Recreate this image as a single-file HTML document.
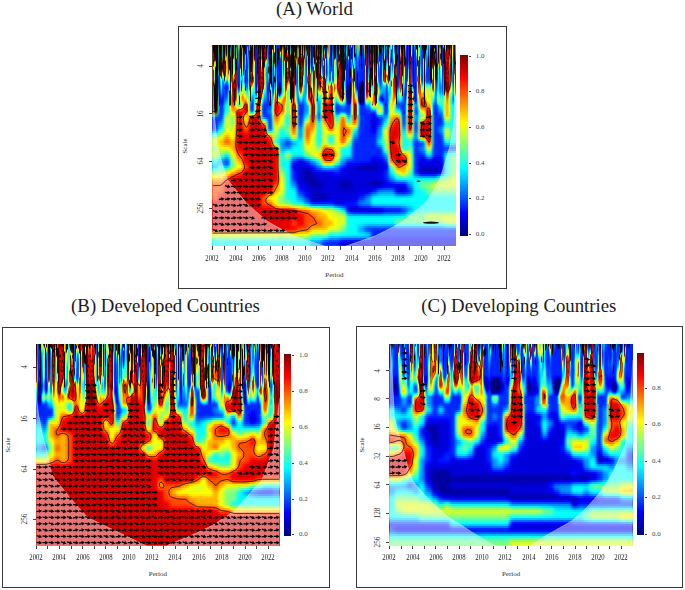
<!DOCTYPE html><html><head><meta charset="utf-8"><style>
*{margin:0;padding:0}
html,body{width:685px;height:590px;background:#fff;overflow:hidden;position:relative;font-family:"Liberation Serif",serif}
.box{position:absolute;border:1.4px solid #3a3a3a;box-sizing:border-box}
.title{position:absolute;width:300px;text-align:center;font-size:18.8px;line-height:20px;color:#1c1c1c;white-space:nowrap}
.hm{position:absolute;overflow:hidden;filter:blur(0.35px)}
.tb{position:absolute;left:0;top:0;width:100%;display:flex}
.tb b{flex:1;background:linear-gradient(var(--g));margin-right:-0.3px}
.rw{position:absolute;left:0;right:0;bottom:0;display:flex;flex-direction:column}
.rw i{flex:1;display:block;background:linear-gradient(90deg,var(--g));margin-bottom:-0.4px}
.cb{position:absolute}
.tk{position:absolute;background:#444}
.cbl{position:absolute;font-size:7px;line-height:9px;color:#444}
.yl{position:absolute;width:20px;height:10px;text-align:center;font-size:7.2px;line-height:10px;color:#333;transform:rotate(-90deg)}
.xl{position:absolute;width:30px;text-align:center;font-size:8.4px;line-height:10px;color:#222;transform:scaleX(0.8)}
.axl{position:absolute;width:40px;text-align:center;font-size:7px;line-height:9px;color:#333}
.yax{position:absolute;width:40px;height:10px;text-align:center;font-size:7px;line-height:10px;color:#333;transform:rotate(-90deg)}
svg{position:absolute;left:0;top:0}
</style></head><body>
<svg width="0" height="0" style="position:absolute"><defs><g id="ar"><path d="M-2.8,0 L0.4,0" stroke="#000" stroke-width="1.3"/><path d="M-0.2,-1.9 L3,0 L-0.2,1.9Z" fill="#000"/></g><use id="ar0" href="#ar" transform="rotate(-10)"/><use id="ar1" href="#ar" transform="rotate(0)"/><use id="ar2" href="#ar" transform="rotate(8)"/><use id="ar3" href="#ar" transform="rotate(18)"/></defs></svg>
<div class="box" style="left:177.8px;top:26.3px;width:329.4px;height:262.4px"></div>
<div class="title" style="left:164.4px;top:-1.2px">(A) World</div>
<div class="hm" style="left:212.4px;top:44.8px;width:244.0px;height:201.4px">
<div class="tb" style="height:70.1px"><b style="--g:#100,#300 16px,#800 33px,#800 36px,#900 37px,#300 40px,#100 42px,#100 64px,#200 66px,#300 67px,#530 68px,#770 69px,#594"></b><b style="--g:#001,#011 7px,#153 10px,#043 13px,#022 14px,#011 15px,#011 19px,#055 21px,#2fd 22px,#4fb 24px,#254 25px,#121 26px,#111 27px,#110 35px,#100 42px,#100 63px,#200 66px,#300 67px,#530 68px,#770 69px,#594"></b><b style="--g:#100,#300 12px,#410 14px,#420 16px,#ea0 17px,#ee0 19px,#df1 21px,#8f7 29px,#5f9 34px,#6e8 35px,#890 38px,#430 40px,#310 41px,#110 43px,#100 63px,#200 66px,#300 67px,#530 68px,#770 69px,#594"></b><b style="--g:#110,#110 9px,#110 14px,#263 16px,#4ea 17px,#3fc 21px,#175 22px,#033 23px,#011 25px,#011 36px,#110 40px,#100 64px,#200 66px,#310 67px,#530 68px,#770 69px,#495"></b><b style="--g:#011,#001 31px,#014 34px,#001 36px,#011 39px,#110 42px,#110 46px,#210 47px,#200 55px,#200 65px,#420 67px,#540 68px,#672 69px,#396"></b><b style="--g:#001,#001 35px,#011 39px,#110 53px,#320 54px,#210 55px,#530 56px,#430 57px,#540 58px,#550 65px,#650 66px,#661 67px,#583 68px,#0ba"></b><b style="--g:#451,#682 3px,#099 10px,#165 22px,#176 23px,#099 25px,#0bc 27px,#0be 28px,#08f 30px,#04f 33px,#03e 37px,#05b 42px,#0bb 53px,#3b8 61px,#2b9 65px,#0bc 68px,#08d"></b><b style="--g:#001,#001 29px,#015 30px,#04f 31px,#03f 32px,#01e 40px,#00e 47px,#005 48px,#001 49px,#001 59px,#012 60px,#07e 61px,#07e 66px,#04f"></b><b style="--g:#100,#400 16px,#200 22px,#500 25px,#700 28px,#710 30px,#730 31px,#fc0 32px,#cf3 33px,#6f9 34px,#2fd 35px,#0ef 36px,#0cf 38px,#02f 52px,#00f 55px,#01f 58px,#03f 61px,#03f"></b><b style="--g:#100,#320 10px,#400 16px,#200 22px,#500 25px,#700 30px,#710 31px,#840 33px,#fb0 34px,#ff0 35px,#4fb 41px,#0ef 44px,#05f 51px,#01f 56px,#01f 58px,#03f 61px,#03f"></b><b style="--g:#594,#495 4px,#0aa 8px,#0aa 10px,#0aa 11px,#374 14px,#451 16px,#440 18px,#320 22px,#430 23px,#970 26px,#db0 28px,#ee0 29px,#df2 30px,#0ff 33px,#0af 35px,#09f 36px,#06f 46px,#01f 55px,#01f 58px,#04f 61px,#05f"></b><b style="--g:#100,#100 11px,#100 12px,#410 13px,#500 22px,#610 27px,#740 30px,#fd0 31px,#cf3 32px,#2fd 34px,#0ef 35px,#09f 37px,#05f 41px,#02f 53px,#03f 57px,#07f 61px,#07f 66px,#09f"></b><b style="--g:#100,#300 15px,#900 16px,#900 17px,#400 18px,#900 19px,#900 23px,#c00 27px,#400 28px,#200 29px,#110 34px,#231 35px,#263 36px,#1fe 37px,#09f 39px,#07f 40px,#04f 42px,#04f 44px,#05f 54px,#0bf 61px,#0bf 66px,#0ef 69px,#1fe"></b><b style="--g:#04a,#06a 5px,#08b 7px,#0bb 9px,#4c8 11px,#ad2 13px,#dc0 14px,#da0 15px,#420 16px,#510 21px,#610 26px,#720 29px,#740 31px,#fb0 32px,#fe0 33px,#df2 34px,#2fd 36px,#0cf 37px,#08f 38px,#04f 40px,#02f 42px,#01f 44px,#05f 53px,#0df 61px,#0ff 66px,#0ff 67px,#5fa"></b><b style="--g:#110,#110 9px,#550 11px,#cc1 12px,#dd0 15px,#fb0 22px,#fd0 26px,#ff0 29px,#8f7 33px,#2fd 35px,#0cf 36px,#09f 37px,#04f 39px,#02f 41px,#01f 43px,#01f 45px,#07f 53px,#0ef 60px,#0ff 65px,#2fd 67px,#7f8"></b><b style="--g:#385,#2a8 3px,#0cb 9px,#0ce 16px,#0ef 20px,#4fb 29px,#3fc 32px,#1fd 34px,#0ef 35px,#09f 37px,#05f 39px,#03f 41px,#02f 43px,#0af 54px,#0ff 59px,#2fd 66px,#8f7"></b><b style="--g:#100,#400 15px,#750 29px,#fb0 30px,#fe0 34px,#df2 35px,#1fe 38px,#0cf 39px,#0af 40px,#07f 42px,#08f 44px,#0df 49px,#0ff 54px,#3fc 59px,#3fc 66px,#8f7"></b><b style="--g:#100,#410 13px,#100 14px,#110 24px,#540 25px,#fc0 26px,#ff0 33px,#df2 35px,#3fc 39px,#1fe 40px,#0ff 41px,#0ef 42px,#0ff 44px,#1fe 45px,#022 46px,#011 47px,#111 60px,#8f7 61px,#8f7 66px,#9f5"></b><b style="--g:#011,#035 2px,#06a 3px,#099 7px,#396 9px,#396 10px,#011 13px,#011 23px,#011 36px,#011 41px,#132 45px,#111 46px,#110 59px,#220 60px,#fe0 61px,#ff0 63px,#bf4"></b><b style="--g:#06a,#038 10px,#02e 17px,#03f 28px,#04f 32px,#06f 35px,#08f 36px,#0ef 38px,#2fd 39px,#9f6 41px,#bf4 42px,#ef1 44px,#ff0 46px,#fb0 50px,#d90 51px,#f70 55px,#f60 58px,#fb0 64px,#ff0 68px,#cf3"></b><b style="--g:#100,#200 10px,#100 11px,#110 29px,#540 30px,#750 31px,#840 34px,#a00 41px,#d30 50px,#f30 51px,#f20 56px,#f40 59px,#f60 61px,#fb0 66px,#fe0 68px,#ef1 69px,#df2"></b><b style="--g:#110,#310 10px,#420 13px,#c90 14px,#dd0 15px,#ae5 17px,#6f8 19px,#4fb 21px,#3fc 22px,#5fa 24px,#ff0 29px,#f30 36px,#910 37px,#900 39px,#f00 40px,#f00 43px,#f30 48px,#f30 58px,#fa0 66px,#ff0 69px,#df2"></b><b style="--g:#0aa,#2a8 4px,#584 8px,#682 10px,#6a3 12px,#5e9 16px,#4fb 21px,#5fa 23px,#ef1 27px,#fd0 28px,#fb0 29px,#740 30px,#740 31px,#f60 32px,#f10 36px,#f00 38px,#d00 42px,#600 43px,#400 45px,#100 46px,#100 59px,#110 60px,#f80 61px,#fa0 66px,#ff0"></b><b style="--g:#100,#200 6px,#100 7px,#100 23px,#500 27px,#500 29px,#c00 30px,#c00 32px,#600 33px,#c00 34px,#c00 37px,#a00 41px,#a00 43px,#f00 50px,#f20 54px,#fb0 60px,#fc0 61px,#f80 66px,#f80 68px,#fa0"></b><b style="--g:#143,#264 2px,#4a6 4px,#8b3 9px,#bb0 11px,#d90 13px,#420 14px,#410 17px,#100 18px,#100 23px,#100 24px,#620 26px,#a30 40px,#c60 48px,#e60 53px,#f80 55px,#ff0 58px,#ef1 59px,#cf3 60px,#df2 61px,#ff0 62px,#f70 65px,#f40 67px,#f50"></b><b style="--g:#08a,#03b 6px,#02c 9px,#03f 17px,#03f 37px,#04f 39px,#06f 41px,#0df 45px,#0ff 46px,#cf3 51px,#ff0 53px,#ff0 55px,#8f7 59px,#8f7 60px,#9f6 61px,#cf3 62px,#ff0 63px,#f70 65px,#f20 67px,#f10 68px,#f00"></b><b style="--g:#8b2,#7b4 3px,#4b7 5px,#1bb 7px,#0ac 8px,#08c 10px,#08f 16px,#05f 20px,#03f 24px,#02f 36px,#00f 40px,#01f 42px,#03f 44px,#07f 46px,#0cf 48px,#0ff 49px,#8f7 52px,#bf4 54px,#af5 56px,#5fa 59px,#5f9 60px,#7f8 61px,#af5 62px,#ff0 63px,#f60 65px,#f30 66px,#f00 67px,#d00"></b><b style="--g:#2b9,#0ba 2px,#05b 6px,#03c 9px,#03f 17px,#02f 39px,#03f 41px,#05f 43px,#08f 45px,#0ff 48px,#4fb 50px,#242 51px,#121 52px,#110 53px,#011 58px,#011 59px,#5fa 60px,#7f8 61px,#af5 62px,#ff0 63px,#f60 65px,#f30 66px,#f00 67px,#d00 69px,#d00"></b><b style="--g:#100,#400 16px,#520 21px,#630 23px,#fb0 24px,#fe0 25px,#ef1 26px,#bf4 27px,#5fa 30px,#3fc 32px,#0ff 35px,#0ef 37px,#1fe 39px,#ff0 52px,#ff0 54px,#ef1 55px,#5fa 59px,#6f9 60px,#7f8 61px,#bf4 62px,#ff0 63px,#f60 65px,#f30 66px,#f00 67px,#d00 69px,#d00"></b><b style="--g:#09b,#09b 2px,#022 3px,#011 4px,#011 11px,#110 18px,#011 27px,#144 29px,#066 30px,#066 31px,#0ef 32px,#0df 35px,#056 36px,#033 37px,#011 39px,#111 43px,#121 44px,#451 45px,#561 46px,#ef1 47px,#ff0 48px,#fc0 51px,#fb0 53px,#fb0 54px,#fe0 56px,#9f6 59px,#8f7 60px,#af5 61px,#df2 62px,#fd0 63px,#f50 65px,#f00 67px,#e00"></b><b style="--g:#110,#110 2px,#b80 3px,#bb0 7px,#ac2 10px,#dd0 13px,#fd0 16px,#fe0 18px,#ff0 19px,#0ff 30px,#0ef 31px,#0bf 35px,#0bf 36px,#0ef 38px,#1fe 39px,#9f6 43px,#ff0 47px,#fb0 50px,#d90 51px,#e80 53px,#f90 55px,#fe0 58px,#ef1 60px,#ff0 61px,#fc0 62px,#f40 65px,#f20 66px,#f00 68px,#f20"></b><b style="--g:#100,#500 19px,#630 27px,#750 30px,#fd0 31px,#ff0 32px,#af5 34px,#8f7 36px,#8f7 37px,#df2 41px,#ff0 44px,#fb0 51px,#d90 52px,#f90 55px,#f90 59px,#f60 62px,#f10 65px,#f10 66px,#f20 68px,#f50"></b><b style="--g:#001,#001 3px,#013 5px,#017 6px,#02b 7px,#04f 16px,#05f 22px,#09f 29px,#07f 34px,#07f 36px,#08f 37px,#0ff 40px,#6f9 43px,#ff0 51px,#f60 58px,#f10 61px,#f00 64px,#f00 66px,#f10 67px,#f70"></b><b style="--g:#110,#210 4px,#110 8px,#330 9px,#cc0 10px,#8d5 13px,#1fe 18px,#0bf 22px,#0af 24px,#057 25px,#011 26px,#001 36px,#011 45px,#6f9 46px,#ff0 52px,#f60 57px,#f00 60px,#e00 61px,#e00 64px,#f00 66px,#f10 67px,#f80"></b><b style="--g:#01b,#02c 9px,#02f 17px,#03f 38px,#05f 41px,#0ef 46px,#1fe 47px,#fe0 54px,#f10 60px,#f00 61px,#f10 66px,#f90"></b><b style="--g:#110,#b70 2px,#bb0 4px,#0cc 10px,#07e 14px,#05f 18px,#04f 22px,#04f 27px,#03f 34px,#03f 38px,#06f 41px,#0ff 48px,#ff0 56px,#f50 60px,#f40 61px,#f40 66px,#fa0"></b><b style="--g:#04b,#04b 5px,#06b 9px,#0af 16px,#0bf 22px,#0ff 26px,#2fd 29px,#0ff 33px,#0df 36px,#0ff 38px,#4fb 42px,#8f7 54px,#bf4 57px,#ff0 60px,#fe0 61px,#fe0 66px,#fc0"></b><b style="--g:#2a9,#4a7 2px,#aa0 5px,#220 6px,#300 9px,#600 30px,#900 38px,#a20 41px,#b70 45px,#fc0 46px,#ff0 48px,#9f6 52px,#6f9 55px,#3fc 58px,#2fd 61px,#3fc 64px,#4fb 66px,#6f9 67px,#cf3 69px,#fe0"></b><b style="--g:#110,#100 7px,#200 9px,#500 27px,#c00 28px,#c00 32px,#600 33px,#c00 34px,#d00 38px,#e00 40px,#500 41px,#100 42px,#110 48px,#011 55px,#045 56px,#0cf 57px,#08f 60px,#07f 63px,#08f 65px,#0af 66px,#0df 67px,#2fd 68px,#8f7 69px,#ef1"></b><b style="--g:#0aa,#034 2px,#011 3px,#011 20px,#110 27px,#f80 28px,#f50 30px,#f30 32px,#810 33px,#f10 34px,#f10 36px,#f20 37px,#920 38px,#f50 39px,#a40 40px,#a60 41px,#fc0 42px,#ef1 44px,#1fe 51px,#0ef 52px,#05f 58px,#04f 60px,#03f 63px,#04f 65px,#06f 66px,#0af 67px,#0ff 68px,#6f9 69px,#df2"></b><b style="--g:#100,#400 15px,#630 23px,#810 34px,#f20 35px,#f30 37px,#930 38px,#950 39px,#fb0 40px,#fe0 41px,#ef1 42px,#9f6 44px,#0ff 49px,#0df 50px,#08f 54px,#05f 57px,#03f 59px,#03f 63px,#04f 65px,#06f 66px,#0af 67px,#0ff 68px,#6f8 69px,#df2"></b><b style="--g:#5b5,#5a5 3px,#692 8px,#682 10px,#6a4 12px,#2ed 16px,#1fe 17px,#1fe 19px,#2fd 21px,#4fb 23px,#ff0 28px,#fb0 31px,#850 32px,#840 34px,#850 36px,#960 37px,#fc0 38px,#ff0 39px,#8f7 42px,#0ff 48px,#08f 55px,#07f 59px,#08f 65px,#0af 66px,#0df 67px,#3fc 68px,#9f6 69px,#ff0"></b><b style="--g:#100,#100 7px,#300 8px,#300 10px,#420 15px,#eb0 16px,#ff0 18px,#bf4 21px,#af5 23px,#cf3 30px,#bf4 34px,#9f6 36px,#2fd 41px,#0ff 45px,#0ef 50px,#0ff 57px,#3fc 61px,#4fb 65px,#5fa 66px,#7f8 67px,#ff0 69px,#fa0"></b><b style="--g:#02b,#02b 10px,#03f 17px,#03f 41px,#05f 45px,#07f 47px,#0ef 52px,#1fe 53px,#fe0 60px,#fd0 61px,#fd0 64px,#fc0 66px,#f40"></b><b style="--g:#002,#015 2px,#01c 5px,#02c 6px,#02f 17px,#02f 36px,#00f 39px,#00e 42px,#00f 44px,#01f 46px,#04f 48px,#08f 50px,#0ef 52px,#2fd 53px,#ff0 57px,#fc0 58px,#f50 60px,#f30 61px,#f20 66px,#f00"></b><b style="--g:#04a,#03c 3px,#02c 7px,#02e 12px,#016 13px,#001 15px,#001 21px,#003 22px,#002 23px,#014 24px,#002 26px,#002 27px,#015 28px,#016 29px,#03f 30px,#03f 36px,#04f 38px,#0ef 45px,#1fe 46px,#4fb 48px,#ef1 53px,#fe0 54px,#fc0 55px,#f00 60px,#e00 61px,#d00"></b><b style="--g:#100,#110 9px,#320 10px,#500 18px,#700 36px,#600 45px,#e00 61px,#d00"></b><b style="--g:#200,#400 2px,#300 3px,#700 4px,#900 5px,#a00 6px,#a00 7px,#300 8px,#a00 9px,#a00 11px,#300 12px,#400 14px,#b00 15px,#b00 17px,#400 18px,#b00 19px,#b00 36px,#700 39px,#700 56px,#800 57px,#d00 59px,#f10 60px,#f30 61px,#f30"></b><b style="--g:#100,#400 21px,#c00 22px,#500 23px,#c00 24px,#c00 32px,#600 33px,#c00 34px,#b00 37px,#700 41px,#700 51px,#800 52px,#a00 54px,#e00 56px,#f10 57px,#f70 59px,#fb0 60px,#fd0 61px,#fd0"></b><b style="--g:#028,#039 2px,#06d 5px,#0ae 8px,#0de 10px,#1ed 11px,#6e9 14px,#ff0 19px,#fa0 22px,#f30 27px,#610 28px,#f10 29px,#e00 32px,#700 33px,#d00 34px,#d00 37px,#700 38px,#c00 39px,#c00 43px,#f00 46px,#f10 47px,#c20 48px,#d70 52px,#fb0 54px,#ff0 56px,#bf4 58px,#5fa 60px,#3fc 61px,#3fc"></b><b style="--g:#100,#500 24px,#c00 25px,#c00 27px,#500 28px,#c00 29px,#c00 31px,#600 32px,#600 34px,#c00 35px,#c00 37px,#700 38px,#b00 39px,#b00 41px,#a00 42px,#d00 43px,#f00 44px,#b20 45px,#c60 47px,#fb0 48px,#fd0 49px,#ef1 50px,#1fe 57px,#0ef 58px,#09f 60px,#07f 61px,#08f"></b><b style="--g:#c00,#c00 3px,#100 4px,#100 38px,#200 40px,#a30 42px,#b70 44px,#fd0 45px,#ef1 46px,#8f7 48px,#6f9 49px,#0ff 53px,#04f 60px,#03f 61px,#03f"></b><b style="--g:#100,#100 3px,#b00 4px,#b00 7px,#300 8px,#b00 9px,#b00 11px,#300 12px,#400 14px,#d00 15px,#400 16px,#540 22px,#fc0 23px,#ff0 26px,#df2 29px,#ff0 33px,#fd0 37px,#ff0 40px,#df2 42px,#3fc 46px,#0ff 48px,#03f 60px,#02f"></b><b style="--g:#ec0,#eb0 2px,#e30 9px,#e30 11px,#e70 14px,#430 15px,#fc0 16px,#fe0 17px,#4fb 23px,#1fe 27px,#1fe 30px,#6f9 36px,#7f8 40px,#6f9 42px,#0ff 46px,#03f 60px,#03f"></b><b style="--g:#100,#300 10px,#420 14px,#eb0 15px,#ee0 16px,#7f7 18px,#1fd 20px,#0ef 21px,#0bf 23px,#09f 27px,#09f 30px,#0af 35px,#0af 43px,#07f 53px,#03f 60px,#04f 66px,#03f"></b><b style="--g:#011,#08e 6px,#09f 10px,#0ee 16px,#0de 18px,#08f 26px,#07f 34px,#02f 42px,#03f 51px,#03f 60px,#05f 66px,#04f"></b><b style="--g:#06f,#03f 7px,#03f 11px,#05e 14px,#09e 18px,#0bf 21px,#056 22px,#034 23px,#034 24px,#012 25px,#011 26px,#022 27px,#056 28px,#0df 29px,#0cf 33px,#04f 39px,#02f 41px,#01f 43px,#03f 50px,#03f 60px,#07f 66px,#05f"></b><b style="--g:#110,#110 8px,#320 10px,#400 15px,#500 24px,#810 32px,#100 34px,#110 37px,#011 39px,#011 45px,#012 46px,#047 47px,#09f 48px,#09f 50px,#06f 56px,#026 57px,#015 58px,#001 59px,#001 60px,#04f 61px,#07f 66px,#05f"></b><b style="--g:#027,#001 2px,#011 11px,#110 13px,#100 16px,#500 20px,#300 22px,#100 23px,#100 36px,#100 37px,#420 38px,#660 39px,#af5 40px,#5fa 41px,#2fd 42px,#1fe 44px,#055 45px,#011 46px,#001 60px,#05f 61px,#08f 66px,#06f"></b><b style="--g:#100,#100 36px,#110 40px,#121 41px,#264 42px,#3fc 43px,#3fc 47px,#0ff 51px,#0af 56px,#08f 59px,#0cf 66px,#09f"></b><b style="--g:#100,#210 4px,#fb0 5px,#fe0 6px,#df2 7px,#7f7 9px,#6f9 10px,#5e9 11px,#6c6 15px,#5c6 16px,#4c7 17px,#0dc 19px,#0cd 20px,#0af 22px,#09f 24px,#09f 34px,#04f 40px,#03f 42px,#04f 44px,#09f 49px,#0ff 59px,#3fc 61px,#6f9 66px,#3fc"></b><b style="--g:#02f,#02e 10px,#018 16px,#019 17px,#02f 23px,#02f 36px,#01f 38px,#00d 42px,#00f 45px,#03f 47px,#0ef 52px,#1fe 53px,#af4 58px,#ff0 60px,#fd0 61px,#fc0 66px,#ff0"></b><b style="--g:#cf3,#df2 3px,#ff0 5px,#fc0 7px,#320 8px,#410 15px,#520 18px,#970 19px,#bb0 20px,#5e9 22px,#3fc 23px,#1fe 24px,#0ff 26px,#0cf 31px,#023 32px,#011 33px,#011 35px,#011 36px,#023 37px,#09f 38px,#0af 41px,#0bf 42px,#0ff 44px,#9f6 48px,#ff0 51px,#fb0 54px,#f40 61px,#f30 66px,#f60"></b><b style="--g:#100,#400 18px,#700 32px,#500 33px,#300 35px,#400 37px,#910 38px,#a40 43px,#f00 55px,#f00 66px,#f30"></b><b style="--g:#03f,#04f 6px,#06e 10px,#07a 13px,#065 16px,#066 17px,#079 19px,#07c 21px,#07f 23px,#0ff 38px,#1fe 40px,#4fb 42px,#df2 46px,#ff0 47px,#fb0 49px,#d80 50px,#e50 53px,#f30 55px,#f00 59px,#e00 61px,#f00 67px,#f20"></b><b style="--g:#02f,#02f 3px,#003 4px,#001 5px,#001 18px,#002 19px,#015 20px,#02d 21px,#02f 23px,#02f 25px,#016 26px,#014 27px,#014 28px,#001 30px,#001 43px,#011 49px,#110 53px,#100 60px,#e00 61px,#f00 67px,#f30"></b><b style="--g:#02f,#02f 2px,#015 3px,#002 4px,#001 5px,#001 13px,#014 14px,#019 15px,#019 17px,#02f 23px,#02f 36px,#01f 37px,#00e 38px,#00b 41px,#00a 43px,#00b 45px,#00e 47px,#01f 48px,#04f 49px,#0df 51px,#2fd 52px,#bf4 54px,#ef1 55px,#fd0 56px,#f20 60px,#f10 61px,#f10 66px,#f50"></b><b style="--g:#02f,#02e 9px,#02b 16px,#02f 23px,#02f 36px,#01f 37px,#00f 38px,#00c 40px,#00a 43px,#00a 45px,#00c 47px,#005 48px,#002 49px,#001 50px,#023 51px,#0ef 52px,#8f7 54px,#ef1 56px,#fa0 58px,#f40 60px,#f20 61px,#f30 66px,#f80"></b><b style="--g:#100,#210 6px,#eb0 7px,#ee0 8px,#ae4 9px,#1ed 11px,#0be 12px,#08e 13px,#05e 14px,#03d 16px,#02e 19px,#02f 27px,#02f 36px,#00e 40px,#006 41px,#003 42px,#001 44px,#002 45px,#001 46px,#003 47px,#006 48px,#03f 49px,#0bf 51px,#1fe 52px,#af5 54px,#ff0 56px,#fb0 58px,#f50 60px,#f40 61px,#f40 66px,#fa0"></b><b style="--g:#001,#001 3px,#02c 5px,#03e 6px,#03e 7px,#02e 16px,#02f 23px,#03f 43px,#05f 47px,#07f 48px,#0df 50px,#3fc 51px,#bf4 53px,#ef1 54px,#fe0 55px,#f40 61px,#f50 66px,#fb0"></b><b style="--g:#220,#550 2px,#ec0 6px,#ec0 7px,#ec0 9px,#de1 12px,#8e6 15px,#5e9 17px,#2fd 22px,#2fd 24px,#4fb 30px,#4fb 35px,#3fc 37px,#0ff 41px,#0ef 45px,#0ff 47px,#1fe 48px,#3fc 49px,#df2 52px,#fe0 53px,#fa0 55px,#f50 61px,#f60 66px,#fc0"></b><b style="--g:#012,#025 2px,#07e 6px,#07e 7px,#07e 10px,#04e 16px,#05f 22px,#07f 26px,#0ff 34px,#3fc 37px,#3fc 45px,#4fb 47px,#8f7 49px,#ef1 51px,#fd0 52px,#ea0 53px,#f70 55px,#f70 63px,#f70 66px,#fd0"></b><b style="--g:#100,#300 12px,#420 15px,#ea0 16px,#ee0 17px,#5f9 20px,#2fd 22px,#2fd 23px,#3fc 25px,#9f6 29px,#cf3 34px,#ef1 37px,#df2 46px,#df1 48px,#ff0 49px,#fb0 51px,#d80 52px,#f70 53px,#f60 55px,#fb0 61px,#fb0 65px,#fc0 67px,#ff0 69px,#df2"></b><b style="--g:#e10,#e10 2px,#300 3px,#d00 4px,#100 5px,#100 11px,#200 12px,#b00 13px,#c00 15px,#400 16px,#500 22px,#600 33px,#a00 41px,#a10 43px,#c70 48px,#e70 53px,#f90 55px,#ef1 60px,#ef1 61px,#df2 66px,#9f6"></b><b style="--g:#110,#100 7px,#500 8px,#c00 9px,#c00 12px,#300 13px,#500 23px,#d00 24px,#c00 27px,#500 28px,#c00 29px,#c00 32px,#600 33px,#c00 34px,#d00 37px,#800 38px,#d00 39px,#900 40px,#a00 41px,#a30 43px,#b60 45px,#fc0 46px,#fe0 47px,#ef1 48px,#df2 50px,#cf3 55px,#9f6 61px,#9f6 66px,#5fa"></b><b style="--g:#231,#672 3px,#bc0 5px,#dc0 6px,#d80 8px,#d60 10px,#530 11px,#430 12px,#440 13px,#230 15px,#341 16px,#9e5 17px,#cf3 20px,#ff0 22px,#fc0 23px,#f60 25px,#f10 27px,#600 28px,#f00 29px,#f00 30px,#f00 31px,#710 32px,#820 34px,#f40 35px,#f70 38px,#960 39px,#fb0 40px,#ff0 42px,#6f9 46px,#4fb 48px,#4fb 50px,#7f8 55px,#8f7 63px,#8f7 66px,#4fb"></b><b style="--g:#100,#200 7px,#300 8px,#b00 9px,#c00 12px,#300 13px,#520 20px,#620 23px,#f50 24px,#f20 26px,#600 27px,#700 29px,#f00 30px,#f80 37px,#fe0 41px,#ef1 42px,#7f8 46px,#5fa 48px,#9f6 54px,#9f6 57px,#8f7 61px,#8f7 66px,#4fb"></b><b style="--g:#100,#300 11px,#600 24px,#600 28px,#800 32px,#950 38px,#fb0 39px,#fe0 41px,#ef1 42px,#6f9 46px,#5fa 48px,#6f9 50px,#9f6 54px,#bf4 58px,#af5 66px,#7f8"></b><b style="--g:#07d,#08d 3px,#0cc 6px,#5c7 9px,#363 10px,#121 11px,#011 21px,#055 22px,#066 23px,#1fe 24px,#3fc 25px,#264 26px,#253 27px,#363 28px,#253 30px,#133 31px,#022 33px,#022 35px,#011 37px,#011 53px,#132 54px,#8f7 55px,#ff0 60px,#fe0 64px,#ff0 68px,#ef1"></b><b style="--g:#001,#011 48px,#110 57px,#650 58px,#fa0 59px,#f70 61px,#f60 66px,#f70"></b><b style="--g:#100,#100 31px,#100 32px,#400 34px,#500 35px,#400 36px,#100 39px,#110 52px,#320 53px,#f70 54px,#f60 57px,#f10 61px,#f10"></b><b style="--g:#100,#100 30px,#500 32px,#c00 33px,#c00 34px,#c00 36px,#500 37px,#100 40px,#100 60px,#e00 61px,#d00"></b><b style="--g:#011,#011 6px,#242 7px,#693 8px,#881 9px,#870 10px,#320 11px,#400 17px,#900 37px,#c40 48px,#f60 54px,#f50 57px,#f10 60px,#e00 61px,#d00"></b><b style="--g:#110,#011 11px,#033 12px,#056 13px,#09b 14px,#046 15px,#035 17px,#012 18px,#011 19px,#011 37px,#034 39px,#044 40px,#0ff 41px,#5fa 45px,#bf4 52px,#ef1 55px,#fe0 56px,#f40 61px,#f30"></b><b style="--g:#100,#420 13px,#a70 14px,#ba0 16px,#bc1 17px,#2dc 20px,#0de 21px,#08f 24px,#07f 27px,#05f 37px,#0ff 51px,#3fc 54px,#6f9 56px,#af5 58px,#ff0 60px,#fe0 61px,#fd0"></b><b style="--g:#122,#253 2px,#397 4px,#2a8 5px,#0aa 8px,#0aa 11px,#286 14px,#286 16px,#099 18px,#06d 21px,#04f 24px,#05f 37px,#08f 46px,#09f 54px,#0bf 56px,#0ff 59px,#1fe 60px,#2fd 61px,#3fc"></b><b style="--g:#221,#451 2px,#792 4px,#7b4 9px,#9b1 11px,#980 12px,#420 13px,#410 15px,#410 17px,#530 19px,#ba0 20px,#ad2 21px,#8e6 22px,#7f8 23px,#6f9 24px,#9f6 31px,#9f6 36px,#0ff 46px,#07f 53px,#06f 55px,#06f 58px,#07f 62px,#07f"></b><b style="--g:#100,#300 12px,#500 15px,#500 17px,#400 18px,#700 19px,#400 20px,#700 38px,#a00 42px,#b30 44px,#b80 46px,#fd0 47px,#df2 48px,#1fe 52px,#0df 53px,#08f 56px,#03f 60px,#03f"></b><b style="--g:#100,#300 11px,#700 12px,#500 15px,#400 19px,#800 20px,#b00 22px,#400 23px,#c00 24px,#c00 32px,#600 33px,#c00 34px,#c00 36px,#a00 39px,#900 41px,#b00 43px,#e00 45px,#f10 46px,#c30 47px,#c60 48px,#fb0 49px,#ff0 50px,#7f8 52px,#1fe 54px,#0df 55px,#03f 60px,#02f 61px,#02f"></b><b style="--g:#198,#4a6 4px,#7b4 8px,#9c3 9px,#bb0 10px,#a40 12px,#810 13px,#700 14px,#500 16px,#700 18px,#e00 22px,#600 23px,#f00 24px,#e00 27px,#600 28px,#d00 29px,#c00 32px,#600 33px,#c00 34px,#c00 37px,#700 38px,#c00 39px,#d00 42px,#a00 43px,#b20 45px,#c60 47px,#fb0 48px,#fe0 49px,#0ff 54px,#03f 60px,#02f 61px,#02f"></b><b style="--g:#100,#300 11px,#a00 12px,#400 13px,#700 14px,#500 16px,#800 18px,#b20 20px,#e60 22px,#f70 23px,#f80 24px,#f40 30px,#710 31px,#810 36px,#930 39px,#a70 42px,#fc0 43px,#fe0 44px,#ef1 45px,#1fe 51px,#0ef 52px,#09f 55px,#03f 60px,#03f"></b><b style="--g:#066,#297 3px,#8b3 7px,#bc0 9px,#b70 11px,#a30 13px,#410 14px,#510 18px,#630 23px,#750 30px,#fb0 31px,#fd0 36px,#ff0 37px,#6f9 41px,#0ff 46px,#07f 55px,#04f 60px,#04f 65px,#06f"></b><b style="--g:#100,#310 8px,#420 13px,#b80 14px,#bc1 17px,#7f8 23px,#4fb 34px,#0ff 38px,#0cf 42px,#0af 54px,#07f 60px,#06f 65px,#09f"></b><b style="--g:#058,#069 3px,#09a 6px,#2ba 9px,#1cc 11px,#0cc 12px,#08d 15px,#07e 17px,#08f 23px,#09f 34px,#08f 42px,#09f 48px,#0cf 54px,#08f 60px,#08f 65px,#0bf"></b><b style="--g:#011,#011 3px,#033 4px,#043 5px,#055 6px,#0aa 7px,#09b 9px,#04d 14px,#03e 17px,#04f 23px,#08f 42px,#0bf 47px,#0ff 51px,#2fd 54px,#0ff 56px,#0af 60px,#09f 62px,#09f 66px,#0cf"></b><b style="--g:#110,#320 10px,#c90 11px,#dc0 12px,#4ea 15px,#2ec 16px,#1ed 17px,#4eb 19px,#bf4 23px,#ff0 27px,#fb0 31px,#850 32px,#840 36px,#950 38px,#fa0 39px,#fe0 42px,#ff0 46px,#ff0 52px,#df2 54px,#9f6 56px,#0ff 59px,#0cf 60px,#0af 61px,#0af 62px,#0af 66px,#0df"></b><b style="--g:#200,#700 4px,#800 7px,#300 8px,#900 9px,#900 10px,#200 11px,#600 31px,#c00 32px,#c00 36px,#600 37px,#600 42px,#800 46px,#d00 51px,#e30 53px,#f50 54px,#fb0 56px,#ff0 57px,#1fe 60px,#0df 61px,#0df 65px,#0ff 68px,#1fd"></b><b style="--g:#110,#400 17px,#500 28px,#c00 29px,#b00 42px,#d00 50px,#f00 53px,#f30 55px,#fc0 58px,#ef1 59px,#af5 60px,#7f8 61px,#7f8 66px,#9f6"></b><b style="--g:#048,#058 4px,#089 7px,#297 10px,#1ba 12px,#09c 14px,#08e 17px,#0bf 20px,#0ef 22px,#1fe 23px,#cf3 26px,#fe0 27px,#fb0 28px,#740 29px,#840 33px,#a60 42px,#c40 48px,#f40 49px,#f20 53px,#f20 55px,#f40 57px,#fc0 61px,#fb0 66px,#fa0"></b><b style="--g:#011,#001 22px,#002 23px,#03f 24px,#06f 26px,#0cf 29px,#0ef 30px,#0ef 36px,#0ff 37px,#9f6 42px,#351 43px,#120 44px,#100 57px,#200 58px,#f20 59px,#f30 61px,#f30"></b><b style="--g:#028,#028 10px,#02e 16px,#03f 22px,#04f 24px,#06f 25px,#08f 26px,#0cf 27px,#1fe 28px,#4fb 29px,#6f9 30px,#7f8 31px,#7f7 36px,#ef1 42px,#ff0 43px,#fb0 47px,#c80 48px,#f90 49px,#f00 59px,#e00"></b><b style="--g:#860,#110 2px,#310 11px,#320 12px,#ba0 13px,#9c3 14px,#4ea 16px,#3ec 17px,#2fd 18px,#4fb 21px,#263 22px,#231 23px,#440 24px,#320 25px,#420 26px,#610 27px,#700 29px,#900 37px,#c30 47px,#f40 48px,#f50 51px,#f30 56px,#f00 60px,#f00"></b><b style="--g:#100,#300 9px,#100 11px,#110 15px,#121 18px,#254 19px,#4fb 20px,#5fa 22px,#7f8 23px,#ff0 25px,#640 26px,#710 29px,#810 33px,#920 39px,#c70 49px,#f90 54px,#f80 57px,#f30 61px,#f30"></b><b style="--g:#188,#049 9px,#03c 13px,#02f 17px,#03f 22px,#05f 26px,#0af 29px,#0cf 31px,#0ef 36px,#0ff 37px,#4fb 40px,#7f8 43px,#9f6 54px,#bf4 56px,#ff0 59px,#fc0 61px,#fc0 66px,#fd0"></b><b style="--g:#100,#300 12px,#410 14px,#430 15px,#fe0 16px,#561 17px,#231 18px,#111 19px,#011 30px,#121 31px,#154 33px,#4fb 34px,#3fc 37px,#4fb 42px,#0ff 51px,#0ef 54px,#077 55px,#1fe 56px,#7f8 61px,#7f8 66px,#4fb"></b><b style="--g:#038,#049 4px,#08c 10px,#045 11px,#012 12px,#011 13px,#110 31px,#110 42px,#220 43px,#463 45px,#353 46px,#153 48px,#011 49px,#011 53px,#023 54px,#012 55px,#046 56px,#0bf 57px,#0df 61px,#0df 64px,#0cf 67px,#0af"></b><b style="--g:#100,#300 15px,#900 38px,#a20 41px,#b60 44px,#fa0 45px,#fd0 46px,#ef1 47px,#0ff 53px,#0cf 55px,#0bf 57px,#0af 60px,#09f 66px,#06f"></b><b style="--g:#300,#400 2px,#300 3px,#700 4px,#900 7px,#300 8px,#a00 9px,#b00 11px,#400 12px,#400 14px,#e00 15px,#f00 16px,#f00 17px,#500 18px,#f10 19px,#f00 27px,#e00 36px,#f00 39px,#f10 41px,#f60 44px,#b60 45px,#fb0 46px,#fd0 47px,#ef1 48px,#4fb 52px,#0ef 54px,#0cf 56px,#0af 60px,#09f 66px,#06f"></b><b style="--g:#100,#200 9px,#100 10px,#100 26px,#200 27px,#500 28px,#600 29px,#600 33px,#d00 34px,#d00 36px,#400 37px,#200 40px,#510 42px,#a30 43px,#b70 45px,#fd0 46px,#ff0 47px,#3fc 52px,#0ff 54px,#0df 57px,#0df 66px,#0af"></b><b style="--g:#019,#019 4px,#03e 11px,#04f 17px,#07f 20px,#0ef 24px,#1fe 25px,#7f8 28px,#ff0 31px,#fc0 32px,#850 33px,#840 34px,#f70 35px,#f60 37px,#f70 39px,#f90 41px,#fd0 44px,#ff0 45px,#7f8 50px,#4fb 52px,#3fc 54px,#3fc 56px,#6f9 60px,#7f8 62px,#7f8 66px,#5fa"></b><b style="--g:#396,#397 4px,#3c9 8px,#3da 9px,#0ee 11px,#09e 13px,#06f 15px,#05f 17px,#05f 19px,#08f 27px,#0bf 29px,#0ef 30px,#3fc 31px,#df2 33px,#fd0 34px,#f90 35px,#f70 36px,#f60 37px,#f60 39px,#f70 42px,#a50 43px,#b80 46px,#fb0 47px,#ff0 51px,#ef1 54px,#ff0 57px,#fb0 61px,#fb0 66px,#fc0"></b><b style="--g:#970,#110 2px,#300 10px,#420 15px,#fb0 16px,#fc0 18px,#fa0 20px,#530 21px,#630 27px,#700 31px,#700 34px,#c00 35px,#c00 36px,#700 37px,#700 39px,#b00 40px,#c00 43px,#d00 46px,#a00 47px,#c00 49px,#f30 55px,#f20 61px,#f20"></b><b style="--g:#001,#001 2px,#06a 4px,#09a 5px,#2b9 6px,#dd0 8px,#d90 9px,#e60 10px,#e50 11px,#f50 13px,#420 14px,#420 17px,#700 29px,#600 33px,#c00 34px,#900 44px,#d00 61px,#d00"></b><b style="--g:#110,#300 10px,#420 13px,#fd0 14px,#bf3 15px,#7f7 16px,#5fa 17px,#3fc 18px,#0ff 22px,#0df 27px,#0ff 29px,#3fc 30px,#ef1 32px,#fb0 33px,#840 34px,#820 36px,#d20 50px,#d20 52px,#f10 53px,#f00 56px,#c00 61px,#c00"></b><b style="--g:#002,#015 2px,#029 4px,#03e 10px,#02f 16px,#03f 30px,#06f 33px,#0df 37px,#1fe 38px,#5fa 40px,#9f6 42px,#ef1 48px,#ff0 49px,#fc0 52px,#ea0 53px,#f90 54px,#f80 55px,#f10 59px,#d00 60px,#c00 61px,#c00"></b><b style="--g:#035,#057 2px,#09a 4px,#0ba 5px,#8e6 9px,#9e5 10px,#8e6 11px,#1fd 14px,#0ef 15px,#0df 16px,#0bf 18px,#08f 28px,#0af 30px,#0ff 33px,#bf4 39px,#ef1 41px,#ff0 49px,#fd0 52px,#f90 55px,#f10 59px,#e00 60px,#c00 61px,#d00"></b><b style="--g:#a70,#a80 4px,#da0 8px,#fe0 11px,#5f9 15px,#3fc 17px,#0fe 21px,#0ff 27px,#0ff 30px,#4fb 34px,#8f7 36px,#df1 38px,#fe0 39px,#fb0 40px,#a60 41px,#a60 43px,#b80 45px,#fb0 46px,#fb0 49px,#fa0 51px,#d90 52px,#f80 54px,#f40 57px,#f10 59px,#d00 60px,#c00 61px,#d00"></b><b style="--g:#aa0,#9a1 2px,#7b3 4px,#5c7 6px,#0ee 9px,#0df 10px,#08f 13px,#05f 16px,#04f 21px,#04f 27px,#06f 34px,#08f 36px,#0cf 37px,#1fe 38px,#cf3 40px,#fe0 41px,#fb0 42px,#fa0 43px,#fa0 45px,#b70 46px,#d70 51px,#f70 52px,#e00 59px,#c00 61px,#d00"></b><b style="--g:#02a,#02b 4px,#02f 11px,#03f 23px,#05f 33px,#07f 35px,#09f 36px,#0ef 37px,#5fa 38px,#cf3 39px,#fc0 40px,#a50 41px,#a40 42px,#f50 43px,#f30 49px,#f00 54px,#d00 60px,#d00"></b><b style="--g:#100,#300 12px,#400 18px,#510 21px,#640 26px,#fb0 27px,#fe0 29px,#ef1 30px,#af5 33px,#9f6 34px,#bf4 35px,#ef1 36px,#fc0 37px,#950 38px,#a00 41px,#f00 42px,#d00 60px,#e00"></b><b style="--g:#04a,#05b 4px,#08e 9px,#09f 11px,#06f 22px,#05f 33px,#06f 35px,#08f 36px,#0bf 37px,#2fd 38px,#ef1 40px,#fb0 41px,#a60 42px,#a50 43px,#f60 55px,#f30 61px,#f20"></b><b style="--g:#02a,#02b 4px,#04f 11px,#05f 34px,#06f 36px,#08f 37px,#0cf 38px,#2fd 39px,#bf4 41px,#ef1 42px,#ff0 43px,#fe0 45px,#ef1 54px,#ff0 58px,#fd0 61px,#fd0 66px,#fb0"></b><b style="--g:#100,#310 9px,#420 14px,#ea0 15px,#ee0 18px,#af5 22px,#8f7 24px,#7f8 31px,#8f7 34px,#9f6 35px,#ef1 37px,#fe0 38px,#fb0 39px,#a60 40px,#a50 42px,#b80 46px,#fb0 47px,#ff0 50px,#7f8 56px,#3fc 60px,#3fc 66px,#8f7"></b><b style="--g:#100,#310 9px,#420 13px,#eb0 14px,#ed0 15px,#de1 16px,#ae4 18px,#6f9 22px,#5fa 26px,#6f9 30px,#8f7 33px,#af5 35px,#ff0 38px,#fb0 40px,#fa0 42px,#a70 43px,#fb0 44px,#fe0 47px,#ff0 48px,#df2 49px,#1fe 56px,#09f 60px,#08f 62px,#08f 66px,#0ef"></b><b style="--g:#05b,#05b 4px,#08f 10px,#08e 16px,#09e 18px,#0ef 23px,#bf4 34px,#ff0 37px,#fb0 40px,#fa0 42px,#ff0 47px,#af5 50px,#0ff 55px,#05f 60px,#03f 62px,#04f 66px,#0af"></b><b style="--g:#001,#110 9px,#440 12px,#750 13px,#420 14px,#520 22px,#410 23px,#520 24px,#310 25px,#100 26px,#100 27px,#310 29px,#410 30px,#610 32px,#820 33px,#a10 40px,#f20 41px,#c20 42px,#a20 43px,#b50 46px,#c80 48px,#fc0 49px,#fe0 50px,#df2 51px,#1fe 56px,#0df 57px,#04f 60px,#03f 61px,#03f 62px,#03f 66px,#0af"></b><b style="--g:#100,#420 17px,#e50 18px,#f10 26px,#600 27px,#700 29px,#f00 30px,#f00 36px,#800 37px,#900 39px,#e00 40px,#f00 43px,#f50 48px,#c50 49px,#d70 50px,#fb0 51px,#fd0 52px,#ef1 53px,#2fd 57px,#0df 58px,#06f 60px,#03f 61px,#03f 63px,#03f 66px,#04f 67px,#0bf"></b><b style="--g:#04a,#06b 4px,#09c 6px,#0ed 8px,#165 9px,#121 11px,#110 12px,#221 13px,#110 15px,#330 16px,#650 17px,#c80 18px,#f30 22px,#f00 27px,#c00 43px,#c00 46px,#f00 49px,#f10 50px,#d30 51px,#e70 53px,#fe0 55px,#cf3 56px,#3fc 58px,#0df 59px,#08f 60px,#05f 61px,#03f 64px,#04f 66px,#05f 67px,#0ef"></b><b style="--g:#100,#400 19px,#a00 20px,#c00 22px,#500 23px,#c00 24px,#c00 32px,#600 33px,#c00 34px,#900 47px,#a00 50px,#f00 53px,#f30 54px,#fb0 56px,#df2 57px,#2fd 59px,#0bf 60px,#07f 61px,#05f 63px,#04f 65px,#05f 66px,#07f 67px,#0ef 69px,#4fb"></b><b style="--g:#100,#700 33px,#a00 43px,#e00 44px,#d00 49px,#f00 52px,#f10 53px,#f30 54px,#f60 55px,#ef1 57px,#3fc 59px,#0cf 60px,#08f 61px,#07f 62px,#04f 65px,#05f 66px,#08f 67px,#0cf 68px,#2fd 69px,#7f8"></b><b style="--g:#011,#011 16px,#110 24px,#110 54px,#110 55px,#330 56px,#bf4 57px,#2fd 59px,#0cf 60px,#09f 61px,#07f 62px,#05f 65px,#05f 66px,#08f 67px,#0cf 68px,#3fc 69px,#8f7"></b><b style="--g:#001,#011 19px,#110 53px,#540 54px,#fe0 55px,#df2 56px,#0ff 59px,#0cf 60px,#09f 61px,#07f 62px,#05f 65px,#05f 66px,#08f 67px,#0cf 68px,#3fc 69px,#8f7"></b><b style="--g:#03a,#04b 4px,#06c 6px,#046 7px,#033 9px,#033 12px,#144 13px,#011 16px,#110 23px,#011 34px,#066 36px,#0ef 37px,#0ff 39px,#3fc 42px,#af5 48px,#572 49px,#cf3 50px,#df2 52px,#df2 54px,#bf4 55px,#2fd 58px,#0df 59px,#08f 61px,#07f 62px,#04f 65px,#05f 66px,#08f 67px,#0bf 68px,#1fe 69px,#7f8"></b><b style="--g:#100,#300 8px,#310 12px,#110 13px,#111 23px,#253 25px,#5fa 26px,#0ff 31px,#0af 37px,#0bf 42px,#0ff 49px,#2fd 53px,#2fd 54px,#0ff 56px,#09f 59px,#07f 61px,#05f 63px,#04f 65px,#04f 66px,#06f 67px,#0df 69px,#3fc"></b><b style="--g:#077,#0bb 4px,#0de 8px,#0bf 10px,#09e 11px,#05d 13px,#03c 16px,#02f 24px,#02f 36px,#00f 39px,#00d 45px,#00d 48px,#00f 50px,#04f 55px,#04f 60px,#03f 64px,#04f 66px,#05f 67px,#0cf"></b><b style="--g:#08b,#05c 4px,#03f 10px,#02e 13px,#02e 16px,#02f 23px,#02f 36px,#01f 37px,#00e 38px,#00a 41px,#008 44px,#007 51px,#009 53px,#00e 58px,#00f 59px,#03f 61px,#03f 66px,#08f"></b><b style="--g:#100,#110 10px,#320 11px,#df1 12px,#0ee 14px,#09e 15px,#06e 16px,#04e 18px,#02f 23px,#02f 36px,#00f 38px,#008 45px,#007 46px,#007 54px,#009 56px,#00e 59px,#02f 61px,#03f 66px,#06f"></b><b style="--g:#06c,#04c 4px,#001 5px,#001 35px,#005 38px,#00d 39px,#005 40px,#00a 41px,#007 43px,#007 56px,#009 57px,#00d 59px,#01f 60px,#03f 61px,#04f 66px,#07f"></b><b style="--g:#02c,#02c 4px,#02f 10px,#02e 16px,#02f 22px,#017 23px,#015 24px,#001 25px,#001 29px,#002 30px,#015 32px,#02f 33px,#02f 36px,#01f 37px,#005 38px,#002 39px,#001 40px,#001 46px,#002 47px,#007 48px,#007 54px,#008 55px,#00f 58px,#06f 60px,#07f 61px,#08f 66px,#0bf"></b><b style="--g:#5c7,#5c7 2px,#242 3px,#111 4px,#011 13px,#054 14px,#0de 15px,#09e 18px,#05f 27px,#04f 35px,#03f 43px,#04f 47px,#05f 50px,#0ff 59px,#2fd 61px,#3fc 66px,#5fa"></b><b style="--g:#02c,#02c 4px,#02f 10px,#04e 15px,#07f 18px,#0df 21px,#1fe 22px,#af5 26px,#ef1 28px,#ff0 29px,#fb0 33px,#850 34px,#960 37px,#fa0 38px,#fd0 43px,#fe0 47px,#fd0 56px,#fe0 65px,#fd0"></b><b style="--g:#0ac,#0ac 3px,#0dd 6px,#2ec 8px,#af5 14px,#ef0 17px,#fa0 19px,#530 20px,#610 24px,#800 35px,#b20 45px,#f20 55px,#f40 61px,#f30"></b><b style="--g:#011,#011 12px,#0cf 13px,#0cf 17px,#0ff 20px,#3fc 23px,#133 24px,#011 25px,#111 35px,#242 36px,#7f8 37px,#ef1 44px,#ff0 45px,#fb0 48px,#c80 49px,#f40 55px,#f00 59px,#f00"></b><b style="--g:#0ac,#0ad 4px,#0ae 8px,#035 9px,#034 11px,#034 12px,#047 13px,#09f 14px,#047 15px,#08f 16px,#07f 22px,#05f 29px,#03f 37px,#04f 40px,#06f 42px,#0af 44px,#0ef 46px,#2fd 47px,#ff0 52px,#f70 56px,#f00 60px,#f00"></b><b style="--g:#1cb,#0cc 2px,#09d 5px,#06f 10px,#04f 14px,#02f 39px,#03f 42px,#06f 44px,#0ef 48px,#2fd 49px,#ef1 54px,#fe0 55px,#f50 60px,#f40 61px,#f40"></b><b style="--g:#5c7,#3c9 4px,#0de 8px,#0de 9px,#07f 16px,#05f 26px,#026 27px,#015 28px,#012 29px,#001 30px,#001 43px,#001 44px,#026 45px,#07f 46px,#0ff 52px,#5fa 55px,#ff0 60px,#fe0 61px,#fe0"></b><b style="--g:#9c2,#8c3 2px,#7c5 4px,#0dd 8px,#0be 10px,#07e 14px,#05f 18px,#03f 36px,#00f 42px,#00e 47px,#00f 52px,#03f 55px,#07f 57px,#1fe 60px,#2fd 61px,#2fd"></b><b style="--g:#7b5,#5b6 2px,#1ca 4px,#0bc 5px,#07d 7px,#04e 10px,#02e 16px,#02f 36px,#00f 39px,#008 47px,#007 55px,#009 56px,#00e 58px,#02f 59px,#05f 60px,#07f 61px,#07f"></b><b style="--g:#001,#001 10px,#03e 11px,#02f 36px,#00f 38px,#00c 41px,#003 42px,#001 43px,#001 57px,#004 58px,#00d 59px,#01f 60px,#03f 61px,#03f"></b><b style="--g:#001,#001 23px,#015 24px,#02f 25px,#02f 36px,#004 37px,#001 40px,#003 42px,#008 43px,#007 44px,#007 57px,#009 58px,#00f 60px,#02f 61px,#02f"></b><b style="--g:#03b,#03c 4px,#03e 10px,#02f 19px,#017 20px,#02f 21px,#02f 35px,#004 36px,#001 37px,#001 43px,#001 44px,#007 45px,#007 57px,#00f 60px,#02f 61px,#02f"></b><b style="--g:#07b,#04c 5px,#02d 8px,#02e 11px,#02f 22px,#02f 36px,#00f 38px,#008 45px,#007 55px,#008 56px,#00e 59px,#01f 60px,#03f 61px,#02f"></b><b style="--g:#ab1,#9b2 4px,#6c6 6px,#0dd 9px,#0be 10px,#07e 13px,#05e 15px,#03f 21px,#02f 40px,#04f 61px,#02f 66px,#02f"></b><b style="--g:#100,#400 13px,#410 17px,#530 20px,#fc0 21px,#fe0 22px,#df2 23px,#af5 25px,#7f8 28px,#5fa 32px,#6f9 34px,#7f8 35px,#ef1 39px,#fd0 41px,#fc0 43px,#ff0 48px,#af5 52px,#0ff 57px,#08f 60px,#06f 61px,#03f 66px,#02f"></b><b style="--g:#700,#300 2px,#300 4px,#800 5px,#d00 20px,#500 21px,#800 35px,#800 44px,#900 47px,#c00 49px,#d10 50px,#d50 52px,#e80 53px,#fb0 54px,#fe0 55px,#cf3 56px,#0ff 59px,#0af 60px,#07f 61px,#03f 66px,#02f"></b><b style="--g:#100,#300 16px,#810 33px,#800 36px,#800 39px,#d00 40px,#c00 41px,#900 42px,#c00 43px,#d00 46px,#e00 48px,#f20 50px,#d30 51px,#d50 52px,#e80 53px,#fb0 54px,#fe0 55px,#cf3 56px,#0ff 59px,#0bf 60px,#08f 61px,#07f 62px,#03f 66px,#02f"></b><b style="--g:#029,#02a 4px,#03d 10px,#05e 19px,#08f 25px,#0ff 34px,#2fd 35px,#df2 38px,#fd0 39px,#f80 41px,#f70 42px,#f60 44px,#f70 47px,#f90 49px,#d80 50px,#fb0 51px,#fe0 53px,#ef1 54px,#bf4 55px,#2fd 58px,#0ef 59px,#09f 61px,#04f 65px,#03f 67px,#02f"></b><b style="--g:#100,#400 15px,#740 28px,#110 31px,#100 42px,#110 50px,#220 51px,#ff0 52px,#ef1 53px,#af5 55px,#0ff 59px,#0bf 61px,#05f 65px,#03f 67px,#02f"></b><b style="--g:#132,#241 2px,#230 3px,#440 4px,#220 5px,#210 6px,#620 8px,#410 9px,#b10 10px,#900 16px,#400 17px,#400 19px,#b00 20px,#c00 22px,#200 23px,#100 24px,#100 43px,#110 52px,#ff0 53px,#0ff 61px,#04f 66px,#02f 68px,#01f"></b><b style="--g:#100,#400 18px,#510 21px,#410 22px,#100 23px,#110 33px,#530 35px,#840 36px,#a70 41px,#fb0 42px,#ff0 46px,#ef1 49px,#ff0 54px,#ef1 56px,#9f6 60px,#7f8 61px,#0ff 63px,#08f 65px,#03f 67px,#01f 69px,#01f"></b><b style="--g:#011,#011 39px,#033 40px,#0df 41px,#0ef 42px,#0ff 43px,#5fa 47px,#ff0 52px,#fe0 53px,#fc0 54px,#fc0 56px,#750 57px,#fd0 58px,#540 59px,#660 60px,#bf4 61px,#3fc 63px,#0ef 64px,#06f 66px,#03f 67px,#01f 69px,#00f"></b><b style="--g:#012,#039 4px,#048 7px,#077 10px,#176 11px,#560 14px,#540 16px,#650 17px,#990 19px,#9b1 20px,#8e6 22px,#7f8 24px,#9f6 28px,#ff0 33px,#fb0 36px,#fb0 37px,#fc0 42px,#fc0 47px,#fb0 48px,#c80 49px,#f50 54px,#f60 56px,#f80 58px,#fa0 59px,#fd0 60px,#df2 61px,#0ff 64px,#06f 66px,#03f 67px,#01f 69px,#00f"></b><b style="--g:#100,#400 19px,#700 36px,#a00 42px,#b10 45px,#710 46px,#610 47px,#610 48px,#510 49px,#710 50px,#f10 51px,#f00 54px,#f20 56px,#f50 58px,#f80 59px,#fc0 60px,#ef1 61px,#af5 62px,#0ff 64px,#07f 66px,#04f 67px,#01f 69px,#00f"></b><b style="--g:#019,#018 9px,#026 16px,#04f 23px,#06f 27px,#09f 30px,#046 31px,#011 34px,#110 42px,#100 54px,#110 60px,#df2 61px,#2fd 64px,#0df 65px,#06f 67px,#04f 68px,#02f"></b><b style="--g:#100,#100 16px,#110 22px,#110 57px,#210 58px,#fd0 59px,#ff0 60px,#0ff 66px,#08f 69px,#05f"></b><b style="--g:#950,#110 2px,#420 15px,#530 18px,#d90 19px,#de1 21px,#af5 23px,#9f6 25px,#af5 28px,#cf3 31px,#ff0 34px,#fb0 38px,#960 39px,#b50 45px,#c60 47px,#c70 49px,#fb0 50px,#fd0 51px,#ff0 52px,#bf4 54px,#bf4 55px,#cf3 59px,#af4 61px,#9f5 64px,#7f8 66px,#2fd 68px,#0ef 69px,#0bf"></b><b style="--g:#960,#970 2px,#9a0 4px,#5b5 6px,#1cb 8px,#0ac 9px,#08d 12px,#04e 20px,#04f 24px,#05f 30px,#07f 34px,#09f 36px,#0ff 39px,#7f8 42px,#af5 44px,#df2 46px,#df2 47px,#df2 48px,#bf4 49px,#1fe 53px,#0ff 54px,#0ff 55px,#7f8 59px,#cf3 63px,#df2 65px,#df2 66px,#bf4 67px,#4fb 69px,#0ef"></b><b style="--g:#100,#300 11px,#420 16px,#ec0 17px,#ce2 18px,#3fc 20px,#0ef 21px,#09f 23px,#07f 25px,#06f 27px,#05f 32px,#05f 37px,#08f 40px,#0ef 44px,#1fe 45px,#3fc 47px,#2fd 48px,#1fe 49px,#0ef 50px,#07f 53px,#06f 54px,#07f 55px,#0cf 57px,#1fe 58px,#6f8 60px,#df2 63px,#ef1 64px,#ff0 66px,#df2 67px,#af5 68px,#6f9 69px,#1fe"></b><b style="--g:#017,#017 2px,#015 3px,#015 4px,#002 5px,#001 6px,#002 7px,#016 9px,#02d 10px,#02f 23px,#03f 37px,#05f 40px,#0cf 46px,#0cf 47px,#0af 49px,#04f 52px,#02f 53px,#01f 54px,#02f 55px,#05f 56px,#0df 58px,#1fe 59px,#8f7 61px,#ef1 64px,#ff0 65px,#ff0 66px,#df2 67px,#6f9 69px,#1fe"></b><b style="--g:#016,#019 3px,#02d 11px,#03f 24px,#06f 37px,#0bf 46px,#0af 48px,#06f 50px,#01f 52px,#00f 53px,#00e 54px,#00f 55px,#06f 57px,#0ef 59px,#3fc 60px,#6f9 61px,#8f7 62px,#bf4 64px,#cf3 66px,#bf4 67px,#4fb 69px,#0ff"></b><b style="--g:#024,#046 2px,#06a 4px,#04d 10px,#06e 13px,#0be 17px,#0ff 23px,#5fa 28px,#6f9 32px,#6f9 34px,#1fe 37px,#0ef 38px,#0bf 41px,#0af 47px,#07f 49px,#00f 53px,#00e 54px,#00f 55px,#04f 57px,#0ef 60px,#1fe 61px,#5fa 64px,#6f9 66px,#5fa 67px,#0ff 69px,#0df"></b><b style="--g:#100,#310 10px,#500 20px,#820 33px,#840 35px,#850 36px,#fe0 37px,#bf4 38px,#1fe 40px,#0df 41px,#0bf 43px,#08f 48px,#02f 54px,#02f 56px,#0af 61px,#0cf 64px,#0cf 67px,#09f"></b><b style="--g:#1bb,#1ca 3px,#0ee 9px,#2ec 10px,#5e9 11px,#ae4 12px,#ed0 13px,#e80 14px,#e40 15px,#610 16px,#200 17px,#100 18px,#100 23px,#500 24px,#e00 25px,#f00 34px,#f10 35px,#f30 36px,#940 37px,#fd0 38px,#af5 39px,#4fb 40px,#0ef 41px,#0cf 42px,#0bf 43px,#09f 47px,#04f 55px,#04f 58px,#07f"></b><b style="--g:#110,#310 9px,#300 13px,#500 24px,#700 33px,#800 35px,#810 36px,#930 37px,#fc0 38px,#af5 39px,#3fc 40px,#0df 41px,#0bf 42px,#09f 44px,#03f 58px,#001 59px,#001 60px,#03f 61px,#03f 66px,#06f"></b><b style="--g:#011,#0ac 2px,#04d 7px,#03e 11px,#05e 14px,#0ef 21px,#1fe 22px,#ef1 31px,#fe0 34px,#ef1 35px,#bf4 36px,#1fe 38px,#0bf 39px,#08f 40px,#06f 41px,#05f 42px,#04f 44px,#03f 57px,#03f 65px,#06f"></b><b style="--g:#02c,#02c 4px,#03e 12px,#05e 14px,#0ef 18px,#1fe 19px,#6f9 22px,#ef1 27px,#fe0 28px,#fc0 30px,#750 31px,#850 33px,#850 35px,#fd0 36px,#cf3 37px,#1fd 39px,#0cf 40px,#0af 41px,#07f 43px,#05f 55px,#06f 66px,#09f"></b><b style="--g:#110,#310 9px,#400 15px,#600 29px,#800 36px,#920 37px,#940 38px,#fc0 39px,#df2 40px,#8f7 41px,#4fb 42px,#1fe 44px,#0ef 45px,#0bf 49px,#0af 55px,#0bf 58px,#0df 61px,#0cf 66px,#0ff"></b><b style="--g:#011,#066 2px,#0dd 3px,#bf4 11px,#cf2 14px,#ef1 20px,#440 21px,#110 23px,#110 34px,#330 35px,#671 36px,#bf4 37px,#3fc 40px,#0ff 42px,#0df 44px,#0cf 48px,#0ff 53px,#3fc 57px,#8f7 61px,#5fa 66px,#8f7"></b><b style="--g:#1ec,#0ed 3px,#0bf 9px,#06f 14px,#04f 18px,#05f 23px,#07f 28px,#0df 35px,#0cf 46px,#0df 48px,#0ff 50px,#bf4 58px,#ef1 60px,#ff0 61px,#cf3 66px,#ef1"></b><b style="--g:#be2,#de1 4px,#110 5px,#110 9px,#011 16px,#154 17px,#176 18px,#2fd 19px,#3fc 23px,#5fa 27px,#ef1 35px,#660 36px,#450 37px,#341 40px,#562 41px,#af5 42px,#7f8 46px,#6f8 48px,#8f7 50px,#df2 54px,#ff0 57px,#fc0 61px,#ff0 64px,#ef1 66px,#ff0 68px,#fe0"></b><b style="--g:#04e,#05e 5px,#07f 10px,#05f 15px,#05f 18px,#08f 24px,#0cf 27px,#0ff 29px,#2fd 30px,#df2 35px,#ff0 36px,#fe0 37px,#fe0 40px,#ff0 44px,#ef1 47px,#ff0 49px,#fc0 53px,#fb0 55px,#fc0 60px,#ff0 65px,#ff0 68px,#fd0"></b><b style="--g:#be3,#9f6 9px,#6f9 11px,#1fe 13px,#0df 14px,#0be 16px,#0af 17px,#0bf 19px,#0ef 22px,#0ff 23px,#5fa 26px,#8f7 28px,#ff0 31px,#fb0 33px,#850 34px,#930 37px,#a40 42px,#c70 48px,#f80 54px,#ff0 61px,#df2 66px,#ff0 69px,#fd0"></b><b style="--g:#05e,#06e 3px,#07e 5px,#0ae 7px,#0ff 9px,#4fb 11px,#9e5 15px,#de1 17px,#fd0 18px,#fb0 19px,#530 20px,#600 27px,#700 33px,#d00 34px,#d00 40px,#f00 44px,#f10 47px,#f60 53px,#f70 54px,#ff0 58px,#af5 60px,#9f6 61px,#9f6 63px,#af5 66px,#ef1 69px,#fe0"></b><b style="--g:#100,#500 23px,#c00 24px,#c00 29px,#600 30px,#800 41px,#c00 47px,#d50 51px,#e90 53px,#fc0 54px,#fe0 55px,#df2 56px,#1fe 60px,#0ff 61px,#1fe 63px,#5fa 66px,#cf3 69px,#ff0"></b><b style="--g:#011,#110 20px,#320 21px,#640 22px,#640 23px,#750 29px,#650 30px,#220 32px,#110 33px,#110 50px,#011 59px,#09f 60px,#09f 61px,#09f 62px,#0ff 65px,#2fd 66px,#bf4 69px,#ff0"></b><b style="--g:#03f,#03f 9px,#014 10px,#001 11px,#001 12px,#003 15px,#017 16px,#02e 17px,#02f 23px,#01f 40px,#04f 43px,#0df 48px,#0ff 50px,#0df 54px,#06f 59px,#06f 60px,#07f 62px,#0df 65px,#0ff 66px,#bf4 69px,#ef1"></b><b style="--g:#02c,#02f 7px,#02e 16px,#02f 23px,#02f 38px,#03f 40px,#06f 42px,#0df 46px,#0ff 48px,#0ff 50px,#0ef 52px,#0cf 54px,#05f 59px,#05f 60px,#06f 62px,#0af 64px,#0ff 66px,#af5 69px,#ef1"></b><b style="--g:#100,#400 18px,#700 29px,#a70 43px,#fb0 44px,#fc0 46px,#fe0 48px,#ef1 49px,#2fd 54px,#0ef 55px,#07f 58px,#05f 59px,#05f 60px,#06f 62px,#0ef 66px,#1fe 67px,#8f7 69px,#bf4"></b><b style="--g:#451,#671 2px,#cc0 5px,#ed0 6px,#fb0 8px,#f80 10px,#d30 13px,#c00 16px,#500 17px,#500 19px,#d00 20px,#f10 22px,#600 23px,#f00 24px,#e00 32px,#700 33px,#e00 34px,#f00 39px,#f30 43px,#b30 44px,#b50 46px,#c70 47px,#fb0 48px,#fe0 49px,#df2 50px,#2fd 54px,#0ef 55px,#07f 58px,#04f 60px,#05f 62px,#07f 64px,#0bf 66px,#0ff 68px,#5fa"></b><b style="--g:#100,#200 8px,#c00 9px,#600 16px,#700 18px,#a00 20px,#400 21px,#900 37px,#a10 40px,#a50 43px,#b60 44px,#fb0 45px,#fd0 46px,#ff0 47px,#1fe 53px,#0ef 54px,#05f 59px,#03f 61px,#07f 66px,#0cf"></b><b style="--g:#100,#100 17px,#110 22px,#111 29px,#121 30px,#352 31px,#8f7 32px,#9f6 38px,#363 39px,#121 40px,#111 41px,#011 50px,#067 51px,#0cf 52px,#03f 60px,#02f 61px,#05f"></b><b style="--g:#001,#015 2px,#029 3px,#04e 6px,#04f 7px,#04e 10px,#068 14px,#165 16px,#166 17px,#078 18px,#06c 21px,#06f 23px,#06f 25px,#0cf 35px,#0ef 41px,#07f 54px,#02f 61px,#03f"></b><b style="--g:#100,#500 19px,#520 21px,#ea0 22px,#fd0 23px,#fe0 24px,#ff0 28px,#ef1 30px,#bf4 33px,#0ff 39px,#08f 45px,#04f 49px,#03f 57px,#03f"></b><b style="--g:#0ef,#08f 7px,#07e 10px,#07d 11px,#046 12px,#011 14px,#011 18px,#012 19px,#026 20px,#04d 21px,#03f 24px,#03f 36px,#00f 44px,#00e 48px,#00f 52px,#07f 61px,#07f"></b><b style="--g:#04f,#02e 10px,#028 16px,#029 17px,#02f 23px,#03f 39px,#06f 48px,#0ff 58px,#3fc 61px,#3fc"></b><b style="--g:#100,#400 18px,#600 27px,#850 36px,#fb0 37px,#ff0 43px,#ef1 48px,#ff0 54px,#fd0 60px,#fd0"></b><b style="--g:#02f,#03f 11px,#04e 16px,#08f 21px,#0ff 26px,#af5 33px,#ef1 37px,#fe0 38px,#fb0 41px,#a70 42px,#f40 55px,#f30 60px,#f30"></b><b style="--g:#100,#900 41px,#e00 42px,#d00 56px,#d00"></b><b style="--g:#100,#200 11px,#b00 12px,#b00 16px,#400 17px,#400 19px,#b00 20px,#c00 21px,#c00 22px,#400 23px,#c00 24px,#c00 32px,#600 33px,#c00 34px,#b00 37px,#900 44px,#800 50px,#900 56px,#d00 61px,#d00"></b><b style="--g:#0ff,#3fc 3px,#df1 8px,#fe0 9px,#fb0 11px,#320 12px,#520 18px,#850 33px,#a40 41px,#d00 52px,#f00 59px,#f20 61px,#f20"></b><b style="--g:#06f,#04f 5px,#03f 10px,#02e 16px,#03f 30px,#05f 37px,#08f 39px,#0ef 42px,#1fe 43px,#8f7 46px,#bf4 48px,#ff0 52px,#fb0 59px,#fd0 66px,#fc0"></b><b style="--g:#110,#011 17px,#011 41px,#012 42px,#035 43px,#0af 44px,#0df 48px,#0ef 51px,#066 52px,#055 53px,#055 54px,#033 55px,#2fd 56px,#6f9 60px,#4fb 66px,#5fa"></b><b style="--g:#0bf,#05f 5px,#03f 9px,#02f 17px,#02f 36px,#00f 42px,#02f 48px,#01f 53px,#02f 54px,#05f 56px,#0af 59px,#0cf 61px,#09f 66px,#0bf"></b><b style="--g:#047,#05b 4px,#04e 6px,#03f 7px,#02f 14px,#02f 36px,#00f 39px,#00d 43px,#00d 48px,#00c 53px,#00e 55px,#00f 56px,#08f 60px,#08f 61px,#05f 66px,#07f"></b><b style="--g:#100,#210 4px,#fd0 5px,#df1 6px,#3fc 9px,#0ff 10px,#0bf 12px,#07f 15px,#05f 19px,#04f 22px,#06f 34px,#04f 42px,#05f 48px,#02f 54px,#08f 60px,#08f 61px,#04f 66px,#06f"></b><b style="--g:#001,#011 15px,#121 20px,#242 21px,#af5 22px,#ff0 26px,#fe0 27px,#fb0 31px,#850 32px,#860 36px,#fc0 37px,#ef1 39px,#af5 42px,#6f9 48px,#0ff 52px,#0df 55px,#0df 59px,#07f 66px,#07f 68px,#08f"></b><b style="--g:#6e8,#9f5 8px,#fe0 13px,#fb0 15px,#430 16px,#710 29px,#710 31px,#f10 32px,#f00 36px,#900 37px,#c60 47px,#c80 48px,#fb0 49px,#ff0 51px,#af5 54px,#7f7 59px,#0ff 64px,#0cf 67px,#0df"></b><b style="--g:#011,#132 2px,#6e8 3px,#ee0 9px,#ed0 10px,#eb0 11px,#320 12px,#510 22px,#900 39px,#f00 40px,#f20 45px,#f40 48px,#c40 49px,#fa0 55px,#fc0 59px,#fe0 61px,#ef1 62px,#8f7 65px,#5fa 67px,#3fc"></b><b style="--g:#0be,#09e 7px,#08e 15px,#09f 18px,#0df 23px,#0ff 27px,#2fd 29px,#4fa 31px,#ff0 37px,#fb0 39px,#a60 40px,#a60 41px,#c50 48px,#f60 49px,#f40 59px,#f60 61px,#ff0 65px,#bf4 67px,#8f7"></b><b style="--g:#06e,#04f 31px,#06f 36px,#08f 37px,#0df 39px,#1fd 40px,#8f7 42px,#ef1 45px,#fb0 48px,#c80 49px,#f90 50px,#f20 57px,#f10 59px,#f10 60px,#f30 61px,#ff0 66px,#cf3 68px,#af5"></b><b style="--g:#001,#001 4px,#03e 5px,#03f 22px,#03f 31px,#04f 36px,#07f 38px,#1fe 41px,#7f8 43px,#ef1 46px,#fe0 47px,#f90 50px,#f40 54px,#f10 57px,#f00 59px,#f00 60px,#f20 61px,#fe0 66px,#bf4 69px,#af5"></b><b style="--g:#110,#420 13px,#eb0 14px,#fe0 17px,#bf4 22px,#2fd 28px,#0ff 32px,#1fe 36px,#cf3 41px,#ff0 43px,#fb0 47px,#c80 48px,#c70 49px,#f80 50px,#f20 57px,#f00 59px,#f00 60px,#f20 61px,#fe0 66px,#ef1 67px,#cf3 69px,#bf4"></b><b style="--g:#100,#400 19px,#100 21px,#110 37px,#100 60px,#f20 61px,#fe0 67px,#df2"></b><b style="--g:#001,#001 7px,#002 8px,#03e 9px,#06e 12px,#1ee 16px,#7f8 19px,#9f6 21px,#9f6 22px,#7f8 24px,#1fe 27px,#0ef 28px,#0bf 31px,#0af 34px,#0af 36px,#0ff 38px,#af5 42px,#ff0 47px,#fb0 52px,#ea0 53px,#f80 55px,#f40 60px,#f50 62px,#fa0 67px,#fc0"></b><b style="--g:#111,#111 2px,#122 3px,#264 4px,#175 5px,#1dc 6px,#0dd 7px,#0ad 10px,#08e 14px,#06f 22px,#04f 27px,#03f 30px,#05f 36px,#08f 38px,#0cf 39px,#0ff 40px,#7f8 42px,#9f6 43px,#bf4 45px,#ef1 49px,#ff0 51px,#fd0 54px,#f60 61px,#f50 66px,#f50"></b><b style="--g:#6c6,#5c7 4px,#0dd 8px,#07e 16px,#03f 26px,#03f 30px,#04f 36px,#05f 37px,#08f 38px,#0bf 39px,#0ff 40px,#4fb 41px,#7f8 42px,#af5 44px,#df2 53px,#ff0 56px,#f20 66px,#f00"></b><b style="--g:#08c,#03d 10px,#026 11px,#014 12px,#001 14px,#001 21px,#015 22px,#03f 23px,#03f 30px,#03f 35px,#05f 37px,#08f 38px,#0bf 39px,#1fe 40px,#5fa 41px,#8f7 42px,#af5 43px,#bf4 46px,#cf3 53px,#ff0 56px,#fc0 59px,#f10 66px,#d00"></b><b style="--g:#4c8,#3c9 4px,#0cc 7px,#09d 12px,#03f 26px,#03f 33px,#03f 35px,#05f 37px,#07f 38px,#0ff 40px,#7f8 42px,#af5 44px,#ff0 55px,#f90 61px,#f10 66px,#f00 67px,#e00"></b><b style="--g:#02c,#02c 2px,#017 3px,#001 5px,#001 34px,#003 35px,#03f 36px,#05f 38px,#07f 39px,#0ff 41px,#4fb 42px,#6f9 43px,#9f6 45px,#bf4 48px,#df2 54px,#ff0 58px,#fd0 61px,#f50 66px,#f40 68px,#f30"></b><b style="--g:#011,#011 36px,#012 37px,#057 38px,#1fe 39px,#8f7 41px,#af5 42px,#bf4 43px,#bf4 47px,#8f7 54px,#9f6 60px,#ff0 66px,#fd0"></b><b style="--g:#100,#100 13px,#400 15px,#510 19px,#640 23px,#fc0 24px,#fd0 25px,#ff0 27px,#ef1 29px,#ff0 31px,#fc0 34px,#850 35px,#940 37px,#a30 41px,#a40 43px,#b70 45px,#fb0 46px,#ff0 48px,#7f8 53px,#0ff 59px,#0ef 61px,#0ff 63px,#2fd 67px,#3fc"></b><b style="--g:#100,#200 6px,#700 7px,#300 8px,#600 9px,#500 12px,#300 13px,#500 14px,#500 17px,#400 18px,#700 19px,#900 20px,#400 21px,#700 37px,#a00 42px,#b30 44px,#b60 46px,#fb0 47px,#fe0 48px,#ef1 49px,#0ff 56px,#07f 60px,#06f 61px,#07f"></b><b style="--g:#110,#110 3px,#aa0 4px,#a70 6px,#210 7px,#400 16px,#510 18px,#530 20px,#ca0 21px,#ee0 22px,#cf2 23px,#af5 25px,#af5 29px,#df2 34px,#ff0 36px,#ff0 39px,#ff0 40px,#df2 42px,#4fb 47px,#0ff 51px,#0af 56px,#03f 61px,#03f"></b><b style="--g:#001,#011 7px,#023 8px,#058 9px,#056 13px,#011 15px,#001 33px,#013 34px,#03f 35px,#04f 37px,#07f 41px,#08f 44px,#07f 55px,#05f 58px,#03f 61px,#02f"></b><b style="--g:#04b,#03b 4px,#016 15px,#016 17px,#015 18px,#001 19px,#001 33px,#003 34px,#016 35px,#02f 36px,#03f 39px,#0af 51px,#0af 54px,#09f 57px,#04f 61px,#02f"></b><b style="--g:#6b5,#6b5 5px,#495 10px,#088 16px,#06a 18px,#036 19px,#026 21px,#04e 22px,#04f 23px,#03f 28px,#05f 35px,#0ff 48px,#4fb 53px,#3fc 55px,#1fe 57px,#0ef 58px,#08f 60px,#06f 61px,#03f"></b><b style="--g:#100,#300 12px,#410 16px,#530 18px,#db0 19px,#cd1 20px,#7f8 22px,#3fc 24px,#1fe 26px,#0ff 30px,#0ef 39px,#0ff 44px,#2fd 47px,#7f8 52px,#8f7 54px,#7f8 56px,#3fc 58px,#1fe 59px,#0af 61px,#04f"></b><b style="--g:#065,#087 2px,#0bb 4px,#0cc 5px,#06f 22px,#07f 30px,#06f 42px,#0af 47px,#0ff 50px,#5fa 53px,#6f9 55px,#5fa 57px,#2fd 59px,#0ff 60px,#0df 61px,#05f"></b><b style="--g:#221,#451 2px,#990 4px,#ca0 5px,#d90 8px,#320 9px,#430 14px,#ea0 15px,#ee0 18px,#de1 19px,#7f8 23px,#4fb 28px,#0ff 32px,#08f 39px,#07f 42px,#08f 47px,#0bf 49px,#0ef 51px,#4fb 54px,#4fb 55px,#3fc 58px,#0ff 60px,#05f"></b><b style="--g:#100,#300 12px,#530 20px,#fc0 21px,#ff0 23px,#cf3 28px,#bf4 30px,#6f9 34px,#1fe 37px,#0ef 38px,#0af 41px,#09f 44px,#0bf 48px,#0ff 51px,#2fd 53px,#3fc 55px,#2fd 58px,#1fe 60px,#0ef 62px,#06f"></b><b style="--g:#03c,#02e 19px,#05f 43px,#08f 48px,#0ff 52px,#1fe 53px,#3fc 55px,#3fc 57px,#3fc 59px,#0ff 63px,#08f"></b><b style="--g:#c90,#ca0 2px,#440 3px,#230 4px,#110 5px,#011 8px,#001 15px,#002 16px,#015 17px,#016 18px,#03f 19px,#04f 25px,#08f 33px,#0bf 40px,#0af 47px,#0cf 49px,#0ff 51px,#3fc 53px,#5fa 55px,#6f9 59px,#6f9 62px,#0ff"></b><b style="--g:#100,#100 17px,#300 18px,#400 19px,#600 32px,#500 34px,#200 36px,#100 37px,#110 47px,#232 49px,#363 50px,#8f7 51px,#cf3 61px,#9f6"></b><b style="--g:#4e9,#7e7 2px,#ed0 5px,#e60 8px,#e30 10px,#f20 16px,#500 17px,#500 19px,#d00 20px,#c00 22px,#500 23px,#c00 24px,#c00 32px,#600 33px,#c00 34px,#b00 40px,#c00 42px,#d00 43px,#b00 44px,#c70 47px,#fc0 48px,#fe0 50px,#fe0 55px,#fd0 62px,#fe0"></b><b style="--g:#100,#200 6px,#d00 7px,#e00 12px,#e20 15px,#f20 16px,#f00 18px,#c00 22px,#500 23px,#c00 24px,#c00 27px,#500 28px,#c00 29px,#c00 32px,#600 33px,#c00 34px,#b00 37px,#600 38px,#a00 39px,#900 41px,#900 43px,#a00 44px,#e00 46px,#f20 47px,#c30 48px,#d50 50px,#fa0 56px,#fb0 61px,#fb0"></b><b style="--g:#210,#710 3px,#d00 6px,#c00 9px,#c00 12px,#400 13px,#c00 14px,#c00 16px,#500 17px,#200 18px,#200 19px,#400 22px,#400 24px,#c00 25px,#c00 27px,#500 28px,#c00 29px,#c00 31px,#600 32px,#600 34px,#c00 35px,#b00 37px,#600 38px,#800 39px,#700 41px,#600 42px,#700 43px,#800 45px,#e00 48px,#f10 49px,#f70 55px,#fb0 60px,#fb0"></b><b style="--g:#200,#400 2px,#b00 6px,#b00 7px,#300 8px,#b00 9px,#b00 12px,#300 13px,#b00 14px,#c00 17px,#400 18px,#c00 19px,#c00 26px,#500 27px,#500 29px,#c00 30px,#c00 36px,#600 37px,#600 39px,#900 40px,#900 43px,#c00 45px,#a00 46px,#c10 47px,#c50 49px,#fb0 54px,#fc0 55px,#fd0 60px,#fd0"></b><b style="--g:#100,#100 9px,#300 10px,#e20 11px,#fa0 16px,#fa0 17px,#f40 21px,#f30 23px,#f20 41px,#a20 42px,#b60 45px,#fb0 46px,#ff0 48px,#bf4 52px,#af5 55px,#bf4 58px,#df2 61px,#df2"></b><b style="--g:#320,#540 2px,#c70 5px,#e80 6px,#f70 7px,#f60 10px,#f90 16px,#f50 21px,#f40 23px,#f80 30px,#fa0 37px,#960 38px,#960 39px,#a70 41px,#fb0 42px,#ff0 45px,#8f7 50px,#4fa 54px,#4fa 57px,#7f8 61px,#7f8"></b><b style="--g:#100,#300 12px,#600 26px,#960 37px,#fb0 38px,#ff0 43px,#ef1 44px,#2fd 53px,#0ff 55px,#1fe 58px,#3fc 61px,#3fc"></b><b style="--g:#fd0,#ff0 5px,#df1 7px,#af5 10px,#3fc 15px,#0ff 19px,#0ef 22px,#08f 29px,#07f 36px,#0cf 42px,#0ef 46px,#0df 49px,#09f 54px,#0bf 57px,#0df 59px,#0ff 60px,#1fe 61px,#1fe"></b><b style="--g:#02f,#02f 16px,#03f 37px,#0af 47px,#0af 49px,#07f 53px,#07f 55px,#0af 58px,#0ef 60px,#1fe 61px,#0ff"></b><b style="--g:#100,#400 17px,#610 23px,#750 29px,#fb0 30px,#ff0 36px,#fe0 41px,#ff0 44px,#df2 47px,#bf4 49px,#3fc 53px,#0ff 56px,#0ff"></b><b style="--g:#f60,#f60 4px,#f00 16px,#500 17px,#500 19px,#d00 20px,#d00 29px,#600 30px,#800 42px,#900 45px,#b00 47px,#c00 48px,#d40 50px,#d70 51px,#fb0 52px,#fe0 53px,#8f7 56px,#1fe 60px,#0ff 63px,#0ff"></b></div>
<div class="rw" style="top:70.1px">
<i style="--g:#06a8c8 1.0px,#04a8ca,#0093d7,#004ef6,#002fff,#0082ff,#56ffa8,#acff52 15.0px,#b3ff4b 21.0px,#ece612,#ff2e00,#db0000,#e80000,#ff5300,#ffbd00,#ffc900 35.0px,#ff8800 39.0px,#ff7600,#ff2b00,#df0000,#f11600,#9feb60,#006eff,#003aff 53.0px,#003eff 57.0px,#006bff,#82ff7d,#ff6600,#ff4600 65.0px,#ffde00 69.0px,#faf605 71.0px,#33ffcc 75.0px,#46ffb8,#eac314,#ef0800,#f21700,#98ee67,#005bff,#0028ff,#0054ff,#00c4ff,#04f6fc,#74ff8a,#ff6800,#fa0000,#ff9000,#1fcce0,#0058ff,#22cddc,#ff8400,#e20000,#da0000 115.0px,#e80000 119.0px,#ff6900,#5dffa2,#00e1ff,#27f9d8,#c9f836,#f4e10a,#b9fa46,#0ad8f6,#0090ff,#33e7cc,#ff8200,#fc0000,#ff9800,#15beea,#002eff 149.0px,#0020ff 157.0px,#0009fe,#0000f0,#0002f6 163.0px,#0094ff 167.0px,#009eff 169.0px,#0080ff 173.0px,#009dff,#5bffa4,#fee501,#ffc500 181.0px,#ffae00 185.0px,#fdd102,#48f2b6,#004dff,#005cff,#98ee67,#f21700,#f21200,#b3e04c,#00a8ff,#008dff,#1eefe1,#8fff70,#a9ff55,#e8e916,#ff3000,#e50000,#ff8a00,#18bee7,#002eff,#002aff 225.0px,#0044ff 229.0px,#00b5ff,#c6fc38,#ffc800,#e9f016,#4effb0,#09fff6,#05fffa 243.0px"></i>
<i style="--g:#004bf9 1.0px,#003dff 9.0px,#0098ff,#78ff86,#d3ff2c,#c7ff38,#9cff62,#90ff6e,#ddf122,#ff3400,#d80000,#e70000,#ff6500,#ffe200,#ffe400 35.0px,#fa1000 39.0px,#d50000 45.0px,#f01000,#bddb42,#01c3fe,#008eff 53.0px,#0032ff 57.0px,#0057ff,#68ff97,#ff8600,#ff6600 65.0px,#fafc06 69.0px,#e0ff1f 71.0px,#1cffe2 75.0px,#32ffcc,#e4c61b,#f00900,#f21700,#98ee67,#005bff,#0029ff,#0063ff,#0cebf3,#3affc4,#a3ff5c,#ff6400,#ff0800,#ff9800,#20d1de,#0062ff,#20d0de,#ff9a00,#fa0700 113.0px,#e80000 117.0px,#ec0000,#ff5e00,#88ff76,#1bffe4,#68ff96,#fec601,#ff7900,#f6d20a,#2ef7d1,#00c5ff,#45fbba,#ff8200,#ff0a00,#ffa300,#12bded,#002eff 149.0px,#001eff 157.0px,#0006fb,#0000e4,#0000e6,#0011fe,#003aff,#0046ff 169.0px,#00c0ff 175.0px,#7dff82,#ffc500 179.0px,#ff5800 185.0px,#ff7e00,#69ff96,#0053ff,#005cff,#98ee67,#f21700,#f21200,#b4e04a,#00acff,#0094ff,#2cf8d2,#b6ff48,#d3ff2c,#f8d806,#fd2600,#e10000,#ff8700,#18bfe6,#002eff,#0025ff 225.0px,#0030ff 229.0px,#009bff,#a1ff5d,#fbf104,#d3fe2c,#44ffbb,#09fff6,#05fffa 243.0px"></i>
<i style="--g:#0027ff 1.0px,#0032ff 5.0px,#005aff 9.0px,#00b2ff,#87ff77,#deff21,#cdff32,#97ff67,#87ff77,#d9f426,#ff3600,#d70000,#e50000,#ff5e00,#ffd600,#ffd600,#ff5f00,#e80000,#d40000 41.0px,#d20000 45.0px,#ee0600,#f3b80c,#68ff96,#34fdca,#00b4fe,#003aff,#0050ff,#59fba6,#ffa400,#ff8500 65.0px,#f1ff0e 69.0px,#d6ff28 71.0px,#16ffe8 75.0px,#2dffd2,#e2c81d,#f00a00,#f21700,#98ee67,#005bff,#002aff,#0079ff,#40ffbf 93.0px,#def821 97.0px,#ff6300,#ff2000,#ffa100,#2ee7d1,#0097ff,#28e5d7,#feba01,#ff3c00 113.0px,#f60200 117.0px,#ed0000,#ff5400,#a9ff56,#46ffb9,#91ff6d,#ffa600,#ff5a00,#ffb400,#61ff9d,#0dfbf1,#6fff90,#ff8600,#ff2400,#fab406,#0dbbf2,#002eff 149.0px,#001eff 157.0px,#0006fa,#0000e0,#0000e0,#0006fa 165.0px,#0032ff 169.0px,#00baff 173.0px,#01e4fe,#9fff60,#ffa400 179.0px,#ff2900 185.0px,#ff5300,#81ff7e,#0056ff,#005cff,#98ee67,#f21700,#f21400,#ace452,#0095ff,#0084ff,#50ffae,#fadc05,#ffbe00,#ff8800,#f61200,#de0000,#ff8600,#18bfe6,#002eff,#0024ff 225.0px,#002aff 229.0px,#0082ff,#5cffa2,#b3ff4c,#90ff6e,#2fffd0,#08fff8,#05fffa 243.0px"></i>
<i style="--g:#0024ff 1.0px,#0025ff,#0038ff,#0065ff,#007cff,#00cdff,#90ff6e,#dfff20,#ceff31,#98ff66,#88ff76,#d9f425,#ff3500,#d70000,#e30000,#ff4e00,#ffb800,#ffb800,#ff4e00,#e30000,#d20000 41.0px,#d20000 45.0px,#e60000,#ff6300,#f8da07,#dcf423,#30e5ce,#0047ff,#004eff,#4ef5b0,#ffc300,#ffa400,#ffdc00,#eaff15,#d1ff2e 71.0px,#18ffe7 75.0px,#2effd0,#e2c81d,#f10a00,#f31800,#98ef66,#005dff,#002eff,#0092ff,#8cff72,#eef910,#fed400,#ff6400,#ff3d00,#ffab00,#42febc,#00d6ff,#34fccb,#f5d60a,#ff7e00,#ff5800,#fc0e00,#f00000,#ff4e00,#c6ff38,#6cff92,#afff4f,#ff9a00,#ff5500,#ffa000,#9cff62,#52ffac,#a0ff5f,#ff9200,#ff4800,#edc412,#06b9f8,#002dff 149.0px,#001eff 157.0px,#0006fa,#0000e0,#0000e0,#0006fa 165.0px,#0034ff 169.0px,#00deff 173.0px,#10faef,#bffc40,#ff8300 179.0px,#ff0a00 185.0px,#ff3400,#90fd6f,#005bff,#005eff,#99ee66,#f21700,#f21600,#a2ea5d,#0076ff,#006fff,#7fff80,#ff7000,#ff4200,#ff2800,#ea0100,#dd0000,#ff8600,#18bfe6,#002eff,#0024ff 225.0px,#002aff 229.0px,#006eff,#1df8e2,#5affa5,#4affb4,#1affe5,#06fff9,#05fffa 243.0px"></i>
<i style="--g:#0024ff 1.0px,#0026ff,#0040ff,#0080ff,#009fff,#08e1f7,#99ff65,#e0ff1f,#d1ff2e,#a2ff5c,#94ff6a,#dff020,#ff3200,#d70000,#e00000,#ff3e00,#ff9a00,#ff9a00,#ff3e00,#e00000,#d20000 41.0px,#db0000 47.0px,#fe1c00 49.0px,#ff9100 53.0px,#61fc9e,#0051ff,#004cff,#44efbb,#fee101,#ffc400,#f8f206,#ceff30,#baff45 71.0px,#24ffdb 75.0px,#3bffc4,#e4ca1b,#f81000,#fa1e00,#9af265,#0068ff,#003cff,#00aeff,#c5fa3a,#ffbe00,#ffa100,#ff6c00,#ff5c00,#ffb900,#5cffa3,#04fcfc,#46ffb8,#eaed15,#ffb400,#ff8600,#ff2100,#fb0100,#ff4e00,#d9f826,#8fff70,#ccff32,#ff9200,#ff5400,#ff8d00,#dafc25,#a2ff5c,#d0ff2f,#ffb600,#ff8d00,#d5e42a,#00afff,#002cff 149.0px,#001eff 157.0px,#0006fa,#0000e0,#0000e1,#000afc 165.0px,#0044ff 169.0px,#00a8ff,#10fcee,#3affc4,#d6e929,#ff6200 179.0px,#ff1800 183.0px,#f40000,#fe2200,#99f566,#0068ff,#006aff,#9ded62,#f41700,#f41800,#9aee65,#0062ff,#0060ff,#96f669,#fc2500,#ed0000 211.0px,#d80000 215.0px,#dc0000,#ff8600,#18bfe6,#002eff,#0028ff 225.0px,#0036ff 229.0px,#0070ff,#0deef2,#35ffca,#2effd1,#11ffee 239.0px,#05fffa 243.0px"></i>
<i style="--g:#0024ff 1.0px,#0026ff,#0048ff,#009cff,#00c2ff,#14f1ec,#a2ff5d,#e0ff1e,#d7ff28,#b6ff48,#aeff50,#eae714,#ff2c00,#d60000,#de0000,#ff2e00,#ff7c00,#ff7c00,#ff2e00,#de0000,#d10000 41.0px,#d60000 47.0px,#f40300,#ff1b00,#ff5000,#82ff7d,#0056ff,#004aff,#39eac6,#f3f30c,#ffe600,#d7ff27,#96ff68,#85ff79 71.0px,#3dffc2 75.0px,#56ffa8,#e9d016,#ff2400,#ff3400,#9ef760,#0081ff,#0058ff,#07c8f8,#dae624,#ff9200 95.0px,#ff7a00 99.0px,#ff7a00,#fecf00,#5effa0,#0cfff2,#47ffb8,#defc20,#ffdb00,#ffab00,#ff3e00,#ff1600,#ff5b00,#e6f218,#afff4f,#e3fc1c,#ff8a00,#ff5200,#ff7800,#fed901,#f2f50d,#f8fb07 139.0px,#f0ef0f 143.0px,#96ff68,#0094ff,#002aff 149.0px,#001eff 157.0px,#0006fa,#0000e0,#0000e4,#0016ff,#0048ff,#0064ff,#04d3fb,#4bffb3,#78ff86,#f0d30e,#ff3f00 179.0px,#fd0700 183.0px,#ec0000,#fb1d00,#a3ee5c,#0084ff,#0085ff,#a5ea5a,#f61800,#f71b00,#97f168,#005cff,#005cff,#98f067,#f21800,#d40000 211.0px,#d20000 215.0px,#db0000,#ff8600,#18bfe6,#002fff,#002eff 225.0px,#0054ff 229.0px,#008fff,#24fcda,#5cffa3,#4cffb3,#1affe5,#06fff9,#05fffa 243.0px"></i>
<i style="--g:#002aff 1.0px,#002cff,#0055ff,#00baff,#00e6ff,#23fedc,#abff53,#e3ff1b 15.0px,#ccff33 21.0px,#f8dd07,#fd2700,#d60000,#dc0000,#ff1e00,#ff5e00,#ff5e00,#ff1e00,#dc0000,#d10000 41.0px,#d40000 47.0px,#f50000 51.0px,#ff2b00,#96f96a,#0062ff,#0050ff,#30e8ce,#e1ff1e,#f3fe0c 65.0px,#56ffa8 69.0px,#4affb4,#50ffae,#58ffa7,#73ff8b,#eed612,#ff4500,#ff5500,#a2fe5c,#009dff,#007aff,#18d8e7,#ead514,#ff7300,#ff7500 97.0px,#ff9900 101.0px,#f6df08,#58ffa7,#0dfff2,#40ffbe,#c9ff35,#fdf902,#ffcb00,#ff6200,#ff3b00,#ff7000,#f2ee0c,#cdff32,#f0f20e,#ff8300,#ff5000,#ff6200,#ff9400,#ffac00,#ffda00,#b4ff4a,#82ff7c,#35fdc9,#0075ff,#0029ff 149.0px,#001eff 157.0px,#0006fa,#0000e2,#0000e7,#0028ff,#0068ff,#0087ff,#1cede2,#8cff72,#baff45,#ffb000,#ff1e00,#fe0500,#f50000,#e80000,#fa1b00,#aee850,#00a4ff,#00a4ff,#afe750,#fb1b00,#fc1f00,#96f56a,#005cff,#005eff,#99ee66,#f11700,#d20000 211.0px,#db0000 217.0px,#ff8600,#18bfe6,#0030ff,#0036ff,#005eff,#0073ff,#00b7ff,#5bffa4,#9bff63,#7dff82,#29ffd5,#07fff8,#05fffa 243.0px"></i>
<i style="--g:#004cff 1.0px,#004fff,#007bff,#03e4fc,#16ffe8,#49ffb6,#beff40,#eeff10 15.0px,#e1ff1d 21.0px,#ffd300,#fc2300,#d60000,#da0000,#fd1000,#ff4000,#ff4000,#fd1000,#da0000 39.0px,#d20000 47.0px,#dc0000 51.0px,#f61700,#afe44f,#00a2ff,#008cff,#32f7cd,#c7ff37,#d3ff2c 65.0px,#27ffd8 69.0px,#1effe0 71.0px,#7eff80 77.0px,#ecdf13,#ff6600,#ff7500,#9eff61,#00b1ff,#0092ff,#23e4db,#f6ca09,#ff5d00,#ff6c00,#ff9f00,#ffb800,#ecee14,#50ffae,#0cfff2,#3bffc3,#b8ff47,#eeff11,#feeb01,#ff9a00,#ff7a00,#ff9e00,#f8f207,#e2ff1d,#faeb04,#ff7e00,#ff4f00,#ff5500 133.0px,#ff7700 137.0px,#ffc800,#71ff8d,#1effe1,#04defb,#005dff,#0027ff 149.0px,#001fff 157.0px,#0007fc,#0000e8,#0000f0,#0037ff,#007eff,#00a1ff,#31fdce,#bbff43,#e8ff17,#ff8d00,#fa0a00 179.0px,#e70000 185.0px,#fa1900,#bae244,#00c6ff,#00c4ff,#b4ec4a,#ff3500,#ff3c00,#92fd6d,#0064ff,#0068ff,#9cec62,#f11600,#d20000 211.0px,#db0000 217.0px,#ff8600,#18bfe6,#0030ff,#0038ff,#0068ff,#0080ff,#00ccff,#83ff7c,#cbff34,#a2ff5c,#34ffca,#08fff7,#05fffa 243.0px"></i>
<i style="--g:#00a0ff 1.0px,#00a2ff,#00caff,#2bffd4 7.0px,#7eff80 11.0px,#e0ff1f,#fff700 15.0px,#eaff15 21.0px,#ffcd00,#fc2200,#d60000,#d70000,#f70500,#ff2200,#ff2200,#f70500,#d70000,#d10000 41.0px,#d30000 51.0px,#ef0900,#e4c61a,#3afbc4,#24f8da 59.0px,#b5ff4a 63.0px,#b4ff4a 65.0px,#14ffea 69.0px,#0dfff2 71.0px,#68ff96 77.0px,#dfee20,#ff8700,#ff9400,#90ff6e,#00b7ff,#009bff,#27e9d7,#fac605,#ff5600,#ff6d00,#ffb600,#ffd800,#e0fc1e,#49ffb6,#0cfff3,#39ffc5,#b2ff4d,#e4ff1a,#f1fe0e 115.0px,#fce404 119.0px,#f0fe0f 123.0px,#e8ff16,#fee901,#ff7c00,#ff4f00,#ff5500 133.0px,#ff7900 137.0px,#fbd204,#44ffbb,#00e3ff,#00b4ff,#0050ff,#0027ff 149.0px,#0020ff 157.0px,#0000f9 161.0px,#0004fc 163.0px,#0088ff 167.0px,#00aaff,#3cffc3,#cbff33,#f4fb0a,#ff8100,#f70600,#e60000 181.0px,#e60000 185.0px,#fa1700,#c6db39,#03e4fc,#00e0ff,#b0fc4f,#ff7800,#ff8000,#7bff84,#0078ff,#0081ff,#a5e85a,#f11500,#d20000 211.0px,#d10000 215.0px,#db0000,#ff8600,#18bfe6,#0030ff,#0034ff,#005aff,#006eff,#00c2ff,#8bff73,#dbff24,#b0ff50,#38ffc6,#08fff7,#05fffa 243.0px"></i>
<i style="--g:#12f8ed 1.0px,#13f8ec,#2bffd4,#78ff86 7.0px,#bbff44 11.0px,#faf104,#ffd700,#ffe400,#f6fe09,#ecff12,#ffcc00,#fc2100,#d60000,#d50000 29.0px,#fe0600 33.0px,#fe0600 35.0px,#d50000 39.0px,#d10000 41.0px,#d20000 51.0px,#e90000,#ff7e00,#dff220,#d0fe2f 59.0px,#96ff69 65.0px,#0ffff0 69.0px,#07fff8 71.0px,#42ffbc 77.0px,#c9fd36,#ffac00,#ffb600,#80ff7f,#00b6ff,#009dff,#28ead6,#fac604,#ff5700,#ff7400,#ffce00,#fef601,#ccff32,#42ffbd,#0cfff4,#38ffc6,#b2ff4e,#e1ff1d,#d3ff2c,#aaff55,#99ff65,#aaff55,#d3ff2c,#e7ff17,#fee800,#ff7c00,#ff5000,#ff5c00,#ff8200,#ff9600,#eae215,#28f6d6,#00bdff,#0096ff,#0046ff,#0026ff 149.0px,#0022ff 157.0px,#000dff 161.0px,#0015ff 163.0px,#008bff 167.0px,#00acff,#3dffc2,#ccff32,#f5fa0a,#ff7f00,#f60500,#e60000,#e50000,#e70000,#fa1600,#d1d62e,#11f6ee,#05f4fa,#95ff6a,#ffcd00,#ffd500,#5cffa2,#008fff,#009eff,#aee651,#f51600,#db0000 211.0px,#d30000 215.0px,#dc0000,#ff8600,#18bfe6,#002fff,#002dff 225.0px,#004eff 229.0px,#00a8ff,#84ff7a,#daff25,#afff50,#38ffc6,#08fff7,#05fffa 243.0px"></i>
<i style="--g:#64ff9a 1.0px,#65ff99,#7eff80,#bcff42 7.0px,#effc10 11.0px,#ffce00,#ffb600,#ffc900,#fdf702,#f5ff0a,#ffc500,#fb2000,#d50000,#d30000 29.0px,#ec0000 33.0px,#d10000 41.0px,#d10000 51.0px,#de0000,#ff2e00,#ff7c00,#ff9a00,#eaef16,#90ff6e,#75ff89 65.0px,#06fdfa 69.0px,#00faff 71.0px,#05f7fa 75.0px,#15fdea,#94ff6a,#fce502,#faea05,#66ff98,#00bbff,#00a6ff,#2aeed5,#fac906,#ff6000,#ff8100,#ffe300,#f0ff0f,#baff45,#3cffc3,#0bfff4,#38ffc6,#b2ff4e,#e0ff1e,#bcff42,#5dffa2,#38ffc6,#5dffa2,#bcff42,#e5ff19,#fee800,#ff7c00,#ff5000,#ff6600,#ffa100,#ffbf00,#d6f628,#16e3ea,#0099ff,#007aff,#003eff,#0025ff 149.0px,#001cff 161.0px,#0026ff 163.0px,#0095ff 167.0px,#00b5ff,#3effc1,#c5ff39,#f0fe0e,#ff8300,#f50500,#e40000 181.0px,#f00000 185.0px,#fe1800,#d8d426,#1fffe0,#0cfef3 193.0px,#dfff20 197.0px,#d6ff28,#3afdc5,#0098ff,#00a9ff,#a7f658,#ff4800,#fe1d00,#fa1100,#e40000,#de0000,#ff8800,#18bfe7,#002eff,#0027ff 225.0px,#0035ff 229.0px,#0090ff,#70ff8f,#c8ff37,#a0ff5e,#34ffca,#08fff7,#05fffa 243.0px"></i>
<i style="--g:#9aff64 1.0px,#9cff62,#b3ff4c,#eaff14,#fcf802,#ffe300,#ffab00,#ff9600,#ffaa00,#ffe000,#fff300,#ffb400,#fa1c00,#d50000 27.0px,#df0000 33.0px,#d10000 41.0px,#d80000 53.0px,#f90900 55.0px,#ff4f00 59.0px,#ecda13,#73ff8b,#51ffad,#1effe2,#00e9ff 69.0px,#00c0ff 75.0px,#00d0ff,#40ffbf,#aeff51,#adff51,#3cffc2,#00caff,#00beff,#2ef7d1,#f6d208,#ff7600,#ff9400,#fdee02,#e6ff18,#b2ff4c,#39ffc5,#0bfff4,#38ffc6,#b2ff4e,#dfff1f,#b3ff4c,#3effc0,#10ffee,#3effc0,#b3ff4c,#e4ff1a,#fee800,#ff7c00,#ff5100,#ff7300,#ffcc00,#fcf203,#acff52,#03cefc,#0076ff,#005fff,#0036ff,#0025ff,#0024ff 151.0px,#0024ff 161.0px,#002eff 163.0px,#00adff 167.0px,#00caff,#3fffc0,#b2ff4c,#ddff22,#ff8c00,#f30400,#e20000 181.0px,#fe0600 185.0px,#ff2a00,#d8d927,#27ffd8,#0fffef 193.0px,#96ff68 197.0px,#8cff72,#1cece3,#0085ff,#008fff,#54fcaa,#f0db10,#fec600,#ff9200,#fa1600,#e50000,#ff8b00,#18bee7,#002eff,#0024ff 225.0px,#002bff 229.0px,#007cff,#46ffb8,#96ff68,#7aff84,#28ffd6,#07fff8,#05fffa 243.0px"></i>
<i style="--g:#beff41 1.0px,#beff40,#d5ff2a,#fef102 7.0px,#ffc200 11.0px,#ff8c00,#ff7800,#ff8c00,#ffc200,#ffd400,#ff9c00,#f81700,#d50000 27.0px,#d10000 51.0px,#d50000,#ef0000,#ff0a00,#ff2c00,#e8d217,#57ffa8 63.0px,#07f4f8 67.0px,#00c7ff,#00baff 71.0px,#007fff 75.0px,#0088ff,#05d6fa,#2fffd0,#36ffc8,#0efdf1,#00e0ff,#00deff,#39ffc6,#f2de0d,#ff9300,#ffad00,#faf404,#e4ff1a,#b2ff4e,#39ffc5,#0cfff4,#3affc4,#b2ff4c,#e1ff1d,#b4ff4c,#3cffc3,#0efff1,#3cffc3,#b2ff4d,#e4ff1a,#fee901,#ff7e00,#ff5500,#ff8400,#f3f10c,#caff34,#74ff8b,#00a7ff,#0053ff 143.0px,#002eff 147.0px,#0024ff 149.0px,#0024ff 161.0px,#0030ff 163.0px,#00cbff 167.0px,#00e6ff,#3fffbf,#98ff66,#c1ff3d,#ff9900,#f00400,#de0000,#f90600 183.0px,#ff4600 187.0px,#d3e32c,#26ffd9,#0cfff3 193.0px,#55ffa9 197.0px,#48ffb6,#03d2fc,#0062ff,#0060ff,#07c6f8,#3cfec2,#54ffab,#b4fa4b,#ff4d00,#f10000,#ff9200,#16bee9,#002eff,#0024ff 225.0px,#0028ff 229.0px,#006bff,#1af6e4,#54ffaa,#45ffba,#17ffe8,#05fffa,#03fffc 243.0px"></i>
<i style="--g:#d0ff2e 1.0px,#d2ff2d,#e8ff16,#ffdf00 7.0px,#ffb100 11.0px,#ff7e00,#ff6c00,#ff7d00,#ffab00,#ffbb00,#ff8900,#f71300,#d60000 27.0px,#d30000 53.0px,#f00000 57.0px,#fd1500,#eec810,#5effa0,#33ffcc,#04ebfb,#00adff,#009cff 71.0px,#0050ff 75.0px,#0053ff 77.0px,#00ccff 81.0px,#01f9fe 89.0px,#47ffb8,#ecea13,#ffb200,#ffc600,#f9f906,#e4ff1a,#b4ff4c,#40ffbf,#14ffeb,#44ffbb,#bfff40,#eeff10,#c4ff3a,#55ffaa,#2affd5,#51ffad,#b8ff46,#e5ff19,#fcee02,#ff9400,#ff7200,#ffa800,#ccff32,#90ff6e,#40ffbf,#0083ff,#0037ff 143.0px,#0024ff 149.0px,#0024ff 161.0px,#0032ff 163.0px,#00d7ff 167.0px,#00f1ff,#39ffc5,#81ff7d,#aaff55,#ffa300,#ef0300,#dc0000,#fb0b00 183.0px,#ff5700 187.0px,#d0e92f,#25ffda,#08fff7 193.0px,#28ffd6 197.0px,#19ffe6,#00aeff,#0044ff,#0039ff 205.0px,#008aff 209.0px,#0099ff,#35edc9,#ff8c00,#ff0c00,#ffa400,#12bced,#002eff,#0024ff 225.0px,#0027ff 229.0px,#005bff,#02d8fe,#10feef 235.0px,#00f4ff 243.0px"></i>
<i style="--g:#c7ff38 1.0px,#c8ff36,#dfff20,#ffe800 7.0px,#ffc000 11.0px,#ff9800,#ff8900 15.0px,#ffb000 21.0px,#ff8100,#f81200,#da0000 27.0px,#d20000 53.0px,#e00000 57.0px,#f50800,#ffa000,#bcff43,#8fff70,#22f8dc,#00a8ff 69.0px,#004cff 75.0px,#004fff 77.0px,#00b2ff 81.0px,#00c0ff 83.0px,#01fcfe 87.0px,#07fff8,#49ffb6,#e4f81b,#ffd200,#ffdf00,#f6fe08,#e4ff1a,#b9ff45,#54ffab,#2effd2,#60ff9e,#e1fb1e,#ffe500,#f2f80d,#a2ff5c,#80ff7e,#95ff69,#cdff32,#e4ff1a,#f6fc09,#ffd800,#ffc800,#f5ed0a,#93ff6b,#60ff9f,#1ef9e1,#006eff,#002aff 143.0px,#0024ff 161.0px,#002fff 163.0px,#00b8ff 167.0px,#00d0ff,#24fedb,#74ff8a,#9eff60,#ffaa00,#f00500,#de0000,#fa0800 183.0px,#ff4e00 187.0px,#d2e62d,#26ffd9,#08fff7 193.0px,#28ffd6 197.0px,#19ffe6,#00a8ff,#0038ff,#002aff 205.0px,#005aff 211.0px,#16cdea,#f4c20a,#ff4e00,#ecc512,#06b9f9,#002dff 223.0px,#0024ff 227.0px,#0026ff,#004aff,#00a3ff,#00c7ff 235.0px,#00c5ff 243.0px"></i>
<i style="--g:#abff53 1.0px,#acff52,#c2ff3c,#f5fc0a,#ffee00 9.0px,#ffcd00 13.0px,#ffb000 21.0px,#ff8100,#fb1400,#e00000 27.0px,#d20000 33.0px,#d20000 53.0px,#d90000 57.0px,#ea0000,#ff4b00,#ffac00,#fad505,#6cff93,#00b3ff,#0091ff 71.0px,#0069ff 75.0px,#006eff 77.0px,#00cdff 81.0px,#02fefd 87.0px,#08fff7,#43ffbc,#d2ff2c,#fff200,#fef701 97.0px,#e4ff1a 101.0px,#c2ff3d,#70ff8f,#52ffac,#8bff73,#fbde04,#ffa700,#ffb800,#f9e606,#eef011 119.0px,#e5ff19 125.0px,#baff46 131.0px,#9cff62,#57ffa8,#37ffc8,#0cecf3,#0064ff,#0028ff 143.0px,#0024ff 161.0px,#002bff 163.0px,#007cff 167.0px,#0094ff,#14eceb,#6dff92,#9bff63,#ffaf00,#f30800,#e10000,#f60100,#ff0e00,#ff3400,#d7dc28,#29ffd6,#0cfff3 193.0px,#46ffb8 197.0px,#37ffc8,#00b7ff,#0038ff,#0029ff 205.0px,#0060ff 209.0px,#006bff,#0bd0f4,#daea25,#ffa600,#ceee30,#00aaff,#002cff,#0024ff 225.0px,#0025ff 229.0px,#003aff,#006dff,#0082ff 235.0px,#0084ff 243.0px"></i>
<i style="--g:#95ff6a 1.0px,#96ff68,#aaff54,#dbff24,#eeff10 9.0px,#fcf003 17.0px,#ffca00,#ffb600,#ff8800,#fe1a00,#eb0000 27.0px,#d10000 35.0px,#da0000 59.0px,#f60800,#ff2400,#ff5100,#aef650,#00c2ff,#009aff 71.0px,#009bff 77.0px,#00ecff 81.0px,#04fffb 87.0px,#08fff7,#3bffc3,#b9ff46,#ecff12 95.0px,#e4ff1a 101.0px,#ccff33,#91ff6e,#7cff82,#baff44,#ffa900,#ff6a00,#ff6e00 115.0px,#ff8a00 119.0px,#ffa900,#fdf002,#ebff14,#c5ff39,#6eff90,#4affb4 131.0px,#16ffe9 137.0px,#00deff,#005cff,#0028ff 143.0px,#0026ff 163.0px,#005cff 169.0px,#06d6fa,#5dffa1,#90ff6e,#ffb700,#f60a00,#e40000 181.0px,#f40000 185.0px,#fe1a00,#e3cf1c,#40ffbe,#24ffda 193.0px,#6bff93 197.0px,#5affa4,#01c9fe,#003cff,#002bff 205.0px,#0076ff 209.0px,#0080ff,#03d4fc,#adff52,#f3f50c,#98ff66,#0094ff,#002aff,#0024ff 225.0px,#0024ff 229.0px,#0053ff 235.0px,#005aff 243.0px"></i>
<i style="--g:#9bff64 1.0px,#a7ff57 5.0px,#c3ff3c,#ceff31 9.0px,#b6ff48 15.0px,#d2ff2d,#fee800,#ffca00,#ff9b00,#ff2e00,#fc0400,#fa0100 29.0px,#d40000 33.0px,#d10000 35.0px,#d20000 59.0px,#e00000 63.0px,#f71500,#c3dc3c,#00dbff,#00b3ff 71.0px,#00dfff 75.0px,#02fffd 83.0px,#08fff7 89.0px,#33ffcb,#a0ff5e,#cdff32 95.0px,#e4ff1a 101.0px,#d8ff26,#bbff44,#b2ff4c,#e7f618,#ff7600,#ff3800,#ff3600 115.0px,#ff3d00 119.0px,#ff6800,#ffd200,#fbfc04,#c7ff38,#48ffb7,#14ffeb 131.0px,#06fffa 137.0px,#00d2ff,#0058ff,#0027ff 143.0px,#002aff 167.0px,#003eff,#00b8ff,#33ffcc,#67ff97,#f3c30c,#f80e00,#e50000,#e40000,#e40000,#f60b00,#fbb604,#8bff73,#70ff8e 193.0px,#91ff6d 197.0px,#7aff84,#0ad1f4,#003eff,#002aff 205.0px,#0070ff 209.0px,#007aff,#00c0ff,#6cff92,#adff52,#59ffa5,#0080ff,#0029ff 223.0px,#0025ff 229.0px,#0060ff 235.0px,#0077ff 239.0px,#007eff 243.0px"></i>
<i style="--g:#b5ff49 1.0px,#adff51 9.0px,#9fff5f,#7cff82,#70ff8e,#94ff6a,#ebfc14,#ffe800,#ffba00,#ff4c00,#ff2000 27.0px,#f40200 31.0px,#d60000 33.0px,#d20000 63.0px,#f00d00,#d0d12e,#0ceff3,#00d9ff,#11faee,#3effc0,#42ffbc 77.0px,#08fff6 81.0px,#06fff9 89.0px,#2bffd3,#86ff78,#acff52 95.0px,#e3ff1b 101.0px,#eeff11 107.0px,#fed501,#ff4900,#ff0f00,#ff0c00 115.0px,#ff0f00 119.0px,#ff3e00,#ffb100,#ffe300,#dafe24,#46ffb9,#09fff6 131.0px,#02fefd 137.0px,#00cfff,#0058ff,#0027ff 143.0px,#0024ff 167.0px,#0034ff,#0092ff,#04eefb,#28fed6,#ddcf22,#f91300,#e50000 181.0px,#dc0000 185.0px,#ef0200,#ff7700,#f0ef0f 191.0px,#d0ff2f 195.0px,#98ff66 199.0px,#16d7ea,#0040ff,#0028ff 205.0px,#0054ff 209.0px,#005bff,#0098ff,#2dffd2,#64ff9a,#25fbda,#0070ff,#0028ff,#0024ff 225.0px,#0025ff 229.0px,#003fff,#007fff,#009aff,#00aaff,#00ceff 239.0px,#00ddff 243.0px"></i>
<i style="--g:#c8ff37 1.0px,#b9ff46 5.0px,#97ff67 7.0px,#71ff8d 11.0px,#3dffc2,#2affd4,#56ffa8,#c4ff3a,#f4fe0b,#ffda00,#ff6c00,#ff4000,#ff3600,#fb0c00,#da0000 33.0px,#d10000 37.0px,#d10000 61.0px,#d30000,#ef0b00,#dacc24,#1bfde4,#03f9fc 71.0px,#8eff70 75.0px,#8eff70 77.0px,#08fef8 81.0px,#00f8fe 89.0px,#18ffe7,#62ff9c 93.0px,#96ff68 97.0px,#c3ff3c 99.0px,#fff700 105.0px,#ffe600,#ffae00,#ff2900,#f20000 113.0px,#f20000 119.0px,#ff2300,#ff9b00,#ffd000,#e2f91c,#46ffb8,#04fefa 131.0px,#00f7ff 137.0px,#00c8ff,#0055ff,#0027ff 143.0px,#0020ff 167.0px,#002cff 169.0px,#00b1ff 173.0px,#04e2fa,#c5dd3a,#fc1900,#e90000 181.0px,#d70000 185.0px,#e30000,#ff3800,#ff8b00,#ffa300,#fde102,#dcff23,#b4ff4b,#1edce0,#0042ff,#0026ff 205.0px,#0039ff 211.0px,#006cff,#06e5f9,#1cffe3,#05e0fa,#005cff,#0024ff,#0020ff 225.0px,#0023ff 229.0px,#004bff,#00aeff,#00d8ff,#03edfc,#26ffd9,#3cffc3,#3cffc2 243.0px"></i>
<i style="--g:#b2ff4c 1.0px,#b0ff4e,#9cff63,#68ff96 7.0px,#37ffc8 11.0px,#06f2f9,#00e2ff,#1dfae2,#9bff64,#d3ff2c,#f5f10a,#ff8d00,#ff6000,#ff5400,#ff1a00,#df0000 33.0px,#d10000 39.0px,#d10000 59.0px,#d60000 63.0px,#f00c00,#dfca20,#28ffd7,#0dfff2 71.0px,#9dff62 75.0px,#9aff64,#40ffbf,#00e4ff 81.0px,#00c7ff 87.0px,#00c7ff,#01e0fe,#20fede 93.0px,#52ffad 97.0px,#87ff77 99.0px,#b5ff4a 103.0px,#e7fe18,#f8f606,#ffc000,#ff2f00,#f40000 113.0px,#f30000 119.0px,#ff2800,#ffa900,#ffe200,#d5fe2a,#34ffcb,#00f0ff 131.0px,#00d3ff 137.0px,#00acff,#004dff,#0026ff 143.0px,#0023ff 157.0px,#0014ff 163.0px,#001cff 169.0px,#00b2ff 175.0px,#b0ec4e,#ff2900,#f80100 181.0px,#d50000 185.0px,#da0000,#fc0e00,#ff3c00,#ff5200,#ffb000,#f0ff0e,#c2ff3d,#24dedb,#0043ff,#0024ff 205.0px,#001bff 211.0px,#0043ff,#00a4ff,#00c9ff,#00a3ff,#0040ff,#0017ff 223.0px,#0018ff 229.0px,#004aff,#00c6ff,#01f9fe,#18ffe7,#56ffa8,#70ff8e,#72ff8c 243.0px"></i>
<i style="--g:#76ff88 1.0px,#75ff89,#5effa0,#25ffda,#0ffcf0,#04edfb,#00b2ff,#009cff,#02d7fd,#71ff8d,#b2ff4c,#e2fe1c,#ffae00,#ff8000,#ff7200,#ff2d00,#e70000 33.0px,#d20000 39.0px,#d20000 59.0px,#db0000 63.0px,#f30e00,#e0cc1f,#2bffd4,#0efff2 71.0px,#6eff90 75.0px,#66ff98,#14f1ea,#00a6ff 81.0px,#0075ff 87.0px,#0074ff,#0089ff,#00beff 93.0px,#05e8fa 97.0px,#27ffd8 99.0px,#58ffa6 103.0px,#92ff6c,#adff52,#e8f117,#ff5a00,#ff1400 113.0px,#ff1200 119.0px,#ff4c00,#fdd802,#e6ff19,#a5ff59,#18f6e8,#00d0ff 131.0px,#007bff 139.0px,#003eff,#0025ff 143.0px,#0021ff 157.0px,#0004fe 161.0px,#0008fe 169.0px,#0057ff 173.0px,#008bff,#9efc61,#ff4700,#ff1500,#f30200,#d60000,#d60000,#f10000,#ff0e00,#ff2500,#ff9500,#f4fc0a,#c6ff39,#24deda,#0044ff,#0022ff,#0012ff 207.0px,#0004fe 211.0px,#001bff,#0059ff,#0070ff,#0058ff,#001bff,#0004fe 223.0px,#0005fe 229.0px,#003cff,#00c7ff,#03fefc,#20ffde,#62ff9c,#7cff82,#7eff80 243.0px"></i>
<i style="--g:#34ffcb 1.0px,#32ffcc,#1cffe3,#00e4ff 7.0px,#00b2ff 11.0px,#0074ff,#0060ff,#00a3ff,#4dffb2,#94ff6a,#c4ff3a,#ffcd00,#ffa200,#ff9100 29.0px,#f20000 33.0px,#d10000 41.0px,#d20000 59.0px,#e00000 63.0px,#f61000,#decd20,#2bffd4,#09fff6 71.0px,#34ffcb 75.0px,#27ffd8,#00c5ff,#0064ff 81.0px,#0022ff 87.0px,#0020ff,#0031ff,#005cff 93.0px,#0088ff 97.0px,#00c2ff,#00dcff,#06eff8,#31ffce,#4effb1,#a0ff5e,#ff9600,#ff4400,#ff3f00 115.0px,#ff4300 119.0px,#ff8000,#e1f91e 123.0px,#6bff93 127.0px,#03e0fc,#00acff,#0096ff,#0067ff 135.0px,#0022ff 143.0px,#001fff 155.0px,#001bff,#0006fd,#0000ed 161.0px,#0000f1 169.0px,#0014ff,#0036ff,#0068ff,#7dff82,#ff6d00 179.0px,#fc0e00 183.0px,#dc0000,#d70000 187.0px,#f30000 191.0px,#fd0c00,#ff8600,#f6fb0a,#c6ff39,#25deda,#0044ff 203.0px,#0009fe 207.0px,#0000ef 209.0px,#0002f6 213.0px,#001eff 217.0px,#0002f6 221.0px,#0000ec 223.0px,#0000ef 229.0px,#002dff,#00c2ff,#04fefc,#22ffde,#62ff9c,#7eff80,#7fff7f 243.0px"></i>
<i style="--g:#04f8fb 1.0px,#00eaff 5.0px,#00c4ff 7.0px,#0099ff 11.0px,#005cff,#0048ff,#008dff,#3affc5,#82ff7c,#b0ff4f,#fde902,#ffc200,#ffb100 29.0px,#fc0800 33.0px,#d40000 39.0px,#d10000 41.0px,#d20000 59.0px,#e40000 63.0px,#f81200,#dece21,#2bffd4,#07fff8 71.0px,#0ffff0 75.0px,#05f9fa 77.0px,#0033ff 81.0px,#0009fd 85.0px,#0000ee 87.0px,#0002f6 91.0px,#0040ff 97.0px,#0078ff 99.0px,#00aaff 103.0px,#01e6fe,#0afaf5,#56ffa9,#f5dc0a,#ff9600 113.0px,#ff9600 119.0px,#fdce02,#9eff60 123.0px,#2effd1 127.0px,#00b8ff,#0087ff,#006eff,#0039ff,#0024ff 137.0px,#0019ff 141.0px,#0009ff 157.0px,#0000d8 161.0px,#0000d5 163.0px,#0000e3 169.0px,#0004fa,#0019ff,#0048ff,#56f8a8,#ffa800 179.0px,#ff3200 183.0px,#f10000,#e80000 187.0px,#fa0400 191.0px,#fe1400,#ff8c00,#f5fb0a,#c6ff39,#25deda,#0043ff 203.0px,#0006fb 207.0px,#0000e3 209.0px,#0000e2 229.0px,#0024ff,#00c0ff,#04fefc,#22ffde,#62ff9c,#7eff80,#7fff7f 243.0px"></i>
<i style="--g:#00d3ff 1.0px,#00c6ff 9.0px,#00adff,#0071ff,#005cff,#009cff,#3affc4,#7eff80,#a4ff5a,#f3f90c,#ffe100,#ffd100 29.0px,#ff2300 33.0px,#f20000 37.0px,#d60000,#d10000 41.0px,#d10000 57.0px,#e40000 63.0px,#f91200,#dece21,#2bffd4,#06fff9 71.0px,#06fffa 75.0px,#00f2ff 77.0px,#0017ff 81.0px,#0004fe 83.0px,#0000df 87.0px,#0000e5 91.0px,#0002fa,#0006fe,#001aff,#004dff 99.0px,#007cff 103.0px,#00b8ff,#00d5ff,#1cf9e3,#afff4f,#e6f719 113.0px,#e6f718 119.0px,#beff40,#4affb4,#18ffe7,#05e8fa,#008bff,#0063ff,#004cff,#001aff,#0006ff 137.0px,#0002fa 145.0px,#0000e8 149.0px,#0000e5 157.0px,#0000c3 161.0px,#0000c2 163.0px,#0000f0 171.0px,#0004fe,#002bff,#35e0c9,#f3f00c,#ffc700 181.0px,#ff1800 185.0px,#ff0c00 187.0px,#ff4700 193.0px,#f4fe0b 197.0px,#c6ff39,#25deda,#0043ff 203.0px,#0006fa 207.0px,#0000e0,#0000db 211.0px,#0000df 229.0px,#0022ff,#00c0ff,#04fefc,#22ffde,#62ff9c,#7eff80,#7fff7f 243.0px"></i>
<i style="--g:#00b6ff 1.0px,#00c2ff 5.0px,#00deff,#00e8ff,#00d0ff,#0097ff,#0083ff,#00baff,#48ffb8,#82ff7c,#a1ff5d,#e6ff18,#fefb00,#ffeb00 29.0px,#ff3e00 33.0px,#f80700 37.0px,#d70000 39.0px,#d20000 59.0px,#e40000 63.0px,#f91200,#dfce20,#2dffd1,#08fff7 71.0px,#04fffa 75.0px,#00f0ff 77.0px,#0008fa 81.0px,#0000ee 83.0px,#0000db 89.0px,#0005fa 97.0px,#002cff 99.0px,#0058ff 103.0px,#0093ff,#00aeff,#00d8fe,#40ffbe,#6aff94 113.0px,#6aff94 119.0px,#48ffb6,#07ecf8 123.0px,#00acff 127.0px,#0060ff 129.0px,#002cff 133.0px,#0005fb,#0000ef 137.0px,#0000ed 143.0px,#0000c2 149.0px,#0000c0 157.0px,#0000b0 161.0px,#0000b2 163.0px,#0000d8 167.0px,#0000ef 173.0px,#0014fd,#14caeb,#aaff54,#ddff22,#ffb200,#ff4400,#ff3700 187.0px,#ff7400 191.0px,#ff8400,#ffc900,#eeff10,#c3ff3b,#24deda,#0043ff 203.0px,#0005f9 207.0px,#0000df 209.0px,#0000df 229.0px,#0022fe,#00bfff,#04fefc,#22ffde,#62ff9c,#7eff80,#7fff7f 243.0px"></i>
<i style="--g:#00bcff 1.0px,#00beff,#00d0ff,#04f8fb,#0efff1,#04f7fa,#00d0ff,#00c2ff,#07eaf8,#69ff95,#9bff63,#b6ff48,#effe10,#fff600,#ffe700 29.0px,#ff4200 33.0px,#ff2e00,#f90900,#d80000 39.0px,#d20000 59.0px,#e40000 63.0px,#f81200,#e4cc1b,#3bffc4,#16ffe9 71.0px,#06fff9 75.0px,#00f0ff 77.0px,#0006f8 81.0px,#0000e9 83.0px,#0000dc 87.0px,#0000d8 95.0px,#0000e8,#000fff 99.0px,#0036ff 103.0px,#006aff 105.0px,#009bff 109.0px,#00d9ff,#07ebf8 113.0px,#07ebf8 119.0px,#01dcfe,#00a9ff 123.0px,#0078ff 127.0px,#003bff 129.0px,#0011ff 133.0px,#0000ee,#0000e0 137.0px,#0000de 143.0px,#0000b0 149.0px,#0000ab 161.0px,#0000ae 163.0px,#0000d8 167.0px,#0000e9 173.0px,#000dfa,#00b6ff,#64ff9a,#94ff6a,#f1e10e,#ff7600,#ff6700 187.0px,#ffa000 191.0px,#ffae00,#ffe600,#dfff20,#b8ff46,#20dcdf,#0042ff 203.0px,#0004f7 207.0px,#0000d8,#0000d2 211.0px,#0000d2 223.0px,#0000df 229.0px,#0022fe,#00bfff,#04fefc,#22ffde,#62ff9c,#7eff80,#7fff7f 243.0px"></i>
<i style="--g:#03f0fc 1.0px,#0af9f5 5.0px,#27ffd8,#35ffca 9.0px,#1fffe0 15.0px,#46ffb8,#a8ff56,#d1ff2e,#e8fe16,#ffdd00 25.0px,#ffb900 29.0px,#ff2600 33.0px,#f40200 37.0px,#d60000,#d10000 41.0px,#d10000 57.0px,#e40000 63.0px,#f81000,#eec611,#58ffa6,#34ffcb 71.0px,#08fff7 75.0px,#00f1ff 77.0px,#000efe 81.0px,#0000f7 83.0px,#0000dd 87.0px,#0000c4 95.0px,#0000d2,#0001f6,#0007ff,#0016ff,#003aff 105.0px,#005aff 109.0px,#007eff 111.0px,#008eff 115.0px,#008eff 119.0px,#0066ff 125.0px,#0051ff,#001eff,#0008ff,#0002fb 133.0px,#0000dc 137.0px,#0000db 143.0px,#0000c0 147.0px,#0000b7 151.0px,#0000ba 163.0px,#0000f7 173.0px,#0012fe,#00a4ff,#37ffc7,#62ff9c,#d3fb2c,#ffb200,#ffa000 187.0px,#ffbc00 193.0px,#f6f108 195.0px,#9fff5f 199.0px,#18d8e8,#0040ff 203.0px,#0001f1 207.0px,#0000ca,#0000c3 211.0px,#0000c3 223.0px,#0000df 229.0px,#0022ff,#00c0ff,#04fefc,#22ffde,#63ff9b,#7eff80,#7fff7f 243.0px"></i>
<i style="--g:#3dffc2 1.0px,#45ffba 5.0px,#86ff78 15.0px,#a5ff59,#edfa12,#ffec00,#ffd400,#ff9e00 25.0px,#ff7c00 29.0px,#fb0500 33.0px,#f30000 35.0px,#d40000 39.0px,#d10000 57.0px,#e40000 63.0px,#f80d00,#fabf04,#7cff82 69.0px,#0bfff4 75.0px,#00f2ff 77.0px,#0020ff 81.0px,#0000f4 85.0px,#0000de 87.0px,#0000d2 91.0px,#0000ba,#0000b1,#0000bf,#0000e0 99.0px,#000cfe 105.0px,#0034ff 113.0px,#0042ff 125.0px,#0030ff,#0007fc,#0000f2 131.0px,#0000db 137.0px,#0000db 143.0px,#0000ca 149.0px,#0000c9 161.0px,#0000de 169.0px,#0000f4 171.0px,#0022ff 175.0px,#009aff,#14ffea,#39ffc6,#a3ff5c,#fcee03 185.0px,#ffba00 191.0px,#ffc400,#ebf914,#a7ff57,#82ff7d,#0dd3f1,#0042ff,#0020ff,#0000ee,#0000be,#0000b6 211.0px,#0000b6 223.0px,#0000e6 229.0px,#0027ff,#00c2ff,#05fffa,#23ffdc,#64ff9a,#7fff7f,#81ff7d 243.0px"></i>
<i style="--g:#84ff7a 1.0px,#8eff70 9.0px,#a1ff5d,#ceff30 13.0px,#f4f60b 17.0px,#ffc300 19.0px,#ff9300 23.0px,#ff6400 25.0px,#ff4600 29.0px,#fe1600,#e30000 33.0px,#d20000 39.0px,#d20000 59.0px,#e40000 63.0px,#f70b00,#ffb100,#9eff60,#79ff85 71.0px,#0dfff2 75.0px,#00f4ff 77.0px,#002eff 81.0px,#0004f8 85.0px,#0000e0 87.0px,#0000ce 91.0px,#0000b0,#0000a4 95.0px,#0000d9 101.0px,#0000f2 111.0px,#0004fa 121.0px,#0022ff 125.0px,#0015ff,#0000f0,#0000e2 131.0px,#0000dc 135.0px,#0000d6 149.0px,#0000db 167.0px,#0000e0,#0004f8 171.0px,#002eff 175.0px,#02f0fe 179.0px,#12feed,#6eff90,#ccff32 185.0px,#f7f608 189.0px,#ffe000,#ffe600,#cfff30,#84ff7a,#62ff9c,#06d5f9,#0054ff 203.0px,#000df9 207.0px,#0000d6,#0000ce 211.0px,#0000cf 223.0px,#0000dd,#0009f6,#0013fe,#004bff,#00d6ff,#12ffed,#30ffcf,#70ff8e,#8aff74,#8cff72 243.0px"></i>
<i style="--g:#c8ff37 1.0px,#caff34 9.0px,#e0ff1f,#fee701 13.0px,#ffb700 17.0px,#ff7c00 19.0px,#ff5300 23.0px,#ff3100 25.0px,#ff1c00 29.0px,#f60300,#d80000 33.0px,#d20000 59.0px,#f70900 65.0px,#ffa000,#beff41,#98ff66 71.0px,#10ffef 75.0px,#00f4ff 77.0px,#0033ff 81.0px,#0005fa 85.0px,#0000e0 87.0px,#0000cd 91.0px,#0000ac,#0000a0 95.0px,#0000d7 105.0px,#0000de 119.0px,#0003fd 123.0px,#000aff,#0002fc 127.0px,#0000dc 131.0px,#0000e0 169.0px,#0005fa 171.0px,#0030ff 175.0px,#00cfff 179.0px,#00e9ff,#39ffc6,#88ff76 185.0px,#d0ff2f 191.0px,#caff34 193.0px,#5cffa2 197.0px,#44ffba,#04e0fc,#0085ff,#0070ff 205.0px,#0028ff 209.0px,#0022ff 211.0px,#0023ff 223.0px,#0035ff,#0061ff,#0076ff,#00a0ff,#0ef7f1 233.0px,#4cffb2 237.0px,#8aff74,#a3ff5c,#a4ff5a 243.0px"></i>
<i style="--g:#fcf204 1.0px,#fcf202 9.0px,#ffde00,#ffa800 13.0px,#ff7500 17.0px,#ff3800,#ff1f00 21.0px,#f90200 27.0px,#f70100 29.0px,#d40000 33.0px,#d10000 35.0px,#d10000 57.0px,#e50000 63.0px,#f70800,#ff9100,#dbff24,#b6ff48 71.0px,#12ffec 75.0px,#00f4ff 77.0px,#0035ff 81.0px,#0006fa 85.0px,#0000e0 87.0px,#0000cd 91.0px,#0000ac,#0000a0 95.0px,#0000bc 103.0px,#0000da 107.0px,#0000db 119.0px,#0000f3 125.0px,#0000da 131.0px,#0000df 169.0px,#0005f9 171.0px,#002eff 175.0px,#00adff 179.0px,#00c2ff,#0df5f2,#43ffbc 185.0px,#6cff92 191.0px,#6aff94 193.0px,#32ffcd 197.0px,#25ffda,#02f0fc,#00c0ff 203.0px,#0090ff 209.0px,#008cff 211.0px,#0090ff 223.0px,#00a5ff,#02dafe 227.0px,#12f8ec 231.0px,#40ffbf 233.0px,#70ff8e 237.0px,#aaff54,#c1ff3d,#c2ff3c 243.0px"></i>
<i style="--g:#ffbe00 1.0px,#ffbc00 9.0px,#ffa500,#ff6e00 13.0px,#ff3c00 17.0px,#fa0800,#ea0000 21.0px,#d20000 33.0px,#d10000 57.0px,#d30000 59.0px,#ee0000 63.0px,#fb0a00,#ff8900,#effe10,#ccff33 71.0px,#14ffeb 75.0px,#00f5ff 77.0px,#003eff 81.0px,#0009fc 85.0px,#0000e1 87.0px,#0000ce 91.0px,#0000b0 93.0px,#0000a4 97.0px,#0000a5 101.0px,#0000af,#0000ca 105.0px,#0000da 111.0px,#0000e2 125.0px,#0000d5 131.0px,#0000da 169.0px,#0002f6 171.0px,#0025ff 175.0px,#0085ff 179.0px,#0096ff 181.0px,#06f0f9 185.0px,#11f8ee 191.0px,#06fef8 199.0px,#00ecff 205.0px,#07eef8 223.0px,#13faec,#45ffba,#5cffa2 229.0px,#7dff81 235.0px,#92ff6c,#c5ff3a,#d9ff26,#daff25 243.0px"></i>
<i style="--g:#ff9400 1.0px,#ff9200 9.0px,#ff7b00,#ff4000 13.0px,#ff1400 17.0px,#e70000,#d50000,#d40000 23.0px,#d10000 57.0px,#d40000 59.0px,#fe0600 63.0px,#ff1b00,#ff9000,#f4fc0a,#d4ff2a 71.0px,#14ffea 75.0px,#00f6fe,#00a6ff,#0055ff,#0040ff,#0012ff,#0000e2 87.0px,#0000d2 91.0px,#0000bb 93.0px,#0000a0 101.0px,#0000be 105.0px,#0000db 113.0px,#0000dc 125.0px,#0000c8 131.0px,#0000c8 135.0px,#0000db 143.0px,#0000db 155.0px,#0000c9 161.0px,#0000c8 167.0px,#0000cc,#0000ea,#0008ff,#0012ff 175.0px,#0054ff 179.0px,#005fff 181.0px,#00a1ff 185.0px,#00acff 193.0px,#00ddff 197.0px,#01fefe 203.0px,#04fffa 205.0px,#25ffda 209.0px,#2fffcf 219.0px,#5cffa2 225.0px,#88ff77,#99ff65 229.0px,#a0ff5f 235.0px,#afff4f,#d4ff2b,#e3ff1b,#e4ff1a 243.0px"></i>
<i style="--g:#ff7200 1.0px,#ff7200 9.0px,#ff5800,#ff1b00,#fb0500,#f40100,#dc0000,#d20000 21.0px,#d70000 59.0px,#f70400 61.0px,#ff3800 65.0px,#ffa000,#f5fe0a,#d6ff29 71.0px,#14ffea 75.0px,#01f8fe,#00b7ff,#0075ff,#0060ff,#0023ff,#0000e6 87.0px,#0000bb 97.0px,#00009f 101.0px,#0000be 109.0px,#0000da 113.0px,#0000da 125.0px,#0000b6 131.0px,#0000b5 135.0px,#0000be 139.0px,#0000da 143.0px,#0000db 155.0px,#0000d8 157.0px,#0000b8 161.0px,#0000b6 167.0px,#0000bb 169.0px,#0000f4 173.0px,#0001fa 175.0px,#0049ff 185.0px,#0054ff 193.0px,#00b5ff 197.0px,#00c2ff 199.0px,#02fefd 203.0px,#0afff5 205.0px,#4affb4 209.0px,#52ffac 217.0px,#5fff9f,#81ff7e 221.0px,#9aff64 225.0px,#b3ff4b,#bdff42 229.0px,#beff40 235.0px,#dbff23 239.0px,#e4ff1a 243.0px"></i>
<i style="--g:#ff5900 1.0px,#ff5700 9.0px,#ff3e00,#f70600,#e20000 15.0px,#d10000 21.0px,#d10000 57.0px,#da0000,#fc0f00,#ff3f00,#ff5600,#ffb000,#f4ff0b,#d6ff29 71.0px,#14ffea 75.0px,#02fafe,#00c9ff,#0096ff,#0081ff,#0037ff,#0000ed 87.0px,#0000d3 95.0px,#0000a4 101.0px,#0000ab 107.0px,#0000b5,#0000d0 111.0px,#0000db 115.0px,#0000da 125.0px,#0000d0,#0000b5 129.0px,#0000aa 133.0px,#0000ab 137.0px,#0000da 143.0px,#0000db 155.0px,#0000d8 157.0px,#0000b2 161.0px,#0000b0 163.0px,#0000bc 169.0px,#0000ee 173.0px,#0000fa 177.0px,#000ffd 193.0px,#008fff 197.0px,#00a0ff 199.0px,#02fcfe 203.0px,#0cfff4 205.0px,#60ff9f 209.0px,#70ff8e 217.0px,#82ff7c,#aeff50,#c0ff3f 223.0px,#d0ff2e 229.0px,#deff21 243.0px"></i>
<i style="--g:#ff4e00 1.0px,#ff4c00 9.0px,#ff3200,#f00000,#d50000 15.0px,#d10000 19.0px,#d10000 57.0px,#db0000,#ff1d00,#ff5c00,#ff7400,#ffc000,#f2ff0d,#d6ff29 71.0px,#14ffea 75.0px,#02fdfd,#00dbff,#00b7ff,#00a4ff 83.0px,#0004fa 87.0px,#0000d0 97.0px,#0000b0 101.0px,#0000b1 107.0px,#0000da 113.0px,#0000da 125.0px,#0000b1 131.0px,#0000b0 135.0px,#0000ba 139.0px,#0000da 143.0px,#0000d9 157.0px,#0000c7 163.0px,#0000e8 169.0px,#000eff 173.0px,#0010ff 181.0px,#0002f8,#0000e4,#0000e0 187.0px,#0000e0 191.0px,#0000eb,#002cff,#006cff,#007fff 199.0px,#01fafe 203.0px,#0bfff4 205.0px,#54ffaa 209.0px,#7dff81 217.0px,#8eff71,#b4ff4b,#c3ff3c 223.0px,#c8ff36 243.0px"></i>
<i style="--g:#ff4c00 1.0px,#ff4a00 9.0px,#ff3000,#ed0000,#d30000,#d10000 17.0px,#d20000 55.0px,#df0000 59.0px,#ff2e00,#ff7b00,#ff9200,#ffd000,#efff10,#d5ff2a 71.0px,#14ffea 75.0px,#02fffc,#00ecff 79.0px,#00c6ff 83.0px,#0015ff 87.0px,#0002fa 91.0px,#0000e5 93.0px,#0000c1 101.0px,#0000c1 107.0px,#0000da 113.0px,#0000db 123.0px,#0000d5 127.0px,#0000c2 131.0px,#0000c1 135.0px,#0000db 143.0px,#0000dd 157.0px,#0000f0 163.0px,#0029ff 167.0px,#0046ff 173.0px,#0047ff 179.0px,#0040ff,#0014fe,#0000e4 185.0px,#0000dc 189.0px,#0000e5 193.0px,#0019ff,#004bff,#0060ff 199.0px,#00f7fe 203.0px,#08fff7 205.0px,#34ffca 209.0px,#48ffb6 213.0px,#6eff90 215.0px,#a9ff55 223.0px,#a9ff55 243.0px"></i>
<i style="--g:#ff4c00 1.0px,#ff4400 9.0px,#ff2a00,#ec0000,#d20000 15.0px,#d10000 45.0px,#d90000 53.0px,#f10100 59.0px,#ff4700,#ff9b00,#ffb000,#ffe300,#e7ff17,#d0ff2f 71.0px,#14ffea 75.0px,#04fffb 77.0px,#00f4ff 81.0px,#00e4ff 83.0px,#002eff 87.0px,#0010ff 91.0px,#0000ee 93.0px,#0000ce 101.0px,#0000db 119.0px,#0000d2 137.0px,#0000ea 157.0px,#0005fb 159.0px,#0022ff 163.0px,#006eff 167.0px,#007eff 175.0px,#0074ff 181.0px,#0002f5 185.0px,#0000ec 187.0px,#0000f3 193.0px,#0018ff,#003cff,#004fff 199.0px,#00f6ff 203.0px,#19ffe6 211.0px,#2effd0,#62ff9c,#77ff87 217.0px,#88ff76 223.0px,#88ff76 243.0px"></i>
<i style="--g:#ff4c00 1.0px,#ff4500 5.0px,#ff1900 11.0px,#e70000,#d20000 15.0px,#d10000 45.0px,#f30000 53.0px,#ff2e00 59.0px,#ffbd00 63.0px,#ffd000,#f8f607,#d4ff2b,#beff41 71.0px,#13ffec 75.0px,#05fffa 77.0px,#02fffd 81.0px,#00f3ff 83.0px,#004bff 87.0px,#002bff 91.0px,#0005fb 93.0px,#0000cb 101.0px,#0000cc 113.0px,#0000db 119.0px,#0000db 143.0px,#0000ef 151.0px,#000fff 157.0px,#0052ff 161.0px,#005dff 163.0px,#00a3ff 167.0px,#00a9ff 169.0px,#00aaff 179.0px,#00a1ff 181.0px,#002fff 185.0px,#0026ff 191.0px,#0029ff 193.0px,#0069ff 199.0px,#00f8fe 203.0px,#09fff6 211.0px,#1dffe2,#4cffb2,#60ff9f 217.0px,#64ff9a 243.0px"></i>
<i style="--g:#ff4c00 1.0px,#ff3d00 5.0px,#ff1a00 7.0px,#fa0300 11.0px,#de0000 13.0px,#d10000 17.0px,#d10000 45.0px,#d60000,#f10100 49.0px,#ff1b00 53.0px,#ff7900 57.0px,#ff8800 59.0px,#ffe200 63.0px,#fff000,#e2ff1d,#b6ff49,#a2ff5c 71.0px,#11ffed 75.0px,#06fff9 77.0px,#00f8fe 83.0px,#006cff 87.0px,#004aff 91.0px,#0018ff,#0004fe,#0000f2,#0000cb,#0000bb,#0000ba 103.0px,#0000bb 113.0px,#0000db 119.0px,#0000db 141.0px,#0000e4 145.0px,#0001f8 147.0px,#0008ff 151.0px,#003bff 155.0px,#0045ff 157.0px,#0095ff 161.0px,#009fff 163.0px,#00ccff 167.0px,#00caff 181.0px,#0081ff 185.0px,#007bff 191.0px,#007eff 193.0px,#00a4ff 199.0px,#01fcfe 203.0px,#06fff9 211.0px,#3cffc2 217.0px,#3effc1 243.0px"></i>
<i style="--g:#ff4600 1.0px,#ff4500,#ff3100,#f90500,#e90000 9.0px,#d10000 15.0px,#d80000 47.0px,#f90900,#ff2f00,#ff4000 53.0px,#ffc600 57.0px,#fafd04 63.0px,#f2ff0d 65.0px,#9aff65 69.0px,#88ff76 71.0px,#14ffea 75.0px,#05fffa 81.0px,#01fafe 83.0px,#008dff 87.0px,#006cff 91.0px,#0034ff 93.0px,#0007fa 97.0px,#0000c8,#0000b1,#0000b0 103.0px,#0000b0 113.0px,#0000de 119.0px,#0000df 143.0px,#0000ec,#000dff 147.0px,#0022ff 151.0px,#006bff 155.0px,#0078ff 157.0px,#00d2ff 161.0px,#00edff 167.0px,#00ecff 181.0px,#00cfff 185.0px,#00ccff 191.0px,#00ddff 199.0px,#02fffc 203.0px,#05fffa 211.0px,#1cffe3 217.0px,#1cffe2 243.0px"></i>
<i style="--g:#ff3200 1.0px,#ff3100,#ff1d00,#eb0000,#d60000 9.0px,#d10000 15.0px,#d10000 45.0px,#d90000,#fc1000,#ff4000,#ff5200 53.0px,#ffd600 57.0px,#fdf902 61.0px,#e2ff1c 65.0px,#8aff74 69.0px,#7cff82 71.0px,#26ffd8 75.0px,#07fff8 81.0px,#02fcfe 83.0px,#00aeff 87.0px,#00a6ff,#008dff,#0052ff 93.0px,#001cff 97.0px,#0000d9,#0000be 101.0px,#0000bd 113.0px,#0000ea 119.0px,#0000db 125.0px,#0000db 131.0px,#0000ea 137.0px,#0000eb 143.0px,#0003fa,#0027ff 147.0px,#003fff 151.0px,#0087ff 155.0px,#0094ff 157.0px,#00f4ff 161.0px,#00fcfe 163.0px,#0afff6 243.0px"></i>
<i style="--g:#ff1000 1.0px,#fc0400 5.0px,#df0000,#d20000 9.0px,#d10000 45.0px,#da0000,#fd1100,#ff4300,#ff5200 53.0px,#ffab00 57.0px,#ffb900,#ffe500,#eeff11,#dfff20 65.0px,#87ff77 69.0px,#7cff82 71.0px,#46ffb8 75.0px,#3effc0 77.0px,#0afff5 81.0px,#03fefc 83.0px,#00d0ff 87.0px,#00cbff,#00b2ff,#0076ff 93.0px,#0040ff 97.0px,#0006f7,#0000e3 101.0px,#0000e2 113.0px,#0003fc 119.0px,#0000dc 125.0px,#0000dc 131.0px,#0002fc 137.0px,#0003fd 143.0px,#0014ff,#0045ff,#005aff,#005eff 151.0px,#008eff 155.0px,#009bff 157.0px,#00fafe 161.0px,#04fffc 163.0px,#06fffa 243.0px"></i>
<i style="--g:#ec0000 1.0px,#d10000 9.0px,#d20000 45.0px,#da0000,#fd1000,#ff4000 51.0px,#ff8000 59.0px,#f9fc06 63.0px,#eaff14 65.0px,#95ff6a 69.0px,#6cff92 77.0px,#1effe0 81.0px,#0cfdf3 85.0px,#04f4fb 89.0px,#00e0ff,#00a7ff 93.0px,#0072ff 97.0px,#0034ff,#001bff 101.0px,#0016ff 113.0px,#0022ff 119.0px,#0002f5 123.0px,#0000ea 125.0px,#0000e6 131.0px,#0008ff 135.0px,#0010ff 143.0px,#0026ff,#005bff,#0072ff 149.0px,#0093ff 157.0px,#00f0ff 161.0px,#00f8ff 163.0px,#05fffa 243.0px"></i>
<i style="--g:#d70000 1.0px,#d10000 33.0px,#dc0000 47.0px,#fb0a00,#ff3000 51.0px,#ff4b00 59.0px,#ffd200 63.0px,#ffe300,#f0f80e,#d2ff2c 69.0px,#c0ff3e 77.0px,#6fff8f 81.0px,#4cffb3 89.0px,#38ffc7,#13f2ec 93.0px,#01d5fe 97.0px,#009aff,#0082ff 101.0px,#0080ff 107.0px,#006eff 113.0px,#0070ff 119.0px,#0060ff,#0038ff 123.0px,#0017ff 129.0px,#000aff 143.0px,#001dff,#004dff,#0060ff 149.0px,#006eff 157.0px,#00bdff 161.0px,#00c3ff 163.0px,#00cfff 187.0px,#04fffc 203.0px,#05fffa 243.0px"></i>
<i style="--g:#d20000 1.0px,#d20000 35.0px,#de0000 47.0px,#f60200,#ff1000 51.0px,#ff1600 57.0px,#ff1e00 59.0px,#ff7d00 63.0px,#ff8800 65.0px,#ffb800 69.0px,#ffc100 77.0px,#fbda04 79.0px,#cbff34 87.0px,#b8ff46 91.0px,#97ff67 93.0px,#70ff8e 97.0px,#36ffc8,#24fada 101.0px,#23f9db 107.0px,#09e6f6 113.0px,#08e5f7 119.0px,#02d9fd,#00aeff 123.0px,#004cff 133.0px,#0019ff,#0005fe 137.0px,#0000ed 141.0px,#0000e8,#0002f3 145.0px,#0024ff 149.0px,#002aff 157.0px,#005eff 161.0px,#0064ff 169.0px,#007eff 175.0px,#0080ff 187.0px,#00a2ff 193.0px,#00ceff 197.0px,#00d5ff 199.0px,#02fefd 203.0px,#05fffa 243.0px"></i>
<i style="--g:#d10000 1.0px,#d20000 35.0px,#f40000 59.0px,#ff2100 63.0px,#ff3d00 69.0px,#ff4100 77.0px,#ff6400 83.0px,#ffb000 87.0px,#ffd600 95.0px,#f6e409,#d7fc28,#c3ff3c 101.0px,#beff40 107.0px,#aeff50,#86ff78,#76ff88 113.0px,#72ff8c 119.0px,#5effa0,#2cffd2 123.0px,#0ff3f0 127.0px,#00d2ff,#00bcff,#008fff,#0024ff,#0000f6 137.0px,#0000c9 143.0px,#0000e4 149.0px,#000cf8 169.0px,#002bff 173.0px,#0032ff 187.0px,#005eff 191.0px,#0068ff 193.0px,#00b0ff 197.0px,#00bbff 199.0px,#03fefc 203.0px,#0afff5 243.0px"></i>
<i style="--g:#d10000 1.0px,#d10000 33.0px,#e40000 45.0px,#d90000 59.0px,#f40500 83.0px,#ff5000 87.0px,#ff6e00 95.0px,#ff8200,#ffb000,#ffc400 101.0px,#ffd400 107.0px,#ffe600,#eafd14,#daff24 113.0px,#c9ff36 119.0px,#b6ff48,#89ff75 123.0px,#5effa0 127.0px,#2affd4,#14feec,#02d4fd,#0049ff,#000fff 137.0px,#0000dc 143.0px,#0000ec 169.0px,#0005fc 171.0px,#001aff 175.0px,#001eff 187.0px,#004eff 191.0px,#005aff 193.0px,#00b6ff 197.0px,#00c4ff,#00eaff,#10ffee 203.0px,#26ffd9 217.0px,#26ffd8 243.0px"></i>
<i style="--g:#d10000 1.0px,#d20000 35.0px,#e40000 45.0px,#d20000 53.0px,#d40000 81.0px,#da0000,#f80400,#ff1f00 87.0px,#ff2f00 91.0px,#ff5d00 97.0px,#ff7d00 99.0px,#ffc300 109.0px,#ffe200 111.0px,#fdf902 115.0px,#d5ff2a 121.0px,#b5ff49 123.0px,#97ff68 127.0px,#70ff8e,#5cffa2,#26fbd9,#0093ff,#0059ff 137.0px,#0032ff 143.0px,#0032ff 167.0px,#0035ff 169.0px,#0054ff 173.0px,#005aff 187.0px,#0089ff 193.0px,#01ebfe 197.0px,#17fee8 201.0px,#33ffcc 203.0px,#38ffc7 211.0px,#60ff9e 217.0px,#60ff9e 243.0px"></i>
<i style="--g:#d10000 1.0px,#d20000 35.0px,#e40000 45.0px,#d10000 53.0px,#d30000 81.0px,#d60000 83.0px,#fc0400 87.0px,#fe0600,#ff1500,#ff3c00 93.0px,#ff6b00 101.0px,#ff7a00,#ffa000 105.0px,#ffe000 115.0px,#f7fe08 117.0px,#a0ff5e 131.0px,#6aff94,#06e1f9,#00b0ff 137.0px,#009bff 143.0px,#009bff 167.0px,#00acff 173.0px,#00b1ff 187.0px,#00cdff 193.0px,#09f6f6,#32ffcc 197.0px,#59ffa5 203.0px,#5cffa2 211.0px,#6cff93,#91ff6d,#a0ff5e 217.0px,#a3ff5b 243.0px"></i>
<i style="--g:#d10000 1.0px,#d10000 35.0px,#d40000 41.0px,#e20000 45.0px,#d10000 53.0px,#d40000 75.0px,#f00000 89.0px,#fc0800,#ff3700,#ff4b00 95.0px,#ff5500 101.0px,#ff6700,#ff9300,#ffa400 107.0px,#ffbb00 113.0px,#ffce00,#fdf702 117.0px,#e2ff1c 123.0px,#d0ff2f 131.0px,#9eff61,#23ffdc,#00efff 137.0px,#00e8ff 169.0px,#08f9f8 191.0px,#0cfdf3 193.0px,#65ff9a 197.0px,#75ff89 203.0px,#76ff88 211.0px,#88ff76,#b4ff4a,#c6ff39 217.0px,#d4ff2c 243.0px"></i>
<i style="--g:#d10000 1.0px,#d10000 39.0px,#dd0000 45.0px,#d20000 51.0px,#d80000 75.0px,#db0000 77.0px,#f90200 81.0px,#e80000 89.0px,#f90500,#ff3500,#ff4b00 95.0px,#ff4e00 101.0px,#ff5c00,#ff7e00 105.0px,#ffc200 115.0px,#ffe400 117.0px,#fefa02 121.0px,#e5ff19 125.0px,#e0ff1e 131.0px,#afff50,#36ffc8,#05fffa 137.0px,#02fffd 141.0px,#06fffa 181.0px,#2cffd2 185.0px,#36ffc9 193.0px,#78ff86 197.0px,#7eff80 211.0px,#bdff42 217.0px,#beff40 229.0px,#e2ff1c 235.0px,#e3ff1b 243.0px"></i>
<i style="--g:#d10000 1.0px,#d20000 53.0px,#dd0000 57.0px,#e30000 77.0px,#fa0600,#ff1e00,#ff1e00,#fd0700,#eb0000,#e80000,#f90500,#ff3500,#ff4b00 95.0px,#ff5500 103.0px,#ff7f00 109.0px,#ffa300 111.0px,#ffe500 121.0px,#f5ff0a,#e6ff18 125.0px,#e1ff1e 131.0px,#b0ff4f,#38ffc6,#08fff7 137.0px,#02fffd 157.0px,#02fffd 179.0px,#08fff7 181.0px,#4cffb2 185.0px,#54ffaa 193.0px,#78ff86 197.0px,#7bff83 211.0px,#9cff62 217.0px,#9eff61 229.0px,#acff52,#d0ff2f,#deff20 235.0px,#e0ff1f 243.0px"></i>
<i style="--g:#d10000 1.0px,#d10000 51.0px,#e00000 57.0px,#e90000 77.0px,#ff0d00,#ff3000,#ff3100 83.0px,#f50000 87.0px,#f10000,#fd0800,#ff3700,#ff4b00 95.0px,#ff6200 107.0px,#ff7400,#ffa000,#ffb100 113.0px,#ffc800 119.0px,#ffda00,#f7fe08,#e6ff18 125.0px,#d8ff27 131.0px,#a9ff55,#36ffc8,#08fff7 137.0px,#00fbff 147.0px,#00edff 157.0px,#01f4fe 181.0px,#48ffb6 185.0px,#4fffaf 187.0px,#68ff96 229.0px,#7aff85,#a5ff59,#b7ff48 235.0px,#b8ff46 243.0px"></i>
<i style="--g:#d10000 1.0px,#d10000 51.0px,#ea0000 77.0px,#fe0900,#ff2400,#ff2700 83.0px,#ff0a00 87.0px,#ff0900,#ff1800,#ff3c00,#ff4c00 95.0px,#ff6e00 101.0px,#ff7000 107.0px,#ff7e00,#ffa200 111.0px,#ffe500 121.0px,#f5ff0a 123.0px,#c2ff3d 131.0px,#97ff67,#31ffcd,#08fff7 137.0px,#00fbfe 145.0px,#00e8ff 147.0px,#00dcff 151.0px,#00bdff 155.0px,#00baff 177.0px,#00c0ff 181.0px,#0ff7f0 185.0px,#12f9ed 187.0px,#15faea 229.0px,#1ffee0,#42ffbc,#51ffae 235.0px,#52ffac 243.0px"></i>
<i style="--g:#d40000 1.0px,#db0000 69.0px,#eb0000 77.0px,#fa0100 79.0px,#ff3100 91.0px,#ff5d00 97.0px,#ff7f00,#ff8d00 101.0px,#ff9600 109.0px,#ffc300 115.0px,#ffe500,#fff400 119.0px,#edff12 123.0px,#d5ff2a 127.0px,#b3ff4c,#a3ff5b,#7fff7f,#2affd5,#07fff8 137.0px,#04fffb 143.0px,#00f4ff,#00cfff 147.0px,#00baff 151.0px,#007eff 155.0px,#0079ff 157.0px,#0077ff 179.0px,#007aff 181.0px,#00a2ff 185.0px,#00a4ff 187.0px,#00a5ff 229.0px,#00cbff 235.0px,#00ccff 243.0px"></i>
<i style="--g:#ea0000 1.0px,#ed0000 69.0px,#ff0a00 81.0px,#ff1000 83.0px,#ff4a00 87.0px,#ff5d00 95.0px,#ff7100,#ffa100,#ffb400 101.0px,#ffc400 113.0px,#ffd800,#f3fc0c,#e2ff1d 119.0px,#d2ff2c 125.0px,#c1ff3e,#96ff69 129.0px,#65ff99 133.0px,#22ffdc,#06fff8 137.0px,#04fffb 143.0px,#00efff,#00c0ff 147.0px,#00a4ff 151.0px,#0057ff 155.0px,#0041ff 161.0px,#0041ff 181.0px,#004eff 187.0px,#004eff 227.0px,#005cff 243.0px"></i>
<i style="--g:#ff3000 1.0px,#ff3000 69.0px,#ff4000 81.0px,#ff4600 83.0px,#ff8000 87.0px,#ff8800 95.0px,#ff9e00,#ffd400,#ffea00 101.0px,#ffee00 113.0px,#f3fa0c,#bfff40,#a8ff57 119.0px,#a3ff5b 125.0px,#94ff6a,#6eff90 129.0px,#49ffb5 133.0px,#1affe6,#06fff9 137.0px,#04fffb 143.0px,#00f2ff,#00c8ff 147.0px,#00b0ff 151.0px,#006eff 155.0px,#0064ff 157.0px,#002cff 161.0px,#0028ff 163.0px,#002cff 243.0px"></i>
<i style="--g:#ff9200 1.0px,#ff9200 67.0px,#ff9a00 81.0px,#ff9d00 83.0px,#ffc200 87.0px,#ffc600 95.0px,#ffdd00,#e9fd16,#d4ff2a 101.0px,#d0ff2e 113.0px,#b8ff47,#7bff83,#62ff9c 119.0px,#57ffa7 127.0px,#04fffa 137.0px,#03fffc 143.0px,#00f8ff,#00deff 147.0px,#00d0ff 151.0px,#009cff 157.0px,#002dff 161.0px,#0024ff 163.0px,#0024ff 243.0px"></i>
<i style="--g:#f9ee06 1.0px,#f9ee06 71.0px,#f2fc0d 95.0px,#dfff20,#a8ff56,#92ff6c 101.0px,#88ff76 113.0px,#70ff8f,#34ffcb,#1bffe4 119.0px,#1affe6 125.0px,#01f6fe 135.0px,#00f2ff 143.0px,#00e0ff 151.0px,#00c4ff 157.0px,#002cff 161.0px,#0020ff 163.0px,#0020ff 243.0px"></i>
<i style="--g:#b5ff4a 1.0px,#b1ff4e 95.0px,#9aff64,#62ff9d,#4bffb4 101.0px,#49ffb6 107.0px,#2cffd2 113.0px,#1afde4,#02e5fe,#00d2ff 119.0px,#00d1ff 125.0px,#00bdff 131.0px,#00b4ff 155.0px,#00a8ff 157.0px,#001dff 161.0px,#0012ff 163.0px,#0012ff 243.0px"></i>
<i style="--g:#6cff92 1.0px,#6aff94 95.0px,#52ffac,#1afee4,#0af7f5 101.0px,#09f6f6 107.0px,#03eefc,#00d1ff 111.0px,#00b6ff 115.0px,#0097ff,#008bff 119.0px,#008aff 125.0px,#0064ff 131.0px,#005cff 157.0px,#0006fe 161.0px,#0001fb 163.0px,#0001fb 243.0px"></i>
<i style="--g:#2effd0 1.0px,#2effd0 93.0px,#2dffd2,#16fee9,#00d8ff,#00c0ff 101.0px,#00beff 107.0px,#00aaff,#0079ff,#0064ff 113.0px,#004dff 119.0px,#004cff 125.0px,#0014ff 131.0px,#0010ff 157.0px,#0000e8 163.0px,#0000e8 243.0px"></i>
<i style="--g:#0dfff2 1.0px,#0cfff4 95.0px,#01f1fe,#00b6ff,#009eff 101.0px,#009bff 107.0px,#0082ff,#0049ff,#0032ff 113.0px,#002bff 125.0px,#0001f5 129.0px,#0000e7 131.0px,#0000de 163.0px,#0000de 243.0px"></i>
<i style="--g:#06fff9 1.0px,#04fffa 95.0px,#00ebff,#00aeff,#0096ff 101.0px,#0093ff 107.0px,#007aff,#0040ff,#0027ff 113.0px,#0024ff 125.0px,#0014ff,#0000ee,#0000de,#0000dc 133.0px,#0000db 243.0px"></i>
</div></div>
<svg width="685" height="590" viewBox="0 0 685 590"><defs><clipPath id="cpA"><rect x="212.4" y="44.8" width="243.99999999999997" height="201.39999999999998"/></clipPath></defs><g clip-path="url(#cpA)"><path d="M212.4,246.2 L212.4,44.8 L213.6,106.8 L214.9,120.2 L216.1,133.6 L217.3,145.0 L218.5,150.0 L219.8,155.1 L221.0,159.9 L222.2,163.7 L223.4,167.5 L224.7,171.3 L225.9,175.1 L227.1,178.9 L228.3,180.6 L229.6,182.1 L230.8,183.7 L232.0,185.2 L233.2,186.7 L234.5,188.3 L235.7,189.8 L236.9,191.3 L238.1,192.8 L239.4,194.4 L240.6,195.9 L241.8,197.4 L243.1,199.0 L244.3,200.5 L245.5,202.0 L246.7,203.4 L248.0,204.4 L249.2,205.5 L250.4,206.6 L251.6,207.7 L252.9,208.7 L254.1,209.8 L255.3,210.9 L256.5,211.9 L257.8,213.0 L259.0,214.1 L260.2,215.1 L261.4,216.2 L262.7,217.3 L263.9,218.4 L265.1,219.4 L266.3,220.5 L267.6,221.5 L268.8,222.2 L270.0,222.9 L271.3,223.6 L272.5,224.2 L273.7,224.9 L274.9,225.6 L276.2,226.3 L277.4,226.9 L278.6,227.6 L279.8,228.3 L281.1,228.9 L282.3,229.6 L283.5,230.3 L284.7,231.0 L286.0,231.6 L287.2,232.3 L288.4,233.0 L289.6,233.7 L290.9,234.3 L292.1,235.0 L293.3,235.7 L294.6,236.2 L295.8,236.6 L297.0,237.0 L298.2,237.4 L299.5,237.8 L300.7,238.2 L301.9,238.6 L303.1,239.0 L304.4,239.4 L305.6,239.8 L306.8,240.2 L308.0,240.7 L309.3,241.1 L310.5,241.5 L311.7,241.9 L312.9,242.3 L314.2,242.7 L315.4,243.1 L316.6,243.5 L317.8,243.9 L319.1,244.3 L320.3,244.7 L321.5,245.1 L322.8,245.5 L324.0,245.9 L325.2,246.2 L326.4,246.2 L327.7,246.2 L328.9,246.2 L330.1,246.2 L331.3,246.2 L332.6,246.2 L333.8,246.2 L335.0,246.2 L336.2,246.2 L337.5,246.2 L338.7,246.2 L339.9,246.2 L341.1,246.2 L342.4,246.2 L343.6,246.2 L344.8,246.2 L346.0,246.0 L347.3,245.6 L348.5,245.2 L349.7,244.8 L351.0,244.3 L352.2,243.9 L353.4,243.5 L354.6,243.1 L355.9,242.6 L357.1,242.2 L358.3,241.8 L359.5,241.4 L360.8,240.9 L362.0,240.5 L363.2,240.1 L364.4,239.7 L365.7,239.2 L366.9,238.8 L368.1,238.4 L369.3,238.0 L370.6,237.5 L371.8,237.1 L373.0,236.7 L374.2,236.3 L375.5,235.8 L376.7,235.1 L377.9,234.5 L379.2,233.9 L380.4,233.3 L381.6,232.7 L382.8,232.1 L384.1,231.5 L385.3,230.9 L386.5,230.2 L387.7,229.6 L389.0,229.0 L390.2,228.4 L391.4,227.8 L392.6,227.2 L393.9,226.6 L395.1,225.9 L396.3,225.1 L397.5,224.4 L398.8,223.6 L400.0,222.8 L401.2,222.0 L402.5,221.2 L403.7,220.4 L404.9,219.6 L406.1,218.7 L407.4,217.7 L408.6,216.6 L409.8,215.6 L411.0,214.6 L412.3,213.6 L413.5,212.5 L414.7,211.5 L415.9,210.5 L417.2,209.5 L418.4,208.4 L419.6,207.4 L420.8,206.4 L422.1,205.4 L423.3,204.3 L424.5,203.3 L425.7,202.3 L427.0,200.6 L428.2,198.6 L429.4,196.6 L430.7,194.6 L431.9,192.6 L433.1,190.6 L434.3,188.6 L435.6,186.6 L436.8,184.6 L438.0,182.6 L439.2,180.6 L440.5,177.6 L441.7,173.6 L442.9,169.5 L444.1,165.4 L445.4,161.4 L446.6,157.3 L447.8,153.2 L449.0,149.2 L450.3,145.1 L451.5,136.9 L452.7,128.6 L453.9,120.4 L455.2,100.4 L456.4,80.0 L456.4,246.2Z" fill="#fff" fill-opacity="0.46"/><path d="M212.4,44.8 L213.6,106.8 L214.9,120.2 L216.1,133.6 L217.3,145.0 L218.5,150.0 L219.8,155.1 L221.0,159.9 L222.2,163.7 L223.4,167.5 L224.7,171.3 L225.9,175.1 L227.1,178.9 L228.3,180.6 L229.6,182.1 L230.8,183.7 L232.0,185.2 L233.2,186.7 L234.5,188.3 L235.7,189.8 L236.9,191.3 L238.1,192.8 L239.4,194.4 L240.6,195.9 L241.8,197.4 L243.1,199.0 L244.3,200.5 L245.5,202.0 L246.7,203.4 L248.0,204.4 L249.2,205.5 L250.4,206.6 L251.6,207.7 L252.9,208.7 L254.1,209.8 L255.3,210.9 L256.5,211.9 L257.8,213.0 L259.0,214.1 L260.2,215.1 L261.4,216.2 L262.7,217.3 L263.9,218.4 L265.1,219.4 L266.3,220.5 L267.6,221.5 L268.8,222.2 L270.0,222.9 L271.3,223.6 L272.5,224.2 L273.7,224.9 L274.9,225.6 L276.2,226.3 L277.4,226.9 L278.6,227.6 L279.8,228.3 L281.1,228.9 L282.3,229.6 L283.5,230.3 L284.7,231.0 L286.0,231.6 L287.2,232.3 L288.4,233.0 L289.6,233.7 L290.9,234.3 L292.1,235.0 L293.3,235.7 L294.6,236.2 L295.8,236.6 L297.0,237.0 L298.2,237.4 L299.5,237.8 L300.7,238.2 L301.9,238.6 L303.1,239.0 L304.4,239.4 L305.6,239.8 L306.8,240.2 L308.0,240.7 L309.3,241.1 L310.5,241.5 L311.7,241.9 L312.9,242.3 L314.2,242.7 L315.4,243.1 L316.6,243.5 L317.8,243.9 L319.1,244.3 L320.3,244.7 L321.5,245.1 L322.8,245.5 L324.0,245.9 L325.2,246.2 L326.4,246.2 L327.7,246.2 L328.9,246.2 L330.1,246.2 L331.3,246.2 L332.6,246.2 L333.8,246.2 L335.0,246.2 L336.2,246.2 L337.5,246.2 L338.7,246.2 L339.9,246.2 L341.1,246.2 L342.4,246.2 L343.6,246.2 L344.8,246.2 L346.0,246.0 L347.3,245.6 L348.5,245.2 L349.7,244.8 L351.0,244.3 L352.2,243.9 L353.4,243.5 L354.6,243.1 L355.9,242.6 L357.1,242.2 L358.3,241.8 L359.5,241.4 L360.8,240.9 L362.0,240.5 L363.2,240.1 L364.4,239.7 L365.7,239.2 L366.9,238.8 L368.1,238.4 L369.3,238.0 L370.6,237.5 L371.8,237.1 L373.0,236.7 L374.2,236.3 L375.5,235.8 L376.7,235.1 L377.9,234.5 L379.2,233.9 L380.4,233.3 L381.6,232.7 L382.8,232.1 L384.1,231.5 L385.3,230.9 L386.5,230.2 L387.7,229.6 L389.0,229.0 L390.2,228.4 L391.4,227.8 L392.6,227.2 L393.9,226.6 L395.1,225.9 L396.3,225.1 L397.5,224.4 L398.8,223.6 L400.0,222.8 L401.2,222.0 L402.5,221.2 L403.7,220.4 L404.9,219.6 L406.1,218.7 L407.4,217.7 L408.6,216.6 L409.8,215.6 L411.0,214.6 L412.3,213.6 L413.5,212.5 L414.7,211.5 L415.9,210.5 L417.2,209.5 L418.4,208.4 L419.6,207.4 L420.8,206.4 L422.1,205.4 L423.3,204.3 L424.5,203.3 L425.7,202.3 L427.0,200.6 L428.2,198.6 L429.4,196.6 L430.7,194.6 L431.9,192.6 L433.1,190.6 L434.3,188.6 L435.6,186.6 L436.8,184.6 L438.0,182.6 L439.2,180.6 L440.5,177.6 L441.7,173.6 L442.9,169.5 L444.1,165.4 L445.4,161.4 L446.6,157.3 L447.8,153.2 L449.0,149.2 L450.3,145.1 L451.5,136.9 L452.7,128.6 L453.9,120.4 L455.2,100.4 L456.4,80.0" fill="none" stroke="#fff" stroke-opacity="0.55" stroke-width="0.7"/><use href="#ar1" x="410.6" y="85.7"/><use href="#ar0" x="258.1" y="92.0"/><use href="#ar2" x="325.2" y="92.0"/><use href="#ar2" x="410.6" y="92.0"/><use href="#ar1" x="258.1" y="98.3"/><use href="#ar1" x="325.2" y="98.3"/><use href="#ar0" x="331.4" y="98.3"/><use href="#ar3" x="410.6" y="98.3"/><use href="#ar3" x="258.1" y="104.6"/><use href="#ar3" x="325.2" y="104.6"/><use href="#ar0" x="331.4" y="104.6"/><use href="#ar1" x="410.6" y="104.6"/><use href="#ar0" x="258.1" y="110.9"/><use href="#ar2" x="294.8" y="110.9"/><use href="#ar0" x="325.2" y="110.9"/><use href="#ar3" x="331.4" y="110.9"/><use href="#ar1" x="410.6" y="110.9"/><use href="#ar0" x="239.8" y="117.2"/><use href="#ar3" x="252.1" y="117.2"/><use href="#ar0" x="258.1" y="117.2"/><use href="#ar0" x="294.8" y="117.2"/><use href="#ar2" x="325.2" y="117.2"/><use href="#ar2" x="410.6" y="117.2"/><use href="#ar0" x="428.9" y="117.2"/><use href="#ar2" x="239.8" y="123.5"/><use href="#ar2" x="252.1" y="123.5"/><use href="#ar1" x="258.1" y="123.5"/><use href="#ar3" x="294.8" y="123.5"/><use href="#ar2" x="410.6" y="123.5"/><use href="#ar3" x="422.9" y="123.5"/><use href="#ar1" x="428.9" y="123.5"/><use href="#ar1" x="239.8" y="129.8"/><use href="#ar1" x="252.1" y="129.8"/><use href="#ar3" x="258.1" y="129.8"/><use href="#ar2" x="264.2" y="129.8"/><use href="#ar1" x="422.9" y="129.8"/><use href="#ar0" x="428.9" y="129.8"/><use href="#ar2" x="239.8" y="136.1"/><use href="#ar2" x="252.1" y="136.1"/><use href="#ar0" x="258.1" y="136.1"/><use href="#ar0" x="264.2" y="136.1"/><use href="#ar1" x="422.9" y="136.1"/><use href="#ar3" x="428.9" y="136.1"/><use href="#ar1" x="239.8" y="142.4"/><use href="#ar1" x="245.9" y="142.4"/><use href="#ar0" x="252.1" y="142.4"/><use href="#ar0" x="258.1" y="142.4"/><use href="#ar1" x="264.2" y="142.4"/><use href="#ar3" x="392.4" y="142.4"/><use href="#ar0" x="245.9" y="148.6"/><use href="#ar3" x="252.1" y="148.6"/><use href="#ar3" x="258.1" y="148.6"/><use href="#ar1" x="264.2" y="148.6"/><use href="#ar2" x="270.4" y="148.6"/><use href="#ar2" x="276.4" y="148.6"/><use href="#ar0" x="245.9" y="154.9"/><use href="#ar3" x="252.1" y="154.9"/><use href="#ar2" x="258.1" y="154.9"/><use href="#ar1" x="264.2" y="154.9"/><use href="#ar1" x="270.4" y="154.9"/><use href="#ar0" x="276.4" y="154.9"/><use href="#ar0" x="325.2" y="154.9"/><use href="#ar3" x="331.4" y="154.9"/><use href="#ar0" x="398.4" y="154.9"/><use href="#ar3" x="252.1" y="161.2"/><use href="#ar2" x="258.1" y="161.2"/><use href="#ar1" x="264.2" y="161.2"/><use href="#ar3" x="270.4" y="161.2"/><use href="#ar3" x="398.4" y="161.2"/><use href="#ar3" x="404.5" y="161.2"/><use href="#ar1" x="252.1" y="167.5"/><use href="#ar1" x="258.1" y="167.5"/><use href="#ar1" x="264.2" y="167.5"/><use href="#ar3" x="270.4" y="167.5"/><use href="#ar0" x="245.9" y="173.8"/><use href="#ar1" x="252.1" y="173.8"/><use href="#ar3" x="258.1" y="173.8"/><use href="#ar2" x="264.2" y="173.8"/><use href="#ar2" x="270.4" y="173.8"/><use href="#ar0" x="233.8" y="180.1"/><use href="#ar3" x="239.8" y="180.1"/><use href="#ar3" x="245.9" y="180.1"/><use href="#ar3" x="252.1" y="180.1"/><use href="#ar2" x="258.1" y="180.1"/><use href="#ar0" x="264.2" y="180.1"/><use href="#ar3" x="270.4" y="180.1"/><use href="#ar3" x="227.7" y="186.4"/><use href="#ar1" x="233.8" y="186.4"/><use href="#ar0" x="239.8" y="186.4"/><use href="#ar2" x="245.9" y="186.4"/><use href="#ar0" x="252.1" y="186.4"/><use href="#ar3" x="258.1" y="186.4"/><use href="#ar2" x="264.2" y="186.4"/><use href="#ar1" x="270.4" y="186.4"/><use href="#ar2" x="227.7" y="192.7"/><use href="#ar0" x="233.8" y="192.7"/><use href="#ar1" x="239.8" y="192.7"/><use href="#ar3" x="245.9" y="192.7"/><use href="#ar1" x="252.1" y="192.7"/><use href="#ar0" x="258.1" y="192.7"/><use href="#ar0" x="264.2" y="192.7"/><use href="#ar0" x="270.4" y="192.7"/><use href="#ar0" x="221.6" y="199.0"/><use href="#ar0" x="227.7" y="199.0"/><use href="#ar1" x="233.8" y="199.0"/><use href="#ar2" x="239.8" y="199.0"/><use href="#ar3" x="245.9" y="199.0"/><use href="#ar2" x="252.1" y="199.0"/><use href="#ar2" x="258.1" y="199.0"/><use href="#ar3" x="215.5" y="205.3"/><use href="#ar0" x="221.6" y="205.3"/><use href="#ar0" x="227.7" y="205.3"/><use href="#ar2" x="233.8" y="205.3"/><use href="#ar0" x="239.8" y="205.3"/><use href="#ar3" x="245.9" y="205.3"/><use href="#ar0" x="252.1" y="205.3"/><use href="#ar0" x="258.1" y="205.3"/><use href="#ar3" x="215.5" y="211.6"/><use href="#ar3" x="221.6" y="211.6"/><use href="#ar2" x="227.7" y="211.6"/><use href="#ar0" x="233.8" y="211.6"/><use href="#ar0" x="239.8" y="211.6"/><use href="#ar0" x="245.9" y="211.6"/><use href="#ar0" x="264.2" y="211.6"/><use href="#ar1" x="270.4" y="211.6"/><use href="#ar2" x="276.4" y="211.6"/><use href="#ar1" x="282.6" y="211.6"/><use href="#ar2" x="288.6" y="211.6"/><use href="#ar2" x="294.8" y="211.6"/><use href="#ar0" x="215.5" y="217.9"/><use href="#ar1" x="221.6" y="217.9"/><use href="#ar2" x="227.7" y="217.9"/><use href="#ar0" x="233.8" y="217.9"/><use href="#ar1" x="239.8" y="217.9"/><use href="#ar2" x="245.9" y="217.9"/><use href="#ar3" x="252.1" y="217.9"/><use href="#ar1" x="264.2" y="217.9"/><use href="#ar2" x="270.4" y="217.9"/><use href="#ar2" x="276.4" y="217.9"/><use href="#ar2" x="282.6" y="217.9"/><use href="#ar2" x="288.6" y="217.9"/><use href="#ar1" x="294.8" y="217.9"/><use href="#ar1" x="215.5" y="224.2"/><use href="#ar3" x="221.6" y="224.2"/><use href="#ar2" x="227.7" y="224.2"/><use href="#ar2" x="233.8" y="224.2"/><use href="#ar3" x="239.8" y="224.2"/><use href="#ar1" x="245.9" y="224.2"/><use href="#ar0" x="252.1" y="224.2"/><use href="#ar3" x="258.1" y="224.2"/><use href="#ar0" x="264.2" y="224.2"/><use href="#ar3" x="215.5" y="230.5"/><use href="#ar0" x="221.6" y="230.5"/><use href="#ar3" x="227.7" y="230.5"/><use href="#ar0" x="233.8" y="230.5"/><use href="#ar0" x="239.8" y="230.5"/><use href="#ar1" x="245.9" y="230.5"/><use href="#ar2" x="252.1" y="230.5"/><use href="#ar1" x="258.1" y="230.5"/><use href="#ar2" x="264.2" y="230.5"/><use href="#ar0" x="270.4" y="230.5"/><use href="#ar2" x="276.4" y="230.5"/><use href="#ar0" x="282.6" y="230.5"/><path d="M212.9,185.7l8,-0.4 5,-4.7 6,-3.7 10,-4.5 2.6,-3.9 0,-3 -2.1,-6 -4.5,-6.1 -1.9,-5.9 -0.2,-4 1.4,-21 -0.3,-11.1 1,-1.1 5,-1.6 2,-4.2 1,-1 1,1 0.2,6.9 -3.1,4 -0.6,3 0.7,5.1 1.8,3.6 1,0 1,-1.3 2.6,-8.4 4.4,-1.9 1.5,-2.1 0.8,-3 1.9,-16 1.1,-31.1 0.7,-4.8 1,-1.2 0.4,-2 1.1,-10M265.4,45.3l0.4,10 -2.2,13 0.2,16.1 -4.3,21 0.2,11 1.3,5.1 3.9,4.8 2,7.6 4,4.1 2.5,7.5 3.5,2.8 0.6,1.2 0.5,4 0,14 0.7,12.1 -0.8,4.9 -4.2,8.1 -1.8,2.1 -3,1.2 -2,1.7 -1,2 0,2 1.1,2 8.9,5.1 5,0.8 14,0.9 12.9,3.2 6.1,4.4 2.8,5.7 -5.8,2.3 -2.2,2.7 -1.8,1.2 -7,1.1 -6,1.7 -81,0.4M451.0,45.3l0.1,8 -0.9,7 0.5,7 -0.5,18.1 -0.6,4 -1.7,2.9 -1,-1.1 -0.6,-1.8 -0.7,-5 0.2,-32.1 1.1,-7M287.9,58.6l-1,0.3 -1.2,-3.6 0.2,-5.1 1,-1.6 1,0.8 1.2,3.9 -0.2,3.3 -1,2M300.9,86.5l-0.5,-5.1 0.2,-14.1 -1.2,-8 1.5,-5.1 1,0.3 1,1.4 0.5,3.4 -1,9 0.1,13.1 -0.6,4.3 -1,0.8M401.9,63.2l-0.7,-2.9 0.7,-3.2 0.5,3.2 -0.5,2.9M223.9,72.6l-1.1,-1.2 -0.4,-4.1 0.5,-4.5 1,-1.9 1,0.4 0.8,6 -0.5,4.1 -0.3,0.9 -1,0.3M341.9,97.2l-1,-0.2 -1,-1.6 -2.5,-9 1.5,-17.5 1,-5.4 1,0.1 1,5.7 0.7,24.1 -0.7,3.8M286.9,82.7l-0.5,-9.3 0.5,-4.2 1,-1 1.1,2.2 0.2,4 -1.3,6.7 -1,1.6M251.9,82.3l-1,-1.4 -0.1,-2.5 0.1,-3.5 1,-1.4 0.7,4.9 -0.7,3.9M331.9,128.1l-1,0.2 -1,-0.7 -5.2,-9.2 -0.7,-9 0.4,-14 -1.6,-7 -0.9,-1.6 -2,-1.3 -0.3,-1.1 -0.4,-5 0.7,-6 2,4.2 2,0.5 1,1.9 1.4,16.4 0.6,2 1,1.1 1.4,-1.1 1.6,-4.6 1,0.1 1.3,28.6 -0.3,3.9 -1,1.7M385.9,77.4l0,-2.8 0,2.8M233.9,102.2l-0.7,-2.8 0.3,-13 1.4,-6.9 1,5.9 -0.2,12 -0.8,3.3 -1,1.5M212.9,81.6l1.9,5.8 2,18 -0.7,5 -1.2,1 -2,0.3M368.9,91.8l-1,0 -0.4,-4.4 0.4,-3.6 1,-0.8 1,0.5 0.4,2.9 -1.4,5.4M312.9,122.4l-0.8,-3 0.2,-14 -2.7,-9 0.3,-11 0.5,4 2.5,7.8 1.4,8.2 -0.2,13 -1.2,4M409.9,129.6l-0.5,-4.1 0,-24.1 0.5,-13.2 1,-0.3 0.9,13.5 -0.2,17 -0.5,10.1 -0.2,0.7 -1,0.4M425.9,106.8l-2.9,-0.4 -1.1,-1.3 -0.3,-4.7 0.3,-1.5 1,-1.1 1,0.6 1.8,4 0.7,3 -0.5,1.4M277.9,115.7l-1,0.2 -1,-2 -0.5,-3.5 0.2,-6 1.3,-3.1 5,3.7 0.6,1.4 -0.6,4 -4,5.3M293.9,127.5l-1,-3.5 -0.5,-14.6 0.5,-5 1,-1.5 1.3,2.5 0.3,8 -0.3,11.1 -0.3,2 -1,1M354.9,119.7l-0.4,-4.3 0.4,-11.9 1,0.9 0.1,1 0.2,8 -0.3,5.1 -1,1.2M429.9,141.8l-1,0.4 -3,-4.5 -4,-2.1 -0.7,-3.1 0.5,-9 1.2,-1.6 2.5,-1.4 1.2,-2.1 0.5,-3 0,-7 0.8,-0.7 1,0.5 1,1.8 0.4,3.4 0.3,21.1 -0.7,7.3M400.9,166.8l-2,0.5 -1,-0.6 -5.1,-6.2 -1.1,-3 -1.2,-9 -0.6,-14 0.4,-5 2.6,-6.9 2.5,-3.2 1.5,-0.8 1,0.3 0.9,1.6 0.5,3 0.5,11 -0.8,8 1.2,7 1.7,4 4,3.6 0.7,2.4 -0.7,4.1 -1,1.1 -4,2.1M343.9,136.4l-0.8,-4.9 0.8,-3.8 2,2.6 0.2,1.2 -2.2,4.9M329.9,160.6l-4,-0.3 -1.1,-0.8 -1.6,-3 -0.4,-2 0.4,-2 1.7,-3 1,-0.7 6,0.8 2.1,2.9 0.2,3 -1.2,3 -1.1,1.4 -2,0.7" fill="none" stroke="#000" stroke-width="0.8" stroke-opacity="0.85"/></g></svg>
<svg width="685" height="590"><ellipse cx="431" cy="222.7" rx="8" ry="1.1" fill="#111"/><ellipse cx="418.5" cy="181.3" rx="2" ry="0.8" fill="#111"/></svg>
<div class="cb" style="left:460.0px;top:54.6px;width:7.7px;height:181.3px;background:linear-gradient(180deg,#7f0000,#990000,#b20000,#cc0000,#e50000,#ff0000,#ff1900,#ff3300,#ff4c00,#ff6600,#ff7f00,#ff9900,#ffb200,#ffcc00,#ffe500,#ffff00,#e5ff19,#ccff33,#b2ff4c,#99ff66,#7fff7f,#66ff99,#4cffb2,#33ffcc,#19ffe5,#00ffff,#00e5ff,#00ccff,#00b2ff,#0099ff,#007fff,#0066ff,#004cff,#0033ff,#0019ff,#0000ff,#0000e5,#0000cc,#0000b2,#000099,#00007f)"></div>
<div class="tk" style="left:468.5px;top:55.8px;width:2.5px;height:1px"></div>
<div class="cbl" style="left:475.7px;top:51.7px">1.0</div>
<div class="tk" style="left:468.5px;top:91.4px;width:2.5px;height:1px"></div>
<div class="cbl" style="left:475.7px;top:87.3px">0.8</div>
<div class="tk" style="left:468.5px;top:127.0px;width:2.5px;height:1px"></div>
<div class="cbl" style="left:475.7px;top:122.9px">0.6</div>
<div class="tk" style="left:468.5px;top:162.6px;width:2.5px;height:1px"></div>
<div class="cbl" style="left:475.7px;top:158.5px">0.4</div>
<div class="tk" style="left:468.5px;top:198.2px;width:2.5px;height:1px"></div>
<div class="cbl" style="left:475.7px;top:194.1px">0.2</div>
<div class="tk" style="left:468.5px;top:233.8px;width:2.5px;height:1px"></div>
<div class="cbl" style="left:475.7px;top:229.7px">0.0</div>
<div class="tk" style="left:209.4px;top:65.9px;width:3px;height:1px"></div>
<div class="yl" style="left:190.9px;top:61.4px">4</div>
<div class="tk" style="left:209.4px;top:113.1px;width:3px;height:1px"></div>
<div class="yl" style="left:190.9px;top:108.6px">16</div>
<div class="tk" style="left:209.4px;top:160.5px;width:3px;height:1px"></div>
<div class="yl" style="left:190.9px;top:156.0px">64</div>
<div class="tk" style="left:209.4px;top:207.5px;width:3px;height:1px"></div>
<div class="yl" style="left:190.9px;top:203.0px">256</div>
<div class="tk" style="left:211.9px;top:246.2px;width:1px;height:3.5px"></div>
<div class="xl" style="left:197.4px;top:253.7px">2002</div>
<div class="tk" style="left:223.5px;top:246.2px;width:1px;height:3.5px"></div>
<div class="tk" style="left:235.1px;top:246.2px;width:1px;height:3.5px"></div>
<div class="xl" style="left:220.6px;top:253.7px">2004</div>
<div class="tk" style="left:246.7px;top:246.2px;width:1px;height:3.5px"></div>
<div class="tk" style="left:258.3px;top:246.2px;width:1px;height:3.5px"></div>
<div class="xl" style="left:243.8px;top:253.7px">2006</div>
<div class="tk" style="left:269.9px;top:246.2px;width:1px;height:3.5px"></div>
<div class="tk" style="left:281.5px;top:246.2px;width:1px;height:3.5px"></div>
<div class="xl" style="left:267.0px;top:253.7px">2008</div>
<div class="tk" style="left:293.1px;top:246.2px;width:1px;height:3.5px"></div>
<div class="tk" style="left:304.7px;top:246.2px;width:1px;height:3.5px"></div>
<div class="xl" style="left:290.2px;top:253.7px">2010</div>
<div class="tk" style="left:316.3px;top:246.2px;width:1px;height:3.5px"></div>
<div class="tk" style="left:327.9px;top:246.2px;width:1px;height:3.5px"></div>
<div class="xl" style="left:313.4px;top:253.7px">2012</div>
<div class="tk" style="left:339.5px;top:246.2px;width:1px;height:3.5px"></div>
<div class="tk" style="left:351.1px;top:246.2px;width:1px;height:3.5px"></div>
<div class="xl" style="left:336.6px;top:253.7px">2014</div>
<div class="tk" style="left:362.7px;top:246.2px;width:1px;height:3.5px"></div>
<div class="tk" style="left:374.3px;top:246.2px;width:1px;height:3.5px"></div>
<div class="xl" style="left:359.8px;top:253.7px">2016</div>
<div class="tk" style="left:385.9px;top:246.2px;width:1px;height:3.5px"></div>
<div class="tk" style="left:397.5px;top:246.2px;width:1px;height:3.5px"></div>
<div class="xl" style="left:383.0px;top:253.7px">2018</div>
<div class="tk" style="left:409.1px;top:246.2px;width:1px;height:3.5px"></div>
<div class="tk" style="left:420.7px;top:246.2px;width:1px;height:3.5px"></div>
<div class="xl" style="left:406.2px;top:253.7px">2020</div>
<div class="tk" style="left:432.3px;top:246.2px;width:1px;height:3.5px"></div>
<div class="tk" style="left:443.9px;top:246.2px;width:1px;height:3.5px"></div>
<div class="xl" style="left:429.4px;top:253.7px">2022</div>
<div class="axl" style="left:314.4px;top:270.7px">Period</div>
<div class="yax" style="left:165.1px;top:140.5px">Scale</div>
<div class="box" style="left:1.8px;top:326.7px;width:328.5px;height:261.4px"></div>
<div class="title" style="left:15.5px;top:296.1px">(B) Developed Countries</div>
<div class="hm" style="left:36.2px;top:344.1px;width:243.5px;height:201.8px">
<div class="tb" style="height:69.9px"><b style="--g:#100,#510 18px,#820 35px,#940 37px,#950 38px,#fc0 39px,#fe0 40px,#6f9 45px,#2fd 48px,#0ef 50px,#02f 62px,#02f"></b><b style="--g:#08f,#07f 11px,#0df 28px,#0ef 33px,#0df 35px,#08f 41px,#02f 55px,#01f 59px,#02f 62px,#02f"></b><b style="--g:#025,#037 1px,#04e 5px,#04f 6px,#02f 15px,#02f 36px,#00f 39px,#009 47px,#008 52px,#008 55px,#00a 57px,#00f 61px,#02f 62px,#02f"></b><b style="--g:#001,#001 5px,#015 6px,#02f 7px,#02f 25px,#016 26px,#014 27px,#002 28px,#001 29px,#016 33px,#02f 34px,#02f 37px,#00f 38px,#00a 42px,#007 45px,#007 56px,#009 58px,#00f 61px,#02f 62px,#02f"></b><b style="--g:#011,#001 42px,#001 43px,#00b 44px,#00a 47px,#00a 50px,#00c 57px,#00e 60px,#01f 61px,#02f 62px,#02f"></b><b style="--g:#7f7,#5f9 2px,#0ff 5px,#0bf 7px,#08f 9px,#06f 12px,#04f 17px,#03f 36px,#01f 41px,#00f 45px,#01f 48px,#06f 52px,#07f 54px,#02f 60px,#02f"></b><b style="--g:#bf4,#af5 1px,#8f7 3px,#0ff 8px,#0df 11px,#0af 26px,#08f 33px,#04f 41px,#05f 44px,#06f 46px,#09f 48px,#0ef 50px,#2fd 51px,#4fb 52px,#5fa 53px,#4fb 54px,#0ff 56px,#07f 59px,#03f 61px,#02f 63px,#02f"></b><b style="--g:#111,#232 1px,#8f7 2px,#3fc 7px,#2fd 10px,#bf4 21px,#cf3 25px,#cf3 28px,#af5 33px,#7f8 35px,#0ff 38px,#0bf 40px,#0af 42px,#0cf 45px,#0ef 47px,#1fe 48px,#cf3 52px,#cf3 53px,#bf4 54px,#8f6 55px,#1fe 57px,#08f 59px,#03f 61px,#02f 62px,#02f"></b><b style="--g:#110,#210 3px,#fb0 4px,#fe0 6px,#ef1 7px,#bf4 9px,#9f6 11px,#4fb 26px,#0ff 33px,#0ef 34px,#09f 38px,#07f 41px,#07f 44px,#09f 46px,#0af 47px,#1fe 49px,#af5 52px,#bf4 53px,#af5 54px,#3fc 56px,#0ef 57px,#07f 59px,#04f 60px,#03f 61px,#02f"></b><b style="--g:#fa0,#fc0 1px,#fe0 2px,#df2 3px,#462 4px,#011 5px,#011 6px,#001 14px,#001 37px,#002 38px,#004 39px,#01f 40px,#00f 42px,#00f 45px,#02f 47px,#04f 48px,#0ef 51px,#3fc 52px,#4fa 53px,#4fb 54px,#0ef 56px,#07f 58px,#03f 60px,#02f"></b><b style="--g:#100,#210 3px,#fc0 4px,#df1 5px,#4fb 7px,#0ef 8px,#0bf 9px,#07f 11px,#06f 13px,#04f 16px,#02f 36px,#00f 40px,#00e 43px,#00f 46px,#01f 47px,#03f 48px,#05f 49px,#0df 51px,#1fe 52px,#3fc 53px,#3fc 54px,#2fd 55px,#0ef 56px,#08f 58px,#04f 60px,#02f"></b><b style="--g:#0df,#0df 3px,#08f 9px,#0af 32px,#09f 34px,#06f 39px,#05f 42px,#06f 45px,#08f 47px,#0ff 50px,#6f9 52px,#7f8 53px,#7f8 54px,#2fd 56px,#0ef 57px,#09f 59px,#06f 61px,#02f 66px,#02f"></b><b style="--g:#100,#310 10px,#710 29px,#810 34px,#830 36px,#960 38px,#fd0 39px,#ef1 40px,#9f6 42px,#6f9 44px,#5fa 46px,#6f9 48px,#af5 51px,#bf4 53px,#af5 54px,#8f7 55px,#2fd 57px,#0ef 58px,#0af 60px,#04f 65px,#02f 67px,#02f"></b><b style="--g:#100,#100 10px,#310 11px,#610 25px,#820 34px,#950 37px,#fc0 38px,#ff0 39px,#af5 41px,#8f7 42px,#5fa 45px,#4fb 48px,#8f7 52px,#8f7 53px,#6f9 55px,#0ff 58px,#04f 65px,#02f 67px,#02f"></b><b style="--g:#011,#011 2px,#023 3px,#0df 4px,#08f 7px,#06f 10px,#07f 23px,#09f 33px,#07f 41px,#09f 47px,#0ff 51px,#1fe 52px,#2fd 54px,#0ef 57px,#0bf 60px,#0af 62px,#03f 66px,#02f"></b><b style="--g:#100,#210 4px,#fb0 5px,#ff0 6px,#6f9 8px,#3fc 9px,#1fe 10px,#0ef 11px,#0af 16px,#08f 21px,#09f 33px,#07f 41px,#08f 46px,#0af 48px,#0ff 51px,#3fc 53px,#3fc 54px,#0ff 57px,#0af 62px,#04f 66px,#03f"></b><b style="--g:#d00,#d00 1px,#300 2px,#d00 3px,#d00 4px,#200 5px,#820 36px,#960 40px,#fb0 41px,#fe0 43px,#ef1 44px,#cf3 47px,#cf3 53px,#af5 55px,#0ff 60px,#06f 66px,#05f"></b><b style="--g:#900,#a00 1px,#300 2px,#b00 3px,#c00 5px,#300 6px,#300 8px,#d00 9px,#d00 11px,#400 12px,#d00 13px,#d00 20px,#500 21px,#500 23px,#d00 24px,#d00 30px,#600 31px,#700 33px,#d00 34px,#d00 35px,#700 36px,#800 38px,#d00 39px,#e00 40px,#900 41px,#a00 42px,#d80 52px,#fb0 53px,#fe0 55px,#ef1 56px,#1fe 62px,#0ff 63px,#0cf 66px,#0bf"></b><b style="--g:#100,#300 8px,#520 22px,#930 37px,#c80 49px,#fb0 50px,#ff0 56px,#cf3 59px,#7f8 62px,#5fa 66px,#4fb"></b><b style="--g:#220,#540 1px,#770 2px,#991 3px,#9c3 4px,#8e6 5px,#5fa 6px,#2fd 7px,#0ef 8px,#0cf 9px,#0bf 11px,#0af 16px,#0cf 32px,#0ef 35px,#1fe 36px,#9f6 41px,#df1 45px,#ff0 47px,#df2 53px,#ef1 58px,#bf4 62px,#af5"></b><b style="--g:#100,#200 6px,#320 12px,#fc0 13px,#ff0 15px,#ef1 16px,#7f8 25px,#4fb 32px,#4fb 34px,#5fa 35px,#cf3 39px,#ff0 41px,#ff0 42px,#fd0 47px,#ff0 51px,#ef1 53px,#ff0 59px,#df2 62px,#df2"></b><b style="--g:#f40,#f40 1px,#f60 3px,#110 4px,#011 14px,#111 28px,#242 29px,#9f6 30px,#bf4 33px,#ef1 35px,#fe0 36px,#fc0 37px,#960 38px,#a50 43px,#c60 48px,#c80 50px,#fb0 51px,#fe0 54px,#ff0 60px,#df2 62px,#ef1"></b><b style="--g:#d00,#d00 1px,#300 2px,#d00 3px,#d00 4px,#200 5px,#800 38px,#e00 39px,#d00 41px,#a00 42px,#e00 43px,#f00 47px,#f30 50px,#d40 51px,#fa0 56px,#ff0 61px,#df1 62px,#ef1"></b><b style="--g:#300,#300 3px,#a00 4px,#d00 6px,#d00 11px,#400 12px,#d00 13px,#d00 36px,#b00 41px,#800 42px,#b00 43px,#f00 49px,#f40 53px,#ff0 61px,#df1 62px,#df1 63px,#fe0"></b><b style="--g:#500,#700 1px,#d00 5px,#e00 8px,#e00 10px,#400 11px,#400 13px,#e00 14px,#e00 16px,#400 17px,#d00 18px,#d00 26px,#600 27px,#d00 28px,#d00 38px,#e00 40px,#a00 41px,#b00 42px,#a10 43px,#b40 47px,#c50 49px,#c50 50px,#f60 51px,#f60 53px,#f80 55px,#ff0 59px,#ef1 60px,#df1 63px,#ff0 67px,#fc0"></b><b style="--g:#100,#100 1px,#300 2px,#d00 3px,#d00 6px,#400 7px,#e00 8px,#e00 16px,#500 17px,#f00 18px,#600 19px,#200 20px,#100 25px,#500 26px,#600 27px,#f00 28px,#e00 31px,#700 32px,#e00 33px,#f00 36px,#900 37px,#f20 38px,#f40 39px,#940 40px,#a70 42px,#fc0 43px,#ff0 46px,#fe0 48px,#f80 52px,#f80 53px,#f80 54px,#fe0 58px,#ef1 59px,#df2 61px,#ef1 64px,#ff0 66px,#fb0"></b><b style="--g:#100,#100 1px,#300 2px,#a00 3px,#d00 6px,#300 7px,#d00 8px,#d00 15px,#400 16px,#400 18px,#d00 19px,#e00 21px,#500 22px,#e00 23px,#e00 25px,#600 26px,#600 28px,#f00 29px,#f00 31px,#700 32px,#f00 33px,#f10 35px,#810 36px,#920 37px,#960 39px,#fd0 40px,#ff0 41px,#df2 43px,#cf3 45px,#cf3 47px,#ef1 48px,#fe0 49px,#fc0 50px,#d80 51px,#f70 52px,#f60 53px,#f80 55px,#ff0 59px,#ef1 60px,#ef1 63px,#ff0 66px,#fa0"></b><b style="--g:#100,#310 12px,#f50 13px,#f50 18px,#410 19px,#100 20px,#100 26px,#520 27px,#f60 28px,#f60 33px,#840 34px,#850 35px,#fb0 36px,#fe0 37px,#cf3 38px,#6f9 40px,#4fb 41px,#3fc 43px,#4fb 46px,#8f7 48px,#ef1 50px,#fd0 51px,#d90 52px,#d80 53px,#e80 54px,#f90 55px,#ff0 59px,#df1 62px,#ef1 64px,#ff0 66px,#fa0"></b><b style="--g:#fc0,#fc0 3px,#ff0 7px,#110 8px,#100 21px,#110 35px,#011 39px,#011 43px,#0bf 44px,#0cf 46px,#0ef 47px,#1fe 48px,#ef1 52px,#fe0 53px,#fd0 55px,#ff0 57px,#df2 60px,#df2 64px,#ff0 66px,#fa0"></b><b style="--g:#0bf,#0cf 3px,#0bf 8px,#0ef 11px,#1fe 12px,#6f9 15px,#9f5 18px,#cf3 22px,#df2 27px,#df2 31px,#cf3 33px,#af5 34px,#7f8 35px,#0ff 37px,#0af 39px,#08f 41px,#08f 42px,#0af 46px,#0ef 48px,#2fd 49px,#cf3 52px,#ef1 53px,#ef1 54px,#bf4 58px,#bf4 60px,#cf3 62px,#df2 65px,#ff0 67px,#fb0"></b><b style="--g:#100,#200 4px,#310 8px,#fb0 9px,#fe0 11px,#ff0 12px,#5fa 20px,#2fd 23px,#1fe 27px,#0ff 33px,#0ef 34px,#09f 37px,#07f 40px,#08f 42px,#0ef 46px,#1fd 47px,#ff0 52px,#fe0 53px,#fd0 54px,#fe0 55px,#ef1 56px,#bf4 58px,#9f6 60px,#af5 65px,#df2 67px,#fe0 68px,#fc0"></b><b style="--g:#100,#210 5px,#fc0 6px,#fe0 7px,#df2 8px,#8f7 11px,#0ff 18px,#0ef 19px,#0cf 22px,#0af 25px,#0af 28px,#0cf 34px,#0af 37px,#0af 40px,#0ef 42px,#2fd 43px,#ef1 47px,#fe0 48px,#fc0 49px,#c80 50px,#d60 52px,#d60 53px,#e70 54px,#fc0 56px,#ff0 57px,#9f6 59px,#7f8 60px,#5fa 62px,#5fa 64px,#8f7 66px,#ef1 68px,#fd0"></b><b style="--g:#4fb,#3fc 3px,#0ff 7px,#0ff 10px,#6f9 17px,#9f6 25px,#df2 33px,#df2 35px,#af5 38px,#9f6 40px,#af5 41px,#ff0 43px,#fc0 44px,#b60 45px,#b50 46px,#c20 49px,#f20 50px,#f10 52px,#f20 53px,#f40 54px,#f70 55px,#fe0 57px,#5fa 60px,#2fd 62px,#2fd 63px,#3fc 65px,#5fa 66px,#cf3 68px,#fd0"></b><b style="--g:#231,#473 2px,#4c7 4px,#4ea 5px,#3fc 6px,#1fe 7px,#0ff 9px,#1fe 12px,#ff0 23px,#fb0 26px,#640 27px,#830 33px,#840 36px,#960 38px,#fb0 39px,#fc0 40px,#fc0 41px,#a70 42px,#a40 44px,#f40 45px,#f20 47px,#f00 50px,#f10 52px,#f20 53px,#f40 54px,#fb0 56px,#ef1 57px,#6f9 59px,#4fb 60px,#1fe 62px,#1fe 63px,#2fd 65px,#4fb 66px,#cf3 68px,#fe0"></b><b style="--g:#110,#220 6px,#fb0 7px,#fc0 9px,#fb0 11px,#320 12px,#620 23px,#210 24px,#100 25px,#100 29px,#610 31px,#f30 32px,#f40 36px,#f60 38px,#950 39px,#a60 41px,#f80 42px,#f10 47px,#f00 51px,#f20 53px,#f40 54px,#fc0 56px,#ef1 57px,#6f9 59px,#3fc 60px,#2fd 61px,#1fe 63px,#2fd 65px,#4fa 66px,#cf3 68px,#fd0"></b><b style="--g:#011,#011 7px,#132 8px,#6f9 9px,#df1 12px,#fe0 13px,#f90 15px,#f60 17px,#f30 21px,#610 22px,#f20 23px,#f10 26px,#600 27px,#f00 28px,#f00 31px,#700 32px,#f00 33px,#f00 36px,#900 37px,#f10 38px,#f30 41px,#f00 44px,#c00 47px,#c00 49px,#d00 51px,#f00 53px,#f20 54px,#f60 55px,#fe0 57px,#8f7 59px,#6f9 60px,#4fb 62px,#5fa 65px,#7f8 66px,#ef1 68px,#fc0"></b><b style="--g:#100,#100 3px,#320 9px,#fb0 10px,#320 11px,#420 14px,#f80 15px,#f30 21px,#610 22px,#f20 23px,#f10 25px,#600 26px,#600 28px,#f00 29px,#e00 31px,#700 32px,#e00 33px,#e00 36px,#800 37px,#d00 38px,#c00 42px,#900 48px,#a00 52px,#e00 54px,#f20 55px,#fd0 58px,#df1 59px,#bf4 60px,#af5 62px,#bf4 64px,#df2 66px,#fe0 67px,#f80"></b><b style="--g:#100,#100 5px,#300 7px,#520 18px,#110 19px,#110 21px,#320 24px,#630 25px,#830 32px,#900 38px,#f00 39px,#d00 41px,#900 42px,#c00 43px,#a00 47px,#a00 50px,#b00 52px,#e00 54px,#f10 55px,#fa0 59px,#fc0 61px,#f90 65px,#f30"></b><b style="--g:#09f,#08f 2px,#05f 7px,#04f 10px,#04f 17px,#06f 24px,#025 25px,#011 28px,#011 29px,#047 31px,#0af 32px,#0df 34px,#2fd 35px,#df2 37px,#fc0 38px,#f80 39px,#f50 40px,#f30 41px,#b20 42px,#f10 43px,#f00 47px,#f00 53px,#f60 58px,#f70 60px,#f00"></b><b style="--g:#100,#300 10px,#430 17px,#fc0 18px,#ef1 21px,#8f7 27px,#4fb 32px,#5fa 34px,#8f7 35px,#cf3 36px,#fd0 37px,#950 38px,#a20 41px,#c20 48px,#f30 49px,#f30 53px,#f60 59px,#f00 65px,#d00"></b><b style="--g:#f60,#f60 1px,#210 2px,#210 4px,#fb0 5px,#fd0 6px,#ef1 7px,#6f8 10px,#1fe 13px,#0ff 14px,#0cf 16px,#0af 20px,#07f 26px,#06f 32px,#06f 34px,#07f 35px,#09f 36px,#0df 37px,#3fc 38px,#cf3 40px,#ff0 41px,#fd0 43px,#fb0 48px,#c80 49px,#d70 53px,#f80 56px,#f70 58px,#f60 60px,#f20 62px,#f00 65px,#d00"></b><b style="--g:#d80,#ea0 2px,#ff0 4px,#0ff 8px,#0cf 9px,#07f 12px,#04f 16px,#03f 23px,#03f 33px,#03f 35px,#05f 37px,#07f 38px,#0ff 40px,#6f9 42px,#8f7 43px,#ef1 49px,#fc0 53px,#fa0 58px,#f80 60px,#f40 62px,#f10 65px,#f00 67px,#e00"></b><b style="--g:#720,#930 1px,#210 2px,#210 4px,#ed0 5px,#df2 6px,#2fd 9px,#0ef 10px,#0af 12px,#07f 15px,#06f 18px,#05f 22px,#06f 28px,#08f 33px,#0af 35px,#0df 36px,#1fe 37px,#9f6 39px,#ff0 41px,#fd0 43px,#fc0 47px,#fb0 53px,#fb0 58px,#fa0 60px,#f70 62px,#f10"></b><b style="--g:#100,#110 9px,#fe0 10px,#ef1 11px,#af5 16px,#9f6 20px,#af5 24px,#ff0 29px,#fb0 33px,#850 34px,#940 37px,#a40 42px,#c50 48px,#d70 52px,#fc0 57px,#fd0 60px,#fa0 65px,#f40"></b><b style="--g:#700,#800 1px,#f00 6px,#300 7px,#520 21px,#820 36px,#a60 42px,#c80 49px,#fb0 50px,#ff0 60px,#fe0 65px,#fc0 66px,#f60"></b><b style="--g:#a00,#c10 2px,#e30 4px,#f80 6px,#fe0 8px,#df2 9px,#8f7 11px,#5fa 13px,#3fc 15px,#3fc 18px,#4fb 23px,#cf3 33px,#bf4 35px,#6f9 39px,#5fa 41px,#df2 52px,#ef1 60px,#ff0 65px,#fe0 66px,#f60"></b><b style="--g:#810,#920 1px,#310 2px,#c20 3px,#f40 6px,#310 7px,#640 23px,#fb0 24px,#ff0 32px,#df2 34px,#bf4 35px,#2fd 39px,#0ff 41px,#1fe 43px,#af5 53px,#ff0 65px,#fe0 66px,#f60"></b><b style="--g:#100,#400 13px,#640 26px,#740 28px,#fb0 29px,#fe0 32px,#ff0 33px,#df2 34px,#3fc 38px,#1fe 39px,#0ff 40px,#0ef 42px,#0ff 45px,#bf4 58px,#ff0 61px,#fd0 65px,#fc0 66px,#f60"></b><b style="--g:#001,#001 5px,#012 6px,#001 8px,#011 17px,#025 19px,#08f 20px,#0bf 31px,#0bf 34px,#09f 37px,#0af 40px,#0bf 42px,#0ff 46px,#1fe 47px,#bf4 56px,#ff0 59px,#fa0 62px,#f90 65px,#f30"></b><b style="--g:#110,#210 2px,#fc0 3px,#ff0 4px,#1fe 8px,#0ef 9px,#0cf 10px,#034 11px,#011 12px,#011 19px,#035 20px,#08f 21px,#0af 27px,#0ff 35px,#1fe 37px,#8f7 44px,#ef1 54px,#ff0 55px,#fb0 58px,#f40 62px,#f40 65px,#f10"></b><b style="--g:#e00,#500 1px,#200 3px,#900 40px,#a10 44px,#c40 50px,#f60 55px,#f50 58px,#f00 62px,#d00"></b><b style="--g:#100,#200 4px,#e00 5px,#e00 6px,#400 7px,#e00 8px,#d00 15px,#400 16px,#400 18px,#d00 19px,#d00 21px,#500 22px,#d00 23px,#d00 25px,#500 26px,#600 28px,#d00 29px,#d00 31px,#600 32px,#d00 33px,#d00 36px,#700 37px,#c00 38px,#900 42px,#900 45px,#a00 49px,#e00 57px,#e00 59px,#d00 62px,#d00"></b><b style="--g:#221,#451 1px,#770 2px,#980 3px,#e80 5px,#f70 6px,#f10 11px,#400 12px,#e00 13px,#d00 20px,#500 21px,#500 23px,#d00 24px,#d00 30px,#600 31px,#600 33px,#d00 34px,#d00 35px,#700 36px,#700 38px,#a00 39px,#800 41px,#600 42px,#700 43px,#800 53px,#c00 60px,#c00"></b><b style="--g:#100,#200 4px,#c00 5px,#d00 6px,#d00 11px,#400 12px,#d00 13px,#d00 36px,#d00 37px,#900 41px,#600 42px,#700 43px,#700 55px,#c00 62px,#c00"></b><b style="--g:#100,#e30 5px,#f30 6px,#f20 10px,#400 11px,#500 13px,#f00 14px,#f00 16px,#500 17px,#e00 18px,#d00 26px,#600 27px,#d00 28px,#d00 37px,#a00 40px,#700 41px,#600 42px,#800 43px,#700 56px,#900 58px,#c00 62px,#c00"></b><b style="--g:#110,#530 1px,#fa0 2px,#f80 8px,#f10 16px,#500 17px,#f00 18px,#f00 21px,#500 22px,#e00 23px,#e00 26px,#600 27px,#e00 28px,#d00 31px,#600 32px,#d00 33px,#d00 36px,#700 37px,#c00 38px,#b00 39px,#300 40px,#400 41px,#900 42px,#700 44px,#700 57px,#c00 62px,#c00"></b><b style="--g:#100,#d00 1px,#300 2px,#d00 3px,#d00 6px,#300 7px,#d00 8px,#d00 15px,#400 16px,#400 18px,#d00 19px,#d00 21px,#500 22px,#d00 23px,#d00 25px,#500 26px,#600 28px,#d00 29px,#d00 31px,#600 32px,#d00 33px,#d00 36px,#700 37px,#c00 38px,#800 45px,#700 56px,#900 59px,#c00 62px,#c00"></b><b style="--g:#e60,#f60 3px,#f90 9px,#f60 20px,#520 21px,#710 33px,#f20 34px,#f20 35px,#810 36px,#900 38px,#e00 39px,#d00 41px,#a00 42px,#c00 43px,#a00 55px,#a00 59px,#c00 62px,#c00"></b><b style="--g:#f00,#300 1px,#400 3px,#f00 4px,#f40 10px,#310 11px,#530 20px,#fb0 21px,#fc0 26px,#fb0 32px,#850 33px,#920 39px,#f20 40px,#f10 41px,#b10 42px,#f10 43px,#f00 46px,#b00 56px,#c00 62px,#c00"></b><b style="--g:#100,#210 5px,#320 10px,#fb0 11px,#ff0 15px,#8f7 23px,#6f9 29px,#6f9 32px,#8f7 34px,#df2 37px,#fe0 38px,#fc0 39px,#970 40px,#c30 49px,#f30 50px,#f00 53px,#d00 59px,#c00"></b><b style="--g:#03c,#05f 6px,#0cf 20px,#0cf 33px,#0ef 37px,#0ff 38px,#7f8 42px,#ff0 47px,#fc0 49px,#c90 50px,#f40 55px,#f00 60px,#d00 65px,#c00"></b><b style="--g:#100,#100 21px,#110 37px,#9f6 38px,#6f9 40px,#5fa 41px,#5fa 45px,#8f7 48px,#ef1 51px,#fe0 52px,#fa0 55px,#f60 59px,#f00 62px,#d00"></b><b style="--g:#1fe,#3fc 3px,#9f6 7px,#351 8px,#231 9px,#660 12px,#660 13px,#fe0 14px,#fd0 17px,#fc0 23px,#fe0 31px,#660 32px,#550 34px,#571 35px,#9f5 36px,#1fe 39px,#0ff 40px,#0df 41px,#0df 43px,#0df 45px,#0ff 47px,#1fe 48px,#cf3 53px,#ff0 55px,#fd0 57px,#f90 59px,#f10 62px,#f00 64px,#d00"></b><b style="--g:#100,#210 3px,#100 13px,#410 15px,#820 33px,#850 36px,#fb0 37px,#ff0 38px,#8f7 40px,#6f9 41px,#3fc 43px,#3fc 45px,#3fc 47px,#4fa 48px,#ef1 53px,#fb0 58px,#f70 60px,#f20 62px,#f10 63px,#e00 65px,#d00"></b><b style="--g:#100,#100 5px,#d00 6px,#d00 10px,#400 11px,#400 13px,#d00 14px,#d00 16px,#400 17px,#d00 18px,#d00 26px,#500 27px,#d00 28px,#d00 31px,#700 32px,#800 36px,#920 38px,#960 40px,#fd0 41px,#ff0 42px,#bf4 44px,#af5 46px,#bf4 48px,#ef1 50px,#fe0 51px,#fb0 53px,#e90 54px,#f80 58px,#f20 62px,#f00 64px,#d00"></b><b style="--g:#100,#410 14px,#750 31px,#fb0 32px,#fd0 34px,#fe0 35px,#df2 36px,#4fb 39px,#2fd 40px,#0ff 42px,#0ff 45px,#2fd 47px,#7f8 49px,#ff0 52px,#fa0 55px,#f70 58px,#f20 62px,#f00 64px,#d00"></b><b style="--g:#9e4,#ae4 3px,#df1 9px,#cf3 16px,#bf4 25px,#9f6 30px,#8f7 33px,#0ef 38px,#0cf 40px,#0bf 41px,#0cf 43px,#0ef 46px,#0ff 47px,#2fd 48px,#ff0 53px,#f40 59px,#f00 62px,#d00"></b><b style="--g:#100,#500 19px,#620 27px,#850 32px,#fc0 33px,#fe0 34px,#ef1 35px,#3fc 39px,#1fd 40px,#0ff 42px,#1fe 45px,#3fc 47px,#7f8 49px,#ef1 52px,#fe0 53px,#f50 57px,#f00 60px,#d00 65px,#d00"></b><b style="--g:#0af,#0af 14px,#0df 23px,#0cf 26px,#07f 36px,#06f 39px,#08f 43px,#0ef 47px,#1fe 48px,#ef1 53px,#fd0 54px,#f50 57px,#f00 59px,#d00 61px,#c00"></b><b style="--g:#03d,#04e 4px,#015 5px,#001 6px,#001 21px,#026 22px,#05f 23px,#06f 36px,#06f 39px,#09f 42px,#0ef 46px,#1fe 47px,#df2 52px,#fe0 53px,#f10 58px,#e00 59px,#c00 61px,#c00"></b><b style="--g:#bf4,#bf4 2px,#af5 5px,#7f8 9px,#1fe 14px,#0ff 17px,#4fb 26px,#bf4 37px,#bf4 41px,#ff0 47px,#fc0 50px,#d90 51px,#f40 55px,#f00 57px,#c00 59px,#c00 60px,#c00 62px,#c00"></b><b style="--g:#af5,#ff0 5px,#fb0 10px,#fb0 14px,#430 15px,#910 37px,#b50 47px,#c40 50px,#f50 51px,#f00 56px,#b00 59px,#b00 60px,#c00 62px,#c00"></b><b style="--g:#022,#275 2px,#5c6 4px,#8e6 5px,#bf4 6px,#ff0 8px,#fb0 11px,#320 12px,#420 14px,#f60 15px,#f20 20px,#510 21px,#600 23px,#f10 24px,#e00 30px,#700 31px,#700 33px,#e00 34px,#e00 35px,#800 36px,#800 38px,#e00 39px,#f00 41px,#b00 42px,#f10 43px,#f40 46px,#f50 48px,#f40 51px,#f00 55px,#e00 56px,#b00 59px,#b00 60px,#d00 62px,#d00"></b><b style="--g:#110,#300 11px,#400 12px,#f00 13px,#d00 41px,#a00 42px,#e00 43px,#f00 44px,#f10 45px,#f40 47px,#f40 48px,#f30 51px,#f00 55px,#c00 59px,#d00 62px,#d00"></b><b style="--g:#400,#c00 5px,#d00 6px,#d00 10px,#400 11px,#400 13px,#d00 14px,#d00 16px,#400 17px,#d00 18px,#d00 26px,#500 27px,#d00 28px,#d00 37px,#a00 40px,#700 41px,#700 42px,#a00 43px,#f00 48px,#f00 51px,#c00 59px,#d00 62px,#d00"></b><b style="--g:#800,#d00 6px,#300 7px,#d00 8px,#d00 16px,#400 17px,#d00 18px,#d00 21px,#500 22px,#d00 23px,#d00 26px,#500 27px,#d00 28px,#d00 31px,#600 32px,#d00 33px,#d00 36px,#700 37px,#b00 38px,#900 41px,#900 43px,#e00 47px,#f00 49px,#e00 53px,#c00 59px,#d00 62px,#d00"></b><b style="--g:#100,#800 40px,#a00 43px,#a00 44px,#b50 47px,#c60 49px,#d50 52px,#f20 56px,#f00 59px,#e00 66px,#e00"></b><b style="--g:#03f,#04f 3px,#05f 5px,#08f 7px,#0ef 10px,#1fe 11px,#5fa 14px,#7f8 16px,#5fa 24px,#5fa 28px,#8f7 33px,#ef1 39px,#ef1 40px,#cf3 42px,#6f8 45px,#4fa 47px,#6f9 49px,#df2 53px,#ff0 54px,#f80 58px,#f40 61px,#f30 64px,#f30"></b><b style="--g:#1aa,#0bb 1px,#0bf 6px,#07f 13px,#04f 20px,#03f 35px,#05f 41px,#04f 46px,#05f 48px,#06f 49px,#0ff 54px,#ff0 61px,#fe0 62px,#fd0"></b><b style="--g:#002,#015 1px,#02e 5px,#02f 6px,#02f 36px,#00f 44px,#00e 47px,#00f 51px,#04f 55px,#0df 60px,#1fe 61px,#3fc 62px,#3fc"></b><b style="--g:#100,#210 6px,#fb0 7px,#fe0 8px,#df2 9px,#0ff 13px,#0df 14px,#09f 17px,#06f 22px,#03f 40px,#00f 47px,#00e 53px,#00f 57px,#04f 60px,#07f 62px,#07f"></b><b style="--g:#04f,#02f 14px,#03f 42px,#00f 54px,#00f 59px,#03f 62px,#03f"></b><b style="--g:#100,#200 6px,#320 10px,#fb0 11px,#fe0 12px,#ef1 13px,#7f8 16px,#5fa 18px,#1fe 22px,#0ff 25px,#0ef 30px,#0ff 36px,#0ff 42px,#0cf 48px,#03f 59px,#03f"></b><b style="--g:#100,#500 19px,#950 37px,#960 39px,#fb0 40px,#ff0 43px,#0ff 55px,#05f 62px,#03f 66px,#04f"></b><b style="--g:#df2,#cf3 1px,#9f5 3px,#1fe 7px,#0ef 8px,#0af 12px,#08f 15px,#08f 18px,#09f 25px,#0af 32px,#0cf 34px,#0ff 36px,#7f8 40px,#9f6 42px,#af5 44px,#9f6 48px,#6f9 54px,#3fc 58px,#0ff 60px,#0bf 62px,#06f 65px,#06f 67px,#07f"></b><b style="--g:#3fc,#2fd 1px,#0ff 3px,#09f 6px,#06f 9px,#04f 16px,#06f 33px,#08f 36px,#0df 38px,#2fd 39px,#7f8 41px,#af5 44px,#bf4 47px,#cf3 57px,#bf4 59px,#9f6 60px,#1fe 63px,#0af 65px,#09f 66px,#09f 67px,#0bf"></b><b style="--g:#03f,#03f 9px,#04f 12px,#06f 15px,#0ff 24px,#2fd 27px,#2fd 33px,#3fc 34px,#5fa 35px,#ff0 38px,#fc0 39px,#960 40px,#a60 42px,#c80 48px,#fb0 49px,#fc0 53px,#fc0 58px,#fe0 60px,#df2 61px,#1fe 64px,#0df 65px,#0cf 66px,#0bf 67px,#0ef"></b><b style="--g:#110,#210 3px,#c80 4px,#eb0 5px,#fe0 6px,#110 7px,#110 10px,#110 21px,#650 24px,#fd0 25px,#ff0 33px,#fc0 35px,#850 36px,#920 39px,#f20 40px,#f20 41px,#b10 42px,#f20 43px,#f40 48px,#c40 49px,#e80 54px,#f80 58px,#fb0 60px,#fe0 61px,#cf3 62px,#3fc 64px,#0ef 65px,#0cf 66px,#0cf 67px,#0ff"></b><b style="--g:#024,#026 1px,#04e 5px,#04f 6px,#04f 10px,#05f 15px,#09f 19px,#0ff 24px,#7f8 33px,#9f6 34px,#fe0 36px,#960 37px,#f70 38px,#f50 39px,#f20 41px,#b10 42px,#f20 43px,#f30 47px,#f80 53px,#f80 58px,#fb0 60px,#fe0 61px,#df2 62px,#3fc 64px,#0ff 65px,#0df 66px,#0df 67px,#1fe"></b><b style="--g:#df2,#df2 1px,#bf4 3px,#1fe 8px,#0ef 11px,#0ff 15px,#4fb 24px,#6f9 33px,#8f7 34px,#af5 35px,#ef1 36px,#f60 39px,#f30 41px,#b20 42px,#f30 43px,#f40 47px,#f70 53px,#f80 58px,#f80 59px,#fd0 61px,#df2 62px,#4fb 64px,#1fe 65px,#0ef 66px,#0df 67px,#0ff 68px,#2fd"></b><b style="--g:#0df,#0df 3px,#0af 7px,#09f 10px,#0ff 20px,#7f8 32px,#af5 34px,#fe0 36px,#fb0 37px,#f60 39px,#f40 41px,#f40 43px,#f60 58px,#f70 59px,#f90 60px,#ff0 62px,#7f8 64px,#4fb 65px,#2fd 66px,#2fd 67px,#5fa"></b><b style="--g:#100,#400 14px,#830 32px,#920 37px,#f40 38px,#f40 40px,#a30 41px,#b50 47px,#c50 50px,#f50 51px,#f40 53px,#f40 57px,#f50 59px,#f60 60px,#f80 61px,#fe0 63px,#df1 64px,#af5 66px,#af5 67px,#cf3"></b><b style="--g:#100,#100 17px,#400 18px,#810 35px,#920 37px,#960 40px,#fc0 41px,#ff0 43px,#cf3 46px,#cf3 47px,#fe0 49px,#fc0 50px,#d80 51px,#f70 52px,#f50 53px,#f30 55px,#f30 59px,#f30 61px,#f90 66px,#f80"></b><b style="--g:#b20,#310 1px,#d30 2px,#d40 3px,#f90 5px,#fd0 6px,#df2 7px,#7f7 9px,#242 10px,#121 11px,#011 12px,#011 16px,#132 17px,#5fa 18px,#8f7 22px,#ff0 28px,#fc0 31px,#fb0 33px,#fc0 34px,#fd0 35px,#451 36px,#121 37px,#011 38px,#022 41px,#057 42px,#0bf 43px,#0bf 46px,#1fe 48px,#ff0 51px,#f70 53px,#f50 54px,#f30 56px,#f00 61px,#f10 66px,#f10"></b><b style="--g:#100,#100 4px,#310 5px,#320 8px,#640 9px,#fc0 10px,#ff0 21px,#fc0 26px,#540 27px,#110 28px,#110 36px,#011 43px,#057 44px,#0bf 45px,#0cf 46px,#0ef 47px,#2fd 48px,#df2 50px,#fc0 51px,#f70 52px,#f40 53px,#f10 54px,#f00 55px,#d00 60px,#d00"></b><b style="--g:#200,#500 2px,#200 3px,#100 4px,#100 37px,#310 38px,#960 39px,#fe0 40px,#df2 41px,#9f6 43px,#8f7 45px,#8f7 46px,#af5 47px,#df2 48px,#fd0 49px,#c70 50px,#d30 51px,#f00 52px,#a00 54px,#a00 55px,#a00 58px,#c00 62px,#c00"></b><b style="--g:#110,#520 20px,#710 29px,#f10 30px,#f10 31px,#700 32px,#f00 33px,#f00 35px,#f10 36px,#910 37px,#f40 38px,#f60 39px,#960 40px,#fc0 41px,#fe0 42px,#ff0 43px,#df2 45px,#df2 46px,#ef1 47px,#fd0 48px,#c80 49px,#f60 50px,#f20 51px,#e00 52px,#b00 53px,#900 54px,#900 56px,#a00 59px,#c00 62px,#c00"></b><b style="--g:#ac2,#9d3 1px,#8d5 2px,#1fe 5px,#0df 6px,#09f 8px,#08f 11px,#0af 16px,#0ef 20px,#3fc 22px,#ef1 27px,#fe0 28px,#f70 32px,#f50 35px,#f60 37px,#fc0 41px,#fe0 43px,#ff0 46px,#fe0 47px,#fd0 48px,#f10 52px,#e00 53px,#c00 55px,#b00 57px,#c00 62px,#c00"></b><b style="--g:#110,#310 12px,#100 15px,#200 19px,#500 21px,#700 29px,#f00 30px,#e00 39px,#900 40px,#a00 43px,#b20 46px,#c20 48px,#f20 49px,#e00 51px,#c00 53px,#b00 55px,#c00"></b><b style="--g:#d00,#f10 5px,#f10 10px,#400 11px,#500 13px,#f00 14px,#f00 16px,#500 17px,#e00 18px,#d00 26px,#600 27px,#d00 28px,#d00 37px,#a00 40px,#700 41px,#700 42px,#900 43px,#900 48px,#900 54px,#a00 59px,#c00 62px,#c00"></b><b style="--g:#100,#200 7px,#100 8px,#100 10px,#300 12px,#400 18px,#d00 19px,#d00 21px,#500 22px,#d00 23px,#d00 26px,#500 27px,#d00 28px,#d00 31px,#600 32px,#d00 33px,#d00 36px,#700 37px,#c00 38px,#800 43px,#800 53px,#900 58px,#c00 62px,#c00"></b><b style="--g:#0bf,#0df 3px,#034 4px,#011 5px,#011 10px,#122 11px,#374 12px,#8f7 13px,#ef1 16px,#fc0 18px,#530 19px,#530 21px,#820 33px,#900 38px,#900 41px,#d00 42px,#e00 47px,#b00 58px,#c00 62px,#c00"></b><b style="--g:#03f,#02f 13px,#04f 24px,#09f 33px,#0af 34px,#0ff 36px,#4fb 37px,#df2 39px,#fd0 40px,#fb0 41px,#fa0 42px,#f80 48px,#f00 57px,#c00 62px,#c00"></b><b style="--g:#110,#011 21px,#057 23px,#0cf 24px,#0ff 31px,#3fc 34px,#7f8 36px,#df2 38px,#fe0 39px,#fb0 40px,#a60 41px,#f90 42px,#f90 46px,#f70 50px,#f00 59px,#d00 62px,#d00"></b><b style="--g:#100,#100 4px,#210 5px,#400 16px,#820 32px,#920 40px,#b20 42px,#f30 43px,#f50 50px,#f30 55px,#f00 60px,#d00 62px,#d00"></b><b style="--g:#08f,#0bf 3px,#1fe 6px,#5fa 8px,#ff0 11px,#fc0 12px,#f70 14px,#f50 16px,#f50 17px,#f60 27px,#f40 37px,#f50 51px,#f40 56px,#f00 60px,#e00 61px,#d00 62px,#d00"></b><b style="--g:#100,#300 12px,#f10 13px,#f00 15px,#500 16px,#500 18px,#f00 19px,#f10 21px,#600 22px,#f10 23px,#f10 25px,#600 26px,#600 28px,#f00 29px,#f00 31px,#700 32px,#e00 33px,#e00 36px,#800 37px,#e00 38px,#f10 54px,#f00 59px,#e00 62px,#e00"></b><b style="--g:#d00,#d00 1px,#300 2px,#d00 3px,#d00 5px,#300 6px,#300 8px,#d00 9px,#d00 11px,#400 12px,#d00 13px,#d00 20px,#500 21px,#500 23px,#d00 24px,#d00 30px,#600 31px,#600 33px,#d00 34px,#d00 35px,#700 36px,#600 38px,#a00 39px,#600 42px,#700 43px,#700 54px,#f00 62px,#e00"></b><b style="--g:#100,#200 4px,#d00 5px,#d00 11px,#400 12px,#d00 13px,#d00 36px,#c00 37px,#800 40px,#700 41px,#600 42px,#700 43px,#800 56px,#f00 60px,#f40 62px,#f20"></b><b style="--g:#110,#100 21px,#400 23px,#500 24px,#d00 25px,#d00 26px,#500 27px,#d00 28px,#d00 29px,#500 30px,#100 32px,#100 40px,#100 41px,#700 42px,#600 44px,#700 48px,#900 51px,#e00 54px,#f30 56px,#fe0 62px,#fd0 66px,#f90"></b><b style="--g:#110,#300 10px,#300 11px,#100 12px,#100 20px,#200 21px,#500 22px,#710 31px,#200 33px,#100 34px,#100 35px,#200 37px,#510 38px,#940 39px,#a70 42px,#fc0 43px,#ff0 46px,#8f7 54px,#3fc 62px,#3fc 64px,#4fb 66px,#bf4"></b><b style="--g:#03f,#02f 36px,#00f 41px,#00d 49px,#00f 55px,#03f 59px,#07f 62px,#08f 65px,#0cf 67px,#1fe 68px,#4fb"></b><b style="--g:#056,#069 2px,#04e 5px,#04f 6px,#02f 11px,#02f 36px,#00f 38px,#007 46px,#007 56px,#00a 58px,#00e 60px,#01f 61px,#03f 62px,#04f 65px,#06f 66px,#0cf 68px,#1fe"></b><b style="--g:#099,#2b9 2px,#143 3px,#011 4px,#011 17px,#056 18px,#0cf 19px,#0bf 28px,#05f 36px,#00f 47px,#00d 54px,#00f 59px,#03f 62px,#04f 65px,#09f 67px,#0cf 68px,#1fe"></b><b style="--g:#058,#07c 3px,#07f 6px,#05f 11px,#05f 17px,#07f 23px,#0ff 30px,#3fc 34px,#3fc 36px,#1fe 41px,#0ff 44px,#0cf 51px,#05f 62px,#06f 65px,#08f 66px,#0ef 68px,#3fc"></b><b style="--g:#100,#210 6px,#fb0 7px,#fe0 8px,#ef1 9px,#3fc 14px,#0ff 16px,#0ff 17px,#0ef 20px,#1fe 23px,#ff0 33px,#fb0 37px,#ff0 42px,#bf4 47px,#0ff 58px,#0af 62px,#0bf 64px,#0df 66px,#1fe 67px,#4fb 68px,#7f8"></b><b style="--g:#800,#a00 1px,#300 2px,#c00 3px,#d00 4px,#200 5px,#320 12px,#fc0 13px,#ef1 15px,#cf3 18px,#bf4 21px,#cf3 24px,#ff0 27px,#fb0 34px,#860 35px,#850 36px,#960 38px,#fb0 39px,#ff0 43px,#5fa 54px,#2fd 62px,#4fb 65px,#df2"></b><b style="--g:#100,#110 6px,#011 13px,#045 14px,#0df 15px,#0df 19px,#0ff 25px,#6f9 37px,#5fa 47px,#3fc 52px,#3fc 54px,#7f8 62px,#af5 65px,#ff0 68px,#fd0"></b><b style="--g:#121,#252 1px,#ae3 5px,#451 6px,#110 7px,#110 29px,#242 30px,#352 31px,#242 33px,#111 35px,#011 44px,#4fb 45px,#2fd 52px,#4fb 56px,#af5 63px,#ef1 66px,#ff0 67px,#fb0"></b><b style="--g:#100,#011 21px,#132 22px,#011 24px,#011 26px,#032 27px,#022 28px,#033 29px,#056 30px,#0cf 31px,#0bf 34px,#0bf 36px,#0cf 40px,#0ff 46px,#2fd 53px,#bf4 63px,#ef1 66px,#fb0"></b><b style="--g:#06e,#03f 12px,#03f 34px,#05f 39px,#0ef 47px,#0ff 49px,#3fc 53px,#af5 60px,#ef1 66px,#fb0"></b><b style="--g:#110,#210 2px,#fb0 3px,#ff0 5px,#5fa 9px,#0ff 12px,#0ef 13px,#0bf 17px,#09f 23px,#0bf 33px,#0ef 36px,#1fe 37px,#9f6 41px,#cf3 45px,#cf3 53px,#ff0 60px,#ef1 65px,#ff0 67px,#fe0"></b><b style="--g:#100,#100 4px,#210 5px,#610 23px,#710 33px,#900 38px,#900 43px,#c00 49px,#f50 56px,#f60 59px,#ff0 65px,#ef1 67px,#ef1"></b><b style="--g:#100,#500 21px,#d00 22px,#d00 37px,#a00 41px,#700 42px,#900 43px,#800 47px,#900 51px,#c00 57px,#f00 59px,#fe0 65px,#ef1 66px,#cf3"></b><b style="--g:#012,#035 1px,#09e 5px,#0af 6px,#0cf 8px,#0ef 10px,#4fb 12px,#253 13px,#473 14px,#562 15px,#df2 16px,#ff0 17px,#fb0 21px,#540 22px,#630 27px,#840 34px,#900 40px,#b00 42px,#e00 43px,#c00 54px,#c00 57px,#e00 59px,#f10 60px,#fe0 65px,#ef1 66px,#cf3 68px,#bf4"></b><b style="--g:#100,#410 14px,#530 21px,#fb0 22px,#ff0 25px,#ef1 26px,#4fb 32px,#3fc 34px,#6f9 36px,#ff0 39px,#fc0 40px,#a70 41px,#b50 46px,#f60 47px,#f20 54px,#f00 58px,#f20 60px,#f40 61px,#fe0 65px,#ef1 66px,#bf4 68px,#af4"></b><b style="--g:#100,#110 9px,#430 10px,#fe0 11px,#ff0 12px,#af5 15px,#462 16px,#373 17px,#264 18px,#132 19px,#011 20px,#033 22px,#022 23px,#011 24px,#012 27px,#011 33px,#110 44px,#fc0 45px,#f50 54px,#f40 58px,#f50 60px,#f60 61px,#ff0 65px,#cf3 67px,#af4"></b><b style="--g:#011,#011 2px,#165 3px,#4fb 4px,#7f8 8px,#ff0 12px,#fb0 14px,#430 15px,#520 22px,#830 34px,#a10 41px,#b20 46px,#f40 47px,#f80 58px,#fa0 60px,#fe0 63px,#cf3 66px,#af4"></b><b style="--g:#100,#300 14px,#d00 15px,#d00 21px,#300 22px,#100 23px,#100 30px,#300 31px,#600 32px,#d00 33px,#d00 37px,#a00 41px,#800 42px,#a00 43px,#500 44px,#c00 45px,#f00 48px,#f40 51px,#d50 52px,#fc0 56px,#ff0 59px,#af4 62px,#af5 66px,#bf4"></b><b style="--g:#900,#e00 6px,#e00 10px,#400 11px,#400 13px,#d00 14px,#d00 16px,#400 17px,#d00 18px,#d00 26px,#500 27px,#d00 28px,#d00 36px,#c00 40px,#900 41px,#a00 42px,#d00 43px,#e00 44px,#f00 45px,#f30 47px,#c40 48px,#d90 51px,#fc0 52px,#ff0 54px,#8f6 59px,#6f9 62px,#bf4"></b><b style="--g:#210,#510 1px,#e40 5px,#f50 6px,#f50 9px,#f10 16px,#500 17px,#f00 18px,#f00 21px,#500 22px,#f00 23px,#e00 26px,#600 27px,#e00 28px,#e00 31px,#700 32px,#e00 33px,#e00 36px,#800 37px,#f00 38px,#f10 40px,#f40 43px,#fe0 50px,#ef1 51px,#af5 54px,#4fb 61px,#4fb 62px,#bf4"></b><b style="--g:#200,#400 1px,#300 2px,#800 3px,#c00 5px,#d00 6px,#300 7px,#d00 8px,#d00 15px,#400 16px,#400 18px,#d00 19px,#d00 21px,#500 22px,#d00 23px,#d00 25px,#500 26px,#600 28px,#d00 29px,#d00 31px,#600 32px,#d00 33px,#e00 36px,#800 37px,#e00 38px,#f00 41px,#f60 45px,#b60 46px,#b70 47px,#fb0 48px,#ff0 50px,#8f7 55px,#4fb 61px,#4fb 62px,#bf4"></b><b style="--g:#100,#400 17px,#d00 18px,#d00 20px,#500 21px,#500 23px,#d00 24px,#e00 27px,#600 28px,#900 37px,#910 40px,#b70 45px,#fc0 46px,#ff0 48px,#8f6 54px,#6f9 60px,#7f8 62px,#df2"></b><b style="--g:#022,#154 1px,#3c9 4px,#4ea 5px,#5fa 6px,#8f7 9px,#ff0 13px,#660 14px,#430 15px,#320 16px,#740 18px,#f90 19px,#f90 22px,#fb0 28px,#fb0 34px,#ff0 43px,#df2 48px,#cf3 54px,#df2 60px,#ff0 64px,#fc0"></b><b style="--g:#100,#400 17px,#f10 18px,#f10 26px,#600 27px,#900 38px,#b10 45px,#f50 56px,#f70 62px,#f50"></b><b style="--g:#b00,#d00 6px,#300 7px,#d00 8px,#d00 16px,#400 17px,#d00 18px,#d00 21px,#500 22px,#d00 23px,#d00 26px,#500 27px,#d00 28px,#d00 31px,#600 32px,#d00 33px,#d00 36px,#700 37px,#b00 38px,#800 41px,#700 42px,#700 54px,#800 55px,#f00 61px,#f10 62px,#f00"></b><b style="--g:#200,#400 1px,#300 2px,#800 3px,#c00 5px,#d00 6px,#300 7px,#d00 8px,#d00 15px,#400 16px,#400 18px,#d00 19px,#d00 21px,#500 22px,#d00 23px,#d00 25px,#500 26px,#500 28px,#d00 29px,#d00 31px,#600 32px,#200 34px,#300 37px,#400 39px,#900 40px,#700 43px,#700 54px,#800 55px,#d00 62px,#d00"></b><b style="--g:#100,#100 6px,#200 7px,#300 11px,#400 12px,#d00 13px,#d00 20px,#500 21px,#500 23px,#d00 24px,#e00 30px,#700 31px,#c10 50px,#d10 53px,#f10 54px,#f00 58px,#d00 62px,#d00"></b><b style="--g:#164,#4b7 3px,#7e7 5px,#af5 7px,#fe0 10px,#fc0 11px,#320 12px,#510 19px,#620 24px,#750 31px,#fb0 32px,#ff0 38px,#ff0 45px,#fc0 51px,#fb0 53px,#ea0 54px,#f90 56px,#f20 62px,#e00"></b><b style="--g:#045,#057 1px,#0ac 4px,#045 5px,#034 6px,#011 7px,#012 10px,#044 11px,#1fe 12px,#4fb 15px,#4fb 18px,#4fb 21px,#0ff 26px,#0df 30px,#0af 37px,#0ef 44px,#4fb 49px,#ef1 59px,#fe0 60px,#fb0 62px,#f90 65px,#f30"></b><b style="--g:#06e,#03f 10px,#03f 38px,#06f 44px,#0ff 54px,#4fb 60px,#9f6 64px,#df2 66px,#fe0 67px,#fb0 68px,#f80"></b><b style="--g:#3eb,#4e9 2px,#5e9 4px,#4fb 9px,#4fb 21px,#1fe 32px,#0ff 51px,#0bf 60px,#0cf 62px,#0ef 63px,#1fe 64px,#3fc 65px,#6f9 66px,#ef1 68px,#fc0"></b><b style="--g:#100,#110 13px,#110 34px,#220 35px,#760 36px,#ff0 37px,#6f9 45px,#0ef 53px,#08f 59px,#08f 61px,#08f 62px,#0ff 65px,#4fb 66px,#cf3 68px,#fd0"></b><b style="--g:#220,#671 2px,#8c4 4px,#8e6 5px,#6e8 6px,#1fe 9px,#0ff 10px,#0bf 14px,#0af 16px,#08f 49px,#05f 59px,#08f 62px,#0ff 65px,#3fc 66px,#bf4 68px,#fe0"></b><b style="--g:#026,#027 1px,#03e 5px,#03f 8px,#02f 36px,#00f 46px,#01f 52px,#03f 59px,#05f 61px,#0ef 65px,#2fd 66px,#af5 68px,#ef1"></b><b style="--g:#011,#011 2px,#013 3px,#06e 4px,#04f 10px,#04f 26px,#01f 49px,#02f 57px,#04f 60px,#0ef 65px,#2fd 66px,#7f7 68px,#bf4"></b><b style="--g:#100,#300 10px,#430 17px,#fb0 18px,#ff0 21px,#5fa 28px,#0ff 33px,#0cf 37px,#08f 46px,#04f 58px,#05f 60px,#06f 61px,#0ff 66px,#4fb 68px,#6f9"></b><b style="--g:#110,#210 3px,#430 4px,#110 5px,#111 15px,#121 16px,#352 17px,#8f7 18px,#373 19px,#7f8 20px,#1fe 29px,#076 30px,#011 33px,#011 41px,#056 42px,#0bf 43px,#05f 59px,#07f 62px,#0ff 66px,#2fd"></b><b style="--g:#06b,#07f 10px,#0bf 24px,#0cf 40px,#05f 59px,#07f 62px,#0ef 66px,#1fe"></b><b style="--g:#100,#320 10px,#fb0 11px,#fc0 15px,#fb0 27px,#fe0 36px,#ff0 37px,#0ff 46px,#06f 59px,#06f 61px,#08f 62px,#0ef 66px,#0ff"></b><b style="--g:#110,#320 7px,#ea0 8px,#fd0 11px,#ff0 18px,#ef1 32px,#df2 37px,#1fe 46px,#0ff 47px,#07f 59px,#07f 61px,#08f 62px,#0ff 66px,#1fe"></b><b style="--g:#6c5,#5c7 2px,#0dd 5px,#09e 8px,#07f 11px,#05f 15px,#04f 24px,#05f 33px,#09f 44px,#08f 58px,#09f 60px,#0ff 64px,#2fd 66px,#3fc"></b><b style="--g:#100,#210 3px,#cb0 4px,#cd1 5px,#1ed 8px,#0df 9px,#0af 10px,#06f 13px,#04f 17px,#03f 24px,#02f 41px,#0cf 56px,#0ef 59px,#1fe 60px,#5fa 62px,#7f8 64px,#9f6 67px,#9f6"></b><b style="--g:#09b,#08b 3px,#05f 10px,#03f 18px,#02f 36px,#01f 40px,#02f 42px,#03f 43px,#0ef 49px,#1fe 50px,#af5 58px,#ff0 61px,#fe0 62px,#fd0"></b><b style="--g:#0bb,#08b 3px,#05e 7px,#04f 11px,#03f 16px,#04f 38px,#05f 41px,#07f 42px,#0ef 44px,#4fb 45px,#bf4 47px,#ef1 48px,#ff0 49px,#fb0 52px,#d90 53px,#f80 56px,#f50 61px,#f70 66px,#f70"></b><b style="--g:#100,#400 17px,#630 26px,#750 30px,#fb0 31px,#ff0 35px,#df2 37px,#af5 39px,#9f5 40px,#bf4 41px,#df1 42px,#fd0 43px,#a70 44px,#b10 47px,#c00 49px,#b00 52px,#d00 53px,#d00 57px,#e00 60px,#f00 61px,#f40 65px,#f50"></b><b style="--g:#a00,#a00 1px,#300 2px,#a00 3px,#c00 6px,#400 7px,#d00 8px,#f00 13px,#400 14px,#610 27px,#840 36px,#960 38px,#fb0 39px,#fc0 40px,#fc0 41px,#a60 42px,#b00 46px,#e00 47px,#a00 52px,#a00 56px,#c00 59px,#f00 61px,#f20 62px,#f40 65px,#f50"></b><b style="--g:#100,#011 29px,#165 30px,#2fd 31px,#0ff 35px,#0df 39px,#1fe 41px,#3fc 42px,#ef1 45px,#fd0 46px,#b80 47px,#c70 48px,#d30 53px,#f20 57px,#f30 60px,#f60 62px,#f80 65px,#f90"></b><b style="--g:#06b,#024 1px,#011 2px,#001 41px,#026 42px,#06f 43px,#0ff 48px,#bf4 54px,#ff0 58px,#ff0 61px,#cf3 66px,#cf3"></b><b style="--g:#03c,#03c 3px,#03f 10px,#04f 27px,#04f 36px,#05f 42px,#04f 46px,#06f 49px,#0ff 56px,#2fd 60px,#0ff"></b><b style="--g:#650,#870 1px,#cc0 4px,#ee0 7px,#fe0 9px,#fb0 13px,#430 14px,#530 20px,#fb0 21px,#fe0 25px,#ff0 26px,#ef1 27px,#2fd 33px,#0ff 35px,#0ff 37px,#1fe 39px,#0ff 41px,#05f 46px,#04f 48px,#08f 58px,#07f"></b><b style="--g:#011,#011 6px,#265 7px,#6e9 8px,#ff0 12px,#fd0 13px,#fc0 14px,#430 15px,#530 19px,#fb0 20px,#ff0 27px,#ef1 28px,#9f6 32px,#7f7 34px,#8f7 36px,#bf4 39px,#bf4 40px,#9f6 41px,#2fd 43px,#0df 44px,#0af 45px,#05f 47px,#04f 49px,#03f"></b><b style="--g:#100,#320 12px,#fb0 13px,#fb0 15px,#fe0 18px,#ef1 19px,#9f6 24px,#4fb 33px,#5fa 35px,#cf3 39px,#cf3 40px,#af5 41px,#7f7 42px,#0ff 44px,#08f 46px,#05f 48px,#02f 60px,#02f"></b><b style="--g:#011,#111 20px,#231 21px,#9f6 22px,#af5 27px,#af5 33px,#bf4 35px,#ff0 38px,#fe0 39px,#ef1 41px,#cf3 42px,#1fe 45px,#0df 46px,#0af 48px,#08f 53px,#03f 60px,#02f"></b><b style="--g:#100,#600 27px,#900 40px,#a10 42px,#a50 44px,#b70 45px,#fd0 46px,#ff0 47px,#6f9 53px,#1fe 55px,#0df 56px,#06f 59px,#03f 61px,#02f"></b><b style="--g:#b10,#d00 3px,#d00 6px,#400 7px,#d00 8px,#d00 16px,#400 17px,#d00 18px,#d00 21px,#500 22px,#d00 23px,#d00 26px,#500 27px,#d00 28px,#d00 31px,#600 32px,#d00 33px,#d00 36px,#700 37px,#b00 38px,#a00 41px,#a00 45px,#800 46px,#c00 50px,#d40 52px,#d60 53px,#fb0 54px,#ef1 55px,#4fb 57px,#0ef 58px,#06f 60px,#04f 61px,#02f 62px,#02f"></b><b style="--g:#e30,#e20 1px,#300 2px,#e10 3px,#e00 5px,#e00 6px,#400 7px,#e00 8px,#d00 15px,#400 16px,#400 18px,#d00 19px,#d00 21px,#500 22px,#d00 23px,#d00 25px,#500 26px,#500 28px,#d00 29px,#d00 31px,#600 32px,#d00 33px,#d00 36px,#700 37px,#b00 38px,#800 43px,#700 50px,#800 51px,#c00 53px,#e10 54px,#f70 55px,#fd0 56px,#af5 57px,#4fb 58px,#0df 59px,#04f 61px,#02f 62px,#02f"></b><b style="--g:#e40,#e30 1px,#310 2px,#e20 3px,#e10 5px,#400 6px,#400 8px,#f00 9px,#f00 10px,#300 11px,#500 23px,#d00 24px,#d00 30px,#600 31px,#600 33px,#d00 34px,#d00 35px,#700 36px,#700 38px,#d00 39px,#d00 41px,#900 42px,#c00 43px,#800 48px,#900 51px,#c00 53px,#f00 54px,#f50 55px,#fb0 56px,#cf3 57px,#5fa 58px,#0ef 59px,#05f 61px,#02f 62px,#02f"></b><b style="--g:#e20,#310 1px,#310 2px,#e30 3px,#fd0 12px,#fe0 14px,#ff0 16px,#fe0 19px,#fb0 23px,#640 24px,#820 35px,#920 37px,#a50 41px,#a30 44px,#f20 45px,#f00 47px,#d00 51px,#d00 52px,#f00 53px,#f30 54px,#f70 55px,#fd0 56px,#bf4 57px,#5fa 58px,#0ff 59px,#05f 61px,#02f 62px,#02f"></b><b style="--g:#100,#210 6px,#110 7px,#110 35px,#220 36px,#ff0 37px,#cf3 39px,#cf3 40px,#cf3 41px,#ef1 42px,#fe0 43px,#fc0 44px,#b70 45px,#b40 47px,#c30 50px,#d30 52px,#d40 53px,#e60 54px,#fb0 55px,#ef1 56px,#4fb 58px,#0ef 59px,#05f 61px,#02f 62px,#02f"></b><b style="--g:#011,#110 44px,#df2 45px,#ef1 46px,#fe0 47px,#fc0 51px,#fd0 53px,#ff0 54px,#8f7 56px,#0ff 58px,#05f 61px,#02f 62px,#02f"></b><b style="--g:#012,#037 2px,#08e 5px,#09f 6px,#0ff 13px,#3fc 16px,#9f6 20px,#572 21px,#561 22px,#110 24px,#110 25px,#330 27px,#320 28px,#650 31px,#650 34px,#ff0 35px,#ef1 36px,#8f7 38px,#374 39px,#4fb 40px,#2fd 42px,#5fa 51px,#4fb 53px,#2fd 55px,#0ff 56px,#06f 60px,#02f 62px,#02f"></b><b style="--g:#011,#011 1px,#033 2px,#055 3px,#0dd 4px,#0df 6px,#09f 14px,#0af 16px,#0cf 19px,#034 20px,#011 23px,#011 30px,#011 42px,#013 43px,#07f 44px,#07f 53px,#02f 62px,#02f"></b><b style="--g:#01a,#02f 6px,#04f 17px,#09f 26px,#0af 29px,#09f 33px,#05f 37px,#00f 46px,#00e 50px,#00f 56px,#02f 62px,#02f"></b><b style="--g:#110,#fb0 1px,#ff0 3px,#4fb 9px,#0ff 12px,#0cf 15px,#0ef 18px,#0ff 19px,#af5 26px,#bf4 29px,#af4 31px,#8f7 33px,#7f8 34px,#0ff 36px,#0cf 37px,#08f 39px,#06f 41px,#01f 48px,#02f"></b><b style="--g:#fc0,#fa0 2px,#210 3px,#600 23px,#810 33px,#820 35px,#950 37px,#fd0 38px,#cf3 39px,#4fa 41px,#0ff 43px,#0cf 47px,#09f 54px,#03f 61px,#03f"></b><b style="--g:#110,#310 12px,#f20 13px,#f20 15px,#510 16px,#500 18px,#f10 19px,#f00 21px,#600 22px,#f00 23px,#f00 25px,#600 26px,#600 28px,#f00 29px,#f00 31px,#700 32px,#f00 33px,#f10 35px,#f40 37px,#940 38px,#fb0 39px,#fe0 40px,#bf4 42px,#8f7 44px,#5fa 47px,#2fd 52px,#0ff 54px,#06f 59px,#03f 61px,#04f 66px,#03f"></b><b style="--g:#07f,#08f 1px,#0af 3px,#0ff 5px,#df2 9px,#ff0 10px,#fb0 12px,#420 13px,#610 24px,#f30 25px,#f20 30px,#710 31px,#710 33px,#f40 34px,#f50 35px,#840 36px,#960 37px,#fe0 38px,#cf3 39px,#7f8 41px,#6f9 42px,#4fb 51px,#2fd 53px,#1fe 54px,#0ef 55px,#07f 58px,#04f 60px,#03f 61px,#06f 66px,#04f"></b><b style="--g:#02f,#03f 5px,#04f 8px,#07f 11px,#0df 14px,#1fe 15px,#8f6 18px,#ff0 21px,#fd0 22px,#f90 26px,#f70 31px,#f80 34px,#fa0 35px,#fd0 36px,#df2 37px,#5fa 39px,#3fc 40px,#1fe 42px,#4fb 51px,#3fc 53px,#2fd 54px,#0ef 55px,#06f 58px,#04f 59px,#03f 60px,#07f 65px,#06f 67px,#05f"></b><b style="--g:#110,#fa0 1px,#fa0 2px,#210 3px,#400 14px,#100 15px,#100 26px,#410 28px,#710 29px,#f30 30px,#f40 33px,#f70 35px,#850 36px,#fd0 37px,#cf3 38px,#5f9 40px,#4fb 41px,#3fc 42px,#7f8 48px,#8f7 52px,#6f9 54px,#0ff 56px,#09f 58px,#05f 60px,#04f 61px,#07f 66px,#05f"></b><b style="--g:#05f,#05f 2px,#06f 4px,#09f 6px,#0ef 8px,#1fe 9px,#cf3 14px,#ef1 15px,#fe0 16px,#fd0 17px,#540 18px,#110 19px,#110 25px,#310 26px,#730 27px,#f50 28px,#f40 32px,#f50 34px,#f80 36px,#fe0 38px,#af5 40px,#8f7 41px,#8f7 42px,#cf3 47px,#cf3 52px,#9f5 54px,#0ff 57px,#08f 59px,#05f 61px,#08f 66px,#05f"></b><b style="--g:#100,#400 19px,#d00 20px,#d00 21px,#500 22px,#d00 23px,#d00 25px,#500 26px,#600 28px,#e00 29px,#e00 31px,#700 32px,#e00 33px,#f00 35px,#f00 36px,#910 37px,#960 40px,#fb0 41px,#fd0 42px,#ff0 51px,#df2 53px,#bf4 54px,#2fd 57px,#0ef 58px,#0bf 59px,#08f 61px,#08f 66px,#06f"></b><b style="--g:#e60,#e70 3px,#f40 8px,#f20 11px,#410 12px,#f10 13px,#f00 20px,#500 21px,#600 23px,#f00 24px,#f00 30px,#700 31px,#700 33px,#f00 34px,#f00 35px,#810 36px,#910 37px,#f40 38px,#f80 40px,#a60 41px,#fb0 42px,#fd0 46px,#ff0 52px,#df2 54px,#1fe 59px,#0ef 60px,#0bf 65px,#06f"></b><b style="--g:#100,#600 23px,#f10 24px,#f00 32px,#f10 36px,#910 37px,#a60 42px,#fa0 43px,#fd0 45px,#ff0 48px,#ff0 53px,#df2 55px,#af5 58px,#1fe 64px,#0ef 65px,#09f 68px,#07f"></b><b style="--g:#014,#016 1px,#03a 3px,#05e 5px,#08f 7px,#0ef 10px,#bf4 15px,#ff0 18px,#fe0 19px,#fb0 23px,#640 24px,#740 30px,#840 34px,#860 36px,#fb0 37px,#fe0 39px,#ef1 40px,#af5 44px,#8f7 47px,#cf3 53px,#df2 58px,#bf4 61px,#9f6 62px,#2fd 65px,#0ef 66px,#0af 68px,#08f"></b><b style="--g:#013,#015 1px,#02e 5px,#03e 6px,#06f 26px,#06f 33px,#05f 37px,#09f 46px,#0bf 48px,#0ff 50px,#7f7 54px,#cf3 57px,#df2 59px,#df2 61px,#bf4 62px,#0ff 66px,#0bf 68px,#09f"></b><b style="--g:#002,#015 1px,#02e 5px,#02e 6px,#05f 25px,#05f 37px,#0af 46px,#0ef 49px,#1fe 50px,#7f8 53px,#af5 55px,#ef1 59px,#ef1 61px,#cf3 62px,#1fe 66px,#0ef 67px,#09f"></b><b style="--g:#0ce,#0ee 2px,#1ed 3px,#4ea 5px,#9f5 8px,#572 9px,#440 11px,#110 12px,#110 16px,#110 25px,#530 27px,#530 28px,#740 30px,#860 35px,#fb0 36px,#ff0 40px,#bf4 46px,#bf4 48px,#ff0 51px,#fe0 52px,#fd0 54px,#fc0 58px,#fc0 59px,#fe0 61px,#ef1 62px,#1fe 67px,#0ef 68px,#0cf"></b><b style="--g:#011,#100 15px,#100 16px,#410 17px,#610 26px,#820 35px,#930 37px,#a70 41px,#fc0 42px,#ff0 45px,#ef1 47px,#ff0 48px,#fb0 51px,#d80 52px,#f70 55px,#f90 60px,#ff0 64px,#5fa 68px,#3fc"></b><b style="--g:#017,#02d 4px,#02f 9px,#04f 21px,#07f 37px,#0bf 44px,#0df 46px,#0ff 47px,#3fc 48px,#df2 51px,#fd0 52px,#fb0 53px,#f80 55px,#f50 61px,#f50 62px,#f80 64px,#fe0 67px,#df1 68px,#af5"></b><b style="--g:#07c,#06c 3px,#04f 9px,#03f 15px,#03f 41px,#04f 44px,#05f 46px,#07f 47px,#0af 48px,#0ff 49px,#ef1 52px,#f90 54px,#f80 55px,#f10 62px,#f20 64px,#f50 66px,#fe0"></b><b style="--g:#352,#473 1px,#5a5 3px,#5c7 4px,#3da 5px,#0de 7px,#0af 9px,#06f 14px,#026 15px,#013 16px,#013 18px,#002 19px,#012 20px,#027 21px,#04f 22px,#02f 43px,#02f 45px,#05f 47px,#08f 48px,#0df 49px,#3fc 50px,#ef1 52px,#f80 54px,#f60 55px,#f00 61px,#e00 62px,#f00 65px,#f20 66px,#fb0"></b><b style="--g:#056,#069 2px,#05c 4px,#03e 7px,#03f 9px,#02f 36px,#01f 38px,#00c 43px,#00e 46px,#00f 47px,#03f 48px,#08f 49px,#0ef 50px,#5fa 51px,#bf4 52px,#fe0 53px,#e90 54px,#f60 56px,#f00 60px,#e00 61px,#e00 63px,#f00 65px,#f10 66px,#fb0"></b><b style="--g:#04c,#04c 3px,#02f 10px,#02f 36px,#00f 38px,#00c 41px,#00b 44px,#00c 46px,#00e 47px,#01f 48px,#05f 49px,#0bf 50px,#2fd 51px,#df2 53px,#fd0 54px,#f80 56px,#f10 60px,#e00 61px,#d00 62px,#d00 63px,#f00 65px,#f10 66px,#fc0"></b><b style="--g:#100,#100 5px,#210 6px,#ec0 7px,#ce3 8px,#2fd 10px,#0ef 11px,#08f 13px,#05f 15px,#03f 19px,#02f 36px,#00f 39px,#00e 42px,#00f 44px,#00f 45px,#04f 47px,#07f 48px,#0ff 50px,#ef1 53px,#fd0 54px,#f80 56px,#f10 60px,#e00 61px,#d00 62px,#e00 65px,#f10 66px,#f90 68px,#fd0"></b><b style="--g:#05b,#06b 3px,#06f 10px,#06f 20px,#03f 40px,#04f 42px,#05f 43px,#08f 44px,#0ef 46px,#cf3 50px,#ff0 51px,#fc0 52px,#d90 53px,#f60 55px,#f00 60px,#d00 62px,#d00 64px,#e00 65px,#f20 66px,#f50 67px,#fa0 68px,#ff0"></b><b style="--g:#011,#001 13px,#013 14px,#06f 15px,#09f 22px,#0af 30px,#046 31px,#035 32px,#034 34px,#046 37px,#0af 38px,#0cf 40px,#0ef 41px,#2fd 42px,#bf4 44px,#fe0 45px,#b80 46px,#b60 47px,#c40 49px,#d20 52px,#f10 53px,#f00 55px,#c00 62px,#d00 64px,#e00 65px,#f20 66px,#f60 67px,#fb0 68px,#ef1"></b><b style="--g:#100,#300 8px,#730 30px,#840 36px,#960 40px,#a50 42px,#b00 45px,#d00 46px,#a00 48px,#a00 49px,#a00 54px,#c00 63px,#e00 65px,#f20 66px,#f60 67px,#fb0 68px,#df2"></b><b style="--g:#121,#252 1px,#121 2px,#011 3px,#011 11px,#023 12px,#09f 13px,#0bf 16px,#0ef 19px,#0ff 20px,#bf4 27px,#ff0 30px,#fe0 31px,#fa0 36px,#fa0 40px,#f90 41px,#f10 44px,#e00 45px,#a00 47px,#900 48px,#800 51px,#d00 64px,#e00 65px,#f20 66px,#fb0 68px,#df2"></b><b style="--g:#880,#ba0 3px,#cc0 5px,#9f6 10px,#7f7 15px,#9f6 21px,#ef1 28px,#ff0 29px,#fb0 33px,#850 34px,#850 35px,#f80 36px,#f80 38px,#950 39px,#f70 40px,#f60 41px,#f00 44px,#900 47px,#700 50px,#800 54px,#c00 61px,#d00 64px,#e00 65px,#f10 66px,#fa0 68px,#ff0"></b><b style="--g:#100,#600 32px,#700 33px,#d00 34px,#d00 36px,#700 37px,#d00 38px,#c00 41px,#700 45px,#700 55px,#800 56px,#c00 61px,#e00 65px,#f00 66px,#fc0"></b><b style="--g:#100,#100 3px,#700 37px,#d00 38px,#800 47px,#700 49px,#c00 60px,#d00 64px,#e00 66px,#f10 67px,#f70"></b><b style="--g:#110,#110 6px,#341 7px,#ae4 8px,#9f6 10px,#7f8 20px,#7f8 24px,#363 25px,#373 26px,#8f6 27px,#462 28px,#af5 29px,#ef1 34px,#f70 40px,#f30 45px,#f10 49px,#f00 54px,#c00 62px,#d00 65px,#f00 67px,#f30"></b><b style="--g:#7c4,#9d4 4px,#ce3 8px,#df2 10px,#ff0 12px,#fc0 15px,#430 16px,#110 19px,#110 21px,#220 22px,#220 24px,#540 25px,#fc0 26px,#fb0 33px,#850 34px,#940 37px,#f70 38px,#f50 41px,#f00 53px,#d00 58px,#c00 61px,#d00 65px,#e00 67px,#f10"></b><b style="--g:#100,#400 17px,#700 29px,#a20 42px,#b20 47px,#d00 51px,#f00 52px,#d00 59px,#e00 65px,#f00 67px,#f20"></b><b style="--g:#09c,#07d 5px,#09f 10px,#0cf 16px,#0ff 24px,#1fe 36px,#2fd 37px,#ff0 47px,#fb0 51px,#d90 52px,#f60 56px,#f30 60px,#f30 65px,#f60"></b><b style="--g:#7c5,#5d7 4px,#264 5px,#011 6px,#001 41px,#011 44px,#08f 45px,#0ff 51px,#2fd 53px,#fe0 61px,#fd0 62px,#fd0 64px,#ef1"></b><b style="--g:#d90,#ee0 5px,#cf3 8px,#6f9 13px,#0ff 17px,#0ef 18px,#09f 22px,#024 23px,#011 24px,#001 33px,#013 34px,#017 35px,#03f 36px,#00f 41px,#00d 43px,#00d 47px,#00e 51px,#00f 53px,#04f 56px,#1fe 61px,#3fc 62px,#2fd"></b><b style="--g:#001,#011 13px,#025 14px,#036 15px,#07f 16px,#06f 20px,#037 21px,#026 22px,#012 23px,#001 24px,#001 30px,#014 31px,#04f 32px,#02f 37px,#00f 39px,#00a 44px,#007 51px,#008 54px,#00a 56px,#00f 59px,#07f 62px,#07f"></b><b style="--g:#6d7,#4ea 3px,#4fb 9px,#0ff 18px,#0cf 23px,#09f 32px,#04f 36px,#00e 41px,#00a 53px,#00b 56px,#00f 60px,#03f 62px,#03f"></b><b style="--g:#001,#03b 1px,#05d 3px,#08e 5px,#0ef 8px,#2fd 9px,#af5 12px,#ff0 14px,#fb0 16px,#430 17px,#710 29px,#820 34px,#850 36px,#ff0 37px,#3fc 39px,#0ef 40px,#0cf 41px,#0bf 42px,#0af 47px,#05f 53px,#03f 55px,#02f 60px,#02f"></b><b style="--g:#100,#400 18px,#d00 19px,#d00 21px,#500 22px,#d00 23px,#d00 25px,#500 26px,#500 28px,#d00 29px,#d00 31px,#600 32px,#d00 33px,#d00 36px,#700 37px,#900 40px,#b70 46px,#fc0 47px,#fe0 48px,#df2 49px,#3fc 53px,#0ef 55px,#02f 62px,#02f"></b><b style="--g:#c00,#c00 1px,#300 2px,#c00 3px,#c00 5px,#300 6px,#300 8px,#d00 9px,#d00 11px,#400 12px,#d00 13px,#d00 20px,#500 21px,#500 23px,#d00 24px,#d00 30px,#600 31px,#600 33px,#d00 34px,#d00 35px,#700 36px,#700 38px,#b00 39px,#c00 41px,#900 42px,#d00 43px,#e00 44px,#b00 45px,#b20 47px,#c50 49px,#c80 50px,#fc0 51px,#ff0 52px,#1fe 57px,#0df 58px,#02f 62px,#02f"></b><b style="--g:#110,#800 36px,#a70 44px,#fb0 45px,#fe0 48px,#ff0 49px,#af5 52px,#2fd 56px,#0ef 57px,#04f 61px,#02f 62px,#01f"></b><b style="--g:#022,#045 1px,#079 3px,#08e 5px,#08f 6px,#05f 10px,#04f 14px,#04f 25px,#05f 28px,#08f 32px,#0cf 37px,#0ff 39px,#4fb 43px,#5fa 48px,#4fb 52px,#0ff 55px,#06f 59px,#03f 61px,#01f"></b><b style="--g:#06a,#08c 2px,#0cf 5px,#0ff 10px,#1fe 14px,#0ff 21px,#0df 28px,#0ff 33px,#4fb 36px,#df2 40px,#ef1 42px,#8f7 52px,#7f8 53px,#2fd 55px,#0ef 56px,#06f 59px,#03f 61px,#00f"></b><b style="--g:#0ef,#09f 8px,#08f 13px,#0af 19px,#0ff 26px,#6f9 30px,#ef1 34px,#fe0 35px,#fb0 36px,#950 37px,#930 39px,#a30 41px,#a40 43px,#b70 46px,#fb0 47px,#ff0 50px,#df2 52px,#bf4 53px,#8f7 54px,#1fd 56px,#0df 57px,#06f 59px,#03f 61px,#00f"></b><b style="--g:#001,#05c 1px,#06f 5px,#08f 14px,#0af 17px,#0ef 21px,#1fe 22px,#5fa 25px,#ef1 30px,#fe0 31px,#fc0 32px,#850 33px,#920 37px,#a10 41px,#a20 43px,#b50 46px,#c80 48px,#fc0 49px,#ff0 51px,#bf4 53px,#1fe 56px,#0df 57px,#06f 59px,#03f 61px,#02f 65px,#00f"></b><b style="--g:#110,#750 1px,#a90 3px,#cc0 4px,#ce2 5px,#af4 6px,#4fb 9px,#0ff 11px,#0cf 13px,#09f 17px,#08f 24px,#0af 29px,#0ff 33px,#4fb 35px,#ff0 39px,#fd0 40px,#fc0 42px,#ff0 47px,#af5 52px,#6f9 54px,#3fc 55px,#0ff 56px,#06f 59px,#03f 61px,#00f"></b><b style="--g:#0af,#05f 5px,#03f 9px,#02f 17px,#03f 28px,#04f 34px,#05f 37px,#08f 39px,#0ff 42px,#7f8 46px,#8f7 48px,#5fa 52px,#0ff 55px,#06f 59px,#03f 61px,#01f"></b><b style="--g:#2db,#2dc 2px,#0ee 4px,#08f 9px,#05f 15px,#03f 24px,#03f 37px,#05f 41px,#08f 43px,#0ef 45px,#2fd 46px,#3fc 47px,#3fc 48px,#0ff 51px,#03f 60px,#01f"></b><b style="--g:#014,#016 1px,#02e 5px,#02f 6px,#02f 36px,#00f 41px,#02f 43px,#0af 46px,#0cf 47px,#0cf 48px,#0bf 49px,#04f 54px,#02f 58px,#02f"></b><b style="--g:#0cc,#0cd 2px,#09f 5px,#05f 8px,#04f 11px,#03f 19px,#03f 34px,#03f 40px,#04f 42px,#06f 43px,#0df 45px,#2fd 46px,#4fb 47px,#3fc 48px,#2fd 49px,#0ff 50px,#0af 52px,#06f 54px,#03f 58px,#02f 60px,#02f"></b><b style="--g:#100,#300 10px,#430 16px,#fb0 17px,#ff0 19px,#cf3 21px,#bf4 23px,#df2 29px,#df2 34px,#cf3 36px,#6f9 39px,#6f9 40px,#7f8 41px,#df2 43px,#fe0 44px,#fb0 45px,#b60 46px,#b60 47px,#c70 48px,#fc0 49px,#ef1 50px,#6f9 52px,#0ff 54px,#07f 59px,#03f 62px,#03f"></b><b style="--g:#f30,#f30 2px,#f40 4px,#fb0 10px,#fc0 14px,#fb0 17px,#530 18px,#810 34px,#920 37px,#940 39px,#a50 41px,#b10 45px,#f00 46px,#f00 47px,#f10 48px,#c30 49px,#c60 50px,#fb0 51px,#ff0 52px,#bf4 53px,#6f9 55px,#1fe 57px,#0ef 58px,#08f 61px,#07f 62px,#06f"></b><b style="--g:#100,#400 13px,#740 28px,#750 31px,#fb0 32px,#ff0 39px,#ff0 40px,#fc0 42px,#a70 43px,#b40 46px,#b40 47px,#c40 48px,#c80 50px,#fd0 51px,#ff0 52px,#9f6 55px,#1fe 61px,#0ff 66px,#0cf"></b><b style="--g:#011,#001 21px,#015 23px,#03f 24px,#04f 33px,#05f 36px,#08f 38px,#0ff 41px,#cf3 45px,#ef1 46px,#ff0 47px,#ff0 50px,#cf3 54px,#cf3 65px,#6f9"></b><b style="--g:#100,#110 16px,#671 17px,#bf4 18px,#5fa 23px,#0ff 29px,#0df 33px,#0ef 35px,#1fe 36px,#df2 40px,#ff0 41px,#fb0 44px,#b70 45px,#b70 47px,#d90 52px,#fb0 53px,#f90 60px,#f90 64px,#fb0 66px,#ff0 68px,#df2"></b><b style="--g:#100,#200 6px,#520 19px,#750 30px,#fb0 31px,#fb0 33px,#fb0 34px,#850 35px,#920 40px,#a10 44px,#f20 45px,#f20 47px,#f40 52px,#d40 53px,#f50 55px,#f50 59px,#f60 65px,#f70 66px,#fe0"></b><b style="--g:#4a5,#6c5 2px,#7e6 4px,#5fa 7px,#5fa 9px,#6f9 10px,#ff0 16px,#fb0 20px,#fa0 23px,#fa0 27px,#fc0 32px,#fb0 34px,#850 35px,#f80 36px,#f40 38px,#f20 40px,#a10 41px,#b10 42px,#f10 43px,#f10 48px,#f30 58px,#f50 62px,#f60 65px,#f70 66px,#fe0"></b><b style="--g:#100,#410 17px,#620 25px,#750 31px,#fb0 32px,#fc0 34px,#fb0 35px,#860 36px,#930 40px,#a20 44px,#f30 45px,#f20 56px,#f40 59px,#f70 62px,#f80 65px,#ef1"></b><b style="--g:#d00,#e00 1px,#300 2px,#e00 3px,#f00 5px,#f10 6px,#410 7px,#f40 8px,#f60 10px,#f80 13px,#fc0 26px,#ff0 31px,#df2 34px,#df2 36px,#ff0 38px,#fb0 44px,#b70 45px,#e50 54px,#f70 58px,#fd0 62px,#fd0 64px,#ff0 66px,#bf4"></b><b style="--g:#100,#100 30px,#500 31px,#710 32px,#830 35px,#950 37px,#fb0 38px,#fe0 40px,#ff0 41px,#ef1 43px,#ff0 45px,#fb0 53px,#fc0 55px,#fe0 57px,#ef1 58px,#9f6 62px,#8f7 66px,#6f9"></b><b style="--g:#100,#100 29px,#110 37px,#011 43px,#3fc 44px,#9f5 53px,#8f7 55px,#5fa 58px,#3fc 60px,#2fd"></b><b style="--g:#012,#025 1px,#06e 5px,#07f 6px,#06f 8px,#07f 11px,#0ff 18px,#6f9 25px,#7f8 28px,#4fa 32px,#1fe 34px,#0ef 35px,#09f 37px,#08f 38px,#05f 41px,#07f 45px,#0ff 53px,#0df 59px,#0ff 61px,#1fe 62px,#1fe"></b><b style="--g:#110,#210 4px,#fc0 5px,#ff0 6px,#9f6 9px,#8f7 11px,#6f9 20px,#7f8 27px,#5fa 30px,#1fe 33px,#0ef 34px,#08f 37px,#05f 40px,#04f 42px,#06f 46px,#0ef 53px,#0ef 54px,#0cf 58px,#0df 60px,#0ff 61px,#1fe 62px,#1fe"></b><b style="--g:#100,#f10 1px,#300 2px,#f10 3px,#f20 4px,#200 5px,#520 22px,#730 29px,#850 32px,#fc0 33px,#fe0 34px,#df2 35px,#1fe 38px,#0ef 39px,#0cf 40px,#0bf 42px,#0ff 47px,#4fb 51px,#6f9 53px,#2fd 59px,#4fb 62px,#4fb"></b><b style="--g:#970,#a70 1px,#110 2px,#100 18px,#100 35px,#110 40px,#df2 41px,#df2 43px,#ff0 48px,#fe0 52px,#ff0 55px,#cf3 58px,#bf4 60px,#bf4"></b><b style="--g:#100,#300 1px,#300 3px,#c00 4px,#d00 6px,#d00 11px,#400 12px,#d00 13px,#e00 37px,#700 38px,#500 39px,#600 40px,#a10 41px,#d30 52px,#f60 56px,#f80 59px,#f90 61px,#f90"></b><b style="--g:#f10,#e00 10px,#400 11px,#400 13px,#d00 14px,#d00 16px,#400 17px,#d00 18px,#d00 26px,#500 27px,#d00 28px,#d00 37px,#b00 40px,#700 41px,#800 42px,#a00 43px,#900 48px,#a00 52px,#f00 59px,#f20 62px,#f20"></b><b style="--g:#d00,#d00 6px,#300 7px,#d00 8px,#d00 16px,#400 17px,#d00 18px,#d00 21px,#500 22px,#d00 23px,#d00 26px,#500 27px,#d00 28px,#d00 31px,#600 32px,#d00 33px,#d00 36px,#700 37px,#b00 38px,#800 41px,#700 43px,#700 56px,#900 58px,#e00 62px,#e00"></b><b style="--g:#900,#a00 1px,#300 2px,#b00 3px,#d00 6px,#300 7px,#d00 8px,#d00 15px,#400 16px,#400 18px,#d00 19px,#d00 21px,#500 22px,#d00 23px,#d00 25px,#500 26px,#600 28px,#d00 29px,#d00 31px,#600 32px,#d00 33px,#d00 36px,#700 37px,#c00 38px,#800 44px,#700 57px,#900 59px,#e00 62px,#d00"></b><b style="--g:#200,#400 1px,#300 2px,#800 3px,#c00 5px,#300 6px,#400 8px,#d00 9px,#e00 20px,#500 21px,#500 23px,#e00 24px,#e00 30px,#700 31px,#700 33px,#e00 34px,#e00 35px,#800 36px,#800 38px,#d00 39px,#800 54px,#900 58px,#d00 62px,#d00"></b><b style="--g:#200,#300 3px,#a00 4px,#d00 6px,#d00 37px,#d00 38px,#800 39px,#800 47px,#800 54px,#b00 59px,#d00 62px,#d00"></b></div>
<div class="rw" style="top:69.9px">
<i style="--g:#0026ff 1.0px,#0024ff 9.0px,#0034ff 15.0px,#0094ff,#7fff7f,#e1ff1d,#fbf204,#ffa500,#ff8400 26.9px,#ff6b00 34.9px,#ff2700,#e20000,#dc0000,#f90700,#ff2500,#ff2400,#f70600,#d80000,#d10000 52.9px,#e00000 74.8px,#f91d00,#97f268,#005eff,#003dff,#00b7ff,#33ffcc,#4effb1,#b8ff46,#ff4200,#d70000 94.8px,#d10000 100.8px,#eb0000 106.8px,#ff4a00,#c7fb37,#70ff8e,#a7ff57,#ffc200,#ff8900,#ffb600,#cfff2f,#9fff60,#a7ff57 126.7px,#d4ff2b 130.7px,#fbd904,#fd2500,#d80000,#f10600,#ff5000,#ff7900,#faca05,#60ff9e,#0dfff2,#25ffda,#ccf234,#ff7300,#ff8300,#68ff97,#0054ff,#0027ff 162.7px,#002dff 174.6px,#006aff 184.6px,#0086ff,#34f7cb,#d0ff2e,#defe20 192.6px,#53ffac 196.6px,#63ff9c,#e6dc19,#ff5000,#ff6400,#78ff87,#0054ff,#0024ff 210.6px,#0001fa 214.6px,#0000f0,#0001fa 218.6px,#0029ff 222.5px,#0087ff,#6cff92,#c7ff37,#a3ff5b,#3cffc2,#19ffe6,#8cff73,#ff5300,#de0000,#d60000 242.5px"></i>
<i style="--g:#0032ff 1.0px,#0025ff 9.0px,#0035ff,#005cff,#0071ff,#00c4fe,#8eff70,#e2ff1c,#fee801,#ff7c00,#ff4f00,#ff4800 28.9px,#fd0f00 32.9px,#ec0000 36.9px,#d60000 38.9px,#e60000 46.9px,#d20000 50.9px,#d10000 58.9px,#d60000 64.9px,#f50400 68.9px,#e60000 74.8px,#fa1e00,#9ef060,#0075ff,#005cff,#15dee9,#8cff72,#aaff54,#eae815,#fe2d00,#d60000 94.8px,#d10000 100.8px,#e80000 106.8px,#ff3a00,#eaea16,#b0ff4e,#e3fc1c,#ff8a00,#ff5400,#ff9200,#ccff32,#8cff72,#a5ff5a,#e8fc16,#fcef02,#ffb000,#f91b00,#d60000,#dd0000,#f60400,#fd1000,#ff7800,#85ff7a,#1cffe2,#2effd0,#c4fd3a,#ffa000,#ffb000,#57fda7,#005cff,#0034ff 162.7px,#0054ff 174.6px,#0072ff 178.6px,#007cff 184.6px,#0090ff,#17ece8,#78ff87,#7cff83,#26f9d9,#00c3ff,#01d3fe,#9aff64,#ff9f00,#ffa900,#58faa7,#004fff,#0024ff,#0014ff,#0000f0,#0000e2,#0000f0,#0014ff,#0028ff,#0075ff,#32ffcc,#7eff80,#77ff87,#59ffa5,#53ffac,#bafe44,#ff4200,#d90000,#d20000 242.5px"></i>
<i style="--g:#004eff 1.0px,#0044ff 5.0px,#002eff,#0027ff,#0055ff,#01c6fe,#11e8ee,#34fccb,#afff50,#e6ff19,#ffe000,#ff5e00,#ff2900,#ff2100,#fc0700,#e60000 32.9px,#d20000 38.9px,#d10000 62.9px,#da0000,#fc1400,#ff4700,#ff4900,#ff1b00,#ee0000,#fa1b00,#b1e64e,#00aaff,#0099ff,#4efcb0,#f0f010,#fede01,#ffa200,#f81800,#d50000 94.8px,#d10000 100.8px,#e30000 106.8px,#ff3c00,#ddf322,#95ff69,#d7fe28,#ff7400,#ff3000,#ff7600,#d0ff2e,#88ff76,#b5ff4a,#ffd000 128.7px,#ff6c00 132.7px,#f40c00,#d40000 136.7px,#e70000 142.7px,#ff5300,#a6ff59,#3bffc4,#44ffba 150.7px,#eff210 154.7px,#e4f71b,#39f4c6,#006fff,#0052ff 162.7px,#00b0ff 174.6px,#0ee6f0 178.6px,#13eeec 186.6px,#27ffd8,#4cffb2,#42ffbc,#04dcfc,#007dff,#008aff,#42fabc,#e6f619,#e1f71e,#32e6cd,#0046ff,#0024ff,#0013ff,#0000ec,#0000de,#0000ec,#0013ff,#0027ff,#0069ff,#18f4e8,#50ffae,#70ff8f,#b4ff4a,#d5fe2a,#f5d20a,#fd2500,#d60000,#d10000 242.5px"></i>
<i style="--g:#0072ff 1.0px,#0070ff,#0060ff,#0037ff,#002cff,#007cff,#46ffb9,#99ff66,#aeff50,#d7ff28,#ebff14,#ffd600,#ff4500,#ff0a00,#fd0500 28.9px,#db0000 32.9px,#d20000 38.9px,#d20000 62.9px,#e10000,#ff4100,#ffa000,#ffa100 70.9px,#f70200 74.8px,#fc1800,#c7dc38,#06e5f9,#03dffc,#a8fc56,#ff8800 86.8px,#ff4400 90.8px,#f00400,#d30000 94.8px,#d10000 100.8px,#de0000 106.8px,#ff4500,#bcff42,#5bffa4,#b1ff4d,#ff6a00,#ff1100,#ff5c00,#d8fc26,#8eff70,#cfff2f,#ff8300,#ff3c00,#ff2100,#e90000,#d20000 136.7px,#de0000 142.7px,#ff4200,#c5fe3a,#62ff9d,#5fffa0 150.7px,#8aff74 154.7px,#7aff84,#16eae9,#0086ff,#0078ff 162.7px,#00b8ff 166.7px,#00c3ff,#03e5fc,#14faeb,#1ffee0 174.6px,#95ff6a 178.6px,#a0ff5f 184.6px,#98ff66 186.6px,#3bffc4 190.6px,#23ffdc,#00beff,#005bff,#0062ff,#0edcf0,#75ff8a,#72ff8c,#09d0f6,#0040ff 208.6px,#0016ff 212.6px,#0000f0,#0000e2,#0000f0,#0016ff,#002aff,#0064ff,#09eaf6,#33ffcc,#7cff82,#fad205,#ff9000,#ff6200,#f30a00,#d40000,#d10000 242.5px"></i>
<i style="--g:#0095ff 1.0px,#0094ff,#007eff,#0048ff,#0038ff,#00a1ff,#a6ff58,#fdec02 15.0px,#fbfa04 21.0px,#ffc200,#ff2e00,#f10000 26.9px,#d50000 32.9px,#d10000 38.9px,#d20000 62.9px,#e60000,#ff6000,#ffda00,#ffde00 70.9px,#ff1900 74.8px,#ff2b00,#d9d926,#2cffd2,#2cffd2,#d9da26,#ff2e00,#fc0d00,#f80500,#de0000 92.8px,#d10000 96.8px,#da0000 106.8px,#ff4800,#a8ff56,#40ffbf,#a1ff5e,#ff5e00,#fa0000,#ff4200,#eaeb14,#b6ff49,#eaeb14,#ff4300,#f30200 130.7px,#d10000 136.7px,#d80000 142.7px,#ff3400,#ddf222,#90ff6f,#84ff7a 150.7px,#40ffbe 154.7px,#2fffd0,#02e6fe,#00a1ff,#009cff 162.7px,#00e9ff 166.7px,#02f6fd 168.7px,#6bff93 172.6px,#81ff7e,#ccff33,#fde602 178.6px,#ffd200 184.6px,#fdde02,#bcff43,#5affa4,#38ffc6,#00c8ff,#0059ff,#0058ff,#00b9ff,#1cffe2,#1cffe3,#00b4ff,#004dff 208.6px,#002dff 212.6px,#000dfd,#0005f8,#000dfd,#002dff,#003eff,#0078ff,#10f2ee,#41ffbd,#a2ff5d,#ff7900,#ff1b00,#fa0b00,#e00000 238.5px,#d10000 242.5px"></i>
<i style="--g:#00b9ff 1.0px,#00b7ff,#009fff,#0064ff,#0052ff,#00bfff,#cafa34,#ffc000 15.0px,#ffcf00 21.0px,#ff9a00,#fe1a00,#e30000 26.9px,#d10000 34.9px,#d10000 60.9px,#d20000,#e60000,#ff6200,#ffdd00,#ffe600 70.9px,#ff5b00 74.8px,#ff6800,#e4e41b,#69ff95,#70ff8e,#f7c108,#f60d00,#e30000 88.8px,#d10000 94.8px,#d80000 106.8px,#ff4000,#c2fe3d,#61ff9d,#bdff42,#ff5000,#f10000,#ff2600,#ffb400,#fbe704,#ffb000,#fb1c00,#d80000 130.7px,#d60000 142.7px,#fe2700,#f6de08,#c8ff36,#baff45 150.7px,#3effc1 154.7px,#2cffd3,#05f1fa,#00c2ff,#00beff 162.7px,#01fcfe 166.7px,#10ffef 168.7px,#b4ff4b 172.6px,#cdff32,#fae504,#ffa200 178.6px,#ff7500 184.6px,#ff8100,#f8d406,#caff34,#a4ff5a,#25f2da,#0089ff,#007dff 198.6px,#03fbfc 202.6px,#03fbfc 204.6px,#007cff 208.6px,#0043ff 216.6px,#0074ff 222.5px,#00b5ff,#54ffaa,#9aff64,#e2f01c,#ff3e00,#ea0000 234.5px,#d60000 238.5px,#d10000 242.5px"></i>
<i style="--g:#00dbff 1.0px,#00daff,#00c2ff,#0086ff,#0074ff,#09d2f6,#d2f52c,#ffb800 15.0px,#ff9400 21.0px,#ff6a00,#f80e00,#dd0000 26.9px,#d20000 34.9px,#d10000 60.9px,#d20000,#e40000,#ff5400,#ffc200,#ffd200 70.9px,#ffae00 74.8px,#ffb800,#ecf514,#a4ff5a,#b2ff4c,#ffa000,#f00400,#d90000 88.8px,#d30000 92.8px,#d60000 106.8px,#ff3000,#e3ec1c,#a2ff5c,#e2f11d,#ff4200,#f00000,#fc0e00,#ff5800,#ff7400,#ff5200,#f20600,#d30000 130.7px,#d50000 142.7px,#fa1c00,#ffb500,#fbf204,#f4fb0b 150.7px,#62ff9c 154.7px,#4effb0,#1afee5,#00e4ff,#00deff 162.7px,#02fffc 166.7px,#17ffe8 168.7px,#ecfc12 172.6px,#fdf102 174.6px,#ff7b00 178.6px,#ff6d00 180.6px,#ff3600 184.6px,#ff3a00 186.6px,#ff9e00 190.6px,#ffc400,#87ff77,#00d4ff,#00bcff 198.6px,#02fefd 202.6px,#02fefd 204.6px,#00bbff 208.6px,#00a2ff 214.6px,#00a2ff 218.6px,#00baff 222.5px,#18efe6,#c2fc3c,#fbe404,#ffa800,#fc1c00,#dc0000 234.5px,#d10000 242.5px"></i>
<i style="--g:#00f7ff 1.0px,#00f5ff,#00dfff,#00a7ff,#0097ff,#15e2ea,#d8f226,#ffb700,#ffa000,#ff7600 19.0px,#ff4700 23.0px,#fa0900,#e80000 26.9px,#d10000 40.9px,#d20000 62.9px,#e10000,#ff4000,#ff9e00,#ffb200 70.9px,#ffef00 74.8px,#f3ff0c 78.8px,#e0ff1f,#effa10,#ff7b00,#eb0000,#d40000 88.8px,#d50000 106.8px,#fc2200,#fecc02,#ecfe13,#fcd602,#ff4200,#fc0700 118.8px,#ff1400 124.7px,#fb0a00 126.7px,#d20000 130.7px,#d40000 142.7px,#f61100,#ff8200,#ffb500,#ffc500,#e3f91c,#98ff67,#81ff7e 156.7px,#05fcfa 160.7px,#00f8ff 162.7px,#04fffa 166.7px,#1affe5,#98ff66,#ffe800,#ffcb00 174.6px,#ff6100 178.6px,#ff5200 180.6px,#ff0d00 184.6px,#ff0a00 186.6px,#ff2c00 190.6px,#ff4f00,#d2e62d,#28fed7,#0ef9f1 198.6px,#0efff1 204.6px,#08f6f8 208.6px,#0af8f5 222.5px,#56ffa8,#f9d306,#ff8200,#ff5700,#f30800,#d60000 234.5px,#d10000 242.5px"></i>
<i style="--g:#03fffc 1.0px,#02fffd,#00f0ff,#00c6ff,#00baff,#21f2de,#dff020,#ffb600,#ff9b00,#ff6600 19.0px,#ff1600 26.9px,#f30000 34.9px,#d40000 38.9px,#d10000 40.9px,#d10000 62.9px,#dc0000,#ff2400,#ff6c00,#ff8200 70.9px,#f6ff09 74.8px,#eeff10,#fef802 78.8px,#ffcc00 82.8px,#ff5800,#e40000,#d20000 88.8px,#d40000 106.8px,#f61200,#ff8900,#ffbc00,#ffa300,#ff5f00 116.8px,#ff2d00 120.8px,#f80300,#e70000 124.7px,#d10000 130.7px,#d30000 142.7px,#f20500,#ff4d00,#ff7000,#ff8000,#ffcc00,#e4fe1b,#c9ff35 156.7px,#12ffec 160.7px,#04fffc 162.7px,#06fffa 166.7px,#1affe5,#98ff67,#ffe900,#ffcb00 174.6px,#ff5700 178.6px,#ff4900 180.6px,#ff0d00 184.6px,#ff0800 186.6px,#ff0e00 190.6px,#ff2a00,#f6cb09,#7fff7f 196.6px,#2effd1 202.6px,#2cffd3 204.6px,#60ff9e 216.6px,#49ffb5 222.5px,#97ff67,#ffa600,#ff5600,#ff3600,#ef0000,#d30000 234.5px,#d10000 242.5px"></i>
<i style="--g:#05fffa 1.0px,#00faff 5.0px,#00e1ff,#00dcff,#2efed0,#e5ef1a,#ffb600,#ff9b00,#ff6400,#ff4e00 21.0px,#ff5300 28.9px,#ff1f00 32.9px,#f40200 36.9px,#d60000,#d10000 40.9px,#d80000 64.9px,#fa0a00,#ff3200,#ff4800 70.9px,#f6fe09 74.8px,#f0ff0f,#ffdb00,#ffa600,#ff9000,#ff3800,#e00000,#d20000 88.8px,#d10000 104.8px,#d30000,#f00300,#ff4200,#ff6200,#ff7000,#ff8e00,#ff9900,#ff7000,#f81000,#de0000 124.7px,#d10000 130.7px,#d10000 140.7px,#d20000,#e60000,#ff1800 146.7px,#ff3800 150.7px,#ffbd00 154.7px,#fedd00,#9dff61,#1bffe4,#06fffa,#05fffa,#06fff9,#19ffe6 168.7px,#f7fa08 172.6px,#ffe400 174.6px,#ff5800 178.6px,#ff2700 184.6px,#ff2500 190.6px,#ff3800,#ffae00,#daff24,#bfff40 198.6px,#57ffa7 202.6px,#54ffab 204.6px,#87ff78 208.6px,#99ff65 212.6px,#baff45,#c6ff38,#baff45,#98ff66,#90ff6f,#cfff30,#ff9100,#ff4f00,#ff3100,#ee0000,#d20000 234.5px,#d10000 242.5px"></i>
<i style="--g:#05fffa 1.0px,#00f8fe 9.0px,#43ffbc,#e8f017,#ffbb00,#ffa000,#ff6a00,#ff5400,#ff6100,#ff8300,#ff9100,#ff8b00 28.9px,#ff4000 32.9px,#ff3300,#fa0b00,#d80000 38.9px,#d10000 62.9px,#d40000,#e90000 66.9px,#ff1600 70.9px,#f9f906 74.8px,#f7fe08 76.8px,#ff7000 80.8px,#ff5900,#ff1b00,#db0000,#d10000 88.8px,#d10000 104.8px,#d20000,#e20000,#fd0a00,#ff1b00,#ff4a00,#ffbb00,#ffe600,#ffb000,#fe2500,#eb0000 124.7px,#d10000 130.7px,#d10000 140.7px,#d80000 144.7px,#f10000 148.7px,#f70400 150.7px,#ff6a00 154.7px,#ff8e00,#c4fb3b,#21ffde,#06fff9 162.7px,#0cfff3 166.7px,#1effe1 168.7px,#eaff15 172.6px,#fef701 174.6px,#ff5f00 178.6px,#ff4400 186.6px,#ff5400 192.6px,#ffd800 196.6px,#feeb01,#ceff30,#8bff73,#86ff78 204.6px,#cbff33 208.6px,#e5fe1a 212.6px,#fde802,#ffd800,#fce802,#e1ff1e,#cfff30,#f2f20d,#ff8600,#ff5300,#ff3500,#ef0000,#d20000 234.5px,#d10000 242.5px"></i>
<i style="--g:#05fffa 1.0px,#07fff8 9.0px,#49ffb6,#e4f81b,#ffcf00,#ffb400,#ff7e00,#ff6900,#ff7700,#ff9d00,#ffac00,#ffa600 28.9px,#ff5000 32.9px,#ff4100,#fd1000,#da0000,#d10000 40.9px,#d10000 62.9px,#e40000 68.9px,#f50400 70.9px,#ffea00 74.8px,#fff000 76.8px,#ff4500 80.8px,#ff3000,#fa0a00,#d80000,#d10000 88.8px,#d20000 106.8px,#dd0000,#f90100,#ff0a00,#ff4500,#ffd400,#f4ff0c,#ffdb00,#ff5c00,#ff2800,#fe1400,#e40000,#d20000,#d10000 132.7px,#dd0000 150.7px,#fc0c00 152.7px,#ff5900 156.7px,#d0ea2f,#25ffda,#08fff7 162.7px,#34ffca 168.7px,#f1fe0e 172.6px,#fff200 174.6px,#ff7100 178.6px,#ff6400 184.6px,#ff8200 192.6px,#ffb500 196.6px,#ffc200,#f8f006,#d3ff2b,#d0ff2e 204.6px,#feee01 208.6px,#ffe800,#ffd200,#ff9d00,#ff8900,#ffa200,#ffe600,#fafa05,#ffdf00,#ff8b00 226.5px,#ff4400 230.5px,#f00300,#d30000 234.5px,#d10000 242.5px"></i>
<i style="--g:#04fffa 1.0px,#08fff8 9.0px,#43ffbc,#d4ff2a,#ffed00,#ffd200,#ff9c00,#ff8600 21.0px,#ffb100 26.9px,#ffab00 28.9px,#ff5300 32.9px,#ff4400,#fe1100,#da0000,#d10000 40.9px,#d20000 64.9px,#da0000 68.9px,#ed0000,#ff5e00,#ffcd00,#ffd100 76.8px,#ff2300 80.8px,#f20100 84.8px,#d60000,#d10000 88.8px,#d30000 106.8px,#e40000,#ff0e00,#ff2200,#ff5a00,#ffde00,#ebff14,#fbf204,#ffa700 122.7px,#ff5b00 126.7px,#f20800,#d40000 130.7px,#d60000 150.7px,#f20100,#ff1100,#ff3700,#d6de28,#29ffd6,#0cfff3 162.7px,#57ffa7 168.7px,#b3ff4c,#feef01,#ffda00 174.6px,#ff8a00 178.6px,#ff8400 180.6px,#ff8800 186.6px,#ffb800 190.6px,#ffb500 198.6px,#ffd400 202.6px,#ffd400 204.6px,#ff9100 212.6px,#ff5b00,#ff4600,#ff6800,#ffbc00,#ffde00,#ffcc00,#ff9a00,#ff8300,#ff5b00,#f20800,#d30000 234.5px,#d10000 242.5px"></i>
<i style="--g:#01fefe 1.0px,#02fbfe 9.0px,#34ffca,#b9ff46,#f2ff0d,#feef02,#ffb500,#ff9d00 21.0px,#ffb200 26.9px,#ffab00 28.9px,#ff5300 32.9px,#ff4400,#fe1100,#da0000,#d10000 40.9px,#d10000 64.9px,#d40000 68.9px,#e50000,#ff4800,#ffaa00,#ffac00 76.8px,#fd0800 80.8px,#d40000 86.8px,#d10000 88.8px,#d50000 102.8px,#e20000 106.8px,#f60400,#ff3500,#ff5000,#ff7d00,#fee901,#e9ff16,#f3ff0c 120.8px,#ffda00 124.7px,#ff9f00,#f81800,#d50000 130.7px,#d10000 148.7px,#d40000 150.7px,#f60000 154.7px,#fe1b00,#e3d01c,#41ffbd,#25ffda 162.7px,#68ff96 166.7px,#7cff82,#d4ff2b,#ffd400 172.6px,#ff9e00 178.6px,#ff9c00 180.6px,#ffaa00 186.6px,#ffee00 190.6px,#ffee00 192.6px,#ffb600 196.6px,#ffaf00 198.6px,#ff8700 202.6px,#ff7000 210.6px,#ff5a00,#ff2700,#ff1400,#ff3b00,#ff9e00,#ffc700,#ffc100 224.5px,#ffa200 228.5px,#ff7300,#f40d00,#d40000 234.5px,#d10000 242.5px"></i>
<i style="--g:#00ecff 1.0px,#00d7ff 9.0px,#16f8e9,#97ff67,#d1ff2e,#f2fc0e,#ffbb00,#ff9b00 21.0px,#ffb200 26.9px,#ffab00 28.9px,#ff5300 32.9px,#ff4400,#fe1100,#da0000,#d10000 40.9px,#d10000 66.9px,#de0000 70.9px,#ff2c00,#ff7800,#ff7900,#ff3500,#f00000 80.8px,#d10000 88.8px,#d20000 100.8px,#e20000,#fc0c00,#ff1a00,#ff3a00,#ff8500 110.8px,#ffc100 114.8px,#f9f806,#e6ff18 118.8px,#f5ff0a 124.7px,#ffc400,#fb2000,#d50000 130.7px,#d10000 148.7px,#e40000 154.7px,#f70b00,#fcb203,#96ff68,#7aff84 162.7px,#9eff60 168.7px,#e8fa17,#ffc300 172.6px,#ff9b00 178.6px,#ff9c00 180.6px,#ffc200 184.6px,#ffca00 186.6px,#f2ff0c 190.6px,#f4ff0b 192.6px,#ffb800 196.6px,#ffac00 198.6px,#ff5d00 202.6px,#ff5200 210.6px,#ff4100,#ff1600,#ff0800,#ff3200,#ff9d00,#ffca00,#ffca00 224.5px,#ffc200 228.5px,#ff8c00,#f61300,#d40000 234.5px,#d10000 242.5px"></i>
<i style="--g:#00ccff 1.0px,#00bfff 5.0px,#00a1ff,#0099ff,#02d5fe,#70ff8e,#b1ff4d,#e2ff1d,#ffae00,#ff8200,#ff8b00,#ffa600,#ffb200,#ffab00 28.9px,#ff5300 32.9px,#ff4400,#fe1100,#da0000,#d10000 40.9px,#d10000 68.9px,#d90000,#fc0e00,#ff3a00,#ff3b00,#fd1100,#e30000 80.8px,#d20000 86.8px,#d30000 100.8px,#f20500,#ff4f00 104.8px,#ff9d00 108.8px,#f2ed0c,#deff20 112.8px,#ebff14 124.7px,#ffcc00,#fc2100,#d60000 130.7px,#d10000 148.7px,#db0000 154.7px,#ee0100,#ff6600,#fbd804 160.7px,#ddfc22 164.7px,#b9ff46,#bdff41,#f3f40c,#ffbe00 172.6px,#ff8400 178.6px,#ff8700 180.6px,#ffde00 184.6px,#fbfb04 188.6px,#e9ff16,#ecff12,#ffe600,#ffb900,#ffab00 198.6px,#ff5400 202.6px,#ff4c00 210.6px,#ff1d00 216.6px,#ff4900,#ffb600,#ffe200 222.5px,#ffe500 226.5px,#ffe100,#ffa400,#f81900,#d50000 234.5px,#d10000 242.5px"></i>
<i style="--g:#00b0ff 1.0px,#00afff,#009cff,#0070ff,#0062ff,#00a6ff,#50ffae 13.0px,#d4ff2a 17.0px,#ffa100,#ff6b00,#ff7800,#ffa100,#ffb100,#ffab00 28.9px,#ff5300 32.9px,#ff4400,#fe1100,#da0000,#d10000 40.9px,#d10000 68.9px,#d40000 70.9px,#f80600 74.8px,#f90600 76.8px,#d80000 80.8px,#d50000 82.8px,#d40000 100.8px,#f71400,#ff8d00,#ffc500,#f8ee07,#9dff62,#72ff8c,#8aff74,#ccff33,#e7ff17 118.8px,#f5ff0a 124.7px,#ffc400,#fb2000,#d50000 130.7px,#d10000 150.7px,#de0000 156.7px,#fd1a00,#ff5000,#ff6800,#ffc200,#e2ff1d,#dbff24,#fdee02,#ffbe00,#ffb100 174.6px,#ff7600 178.6px,#ff7c00 180.6px,#fcf803 184.6px,#dfff1f 190.6px,#e5ff1a,#ffeb00,#ffbe00,#ffae00 198.6px,#ff5700 202.6px,#ff3900 216.6px,#ff6400,#ffd000,#fefb01 222.5px,#fffc00 226.5px,#fff800,#ffb600,#fa1c00,#d50000 234.5px,#d10000 242.5px"></i>
<i style="--g:#00aeff 1.0px,#00acff,#0099ff,#006bff,#005cff,#00a1ff,#4dffb2 13.0px,#d3ff2c 17.0px,#ffa000,#ff6800,#ff7600,#ffa000,#ffb000,#ffab00 28.9px,#ff5300 32.9px,#ff4400,#fe1100,#da0000,#d10000 40.9px,#d10000 68.9px,#db0000 74.8px,#d20000 82.8px,#d40000 100.8px,#f71500,#ff9300,#ffcd00,#f2f30d,#88ff77,#5affa4,#7aff84,#d2ff2d,#f6ff08 118.8px,#ffde00 124.7px,#ffa200,#f81800,#d50000 130.7px,#d20000 154.7px,#d50000,#e60000 158.7px,#fc1200 162.7px,#fcf403 166.7px,#f8fe07 168.7px,#ffca00 172.6px,#ffa200 178.6px,#ffa800,#fee101,#e2ff1d 184.6px,#beff40 190.6px,#c6ff39,#f3f70c,#ffce00,#ffbe00 198.6px,#ff6600 202.6px,#ff4d00 208.6px,#ff4800 214.6px,#ff4a00,#ff7200,#ffd600,#fefd01,#fefc01 224.5px,#ffeb00 228.5px,#ffac00,#f91a00,#d50000 234.5px,#d10000 242.5px"></i>
<i style="--g:#00c7ff 1.0px,#00b9ff 5.0px,#0098ff,#008fff,#00ceff,#6aff94,#adff51,#e0ff1f,#ffac00,#ff7e00,#ff8700,#ffa600,#ffb100,#ffab00 28.9px,#ff5300 32.9px,#ff4400,#fe1100,#da0000,#d10000 40.9px,#d40000 100.8px,#f20800,#ff5a00 104.8px,#ffb600 108.8px,#ceff31,#9fff5f,#b6ff48,#f4fb0b 116.8px,#ffd400 120.8px,#ffa300,#ff8c00,#ff6200,#f30a00,#d40000,#d10000 132.7px,#d20000 156.7px,#dd0000 160.7px,#f00000,#ff6400,#ffd800,#ffe900 168.7px,#ffe100 172.6px,#e6fa19 180.6px,#bcff43 184.6px,#b3ff4b 186.6px,#84ff7a 190.6px,#8bff73,#ceff30,#ffec00,#ffda00 198.6px,#ff8200 202.6px,#ff4f00 208.6px,#ff4c00 210.6px,#ff4e00 216.6px,#ff7000,#ffc400,#ffe700,#ffdf00 224.5px,#ffb900 228.5px,#ff8500,#f61200,#d40000 234.5px,#d10000 242.5px"></i>
<i style="--g:#00ecff 1.0px,#00d4ff 9.0px,#14f6ea,#92ff6c,#ccff33,#effd10,#ffba00,#ff9800 21.0px,#ffb200 26.9px,#ffab00 28.9px,#ff5300 32.9px,#ff4400,#fe1100,#da0000,#d10000 40.9px,#d10000 98.8px,#d20000,#e40000,#fe1300,#ff2700,#ff5800,#ffce00,#f4f20b,#faee04 114.8px,#ffc600 118.8px,#ffa500,#ff5600 122.7px,#ff1d00 126.7px,#e80000,#d20000,#d10000 132.7px,#d10000 156.7px,#d60000 160.7px,#e70000,#ff5000,#ffb800 166.7px,#fbfb04 172.6px,#f0fe0f 174.6px,#7cff83 178.6px,#74ff8a 180.6px,#94ff6b 184.6px,#90ff6e 186.6px,#44ffba 190.6px,#4cffb3 192.6px,#f1fe0e 196.6px,#fef601 198.6px,#ff9d00 202.6px,#ff9100 204.6px,#ff5100 208.6px,#ff4b00 216.6px,#ff6700,#ffab00,#ffc500,#ffb600,#ff8f00,#ff7c00,#ff5600,#f20700,#d30000 234.5px,#d10000 242.5px"></i>
<i style="--g:#1effe0 1.0px,#1bffe4 9.0px,#4affb5,#bcff42,#edff12,#fcf303,#ffb800,#ff9f00 21.0px,#ffb200 26.9px,#ffab00 28.9px,#ff5300 32.9px,#ff4400,#fe1100,#da0000,#d10000 40.9px,#d10000 100.8px,#e70000 106.8px,#fc1600,#ff7900,#ffa200,#ffa300 114.8px,#ff9800 118.8px,#ff7400,#ff1c00,#f60100 124.7px,#d20000 130.7px,#d20000 160.7px,#e20000,#ff3e00,#ff9b00,#ffb300,#fcec03,#d4ff2a,#bfff40 174.6px,#2cffd3 178.6px,#25ffd9 180.6px,#6eff91 184.6px,#6dff92 186.6px,#1affe5 190.6px,#22ffdc 192.6px,#dcff22 196.6px,#f4ff0b,#ffd800,#ffa600,#ff9800 204.6px,#ff5200 208.6px,#ff3f00 216.6px,#ff5300,#ff8500,#ff9800,#ff8800,#ff5c00 226.5px,#ff2e00 230.5px,#ed0000,#d20000 234.5px,#d10000 242.5px"></i>
<i style="--g:#60ff9e 1.0px,#61ff9d 9.0px,#88ff77,#e5fe1a,#fff000,#ffd800,#ffa000,#ff8a00 21.0px,#ffb100 26.9px,#ffab00 28.9px,#ff5300 32.9px,#ff4400,#fe1100,#da0000,#d10000 40.9px,#d10000 102.8px,#d40000 106.8px,#ef0200,#ff3a00,#ff5800 112.8px,#ff5e00 116.8px,#ff5e00,#ff4200,#f60600,#e00000 124.7px,#d10000 130.7px,#d20000 160.7px,#de0000,#ff2e00,#ff7d00,#ff9a00,#eeec11,#9cff63,#82ff7c 174.6px,#10ffee 178.6px,#0cfff2 180.6px,#49ffb6 184.6px,#49ffb6 186.6px,#0cfff4 190.6px,#16ffe9 192.6px,#d6ff28 196.6px,#f0ff0f,#ffd000,#ff9200,#ff8400 204.6px,#ff5000 208.6px,#ff4200 212.6px,#ff2d00,#ff2400 216.6px,#ff5e00 222.5px,#ff1100 230.5px,#e40000,#d20000 234.5px,#d10000 242.5px"></i>
<i style="--g:#a8ff57 1.0px,#aaff55 9.0px,#c8ff37,#fcea02 13.0px,#ffb600 17.0px,#ff8000,#ff6b00,#ff7900,#ff9e00,#ffad00,#ffa800 28.9px,#ff5100 32.9px,#ff4200,#fd1000,#da0000,#d10000 40.9px,#d20000 106.8px,#fc0800 110.8px,#ff1400 112.8px,#ff2200 118.8px,#ff1200,#e90000,#d80000 124.7px,#d10000 130.7px,#d10000 160.7px,#dc0000,#ff1d00,#ff5e00,#ff8000,#dfec20,#64ff9a 172.6px,#0efff2 178.6px,#0cfff4 180.6px,#2affd6 184.6px,#29ffd6 186.6px,#0afff5 190.6px,#17ffe8 192.6px,#d6ff29 196.6px,#f1ff0d,#ffc100,#ff7700 202.6px,#ff3a00 212.6px,#ff1400,#fe0600 216.6px,#ff2200 222.5px,#f70100 230.5px,#dd0000,#d20000 234.5px,#d10000 242.5px"></i>
<i style="--g:#f1f70e 1.0px,#f2f60d 9.0px,#fbea04,#ffb800 13.0px,#ff8b00 17.0px,#ff5b00,#ff4800,#ff5900,#ff8500,#ff9600,#ff9100 28.9px,#ff4400 32.9px,#ff3600,#fb0c00,#d80000,#d10000 40.9px,#d10000 106.8px,#f60000 118.8px,#d30000 124.7px,#d10000 160.7px,#d90000,#fc0f00 164.7px,#ff6100 168.7px,#e0e41f,#5affa5,#3dffc2 174.6px,#22ffdd 178.6px,#14ffea 190.6px,#22ffdc 192.6px,#d6ff28 196.6px,#f3ff0c,#ffb700,#ff6200 202.6px,#ff3f00 210.6px,#ff2d00,#fa0500,#ed0000 216.6px,#f40000 222.5px,#ec0000 228.5px,#d20000 234.5px,#d10000 242.5px"></i>
<i style="--g:#ffa400 1.0px,#ffa400 9.0px,#ff9500,#ff7200 13.0px,#ff5300 17.0px,#ff3000,#ff2300,#ff3000,#ff5200,#ff6000,#ff5c00 28.9px,#ff2500 32.9px,#ff1a00,#f60300,#d60000 38.9px,#d10000 108.8px,#e60000 118.8px,#d20000 124.7px,#d60000 162.7px,#f60300 164.7px,#ff3a00 168.7px,#f8ca06,#96ff68 172.6px,#59ffa6 178.6px,#32ffcc 186.6px,#32ffcd 190.6px,#3effc1 192.6px,#d9ff26 196.6px,#f4ff0b 198.6px,#ff5c00 202.6px,#ff2b00 208.6px,#ff1700 212.6px,#f00000,#e00000 216.6px,#d10000 242.5px"></i>
<i style="--g:#ff4200 1.0px,#ff4200 9.0px,#f90300 21.0px,#ff1e00 26.9px,#f80100 34.9px,#d40000 38.9px,#d10000 40.9px,#d10000 112.8px,#e40000 118.8px,#d10000 124.7px,#d10000 160.7px,#d40000 162.7px,#f80100 166.7px,#fe1200,#ff8e00,#edf912 172.6px,#a0ff5e 178.6px,#97ff67 180.6px,#5effa0 184.6px,#59ffa6 186.6px,#63ff9c 192.6px,#dfff20 196.6px,#f6fe08 198.6px,#ff5900 202.6px,#ff0e00 208.6px,#fa0200 212.6px,#d90000 216.6px,#d10000 242.5px"></i>
<i style="--g:#f30200 1.0px,#f20000 11.0px,#de0000 21.0px,#e90000 28.9px,#d10000 40.9px,#d10000 112.8px,#e40000 118.8px,#d10000 124.7px,#d10000 160.7px,#de0000 166.7px,#ee0000,#ff5000,#ffb000 172.6px,#fce703 176.6px,#edfc12,#e4ff1b 180.6px,#95ff69 184.6px,#8fff70 186.6px,#97ff67 192.6px,#c8ff36,#f7fc08,#feee01 198.6px,#ff4e00 202.6px,#ff3c00 204.6px,#f50000 208.6px,#d40000 216.6px,#d10000 242.5px"></i>
<i style="--g:#d60000 1.0px,#d10000 112.8px,#e40000 118.8px,#d10000 124.7px,#d10000 162.7px,#de0000 168.7px,#ff2200,#ff6500,#ff7500 174.6px,#ffb600 178.6px,#ffc200,#fae805,#e5fe1a,#dfff20 186.6px,#e5fe1a 192.6px,#fae704,#ffbe00,#ffad00 198.6px,#ff3000 202.6px,#fc0700 206.6px,#e50000 208.6px,#d20000 216.6px,#d10000 242.5px"></i>
<i style="--g:#d10000 1.0px,#d10000 112.8px,#e40000 118.8px,#d10000 128.7px,#d90000 168.7px,#f80600,#ff2400 172.6px,#ff6400 180.6px,#ffbc00 184.6px,#ffc300 188.6px,#ffbc00 192.6px,#ff6400 196.6px,#ff5600 198.6px,#fe0a00 202.6px,#fa0400 204.6px,#dc0000 208.6px,#d30000 214.6px,#d20000 242.5px"></i>
<i style="--g:#d10000 1.0px,#d10000 112.8px,#e40000 118.8px,#d10000 130.7px,#d10000 154.7px,#f90100 174.6px,#ff1d00 180.6px,#ff6e00 184.6px,#ff7600 188.6px,#ff6e00 192.6px,#ff1700 196.6px,#f60300 200.6px,#e60000 202.6px,#d60000 208.6px,#da0000 242.5px"></i>
<i style="--g:#d10000 1.0px,#d10000 112.8px,#f20000 124.7px,#d20000 130.7px,#d10000 154.7px,#f50100 162.7px,#ff2600 166.7px,#ff2700 168.7px,#f90100 172.6px,#f80000 174.6px,#ff0d00 180.6px,#ff4d00 184.6px,#ff5200 186.6px,#ff4b00 192.6px,#f30000 196.6px,#da0000 202.6px,#d60000 214.6px,#dd0000 218.6px,#f20000 222.5px,#f20000 242.5px"></i>
<i style="--g:#d10000 1.0px,#d10000 112.8px,#f20000 120.8px,#ff0c00,#ff1600,#fe0900 126.7px,#d20000 130.7px,#d70000 156.7px,#f30200 158.7px,#ff2000 162.7px,#ff8200 166.7px,#ff8200 168.7px,#ff2000 172.6px,#ff1900 174.6px,#ff2400 180.6px,#ff4a00 184.6px,#ff4d00 188.6px,#ff4600 192.6px,#ff1b00,#ee0000 196.6px,#de0000 202.6px,#de0000 214.6px,#df0000 216.6px,#fe0c00 220.5px,#ff1800 222.5px,#ff1900 242.5px"></i>
<i style="--g:#d10000 1.0px,#d10000 112.8px,#e60000 118.8px,#f80200,#ff2900,#ff3b00,#ff2600,#ef0000,#d90000,#d70000 132.7px,#dd0000 150.7px,#e90000 156.7px,#fe1400,#ff3c00,#ff4e00 162.7px,#ffd600 166.7px,#ffd600 168.7px,#ff4800 172.6px,#ff3e00 174.6px,#ff3d00 180.6px,#ff5000 184.6px,#ff5600 190.6px,#ff5000 192.6px,#fa0200 196.6px,#f60200 216.6px,#fd0e00,#ff3600,#ff4700 222.5px,#ff4e00 242.5px"></i>
<i style="--g:#d10000 1.0px,#d10000 112.8px,#e60000 118.8px,#fa0800,#ff4400,#ff5d00,#ff4600,#fc0c00,#ef0000 130.7px,#f30000 144.7px,#ff2400 156.7px,#ff7200 160.7px,#ff8300 162.7px,#f8fd07 166.7px,#f9fc06 168.7px,#ff6d00 172.6px,#ff5f00 174.6px,#ff4a00 178.6px,#ff4b00 180.6px,#ff7a00 190.6px,#ff7600 192.6px,#ff3300 196.6px,#ff2e00 198.6px,#ff3200 212.6px,#ff5600 218.6px,#ff7e00,#ff9000 222.5px,#ffac00 228.5px,#ffac00 242.5px"></i>
<i style="--g:#d10000 1.0px,#d10000 112.8px,#e70000 118.8px,#fc0e00,#ff5c00,#ff7c00,#ff6600,#ff2b00,#ff1300 130.7px,#ff1200 142.7px,#ff1e00,#ff3a00 146.7px,#ff4a00 150.7px,#ff7700 154.7px,#ff8000 156.7px,#ffb200 160.7px,#ffbd00,#ffe700,#edff11,#f1ff0e,#ffcc00,#ff8c00 172.6px,#ff5000 178.6px,#ff5000 180.6px,#ffb200 190.6px,#ffb300 192.6px,#ff8900 196.6px,#ff8600 210.6px,#ff9200,#ffae00 214.6px,#ffc600 218.6px,#ffe100,#fcea03 222.5px,#dffd20 226.5px,#d3ff2b 228.5px,#d2ff2c 242.5px"></i>
<i style="--g:#d10000 1.0px,#d10000 112.8px,#e60000 118.8px,#fc1200,#ff6c00,#ff9100,#ff7e00,#ff4a00,#ff3500 130.7px,#ff3d00 142.7px,#ff4d00,#ff7700 146.7px,#ff8e00 150.7px,#ffd000 154.7px,#f8fd07 164.7px,#e8ff16,#eeff10,#ffdd00,#ffaa00,#ff9c00 174.6px,#ff5600 178.6px,#ff5600 180.6px,#ff9c00 184.6px,#ffa700 186.6px,#ffed00 190.6px,#fef100 192.6px,#ffdf00 198.6px,#fee802 210.6px,#f4f00b,#d8ff27,#c5ff39 216.6px,#acff53 222.5px,#97ff67,#65ff99,#52ffad 228.5px,#53ffac 242.5px"></i>
<i style="--g:#d10000 1.0px,#d10000 112.8px,#e30000 118.8px,#fa0e00,#ff6000,#ff8200,#ff7700,#ff5500,#ff4800 130.7px,#ff7000 142.7px,#ff8100,#ffaa00 146.7px,#ffc200 150.7px,#f8fe07 154.7px,#e6ff18 166.7px,#ecff13,#ffed00,#ffc800,#ffbb00 174.6px,#ff6700 178.6px,#ff6700 180.6px,#ffbb00 184.6px,#ffc800,#fcf003,#e1ff1e 190.6px,#dcff22 198.6px,#afff50 210.6px,#99ff65,#64ff9a,#4effb1 216.6px,#39ffc5 222.5px,#25feda,#07ebf8 226.5px,#00dcff 230.5px,#00eafe 242.5px"></i>
<i style="--g:#d10000 1.0px,#d10000 112.8px,#dd0000 118.8px,#f40300,#ff3600,#ff5000 124.7px,#ff4c00 130.7px,#ff5700,#ff7100 134.7px,#ffb800 144.7px,#ffd500 146.7px,#ffe500 150.7px,#fcfa03 152.7px,#e6ff18 156.7px,#e5ff19 166.7px,#fcfa03 170.6px,#ffdb00 174.6px,#ff8300 178.6px,#ff8300 180.6px,#ffdb00 184.6px,#ffe900,#e8ff16,#bdff42 190.6px,#b2ff4c 198.6px,#80ff7e 202.6px,#79ff86 204.6px,#4cffb4 208.6px,#46ffb8,#2fffd0,#08ecf6 214.6px,#00abff 224.5px,#0089ff,#007bff 228.5px,#007aff 234.5px,#0094ff 238.5px,#009bff 242.5px"></i>
<i style="--g:#d10000 1.0px,#d10000 112.8px,#d70000 118.8px,#e50000,#fd0a00 122.7px,#ff2400 126.7px,#ff4000 128.7px,#ff5e00 132.7px,#ff8500 134.7px,#ffa800 138.7px,#ffd000 140.7px,#fff500 146.7px,#fefc00 150.7px,#e8ff16 156.7px,#e8ff16 166.7px,#fdfd02 172.6px,#fff600 174.6px,#ffa100 178.6px,#ffa100 180.6px,#fef801 184.6px,#f6fe09 186.6px,#9fff60 190.6px,#91ff6e 198.6px,#41ffbd 202.6px,#35ffc9 204.6px,#02ecfe 208.6px,#00e6ff,#00cfff,#0096ff,#007dff,#0071ff,#0055ff 220.5px,#0032ff 226.5px,#002cff 234.5px,#0038ff,#0053ff 238.5px,#0060ff 242.5px"></i>
<i style="--g:#d10000 1.0px,#d20000 116.8px,#d90000 120.8px,#f20000 124.7px,#fd0800,#ff3700 128.7px,#ff5f00 132.7px,#ff8a00 134.7px,#ffaf00 138.7px,#ffda00,#ffec00 142.7px,#f8ff08 154.7px,#fbff04 172.6px,#fefc01 174.6px,#ffb200 178.6px,#ffb400,#ffe000,#f2ff0c,#e4ff1b 186.6px,#8cff72 190.6px,#7cff82 198.6px,#19ffe5 202.6px,#0cfff3,#00e5ff,#00beff 208.6px,#00a2ff 212.6px,#0070ff 214.6px,#0024ff 222.5px,#001cff 234.5px,#0029ff,#0047ff 238.5px,#0054ff 242.5px"></i>
<i style="--g:#d10000 1.0px,#d10000 116.8px,#e70000 124.7px,#f90500,#ff3500 128.7px,#ff5a00 132.7px,#ff7900 134.7px,#ff9400 138.7px,#ffb300,#ffc000 142.7px,#ffc400 150.7px,#ffea00 154.7px,#ffed00 156.7px,#ffec00 172.6px,#ffe900 174.6px,#ffb600 178.6px,#ffb900,#ffe500,#edff12,#deff20 186.6px,#87ff77 190.6px,#77ff87 198.6px,#0efff0 202.6px,#02fefd 204.6px,#00caff 208.6px,#00b6ff 212.6px,#0093ff 214.6px,#005cff 222.5px,#005bff 234.5px,#007aff 238.5px,#0083ff 242.5px"></i>
<i style="--g:#d10000 1.0px,#d10000 118.8px,#e60000 124.7px,#f80400,#ff3400 128.7px,#ff6200 134.7px,#ff8500 142.7px,#ff8a00 150.7px,#ffc800 154.7px,#ffcf00 172.6px,#ffcd00 174.6px,#ffb400 178.6px,#ffb900,#ffe600,#ecff12,#deff20 186.6px,#86ff78 190.6px,#74ff8a 198.6px,#0efff2 202.6px,#03fffc 204.6px,#00ccff 214.6px,#00b1ff 222.5px,#00b1ff 234.5px,#00c4ff 242.5px"></i>
<i style="--g:#d10000 1.0px,#d10000 118.8px,#e60000 124.7px,#f80300,#ff2b00,#ff3e00 130.7px,#ff4f00 134.7px,#ff6100 150.7px,#ffa700 154.7px,#ffba00 162.7px,#ffb300 178.6px,#ffb900,#ffe600,#ecff12,#deff20 186.6px,#86ff78 190.6px,#68ff97 198.6px,#0cfff2 202.6px,#02fefe 206.6px,#00eeff 222.5px,#00f4ff 242.5px"></i>
<i style="--g:#d10000 1.0px,#d10000 118.8px,#f40000 126.7px,#ff1700 128.7px,#ff4c00 136.7px,#ff5200 150.7px,#ff8800 154.7px,#ffb000 160.7px,#ffb200 178.6px,#ffb900,#ffe500,#ecff12,#deff20 186.6px,#86ff78 190.6px,#4cffb2 198.6px,#0afff4 202.6px,#04fffc 242.5px"></i>
<i style="--g:#d10000 1.0px,#d10000 118.8px,#ed0000 126.7px,#ff0800 130.7px,#ff1700,#ff3b00,#ff4a00 136.7px,#ff4c00 150.7px,#ff7000 156.7px,#ffaa00 160.7px,#ffb600 180.6px,#ffe300,#efff10,#e1ff1e 186.6px,#8aff74 190.6px,#7eff80 192.6px,#37ffc8 196.6px,#0cfff3 202.6px,#0afff6 242.5px"></i>
<i style="--g:#d10000 1.0px,#d10000 118.8px,#ee0000 130.7px,#fb0500,#ff2d00,#ff3e00 136.7px,#ff4000 150.7px,#ff4f00 156.7px,#ff9500 160.7px,#ff9d00 178.6px,#ffa400,#ffd000,#fcfa02,#f4fe0b 186.6px,#a5ff59 190.6px,#97ff67 192.6px,#3affc4 196.6px,#33ffcc 198.6px,#27ffd8 204.6px,#26ffd8 242.5px"></i>
<i style="--g:#d10000 1.0px,#d10000 118.8px,#e00000 130.7px,#f00000,#ff1400,#ff2200 136.7px,#ff2a00 156.7px,#ff6200 160.7px,#ff6800 174.6px,#ff7500 180.6px,#ffcd00 184.6px,#faf105 188.6px,#e9fe16,#deff21 192.6px,#7cff83 196.6px,#73ff8b 198.6px,#72ff8c 242.5px"></i>
<i style="--g:#d10000 1.0px,#d10000 118.8px,#d90000 130.7px,#fa0400 136.7px,#fb0600 156.7px,#ff2200 160.7px,#ff2600 174.6px,#ff3900 180.6px,#ff8f00 184.6px,#ffc400 192.6px,#f8ec07,#ddff22,#d5ff2a 198.6px,#d4ff2a 242.5px"></i>
<i style="--g:#d10000 1.0px,#d10000 118.8px,#e00000 136.7px,#e00000 154.7px,#f40100 176.6px,#fc0700 180.6px,#ff5500 184.6px,#ff6f00 192.6px,#ffc200 196.6px,#ffc800 198.6px,#ffc800 242.5px"></i>
<i style="--g:#d10000 1.0px,#d50000 172.6px,#e80000 180.6px,#fd0a00,#ff2800 184.6px,#ff3400 192.6px,#ff7200 196.6px,#ff7600 198.6px,#ff7600 242.5px"></i>
<i style="--g:#d10000 1.0px,#d10000 172.6px,#dc0000 180.6px,#ef0000,#fc0500 184.6px,#fe0900 192.6px,#ff2c00 196.6px,#ff2f00 198.6px,#ff2f00 242.5px"></i>
<i style="--g:#d10000 1.0px,#d10000 174.6px,#f30000 198.6px,#f30000 242.5px"></i>
<i style="--g:#d10000 1.0px,#d60000 242.5px"></i>
<i style="--g:#d10000 1.0px,#d10000 242.5px"></i>
<i style="--g:#d10000 1.0px,#d10000 242.5px"></i>
<i style="--g:#d10000 1.0px,#d10000 242.5px"></i>
<i style="--g:#d10000 1.0px,#d10000 242.5px"></i>
<i style="--g:#d10000 1.0px,#d10000 242.5px"></i>
<i style="--g:#d10000 1.0px,#d10000 242.5px"></i>
<i style="--g:#d10000 1.0px,#d10000 242.5px"></i>
<i style="--g:#d10000 1.0px,#d10000 242.5px"></i>
<i style="--g:#d10000 1.0px,#d10000 242.5px"></i>
<i style="--g:#d10000 1.0px,#d10000 242.5px"></i>
<i style="--g:#d10000 1.0px,#d10000 242.5px"></i>
<i style="--g:#d10000 1.0px,#d10000 242.5px"></i>
<i style="--g:#d10000 1.0px,#d10000 242.5px"></i>
</div></div>
<svg width="685" height="590" viewBox="0 0 685 590"><defs><clipPath id="cpB"><rect x="36.2" y="344.1" width="243.5" height="201.79999999999995"/></clipPath></defs><g clip-path="url(#cpB)"><path d="M36.2,545.9 L36.2,395.0 L37.4,405.1 L38.6,414.8 L39.9,421.2 L41.1,427.6 L42.3,434.0 L43.5,438.9 L44.8,443.2 L46.0,447.5 L47.2,452.0 L48.4,457.9 L49.7,463.8 L50.9,469.6 L52.1,475.1 L53.3,476.7 L54.6,478.2 L55.8,479.8 L57.0,481.4 L58.2,482.9 L59.4,484.5 L60.7,486.0 L61.9,487.6 L63.1,489.1 L64.3,490.7 L65.6,492.2 L66.8,493.8 L68.0,495.3 L69.2,496.9 L70.5,498.5 L71.7,499.8 L72.9,501.1 L74.1,502.5 L75.4,503.8 L76.6,505.2 L77.8,506.5 L79.0,507.9 L80.3,509.2 L81.5,510.6 L82.7,511.9 L83.9,513.2 L85.1,514.6 L86.4,515.9 L87.6,517.3 L88.8,518.0 L90.0,518.6 L91.3,519.2 L92.5,519.8 L93.7,520.4 L94.9,521.0 L96.2,521.6 L97.4,522.2 L98.6,522.8 L99.8,523.4 L101.1,523.9 L102.3,524.5 L103.5,525.1 L104.7,525.7 L105.9,526.3 L107.2,526.9 L108.4,527.4 L109.6,528.0 L110.8,528.6 L112.1,529.2 L113.3,529.8 L114.5,530.4 L115.7,531.0 L117.0,531.5 L118.2,532.1 L119.4,532.7 L120.6,533.3 L121.9,533.9 L123.1,534.5 L124.3,535.1 L125.5,535.7 L126.7,536.3 L128.0,536.9 L129.2,537.5 L130.4,538.1 L131.6,538.7 L132.9,539.3 L134.1,539.8 L135.3,540.4 L136.5,541.0 L137.8,541.6 L139.0,542.2 L140.2,542.8 L141.4,543.4 L142.7,544.0 L143.9,544.6 L145.1,545.2 L146.3,545.8 L147.5,545.9 L148.8,545.9 L150.0,545.9 L151.2,545.9 L152.4,545.9 L153.7,545.9 L154.9,545.9 L156.1,545.9 L157.3,545.9 L158.6,545.9 L159.8,545.9 L161.0,545.9 L162.2,545.9 L163.5,545.9 L164.7,545.9 L165.9,545.9 L167.1,545.9 L168.4,544.9 L169.6,544.2 L170.8,543.7 L172.0,543.2 L173.2,542.7 L174.5,542.2 L175.7,541.7 L176.9,541.2 L178.1,540.7 L179.4,540.3 L180.6,539.8 L181.8,539.3 L183.0,538.8 L184.3,538.3 L185.5,537.8 L186.7,537.3 L187.9,536.8 L189.2,536.3 L190.4,535.7 L191.6,535.1 L192.8,534.6 L194.0,534.0 L195.3,533.4 L196.5,532.9 L197.7,532.3 L198.9,531.7 L200.2,531.2 L201.4,530.6 L202.6,530.0 L203.8,529.5 L205.1,528.9 L206.3,528.3 L207.5,527.8 L208.7,527.2 L210.0,526.6 L211.2,526.1 L212.4,525.5 L213.6,524.7 L214.8,523.9 L216.1,523.1 L217.3,522.3 L218.5,521.5 L219.7,520.6 L221.0,519.8 L222.2,519.0 L223.4,518.2 L224.6,517.4 L225.9,516.6 L227.1,515.7 L228.3,514.9 L229.5,514.1 L230.8,513.3 L232.0,512.5 L233.2,511.7 L234.4,510.8 L235.6,509.9 L236.9,508.5 L238.1,507.1 L239.3,505.6 L240.5,504.2 L241.8,502.8 L243.0,501.4 L244.2,500.0 L245.4,498.5 L246.7,497.1 L247.9,495.7 L249.1,494.3 L250.3,492.9 L251.6,491.4 L252.8,490.0 L254.0,488.6 L255.2,487.3 L256.5,486.0 L257.7,484.7 L258.9,483.4 L260.1,482.0 L261.3,480.7 L262.6,478.4 L263.8,475.0 L265.0,471.6 L266.2,468.2 L267.5,464.7 L268.7,461.3 L269.9,458.2 L271.1,455.0 L272.4,451.9 L273.6,448.8 L274.8,438.9 L276.0,427.5 L277.3,417.7 L278.5,407.8 L279.7,398.0 L279.7,545.9Z" fill="#fff" fill-opacity="0.46"/><path d="M36.2,395.0 L37.4,405.1 L38.6,414.8 L39.9,421.2 L41.1,427.6 L42.3,434.0 L43.5,438.9 L44.8,443.2 L46.0,447.5 L47.2,452.0 L48.4,457.9 L49.7,463.8 L50.9,469.6 L52.1,475.1 L53.3,476.7 L54.6,478.2 L55.8,479.8 L57.0,481.4 L58.2,482.9 L59.4,484.5 L60.7,486.0 L61.9,487.6 L63.1,489.1 L64.3,490.7 L65.6,492.2 L66.8,493.8 L68.0,495.3 L69.2,496.9 L70.5,498.5 L71.7,499.8 L72.9,501.1 L74.1,502.5 L75.4,503.8 L76.6,505.2 L77.8,506.5 L79.0,507.9 L80.3,509.2 L81.5,510.6 L82.7,511.9 L83.9,513.2 L85.1,514.6 L86.4,515.9 L87.6,517.3 L88.8,518.0 L90.0,518.6 L91.3,519.2 L92.5,519.8 L93.7,520.4 L94.9,521.0 L96.2,521.6 L97.4,522.2 L98.6,522.8 L99.8,523.4 L101.1,523.9 L102.3,524.5 L103.5,525.1 L104.7,525.7 L105.9,526.3 L107.2,526.9 L108.4,527.4 L109.6,528.0 L110.8,528.6 L112.1,529.2 L113.3,529.8 L114.5,530.4 L115.7,531.0 L117.0,531.5 L118.2,532.1 L119.4,532.7 L120.6,533.3 L121.9,533.9 L123.1,534.5 L124.3,535.1 L125.5,535.7 L126.7,536.3 L128.0,536.9 L129.2,537.5 L130.4,538.1 L131.6,538.7 L132.9,539.3 L134.1,539.8 L135.3,540.4 L136.5,541.0 L137.8,541.6 L139.0,542.2 L140.2,542.8 L141.4,543.4 L142.7,544.0 L143.9,544.6 L145.1,545.2 L146.3,545.8 L147.5,545.9 L148.8,545.9 L150.0,545.9 L151.2,545.9 L152.4,545.9 L153.7,545.9 L154.9,545.9 L156.1,545.9 L157.3,545.9 L158.6,545.9 L159.8,545.9 L161.0,545.9 L162.2,545.9 L163.5,545.9 L164.7,545.9 L165.9,545.9 L167.1,545.9 L168.4,544.9 L169.6,544.2 L170.8,543.7 L172.0,543.2 L173.2,542.7 L174.5,542.2 L175.7,541.7 L176.9,541.2 L178.1,540.7 L179.4,540.3 L180.6,539.8 L181.8,539.3 L183.0,538.8 L184.3,538.3 L185.5,537.8 L186.7,537.3 L187.9,536.8 L189.2,536.3 L190.4,535.7 L191.6,535.1 L192.8,534.6 L194.0,534.0 L195.3,533.4 L196.5,532.9 L197.7,532.3 L198.9,531.7 L200.2,531.2 L201.4,530.6 L202.6,530.0 L203.8,529.5 L205.1,528.9 L206.3,528.3 L207.5,527.8 L208.7,527.2 L210.0,526.6 L211.2,526.1 L212.4,525.5 L213.6,524.7 L214.8,523.9 L216.1,523.1 L217.3,522.3 L218.5,521.5 L219.7,520.6 L221.0,519.8 L222.2,519.0 L223.4,518.2 L224.6,517.4 L225.9,516.6 L227.1,515.7 L228.3,514.9 L229.5,514.1 L230.8,513.3 L232.0,512.5 L233.2,511.7 L234.4,510.8 L235.6,509.9 L236.9,508.5 L238.1,507.1 L239.3,505.6 L240.5,504.2 L241.8,502.8 L243.0,501.4 L244.2,500.0 L245.4,498.5 L246.7,497.1 L247.9,495.7 L249.1,494.3 L250.3,492.9 L251.6,491.4 L252.8,490.0 L254.0,488.6 L255.2,487.3 L256.5,486.0 L257.7,484.7 L258.9,483.4 L260.1,482.0 L261.3,480.7 L262.6,478.4 L263.8,475.0 L265.0,471.6 L266.2,468.2 L267.5,464.7 L268.7,461.3 L269.9,458.2 L271.1,455.0 L272.4,451.9 L273.6,448.8 L274.8,438.9 L276.0,427.5 L277.3,417.7 L278.5,407.8 L279.7,398.0" fill="none" stroke="#fff" stroke-opacity="0.55" stroke-width="0.7"/><use href="#ar1" x="173.2" y="372.5"/><use href="#ar0" x="173.2" y="378.8"/><use href="#ar2" x="87.9" y="385.1"/><use href="#ar2" x="94.0" y="385.1"/><use href="#ar1" x="161.0" y="385.1"/><use href="#ar1" x="173.2" y="385.1"/><use href="#ar0" x="240.1" y="385.1"/><use href="#ar3" x="87.9" y="391.4"/><use href="#ar3" x="94.0" y="391.4"/><use href="#ar3" x="161.0" y="391.4"/><use href="#ar0" x="173.2" y="391.4"/><use href="#ar1" x="240.1" y="391.4"/><use href="#ar0" x="87.9" y="397.7"/><use href="#ar2" x="94.0" y="397.7"/><use href="#ar0" x="161.0" y="397.7"/><use href="#ar3" x="173.2" y="397.7"/><use href="#ar1" x="234.0" y="397.7"/><use href="#ar0" x="240.1" y="397.7"/><use href="#ar3" x="87.9" y="404.0"/><use href="#ar0" x="94.0" y="404.0"/><use href="#ar0" x="106.2" y="404.0"/><use href="#ar2" x="130.6" y="404.0"/><use href="#ar2" x="136.6" y="404.0"/><use href="#ar0" x="173.2" y="404.0"/><use href="#ar2" x="234.0" y="404.0"/><use href="#ar2" x="240.1" y="404.0"/><use href="#ar1" x="87.9" y="410.3"/><use href="#ar3" x="94.0" y="410.3"/><use href="#ar2" x="106.2" y="410.3"/><use href="#ar3" x="112.3" y="410.3"/><use href="#ar1" x="130.6" y="410.3"/><use href="#ar1" x="136.6" y="410.3"/><use href="#ar1" x="173.2" y="410.3"/><use href="#ar3" x="234.0" y="410.3"/><use href="#ar2" x="240.1" y="410.3"/><use href="#ar1" x="75.8" y="416.6"/><use href="#ar0" x="81.9" y="416.6"/><use href="#ar2" x="87.9" y="416.6"/><use href="#ar2" x="94.0" y="416.6"/><use href="#ar0" x="100.1" y="416.6"/><use href="#ar0" x="106.2" y="416.6"/><use href="#ar1" x="130.6" y="416.6"/><use href="#ar3" x="136.6" y="416.6"/><use href="#ar1" x="173.2" y="416.6"/><use href="#ar1" x="276.7" y="416.6"/><use href="#ar0" x="69.7" y="422.9"/><use href="#ar0" x="75.8" y="422.9"/><use href="#ar1" x="81.9" y="422.9"/><use href="#ar3" x="87.9" y="422.9"/><use href="#ar0" x="94.0" y="422.9"/><use href="#ar3" x="100.1" y="422.9"/><use href="#ar3" x="130.6" y="422.9"/><use href="#ar1" x="136.6" y="422.9"/><use href="#ar2" x="142.7" y="422.9"/><use href="#ar2" x="167.1" y="422.9"/><use href="#ar0" x="173.2" y="422.9"/><use href="#ar3" x="179.3" y="422.9"/><use href="#ar2" x="276.7" y="422.9"/><use href="#ar1" x="63.6" y="429.2"/><use href="#ar1" x="69.7" y="429.2"/><use href="#ar0" x="75.8" y="429.2"/><use href="#ar0" x="81.9" y="429.2"/><use href="#ar3" x="87.9" y="429.2"/><use href="#ar0" x="94.0" y="429.2"/><use href="#ar3" x="100.1" y="429.2"/><use href="#ar2" x="124.5" y="429.2"/><use href="#ar1" x="130.6" y="429.2"/><use href="#ar3" x="136.6" y="429.2"/><use href="#ar3" x="142.7" y="429.2"/><use href="#ar3" x="167.1" y="429.2"/><use href="#ar1" x="173.2" y="429.2"/><use href="#ar1" x="179.3" y="429.2"/><use href="#ar1" x="270.6" y="429.2"/><use href="#ar3" x="276.7" y="429.2"/><use href="#ar0" x="75.8" y="435.5"/><use href="#ar1" x="81.9" y="435.5"/><use href="#ar3" x="87.9" y="435.5"/><use href="#ar2" x="94.0" y="435.5"/><use href="#ar2" x="100.1" y="435.5"/><use href="#ar0" x="124.5" y="435.5"/><use href="#ar3" x="130.6" y="435.5"/><use href="#ar3" x="136.6" y="435.5"/><use href="#ar3" x="142.7" y="435.5"/><use href="#ar2" x="161.0" y="435.5"/><use href="#ar0" x="167.1" y="435.5"/><use href="#ar3" x="173.2" y="435.5"/><use href="#ar3" x="179.3" y="435.5"/><use href="#ar1" x="185.3" y="435.5"/><use href="#ar0" x="270.6" y="435.5"/><use href="#ar2" x="276.7" y="435.5"/><use href="#ar0" x="75.8" y="441.8"/><use href="#ar3" x="81.9" y="441.8"/><use href="#ar2" x="87.9" y="441.8"/><use href="#ar1" x="94.0" y="441.8"/><use href="#ar2" x="100.1" y="441.8"/><use href="#ar0" x="106.2" y="441.8"/><use href="#ar1" x="124.5" y="441.8"/><use href="#ar3" x="130.6" y="441.8"/><use href="#ar1" x="136.6" y="441.8"/><use href="#ar0" x="142.7" y="441.8"/><use href="#ar0" x="167.1" y="441.8"/><use href="#ar0" x="173.2" y="441.8"/><use href="#ar0" x="179.3" y="441.8"/><use href="#ar0" x="185.3" y="441.8"/><use href="#ar1" x="270.6" y="441.8"/><use href="#ar2" x="276.7" y="441.8"/><use href="#ar3" x="75.8" y="448.2"/><use href="#ar2" x="81.9" y="448.2"/><use href="#ar2" x="87.9" y="448.2"/><use href="#ar3" x="94.0" y="448.2"/><use href="#ar0" x="100.1" y="448.2"/><use href="#ar0" x="106.2" y="448.2"/><use href="#ar2" x="112.3" y="448.2"/><use href="#ar0" x="118.4" y="448.2"/><use href="#ar3" x="124.5" y="448.2"/><use href="#ar0" x="130.6" y="448.2"/><use href="#ar0" x="136.6" y="448.2"/><use href="#ar3" x="167.1" y="448.2"/><use href="#ar3" x="173.2" y="448.2"/><use href="#ar2" x="179.3" y="448.2"/><use href="#ar0" x="185.3" y="448.2"/><use href="#ar0" x="191.4" y="448.2"/><use href="#ar0" x="270.6" y="448.2"/><use href="#ar0" x="276.7" y="448.2"/><use href="#ar1" x="75.8" y="454.5"/><use href="#ar2" x="81.9" y="454.5"/><use href="#ar1" x="87.9" y="454.5"/><use href="#ar2" x="94.0" y="454.5"/><use href="#ar2" x="100.1" y="454.5"/><use href="#ar0" x="106.2" y="454.5"/><use href="#ar1" x="112.3" y="454.5"/><use href="#ar2" x="118.4" y="454.5"/><use href="#ar0" x="124.5" y="454.5"/><use href="#ar1" x="130.6" y="454.5"/><use href="#ar2" x="136.6" y="454.5"/><use href="#ar3" x="142.7" y="454.5"/><use href="#ar1" x="167.1" y="454.5"/><use href="#ar2" x="173.2" y="454.5"/><use href="#ar2" x="179.3" y="454.5"/><use href="#ar2" x="185.3" y="454.5"/><use href="#ar2" x="191.4" y="454.5"/><use href="#ar1" x="197.5" y="454.5"/><use href="#ar1" x="270.6" y="454.5"/><use href="#ar3" x="276.7" y="454.5"/><use href="#ar2" x="75.8" y="460.8"/><use href="#ar2" x="81.9" y="460.8"/><use href="#ar3" x="87.9" y="460.8"/><use href="#ar1" x="94.0" y="460.8"/><use href="#ar0" x="100.1" y="460.8"/><use href="#ar3" x="106.2" y="460.8"/><use href="#ar0" x="112.3" y="460.8"/><use href="#ar3" x="118.4" y="460.8"/><use href="#ar0" x="124.5" y="460.8"/><use href="#ar3" x="130.6" y="460.8"/><use href="#ar0" x="136.6" y="460.8"/><use href="#ar0" x="142.7" y="460.8"/><use href="#ar1" x="148.8" y="460.8"/><use href="#ar2" x="161.0" y="460.8"/><use href="#ar1" x="167.1" y="460.8"/><use href="#ar2" x="173.2" y="460.8"/><use href="#ar0" x="179.3" y="460.8"/><use href="#ar2" x="185.3" y="460.8"/><use href="#ar0" x="191.4" y="460.8"/><use href="#ar2" x="197.5" y="460.8"/><use href="#ar0" x="270.6" y="460.8"/><use href="#ar3" x="276.7" y="460.8"/><use href="#ar2" x="39.2" y="467.1"/><use href="#ar1" x="45.3" y="467.1"/><use href="#ar3" x="51.4" y="467.1"/><use href="#ar1" x="57.5" y="467.1"/><use href="#ar0" x="63.6" y="467.1"/><use href="#ar3" x="69.7" y="467.1"/><use href="#ar1" x="75.8" y="467.1"/><use href="#ar1" x="81.9" y="467.1"/><use href="#ar1" x="87.9" y="467.1"/><use href="#ar1" x="94.0" y="467.1"/><use href="#ar0" x="100.1" y="467.1"/><use href="#ar0" x="106.2" y="467.1"/><use href="#ar3" x="112.3" y="467.1"/><use href="#ar3" x="118.4" y="467.1"/><use href="#ar2" x="124.5" y="467.1"/><use href="#ar3" x="130.6" y="467.1"/><use href="#ar1" x="136.6" y="467.1"/><use href="#ar1" x="142.7" y="467.1"/><use href="#ar3" x="148.8" y="467.1"/><use href="#ar3" x="161.0" y="467.1"/><use href="#ar2" x="167.1" y="467.1"/><use href="#ar2" x="173.2" y="467.1"/><use href="#ar0" x="179.3" y="467.1"/><use href="#ar2" x="185.3" y="467.1"/><use href="#ar2" x="191.4" y="467.1"/><use href="#ar0" x="197.5" y="467.1"/><use href="#ar3" x="203.6" y="467.1"/><use href="#ar2" x="252.3" y="467.1"/><use href="#ar3" x="258.4" y="467.1"/><use href="#ar0" x="264.5" y="467.1"/><use href="#ar0" x="270.6" y="467.1"/><use href="#ar3" x="276.7" y="467.1"/><use href="#ar1" x="39.2" y="473.4"/><use href="#ar1" x="45.3" y="473.4"/><use href="#ar3" x="51.4" y="473.4"/><use href="#ar3" x="57.5" y="473.4"/><use href="#ar1" x="63.6" y="473.4"/><use href="#ar3" x="69.7" y="473.4"/><use href="#ar1" x="75.8" y="473.4"/><use href="#ar3" x="81.9" y="473.4"/><use href="#ar3" x="87.9" y="473.4"/><use href="#ar3" x="94.0" y="473.4"/><use href="#ar2" x="100.1" y="473.4"/><use href="#ar1" x="106.2" y="473.4"/><use href="#ar2" x="112.3" y="473.4"/><use href="#ar2" x="118.4" y="473.4"/><use href="#ar2" x="124.5" y="473.4"/><use href="#ar1" x="130.6" y="473.4"/><use href="#ar3" x="136.6" y="473.4"/><use href="#ar2" x="142.7" y="473.4"/><use href="#ar2" x="148.8" y="473.4"/><use href="#ar2" x="161.0" y="473.4"/><use href="#ar2" x="167.1" y="473.4"/><use href="#ar3" x="173.2" y="473.4"/><use href="#ar2" x="179.3" y="473.4"/><use href="#ar0" x="185.3" y="473.4"/><use href="#ar1" x="191.4" y="473.4"/><use href="#ar3" x="197.5" y="473.4"/><use href="#ar0" x="203.6" y="473.4"/><use href="#ar2" x="209.7" y="473.4"/><use href="#ar3" x="240.1" y="473.4"/><use href="#ar0" x="246.2" y="473.4"/><use href="#ar3" x="252.3" y="473.4"/><use href="#ar0" x="258.4" y="473.4"/><use href="#ar3" x="264.5" y="473.4"/><use href="#ar1" x="270.6" y="473.4"/><use href="#ar0" x="276.7" y="473.4"/><use href="#ar3" x="39.2" y="479.7"/><use href="#ar2" x="45.3" y="479.7"/><use href="#ar3" x="51.4" y="479.7"/><use href="#ar3" x="57.5" y="479.7"/><use href="#ar3" x="63.6" y="479.7"/><use href="#ar3" x="69.7" y="479.7"/><use href="#ar2" x="75.8" y="479.7"/><use href="#ar2" x="81.9" y="479.7"/><use href="#ar2" x="87.9" y="479.7"/><use href="#ar2" x="94.0" y="479.7"/><use href="#ar3" x="100.1" y="479.7"/><use href="#ar0" x="106.2" y="479.7"/><use href="#ar0" x="112.3" y="479.7"/><use href="#ar0" x="118.4" y="479.7"/><use href="#ar1" x="124.5" y="479.7"/><use href="#ar1" x="130.6" y="479.7"/><use href="#ar0" x="136.6" y="479.7"/><use href="#ar2" x="142.7" y="479.7"/><use href="#ar1" x="148.8" y="479.7"/><use href="#ar2" x="167.1" y="479.7"/><use href="#ar3" x="173.2" y="479.7"/><use href="#ar3" x="179.3" y="479.7"/><use href="#ar1" x="185.3" y="479.7"/><use href="#ar0" x="191.4" y="479.7"/><use href="#ar0" x="39.2" y="486.0"/><use href="#ar3" x="45.3" y="486.0"/><use href="#ar3" x="51.4" y="486.0"/><use href="#ar0" x="57.5" y="486.0"/><use href="#ar2" x="63.6" y="486.0"/><use href="#ar1" x="69.7" y="486.0"/><use href="#ar0" x="75.8" y="486.0"/><use href="#ar0" x="81.9" y="486.0"/><use href="#ar3" x="87.9" y="486.0"/><use href="#ar3" x="94.0" y="486.0"/><use href="#ar3" x="100.1" y="486.0"/><use href="#ar0" x="106.2" y="486.0"/><use href="#ar3" x="112.3" y="486.0"/><use href="#ar1" x="118.4" y="486.0"/><use href="#ar2" x="124.5" y="486.0"/><use href="#ar2" x="130.6" y="486.0"/><use href="#ar2" x="136.6" y="486.0"/><use href="#ar3" x="142.7" y="486.0"/><use href="#ar3" x="148.8" y="486.0"/><use href="#ar0" x="39.2" y="492.3"/><use href="#ar0" x="45.3" y="492.3"/><use href="#ar0" x="51.4" y="492.3"/><use href="#ar1" x="57.5" y="492.3"/><use href="#ar2" x="63.6" y="492.3"/><use href="#ar3" x="69.7" y="492.3"/><use href="#ar2" x="75.8" y="492.3"/><use href="#ar0" x="81.9" y="492.3"/><use href="#ar3" x="87.9" y="492.3"/><use href="#ar2" x="94.0" y="492.3"/><use href="#ar0" x="100.1" y="492.3"/><use href="#ar2" x="106.2" y="492.3"/><use href="#ar0" x="112.3" y="492.3"/><use href="#ar0" x="118.4" y="492.3"/><use href="#ar0" x="124.5" y="492.3"/><use href="#ar1" x="130.6" y="492.3"/><use href="#ar3" x="136.6" y="492.3"/><use href="#ar2" x="142.7" y="492.3"/><use href="#ar0" x="148.8" y="492.3"/><use href="#ar1" x="154.9" y="492.3"/><use href="#ar1" x="39.2" y="498.6"/><use href="#ar1" x="45.3" y="498.6"/><use href="#ar3" x="51.4" y="498.6"/><use href="#ar0" x="57.5" y="498.6"/><use href="#ar1" x="63.6" y="498.6"/><use href="#ar2" x="69.7" y="498.6"/><use href="#ar0" x="75.8" y="498.6"/><use href="#ar0" x="81.9" y="498.6"/><use href="#ar0" x="87.9" y="498.6"/><use href="#ar2" x="94.0" y="498.6"/><use href="#ar2" x="100.1" y="498.6"/><use href="#ar2" x="106.2" y="498.6"/><use href="#ar1" x="112.3" y="498.6"/><use href="#ar1" x="118.4" y="498.6"/><use href="#ar0" x="124.5" y="498.6"/><use href="#ar1" x="130.6" y="498.6"/><use href="#ar1" x="136.6" y="498.6"/><use href="#ar0" x="142.7" y="498.6"/><use href="#ar3" x="148.8" y="498.6"/><use href="#ar0" x="154.9" y="498.6"/><use href="#ar1" x="39.2" y="504.9"/><use href="#ar0" x="45.3" y="504.9"/><use href="#ar3" x="51.4" y="504.9"/><use href="#ar0" x="57.5" y="504.9"/><use href="#ar0" x="63.6" y="504.9"/><use href="#ar2" x="69.7" y="504.9"/><use href="#ar2" x="75.8" y="504.9"/><use href="#ar1" x="81.9" y="504.9"/><use href="#ar3" x="87.9" y="504.9"/><use href="#ar0" x="94.0" y="504.9"/><use href="#ar3" x="100.1" y="504.9"/><use href="#ar3" x="106.2" y="504.9"/><use href="#ar3" x="112.3" y="504.9"/><use href="#ar0" x="118.4" y="504.9"/><use href="#ar3" x="124.5" y="504.9"/><use href="#ar1" x="130.6" y="504.9"/><use href="#ar1" x="136.6" y="504.9"/><use href="#ar0" x="142.7" y="504.9"/><use href="#ar3" x="148.8" y="504.9"/><use href="#ar3" x="154.9" y="504.9"/><use href="#ar0" x="39.2" y="511.2"/><use href="#ar0" x="45.3" y="511.2"/><use href="#ar2" x="51.4" y="511.2"/><use href="#ar1" x="57.5" y="511.2"/><use href="#ar3" x="63.6" y="511.2"/><use href="#ar1" x="69.7" y="511.2"/><use href="#ar1" x="75.8" y="511.2"/><use href="#ar2" x="81.9" y="511.2"/><use href="#ar0" x="87.9" y="511.2"/><use href="#ar1" x="94.0" y="511.2"/><use href="#ar1" x="100.1" y="511.2"/><use href="#ar1" x="106.2" y="511.2"/><use href="#ar1" x="112.3" y="511.2"/><use href="#ar3" x="118.4" y="511.2"/><use href="#ar2" x="124.5" y="511.2"/><use href="#ar2" x="130.6" y="511.2"/><use href="#ar1" x="136.6" y="511.2"/><use href="#ar0" x="142.7" y="511.2"/><use href="#ar1" x="148.8" y="511.2"/><use href="#ar0" x="154.9" y="511.2"/><use href="#ar2" x="161.0" y="511.2"/><use href="#ar3" x="167.1" y="511.2"/><use href="#ar0" x="173.2" y="511.2"/><use href="#ar1" x="179.3" y="511.2"/><use href="#ar1" x="185.3" y="511.2"/><use href="#ar0" x="191.4" y="511.2"/><use href="#ar0" x="197.5" y="511.2"/><use href="#ar0" x="203.6" y="511.2"/><use href="#ar0" x="209.7" y="511.2"/><use href="#ar1" x="39.2" y="517.5"/><use href="#ar2" x="45.3" y="517.5"/><use href="#ar2" x="51.4" y="517.5"/><use href="#ar1" x="57.5" y="517.5"/><use href="#ar1" x="63.6" y="517.5"/><use href="#ar3" x="69.7" y="517.5"/><use href="#ar0" x="75.8" y="517.5"/><use href="#ar2" x="81.9" y="517.5"/><use href="#ar3" x="87.9" y="517.5"/><use href="#ar0" x="94.0" y="517.5"/><use href="#ar1" x="100.1" y="517.5"/><use href="#ar0" x="106.2" y="517.5"/><use href="#ar0" x="112.3" y="517.5"/><use href="#ar3" x="118.4" y="517.5"/><use href="#ar2" x="124.5" y="517.5"/><use href="#ar1" x="130.6" y="517.5"/><use href="#ar2" x="136.6" y="517.5"/><use href="#ar2" x="142.7" y="517.5"/><use href="#ar0" x="148.8" y="517.5"/><use href="#ar3" x="154.9" y="517.5"/><use href="#ar1" x="161.0" y="517.5"/><use href="#ar0" x="167.1" y="517.5"/><use href="#ar3" x="173.2" y="517.5"/><use href="#ar0" x="179.3" y="517.5"/><use href="#ar2" x="185.3" y="517.5"/><use href="#ar1" x="191.4" y="517.5"/><use href="#ar0" x="197.5" y="517.5"/><use href="#ar3" x="203.6" y="517.5"/><use href="#ar2" x="209.7" y="517.5"/><use href="#ar0" x="215.8" y="517.5"/><use href="#ar2" x="221.9" y="517.5"/><use href="#ar3" x="228.0" y="517.5"/><use href="#ar3" x="234.0" y="517.5"/><use href="#ar1" x="240.1" y="517.5"/><use href="#ar2" x="246.2" y="517.5"/><use href="#ar3" x="252.3" y="517.5"/><use href="#ar1" x="258.4" y="517.5"/><use href="#ar3" x="264.5" y="517.5"/><use href="#ar1" x="270.6" y="517.5"/><use href="#ar0" x="276.7" y="517.5"/><use href="#ar0" x="39.2" y="523.8"/><use href="#ar1" x="45.3" y="523.8"/><use href="#ar3" x="51.4" y="523.8"/><use href="#ar0" x="57.5" y="523.8"/><use href="#ar0" x="63.6" y="523.8"/><use href="#ar2" x="69.7" y="523.8"/><use href="#ar2" x="75.8" y="523.8"/><use href="#ar0" x="81.9" y="523.8"/><use href="#ar2" x="87.9" y="523.8"/><use href="#ar1" x="94.0" y="523.8"/><use href="#ar2" x="100.1" y="523.8"/><use href="#ar0" x="106.2" y="523.8"/><use href="#ar2" x="112.3" y="523.8"/><use href="#ar2" x="118.4" y="523.8"/><use href="#ar0" x="124.5" y="523.8"/><use href="#ar1" x="130.6" y="523.8"/><use href="#ar3" x="136.6" y="523.8"/><use href="#ar0" x="142.7" y="523.8"/><use href="#ar1" x="148.8" y="523.8"/><use href="#ar1" x="154.9" y="523.8"/><use href="#ar2" x="161.0" y="523.8"/><use href="#ar3" x="167.1" y="523.8"/><use href="#ar3" x="173.2" y="523.8"/><use href="#ar0" x="179.3" y="523.8"/><use href="#ar2" x="185.3" y="523.8"/><use href="#ar3" x="191.4" y="523.8"/><use href="#ar2" x="197.5" y="523.8"/><use href="#ar3" x="203.6" y="523.8"/><use href="#ar3" x="209.7" y="523.8"/><use href="#ar3" x="215.8" y="523.8"/><use href="#ar3" x="221.9" y="523.8"/><use href="#ar3" x="228.0" y="523.8"/><use href="#ar2" x="234.0" y="523.8"/><use href="#ar3" x="240.1" y="523.8"/><use href="#ar1" x="246.2" y="523.8"/><use href="#ar3" x="252.3" y="523.8"/><use href="#ar3" x="258.4" y="523.8"/><use href="#ar0" x="264.5" y="523.8"/><use href="#ar1" x="270.6" y="523.8"/><use href="#ar2" x="276.7" y="523.8"/><use href="#ar3" x="39.2" y="530.1"/><use href="#ar3" x="45.3" y="530.1"/><use href="#ar0" x="51.4" y="530.1"/><use href="#ar3" x="57.5" y="530.1"/><use href="#ar3" x="63.6" y="530.1"/><use href="#ar1" x="69.7" y="530.1"/><use href="#ar0" x="75.8" y="530.1"/><use href="#ar0" x="81.9" y="530.1"/><use href="#ar2" x="87.9" y="530.1"/><use href="#ar1" x="94.0" y="530.1"/><use href="#ar3" x="100.1" y="530.1"/><use href="#ar2" x="106.2" y="530.1"/><use href="#ar1" x="112.3" y="530.1"/><use href="#ar1" x="118.4" y="530.1"/><use href="#ar0" x="124.5" y="530.1"/><use href="#ar0" x="130.6" y="530.1"/><use href="#ar0" x="136.6" y="530.1"/><use href="#ar2" x="142.7" y="530.1"/><use href="#ar2" x="148.8" y="530.1"/><use href="#ar3" x="154.9" y="530.1"/><use href="#ar0" x="161.0" y="530.1"/><use href="#ar0" x="167.1" y="530.1"/><use href="#ar3" x="173.2" y="530.1"/><use href="#ar1" x="179.3" y="530.1"/><use href="#ar1" x="185.3" y="530.1"/><use href="#ar2" x="191.4" y="530.1"/><use href="#ar2" x="197.5" y="530.1"/><use href="#ar1" x="203.6" y="530.1"/><use href="#ar1" x="209.7" y="530.1"/><use href="#ar2" x="215.8" y="530.1"/><use href="#ar0" x="221.9" y="530.1"/><use href="#ar1" x="228.0" y="530.1"/><use href="#ar0" x="234.0" y="530.1"/><use href="#ar1" x="240.1" y="530.1"/><use href="#ar1" x="246.2" y="530.1"/><use href="#ar2" x="252.3" y="530.1"/><use href="#ar0" x="258.4" y="530.1"/><use href="#ar3" x="264.5" y="530.1"/><use href="#ar1" x="270.6" y="530.1"/><use href="#ar0" x="276.7" y="530.1"/><use href="#ar3" x="39.2" y="536.4"/><use href="#ar2" x="45.3" y="536.4"/><use href="#ar2" x="51.4" y="536.4"/><use href="#ar2" x="57.5" y="536.4"/><use href="#ar1" x="63.6" y="536.4"/><use href="#ar1" x="69.7" y="536.4"/><use href="#ar1" x="75.8" y="536.4"/><use href="#ar2" x="81.9" y="536.4"/><use href="#ar0" x="87.9" y="536.4"/><use href="#ar1" x="94.0" y="536.4"/><use href="#ar3" x="100.1" y="536.4"/><use href="#ar3" x="106.2" y="536.4"/><use href="#ar3" x="112.3" y="536.4"/><use href="#ar0" x="118.4" y="536.4"/><use href="#ar0" x="124.5" y="536.4"/><use href="#ar3" x="130.6" y="536.4"/><use href="#ar0" x="136.6" y="536.4"/><use href="#ar3" x="142.7" y="536.4"/><use href="#ar1" x="148.8" y="536.4"/><use href="#ar2" x="154.9" y="536.4"/><use href="#ar0" x="161.0" y="536.4"/><use href="#ar3" x="167.1" y="536.4"/><use href="#ar0" x="173.2" y="536.4"/><use href="#ar3" x="179.3" y="536.4"/><use href="#ar1" x="185.3" y="536.4"/><use href="#ar3" x="191.4" y="536.4"/><use href="#ar2" x="197.5" y="536.4"/><use href="#ar3" x="203.6" y="536.4"/><use href="#ar0" x="209.7" y="536.4"/><use href="#ar3" x="215.8" y="536.4"/><use href="#ar2" x="221.9" y="536.4"/><use href="#ar0" x="228.0" y="536.4"/><use href="#ar1" x="234.0" y="536.4"/><use href="#ar3" x="240.1" y="536.4"/><use href="#ar2" x="246.2" y="536.4"/><use href="#ar1" x="252.3" y="536.4"/><use href="#ar2" x="258.4" y="536.4"/><use href="#ar0" x="264.5" y="536.4"/><use href="#ar1" x="270.6" y="536.4"/><use href="#ar1" x="276.7" y="536.4"/><use href="#ar2" x="39.2" y="542.7"/><use href="#ar1" x="45.3" y="542.7"/><use href="#ar2" x="51.4" y="542.7"/><use href="#ar2" x="57.5" y="542.7"/><use href="#ar3" x="63.6" y="542.7"/><use href="#ar3" x="69.7" y="542.7"/><use href="#ar2" x="75.8" y="542.7"/><use href="#ar0" x="81.9" y="542.7"/><use href="#ar1" x="87.9" y="542.7"/><use href="#ar2" x="94.0" y="542.7"/><use href="#ar2" x="100.1" y="542.7"/><use href="#ar3" x="106.2" y="542.7"/><use href="#ar3" x="112.3" y="542.7"/><use href="#ar0" x="118.4" y="542.7"/><use href="#ar3" x="124.5" y="542.7"/><use href="#ar1" x="130.6" y="542.7"/><use href="#ar3" x="136.6" y="542.7"/><use href="#ar1" x="142.7" y="542.7"/><use href="#ar2" x="148.8" y="542.7"/><use href="#ar3" x="154.9" y="542.7"/><use href="#ar0" x="161.0" y="542.7"/><use href="#ar3" x="167.1" y="542.7"/><use href="#ar0" x="173.2" y="542.7"/><use href="#ar2" x="179.3" y="542.7"/><use href="#ar3" x="185.3" y="542.7"/><use href="#ar0" x="191.4" y="542.7"/><use href="#ar2" x="197.5" y="542.7"/><use href="#ar3" x="203.6" y="542.7"/><use href="#ar1" x="209.7" y="542.7"/><use href="#ar1" x="215.8" y="542.7"/><use href="#ar3" x="221.9" y="542.7"/><use href="#ar1" x="228.0" y="542.7"/><use href="#ar0" x="234.0" y="542.7"/><use href="#ar0" x="240.1" y="542.7"/><use href="#ar2" x="246.2" y="542.7"/><use href="#ar3" x="252.3" y="542.7"/><use href="#ar1" x="258.4" y="542.7"/><use href="#ar1" x="264.5" y="542.7"/><use href="#ar1" x="270.6" y="542.7"/><use href="#ar1" x="276.7" y="542.7"/><path d="M63.6,344.6l-0.5,9 0.6,9 -0.3,13 -2.4,10 -1.3,8.8 -1,-1.1 -0.7,-4.7 1,-13 -0.1,-21 -0.7,-3 -1.5,-2.7 -1,0 -2,2.5 -1,-2.3 -0.7,-4.5M82.8,344.6l-0.2,3 -1,2.5 -1,-0.4 -1,-1.5 -1.5,-3.6M36.7,464.4l10,-0.2 6,-1.7 3,-1.9 2,-0.5 3.9,2.3 3,0.2 2.3,-1.1 1.3,-2 0.5,-3 0,-15 -0.6,-5 -1.5,-2 -3,-1 -3,0.3 -2.9,1.4 -1.2,-0.7 -0.4,-3 3.6,-5.6 2.7,-8.4 1.3,-1 6.9,-1.2 2,-1.1 1.6,-2.7 1.4,-5.2 1,-0.6 1,1.1 1.7,4.7 1.3,1.5 2,0.4 2.1,-1.9 2,-11 0.7,-52.9 0.2,-1.7 1.5,-1.3M94.3,344.6l-0.9,10 0.1,23 1.9,15 1.6,7.9 1.2,3 1.4,0.8 1,-0.2 5.5,-4.6 2.3,-4.9 -0.3,-12 0.5,-15.4 0.9,-13.6 1,-5.2 1,2.6 0.8,34.6 -1,8 1.8,12.9 0.1,15 -0.7,2.5 -1,0.5 -1,-0.4 -2.9,-3.9 -2,-0.4 -1.9,1.7 -0.6,3 1,5 3.5,4 2.3,8 0.6,1.2 2,0.7 1.4,-0.9 2.6,-5.3 3.8,-4.7 3.1,-10 4.1,-2.9 1,-2.1 0.8,-4 0,-4 -2.4,-7 -0.2,-4 0.6,-1 2.2,-0.3 2.5,-1.7 2,-2.9 0.3,-3 -0.6,-5 -3,-6 -0.2,-2 1,-2.8 2.4,-3.2 1.6,-5.7 1.7,16.7 2.3,4.5 1,-2 1.1,-7.5 0.2,-17 1.7,-13.3 0.9,-1.7M132.0,344.6l-0.6,4 -0.9,1.3 -1,0.1 -1,-1.9 -0.2,-3.5M144.5,344.6l1,18 0,25.4 -1.5,19.5 1.1,10 -0.2,7 1.3,6 1.3,1.7 3,1.7 0.6,2.6 -0.6,2.9 -0.8,1.1 -8.2,5 -1,3 1,2.3 3,2.1 3,3 2,0.8 3,0.2 3,-0.4 3.9,-3.8 3,-1.6 1.1,-1.6 0.7,-3 -0.2,-4 -1.2,-3 -3.4,-2.4 -2.9,-4.6 -3.3,-2 0.3,-8.1 0.9,-3.9 1.1,-0.1 2.9,7.7 1,0.8 2,0.3 2,-1.3 2.4,-4.4 3.4,-3 1.3,-5 0.6,-7 -0.8,-11.9 -0.9,-6 -1,-1 -4.8,7 -1.2,8.3 -1,2.2 -1,0.3 -1,-0.9 -0.5,-3 -0.2,-10.9 0.7,-6.5 1,0.2 1,1.8 1,0.5 1.7,-6 -0.2,-20 1.2,-16M168.4,344.6l1,9.2 1,-3.5 0.3,-5.7M172.6,344.6l1,17 -0.6,19 0.8,20.9 0.8,8 0.8,3 1,1.7 3,2.1 0.7,1.2 1.6,9 1.1,3 8.6,6.4 1,1.6 2.1,7 0.9,1.3 4.3,2.7 2.7,8.7 4.9,10.1 2,1.8 8,2.5 4,2.4 3,0.4 4,-0.5 8.3,-4.4 2.1,-3 1.6,-6 3,-3 0.6,-2 -0.2,-3 -1,-2 -3.5,-3 -0.5,-2 0.9,-2 6.7,-1.3 6,-3.5 2,0.7 1.1,3.1 -1.6,6 -0.1,3 1.2,3 2.7,2 2.6,-0.1 4,-2.1 2,-1.6 1,-2 0.5,-3.2 -0.2,-3 -0.8,-4 -2.1,-5 0,-3 4.8,-9 4.5,-4 1.1,-5 0.1,-8 -0.9,-10 0.2,-11.9 -1.5,-13 -0.1,-27M203.7,344.6l-0.3,16 0.8,17 -0.3,7 1.2,10 -0.5,2.9 -1.2,0.9 -1.4,-1.9 -1.8,-11.9 0.2,-24 0.9,-16M268.6,344.6l-0.4,5.9 -1,2.7 -1.3,-4.6 -0.2,-4M100.6,366.6l-1,-3 -0.1,-3 1.1,-10.8 0.7,4.8 -0.7,12M218.3,380.9l-1,0 -2,-2 -2,-0.3 -1.1,-3 0.3,-7 0.8,-2.3 1,0.5 1,-0.7 2,-6.9 1,1 0.3,5.4 0.3,11 -0.6,4.3M74.6,401.0l-5.1,-2.5 -1,-2 2.7,-10.9 -0.5,-8 0.9,-6.2 1.3,9.2 2.1,5 0.7,4 0.3,8.9 -0.4,1.7 -1,0.8M239.3,414.3l-4,-2.7 -7,-0.1 -1.8,-2 -0.9,-4 0.7,-3.6 4,-1.2 1,-1.7 3.8,-13.4 1.2,-8.3 1,0.6 1.5,6.7 2,19.9 -0.2,7 -0.3,1.7 -1,1.1M125.5,393.3l-1,-0.8 -0.6,-4.9 0.6,-2.9 1,-0.5 0.8,2.4 -0.8,6.7M265.2,401.8l-1.2,-10.2 1.2,-3.9 1.1,8.8 -0.1,3.1 -1,2.2M192.4,405.7l-1,-0.1 -0.2,-3.1 0.2,-3.4 1,-2.1 0.4,4.5 -0.4,4.2M222.3,436.6l-5,-0.3 -1.2,-0.8 -0.9,-2 0.3,-4 1.8,-2 3,-1.4 2,0.1 5,2.4 1.1,0.9 0.7,2 0,2 -0.8,1.7 -6,1.4M279.2,479.2l-17,0.1 -4,0.4 -4.9,1.5 -9,0.9 -11,-0.2 -5,-2.1 -2,-0.3 -6,1.5 -4,4.3 -1,0 -2.3,-2.8 -3.7,-2.4 -2.9,-3 -3,-0.7 -2,0.7 -3,2.5 -4,2.1 -11,2.5 -4,1.9 -8,1.7 -2,1.7 -0.6,3 0.7,2.9 1.9,1.8 6,1.7 8.4,0.5 3.6,3.3 8,4.1 17.9,0.6 6,3.1 7,1.1 6,1.9 44.9,0.1M163.5,487.5l0.5,-1 -0.6,-2.3 -1.4,-1.7 -1.6,-0.3 -1,1.5 0.1,2.8 1.9,1.4 2.1,-0.4" fill="none" stroke="#000" stroke-width="0.8" stroke-opacity="0.85"/></g></svg>
<div class="cb" style="left:284.1px;top:354.1px;width:6.9px;height:181.9px;background:linear-gradient(180deg,#7f0000,#990000,#b20000,#cc0000,#e50000,#ff0000,#ff1900,#ff3300,#ff4c00,#ff6600,#ff7f00,#ff9900,#ffb200,#ffcc00,#ffe500,#ffff00,#e5ff19,#ccff33,#b2ff4c,#99ff66,#7fff7f,#66ff99,#4cffb2,#33ffcc,#19ffe5,#00ffff,#00e5ff,#00ccff,#00b2ff,#0099ff,#007fff,#0066ff,#004cff,#0033ff,#0019ff,#0000ff,#0000e5,#0000cc,#0000b2,#000099,#00007f)"></div>
<div class="tk" style="left:291.8px;top:355.2px;width:2.5px;height:1px"></div>
<div class="cbl" style="left:299.0px;top:351.1px">1.0</div>
<div class="tk" style="left:291.8px;top:391.2px;width:2.5px;height:1px"></div>
<div class="cbl" style="left:299.0px;top:387.1px">0.8</div>
<div class="tk" style="left:291.8px;top:427.2px;width:2.5px;height:1px"></div>
<div class="cbl" style="left:299.0px;top:423.1px">0.6</div>
<div class="tk" style="left:291.8px;top:463.2px;width:2.5px;height:1px"></div>
<div class="cbl" style="left:299.0px;top:459.1px">0.4</div>
<div class="tk" style="left:291.8px;top:499.2px;width:2.5px;height:1px"></div>
<div class="cbl" style="left:299.0px;top:495.1px">0.2</div>
<div class="tk" style="left:291.8px;top:534.4px;width:2.5px;height:1px"></div>
<div class="cbl" style="left:299.0px;top:530.3px">0.0</div>
<div class="tk" style="left:33.2px;top:366.5px;width:3px;height:1px"></div>
<div class="yl" style="left:14.7px;top:362.0px">4</div>
<div class="tk" style="left:33.2px;top:418.0px;width:3px;height:1px"></div>
<div class="yl" style="left:14.7px;top:413.5px">16</div>
<div class="tk" style="left:33.2px;top:468.7px;width:3px;height:1px"></div>
<div class="yl" style="left:14.7px;top:464.2px">64</div>
<div class="tk" style="left:33.2px;top:518.8px;width:3px;height:1px"></div>
<div class="yl" style="left:14.7px;top:514.3px">256</div>
<div class="tk" style="left:35.7px;top:545.9px;width:1px;height:3.5px"></div>
<div class="xl" style="left:21.2px;top:553.4px">2002</div>
<div class="tk" style="left:47.3px;top:545.9px;width:1px;height:3.5px"></div>
<div class="tk" style="left:58.9px;top:545.9px;width:1px;height:3.5px"></div>
<div class="xl" style="left:44.4px;top:553.4px">2004</div>
<div class="tk" style="left:70.5px;top:545.9px;width:1px;height:3.5px"></div>
<div class="tk" style="left:82.1px;top:545.9px;width:1px;height:3.5px"></div>
<div class="xl" style="left:67.6px;top:553.4px">2006</div>
<div class="tk" style="left:93.7px;top:545.9px;width:1px;height:3.5px"></div>
<div class="tk" style="left:105.3px;top:545.9px;width:1px;height:3.5px"></div>
<div class="xl" style="left:90.8px;top:553.4px">2008</div>
<div class="tk" style="left:116.9px;top:545.9px;width:1px;height:3.5px"></div>
<div class="tk" style="left:128.5px;top:545.9px;width:1px;height:3.5px"></div>
<div class="xl" style="left:114.0px;top:553.4px">2010</div>
<div class="tk" style="left:140.1px;top:545.9px;width:1px;height:3.5px"></div>
<div class="tk" style="left:151.7px;top:545.9px;width:1px;height:3.5px"></div>
<div class="xl" style="left:137.2px;top:553.4px">2012</div>
<div class="tk" style="left:163.3px;top:545.9px;width:1px;height:3.5px"></div>
<div class="tk" style="left:174.9px;top:545.9px;width:1px;height:3.5px"></div>
<div class="xl" style="left:160.4px;top:553.4px">2014</div>
<div class="tk" style="left:186.5px;top:545.9px;width:1px;height:3.5px"></div>
<div class="tk" style="left:198.1px;top:545.9px;width:1px;height:3.5px"></div>
<div class="xl" style="left:183.6px;top:553.4px">2016</div>
<div class="tk" style="left:209.7px;top:545.9px;width:1px;height:3.5px"></div>
<div class="tk" style="left:221.3px;top:545.9px;width:1px;height:3.5px"></div>
<div class="xl" style="left:206.8px;top:553.4px">2018</div>
<div class="tk" style="left:232.9px;top:545.9px;width:1px;height:3.5px"></div>
<div class="tk" style="left:244.5px;top:545.9px;width:1px;height:3.5px"></div>
<div class="xl" style="left:230.0px;top:553.4px">2020</div>
<div class="tk" style="left:256.1px;top:545.9px;width:1px;height:3.5px"></div>
<div class="tk" style="left:267.7px;top:545.9px;width:1px;height:3.5px"></div>
<div class="xl" style="left:253.2px;top:553.4px">2022</div>
<div class="axl" style="left:137.9px;top:570.4px">Period</div>
<div class="yax" style="left:-11.7px;top:440.0px">Scale</div>
<div class="box" style="left:355.7px;top:325.9px;width:327.4px;height:262.2px"></div>
<div class="title" style="left:368.9px;top:296.1px">(C) Developing Countries</div>
<div class="hm" style="left:389.4px;top:343.6px;width:243.4px;height:202.3px">
<div class="tb" style="height:60.1px"><b style="--g:#001,#001 23px,#015 24px,#04f 25px,#04f 36px,#04f 46px,#02f 53px,#03f"></b><b style="--g:#014,#016 2px,#03e 6px,#03f 7px,#03f 12px,#06f 23px,#02f 52px,#02f 58px,#03f"></b><b style="--g:#015,#027 2px,#04e 6px,#04f 7px,#04f 11px,#07f 23px,#05f 30px,#01f 46px,#03f"></b><b style="--g:#012,#025 2px,#07e 6px,#08f 7px,#07f 10px,#0af 17px,#0af 21px,#05f 29px,#00f 42px,#00e 46px,#00f 50px,#02f 53px,#03f"></b><b style="--g:#027,#05f 7px,#04f 22px,#03f 32px,#00f 37px,#00c 42px,#00c 45px,#00c 48px,#00f 51px,#02f 53px,#03f"></b><b style="--g:#037,#03f 7px,#02f 31px,#01f 33px,#00b 39px,#009 43px,#00a 47px,#00e 51px,#01f 52px,#02f 53px,#03f"></b><b style="--g:#059,#02f 7px,#02f 31px,#01f 32px,#00f 33px,#00b 36px,#008 40px,#007 45px,#00a 48px,#00e 51px,#01f 52px,#02f 53px,#03f"></b><b style="--g:#02f,#02f 31px,#00f 33px,#00a 38px,#008 43px,#009 47px,#00e 51px,#01f 52px,#02f 53px,#03f"></b><b style="--g:#03f,#02f 31px,#00f 35px,#00c 42px,#00b 45px,#00c 48px,#00f 51px,#01f 52px,#02f 53px,#03f"></b><b style="--g:#500,#610 5px,#630 8px,#fb0 9px,#ff0 10px,#df2 11px,#5fa 15px,#0ff 19px,#09f 29px,#06f 37px,#01f 46px,#01f 49px,#02f 53px,#03f"></b><b style="--g:#220,#550 2px,#bc1 5px,#be3 6px,#bf4 7px,#8f7 9px,#7f8 11px,#cf3 21px,#cf3 26px,#9f6 31px,#0ff 37px,#0af 43px,#04f 52px,#03f 56px,#03f"></b><b style="--g:#04f,#06f 10px,#09f 13px,#0ff 16px,#8f7 20px,#bf4 22px,#ef1 25px,#ff0 28px,#ef1 32px,#6f9 40px,#0ff 48px,#0ef 49px,#08f 52px,#06f 54px,#04f 56px,#04f"></b><b style="--g:#03d,#03f 7px,#04f 12px,#08f 16px,#0ff 21px,#5fa 25px,#bf4 35px,#af5 41px,#bf4 46px,#af5 48px,#8f7 49px,#2fd 51px,#0ef 52px,#0bf 53px,#07f 55px,#06f"></b><b style="--g:#002,#015 2px,#02e 6px,#02f 7px,#02f 15px,#04f 21px,#0af 31px,#0bf 32px,#0ef 33px,#1fe 34px,#7f8 37px,#fe0 45px,#fd0 47px,#fe0 48px,#ef1 49px,#bf4 50px,#3fc 52px,#0ef 53px,#0bf 54px,#08f 56px,#08f"></b><b style="--g:#016,#017 2px,#02e 6px,#02f 7px,#02f 19px,#04f 29px,#06f 32px,#0df 35px,#1fe 36px,#ef1 44px,#fe0 45px,#fc0 47px,#fd0 48px,#ff0 49px,#cf3 50px,#0ff 53px,#0cf 54px,#09f 56px,#08f"></b><b style="--g:#0ef,#09f 3px,#036 4px,#012 5px,#012 7px,#001 8px,#016 10px,#03f 11px,#03f 18px,#016 19px,#015 20px,#002 21px,#001 22px,#001 25px,#001 28px,#06f 29px,#09f 32px,#0df 34px,#1fe 35px,#4fb 37px,#9f6 41px,#ff0 45px,#fd0 47px,#fd0 48px,#ff0 49px,#8f7 51px,#0ff 53px,#0cf 54px,#09f 56px,#08f"></b><b style="--g:#510,#620 3px,#630 5px,#fb0 6px,#ff0 7px,#5fa 10px,#0ff 12px,#0ef 13px,#0cf 15px,#0bf 19px,#0cf 24px,#0ff 31px,#1fe 32px,#5fa 34px,#7f8 36px,#9f6 41px,#ff0 47px,#ff0 48px,#df2 49px,#af5 50px,#3fc 52px,#0ef 53px,#0bf 54px,#08f 56px,#08f"></b><b style="--g:#04f,#04f 12px,#05f 20px,#0af 31px,#0ff 34px,#1fe 35px,#4fb 42px,#9f5 47px,#9f6 48px,#8f7 49px,#0ef 52px,#09f 54px,#07f 55px,#06f 57px,#06f"></b><b style="--g:#02f,#02f 19px,#03f 31px,#0af 41px,#0ff 45px,#1fe 46px,#2fd 48px,#0ff 50px,#08f 53px,#05f 55px,#05f"></b><b style="--g:#03f,#02f 17px,#03f 33px,#07f 41px,#0cf 46px,#0df 48px,#0bf 50px,#05f 53px,#04f 54px,#03f 57px,#04f"></b><b style="--g:#af5,#af5 2px,#7f8 4px,#0ff 7px,#0bf 9px,#08f 11px,#05f 15px,#04f 18px,#04f 29px,#06f 32px,#09f 36px,#0af 42px,#0df 47px,#0cf 49px,#04f 53px,#03f 54px,#02f 57px,#03f"></b><b style="--g:#400,#500 2px,#710 9px,#610 10px,#200 11px,#100 12px,#110 16px,#320 17px,#760 18px,#ff0 19px,#af5 23px,#6f9 27px,#5f9 29px,#6f9 32px,#5fa 35px,#0ff 41px,#0ff 47px,#0df 49px,#04f 53px,#03f 57px,#04f"></b><b style="--g:#900,#700 2px,#700 4px,#d00 5px,#f00 7px,#700 8px,#f00 9px,#f10 11px,#800 12px,#810 14px,#f20 15px,#f20 16px,#810 17px,#930 21px,#a60 27px,#fb0 28px,#fc0 32px,#ff0 34px,#cf3 36px,#4fb 40px,#2fd 42px,#0ef 48px,#07f 53px,#07f 57px,#08f"></b><b style="--g:#510,#610 7px,#830 15px,#850 19px,#fb0 20px,#ff0 27px,#ff0 32px,#df2 35px,#0ff 41px,#0ef 43px,#0df 48px,#0df 52px,#0ff 54px,#3fc"></b><b style="--g:#0bb,#0ef 6px,#0bf 18px,#0cf 22px,#0ef 26px,#0ff 27px,#8f7 34px,#7f8 36px,#0ff 39px,#0af 42px,#09f 45px,#0af 48px,#0ef 50px,#2fd 51px,#af5 54px,#cf3 55px,#ff0 58px,#fe0"></b><b style="--g:#0af,#06f 6px,#04f 10px,#014 11px,#001 12px,#002 15px,#015 16px,#04f 17px,#04f 21px,#06f 24px,#08f 26px,#0ef 31px,#1fe 32px,#5fa 34px,#5fa 35px,#4fb 36px,#0ff 38px,#0af 40px,#07f 42px,#06f 44px,#06f 46px,#08f 48px,#0bf 49px,#0ff 50px,#ef1 53px,#f90 55px,#f80 56px,#f40"></b><b style="--g:#520,#630 2px,#fc0 3px,#ef1 4px,#1fe 8px,#0df 9px,#0af 11px,#08f 13px,#06f 18px,#08f 23px,#0ef 28px,#1fe 29px,#7f8 34px,#7f8 35px,#6f9 36px,#0ff 38px,#0af 40px,#06f 42px,#04f 44px,#04f 46px,#05f 47px,#07f 48px,#0af 49px,#0ff 50px,#bf4 52px,#fd0 53px,#f90 54px,#f40 56px,#f00"></b><b style="--g:#1fe,#3fc 4px,#4fb 7px,#0ff 17px,#0ff 21px,#2fd 24px,#af5 30px,#df2 34px,#cf3 35px,#af5 36px,#0ff 39px,#09f 41px,#08f 42px,#05f 45px,#06f 47px,#07f 48px,#0bf 49px,#1fe 50px,#cf3 52px,#fc0 53px,#f80 54px,#f50 55px,#f30 56px,#f00 59px,#e00"></b><b style="--g:#039,#05f 7px,#09f 14px,#0ef 20px,#1fe 21px,#4fb 23px,#ef1 28px,#fe0 29px,#fb0 32px,#b70 33px,#b70 34px,#fb0 35px,#ff0 37px,#1fe 41px,#0ef 42px,#0bf 45px,#0bf 47px,#0cf 48px,#0ff 49px,#4fb 50px,#ef1 52px,#f70 54px,#f40 55px,#f00 58px,#e00"></b><b style="--g:#02f,#03f 6px,#05f 11px,#08f 14px,#0ef 17px,#1fe 18px,#df2 22px,#ff0 23px,#fc0 24px,#960 25px,#950 26px,#a30 29px,#b10 33px,#f20 34px,#b10 35px,#c40 38px,#c70 39px,#fb0 40px,#fe0 41px,#ef1 42px,#bf4 44px,#8f7 47px,#9f6 48px,#df2 50px,#fe0 51px,#f70 53px,#f20 55px,#f00 57px,#e00"></b><b style="--g:#3fc,#5fa 4px,#fe0 10px,#fa0 12px,#740 13px,#810 20px,#900 24px,#f00 25px,#e00 31px,#a00 32px,#900 34px,#b00 35px,#a00 37px,#b00 39px,#a00 40px,#c00 42px,#d10 43px,#f60 47px,#f70 49px,#f50 51px,#f00 55px,#d00"></b><b style="--g:#540,#610 7px,#800 13px,#e00 14px,#e00 22px,#800 23px,#e00 24px,#e00 31px,#d00 32px,#800 36px,#700 37px,#700 44px,#d00 49px,#e00 52px,#d00"></b><b style="--g:#e00,#700 2px,#700 4px,#e00 5px,#e00 7px,#700 8px,#e00 9px,#e00 11px,#700 12px,#700 14px,#e00 15px,#e00 21px,#800 22px,#800 24px,#e00 25px,#e00 27px,#900 28px,#e00 29px,#e00 31px,#d00 32px,#800 36px,#700 37px,#700 45px,#c00 50px,#d00 53px,#d00"></b><b style="--g:#500,#a00 31px,#a00 39px,#c00 44px,#e00 47px,#d00"></b><b style="--g:#09f,#09f 5px,#06f 16px,#06f 22px,#09f 30px,#0bf 32px,#0df 33px,#1fe 34px,#8f7 37px,#ff0 41px,#fb0 45px,#e90 46px,#f80 48px,#f20 53px,#f20"></b><b style="--g:#02f,#014 2px,#001 3px,#001 12px,#014 13px,#02f 14px,#02f 31px,#00f 34px,#00f 36px,#01f 37px,#04f 39px,#0ef 43px,#2fd 44px,#ef1 50px,#fb0 53px,#fb0"></b><b style="--g:#02f,#02f 31px,#01f 32px,#00e 33px,#00c 35px,#00b 37px,#00c 39px,#00e 41px,#01f 42px,#0ef 48px,#6f9 52px,#7f8 53px,#7f8"></b><b style="--g:#06f,#04f 4px,#03f 7px,#02f 31px,#00f 33px,#00c 37px,#00e 40px,#00f 41px,#09f 47px,#0cf 50px,#0df 52px,#0ef"></b><b style="--g:#0cf,#0cf 4px,#09f 10px,#07f 16px,#03f 34px,#04f 37px,#0bf 43px,#0df 47px,#0cf 50px,#0af 53px,#0af"></b><b style="--g:#03f,#05f 7px,#06f 10px,#0ff 17px,#3fc 20px,#5fa 23px,#5fa 28px,#2fd 35px,#6f9 41px,#6f9 43px,#4fb 47px,#0ff 50px,#09f 53px,#09f"></b><b style="--g:#03d,#05e 4px,#08f 8px,#0af 10px,#0ff 13px,#af5 18px,#ff0 21px,#ff0 22px,#fd0 25px,#fb0 31px,#ff0 35px,#ff0 42px,#cf3 45px,#9f6 47px,#5fa 49px,#0ff 51px,#0bf 52px,#08f 53px,#09f"></b><b style="--g:#530,#630 4px,#750 10px,#fa0 11px,#750 12px,#a40 31px,#b80 36px,#c90 40px,#fb0 41px,#fc0 43px,#ff0 45px,#9f6 48px,#0ff 51px,#0bf 52px,#08f 53px,#08f"></b><b style="--g:#500,#830 16px,#f60 17px,#f40 31px,#f50 32px,#f80 35px,#b70 36px,#c80 39px,#fb0 40px,#fe0 44px,#ef1 45px,#af5 47px,#2fd 50px,#0ef 51px,#09f 52px,#06f 53px,#07f"></b><b style="--g:#ef1,#ff0 3px,#ef1 9px,#ff0 12px,#fb0 16px,#850 17px,#850 18px,#f90 19px,#f50 24px,#f40 29px,#f40 31px,#f60 33px,#b60 34px,#b70 35px,#fb0 36px,#ff0 40px,#9f6 45px,#6f9 47px,#1fd 49px,#0ef 50px,#07f 52px,#04f 53px,#05f"></b><b style="--g:#1ba,#5e9 5px,#5f9 7px,#6f9 9px,#8f7 11px,#ff0 15px,#fb0 18px,#f70 21px,#f50 24px,#f40 28px,#f60 31px,#b50 32px,#b70 33px,#fc0 34px,#ff0 35px,#af5 38px,#0ff 47px,#0af 50px,#05f 52px,#03f 53px,#03f"></b><b style="--g:#500,#730 11px,#820 18px,#f40 19px,#f30 25px,#f50 29px,#a40 30px,#a60 31px,#fb0 32px,#ff0 33px,#7f7 35px,#5fa 36px,#1fe 39px,#0af 47px,#06f 50px,#02f 53px,#02f"></b><b style="--g:#f10,#f00 2px,#700 3px,#f00 4px,#f10 7px,#700 8px,#f10 9px,#f20 12px,#810 13px,#f20 14px,#f20 16px,#810 17px,#930 26px,#a60 29px,#fb0 30px,#ff0 31px,#bf4 32px,#2fd 34px,#0ff 35px,#0af 38px,#07f 42px,#02f 53px,#02f"></b><b style="--g:#510,#850 16px,#fb0 17px,#fb0 22px,#ff0 27px,#bf4 29px,#1fe 32px,#0df 33px,#09f 36px,#06f 42px,#02f 53px,#02f"></b><b style="--g:#3fc,#3fc 3px,#0ff 6px,#0cf 9px,#0bf 13px,#0bf 16px,#0ff 20px,#3fc 23px,#3fc 26px,#3fc 28px,#0ff 30px,#0df 32px,#0bf 35px,#0cf 42px,#06f 48px,#03f 53px,#02f"></b><b style="--g:#06a,#07f 6px,#06f 11px,#026 12px,#026 13px,#012 17px,#011 19px,#022 20px,#011 21px,#011 29px,#253 30px,#4fb 31px,#6f9 34px,#bf4 39px,#bf4 41px,#9f6 43px,#1fe 46px,#0df 47px,#09f 49px,#03f 53px,#02f 57px,#03f"></b><b style="--g:#012,#015 2px,#05e 6px,#05f 7px,#06f 16px,#08f 18px,#0df 20px,#1fe 21px,#9f6 24px,#ff0 28px,#fb0 32px,#b70 33px,#c40 40px,#d60 42px,#d80 43px,#fd0 44px,#df2 45px,#1fe 48px,#0df 49px,#03f 53px,#02f 56px,#03f"></b><b style="--g:#034,#046 2px,#07e 6px,#07f 7px,#07f 16px,#0af 18px,#0df 19px,#1fe 20px,#9f6 22px,#ff0 24px,#fb0 26px,#a60 27px,#b30 32px,#f40 33px,#f00 40px,#f10 42px,#f40 43px,#e70 44px,#fc0 45px,#df2 46px,#4fb 48px,#0ff 49px,#04f 53px,#02f 56px,#03f"></b><b style="--g:#012,#025 2px,#05e 6px,#06f 7px,#06f 16px,#08f 18px,#0df 20px,#1fe 21px,#bf4 24px,#ff0 26px,#fc0 28px,#a70 29px,#c20 38px,#f20 39px,#f20 41px,#f30 42px,#d50 43px,#e80 44px,#fd0 45px,#cf3 46px,#3fc 48px,#0ff 49px,#04f 53px,#03f 56px,#03f"></b><b style="--g:#03f,#04f 18px,#06f 21px,#0ff 29px,#2fd 31px,#4fb 32px,#af5 34px,#ff0 36px,#fb0 38px,#c80 39px,#d70 41px,#d80 42px,#fb0 43px,#fd0 44px,#df2 45px,#6f9 47px,#1fe 49px,#0df 50px,#06f 53px,#05f 54px,#03f 58px,#03f"></b><b style="--g:#001,#001 24px,#014 25px,#03f 26px,#05f 32px,#09f 34px,#0ff 36px,#bf4 40px,#ef1 42px,#df1 43px,#bf4 45px,#1fe 51px,#0ef 52px,#0af 54px,#07f 56px,#04f 59px,#04f"></b><b style="--g:#002,#015 2px,#02e 6px,#02f 7px,#03f 32px,#04f 34px,#06f 35px,#0ff 38px,#af5 42px,#df2 44px,#ef1 46px,#df2 48px,#bf4 50px,#9f6 51px,#1fe 54px,#0ef 55px,#06f 59px,#04f"></b><b style="--g:#058,#03f 7px,#02f 16px,#03f 31px,#04f 33px,#06f 34px,#0ef 37px,#cf3 42px,#ef1 43px,#fe0 44px,#fb0 46px,#fa0 48px,#fa0 49px,#fe0 51px,#df2 52px,#0ff 56px,#07f 59px,#05f"></b><b style="--g:#04f,#02f 10px,#03f 22px,#05f 27px,#08f 30px,#0af 32px,#0ef 33px,#2fd 34px,#af5 37px,#ff0 40px,#fc0 42px,#d90 43px,#e50 46px,#f50 47px,#f50 48px,#f60 49px,#f80 50px,#ff0 52px,#1fe 56px,#0df 57px,#07f 59px,#05f"></b><b style="--g:#01a,#02f 7px,#03f 12px,#017 13px,#012 16px,#110 29px,#660 30px,#fe0 31px,#fb0 33px,#b70 34px,#d50 42px,#f50 43px,#f20 47px,#f30 48px,#f40 49px,#fa0 51px,#ff0 52px,#1fe 56px,#0df 57px,#07f 59px,#05f"></b><b style="--g:#012,#025 2px,#06e 6px,#07f 7px,#0af 10px,#0ef 13px,#1fe 14px,#3fc 15px,#df2 19px,#fe0 20px,#fc0 21px,#960 22px,#940 26px,#b30 33px,#f40 34px,#f40 38px,#c40 39px,#f40 47px,#f70 49px,#fd0 51px,#df2 52px,#9f6 53px,#0ff 56px,#07f 59px,#05f"></b><b style="--g:#001,#001 11px,#025 12px,#06f 13px,#09f 15px,#0df 17px,#0ff 18px,#9f6 21px,#df2 23px,#ff0 24px,#fe0 25px,#fb0 28px,#a70 29px,#b60 32px,#c80 38px,#fb0 39px,#fc0 47px,#ff0 49px,#1fe 54px,#0ef 55px,#05f 59px,#04f"></b><b style="--g:#002,#015 2px,#02e 6px,#02f 7px,#02f 14px,#04f 19px,#07f 22px,#0ff 28px,#1fe 29px,#6f9 35px,#7f8 40px,#6f9 47px,#4fb 49px,#0ff 51px,#0bf 53px,#05f 58px,#03f"></b><b style="--g:#002,#015 2px,#02e 6px,#02f 7px,#02f 15px,#03f 20px,#05f 24px,#0df 34px,#0ff 40px,#0ef 43px,#0cf 47px,#09f 50px,#05f 53px,#02f"></b><b style="--g:#02f,#02f 12px,#03f 18px,#06f 22px,#0ef 28px,#1fe 29px,#5fa 32px,#5fa 34px,#4fb 39px,#1fe 43px,#0cf 46px,#03f 53px,#02f"></b><b style="--g:#003,#003 2px,#002 3px,#015 4px,#016 5px,#02f 6px,#02f 12px,#04f 15px,#08f 18px,#0ef 20px,#2fd 21px,#df1 24px,#fe0 25px,#fb0 26px,#a60 27px,#a30 31px,#b40 33px,#c80 37px,#fc0 38px,#fe0 39px,#ef1 40px,#1fe 46px,#0ef 47px,#03f 52px,#02f 53px,#02f"></b><b style="--g:#0ef,#0ff 3px,#2fd 5px,#5fa 7px,#ff0 11px,#fc0 12px,#750 13px,#820 16px,#800 20px,#900 26px,#e00 27px,#e00 31px,#a00 32px,#900 33px,#900 34px,#c00 35px,#e00 37px,#c00 38px,#c10 39px,#d60 41px,#d90 42px,#fd0 43px,#df2 44px,#0ff 48px,#04f 52px,#02f 53px,#02f"></b><b style="--g:#500,#700 13px,#e00 14px,#e00 22px,#800 23px,#e00 24px,#e00 31px,#a00 34px,#900 36px,#a00 38px,#d00 40px,#f10 41px,#f50 42px,#d80 43px,#fd0 44px,#df2 45px,#1fe 48px,#0df 49px,#04f 52px,#02f 53px,#02f"></b><b style="--g:#500,#500 3px,#600 4px,#e00 5px,#e00 7px,#700 8px,#e00 9px,#e00 11px,#700 12px,#700 14px,#e00 15px,#e00 21px,#800 22px,#800 24px,#e00 25px,#e00 27px,#900 28px,#e00 29px,#e00 31px,#b00 34px,#a00 36px,#c00 38px,#f00 40px,#f30 41px,#d50 42px,#d90 43px,#fe0 44px,#0ff 48px,#04f 52px,#02f 53px,#02f"></b><b style="--g:#fd0,#fb0 3px,#640 4px,#730 14px,#910 22px,#a00 28px,#a00 30px,#f00 31px,#f00 32px,#b00 33px,#b10 36px,#c60 40px,#d80 41px,#fd0 42px,#ef1 43px,#0ff 47px,#03f 52px,#02f 53px,#02f"></b><b style="--g:#03f,#04f 12px,#07f 17px,#036 18px,#024 19px,#033 20px,#022 21px,#111 24px,#241 25px,#441 26px,#ff0 27px,#fd0 28px,#fb0 30px,#a70 31px,#b60 32px,#b70 33px,#fb0 34px,#ff0 39px,#bf4 42px,#1fe 46px,#0df 47px,#03f 52px,#02f 53px,#02f"></b><b style="--g:#002,#015 2px,#03e 6px,#04f 7px,#08f 14px,#0cf 18px,#022 19px,#110 28px,#440 29px,#ff0 30px,#fe0 32px,#ff0 34px,#cf3 40px,#af5 42px,#1fe 46px,#0ef 47px,#04f 52px,#03f 53px,#03f"></b><b style="--g:#2cb,#5ea 5px,#111 6px,#110 24px,#210 25px,#630 26px,#a50 27px,#b50 32px,#b70 34px,#fb0 35px,#ff0 40px,#cf3 42px,#1fe 47px,#0ef 48px,#06f 52px,#05f 53px,#06f"></b><b style="--g:#870,#640 2px,#720 9px,#810 19px,#f20 20px,#f20 21px,#910 22px,#910 24px,#f20 25px,#f20 27px,#a10 28px,#f20 29px,#f30 32px,#f50 34px,#b40 35px,#c80 39px,#fb0 40px,#fe0 42px,#ef1 43px,#6f9 47px,#1fe 50px,#0bf 53px,#0df"></b><b style="--g:#500,#f00 2px,#f00 6px,#700 7px,#700 9px,#910 24px,#b20 32px,#c80 40px,#fb0 41px,#ff0 44px,#9f6 48px,#4fb 53px,#8f7"></b><b style="--g:#530,#640 8px,#fb0 9px,#fe0 12px,#ef1 13px,#bf4 15px,#af5 17px,#ef1 23px,#ff0 30px,#fd0 36px,#ff0 41px,#bf4 48px,#bf4 53px,#ff0"></b><b style="--g:#014,#026 2px,#03e 6px,#03f 7px,#03f 15px,#04f 20px,#0af 31px,#0df 33px,#1fe 34px,#4fb 36px,#8f7 40px,#af5 48px,#ff0 56px,#fc0"></b><b style="--g:#04f,#02f 8px,#015 9px,#002 10px,#001 11px,#001 19px,#003 20px,#03f 21px,#05f 31px,#07f 33px,#0ef 37px,#0ff 38px,#8f7 48px,#ef1 53px,#ff0 55px,#fb0"></b><b style="--g:#03f,#03f 17px,#06f 31px,#07f 32px,#0df 36px,#0ff 40px,#1fe 42px,#5fa 46px,#9f6 49px,#ef1 52px,#ff0 53px,#f90"></b><b style="--g:#03f,#03f 16px,#05f 19px,#0af 24px,#0cf 31px,#0df 32px,#0ef 33px,#1fe 34px,#2fd 36px,#0ff 39px,#0ef 41px,#0ff 43px,#5fa 46px,#ff0 51px,#fb0 53px,#fb0 54px,#f60"></b><b style="--g:#07f,#05f 8px,#05f 15px,#07f 17px,#08f 18px,#0ef 20px,#2fd 21px,#8f7 23px,#af5 24px,#cf3 26px,#ff0 34px,#ff0 35px,#df2 36px,#1fe 40px,#0df 42px,#0ef 43px,#1fe 44px,#ef1 49px,#fe0 50px,#f90 52px,#f60 54px,#f40 56px,#f20"></b><b style="--g:#af5,#6f9 9px,#5fa 14px,#8f7 16px,#af5 17px,#ef1 18px,#fc0 19px,#850 20px,#930 21px,#910 24px,#b10 33px,#b20 35px,#b30 36px,#c50 37px,#fb0 38px,#df2 39px,#8f7 40px,#5fa 41px,#3fc 42px,#4fb 43px,#6f9 44px,#ef1 47px,#fe0 48px,#f70 51px,#f10 55px,#f00 57px,#e00"></b><b style="--g:#2c9,#5c7 2px,#de1 5px,#fd0 6px,#fc0 7px,#640 8px,#800 19px,#f00 20px,#e00 22px,#800 23px,#e00 24px,#e00 31px,#c00 35px,#d00 37px,#c10 38px,#c40 39px,#c80 40px,#ff0 41px,#df2 42px,#df2 43px,#ef1 44px,#fe0 45px,#f90 48px,#f30 53px,#f10 54px,#d00 57px,#d00"></b><b style="--g:#fd0,#fb0 2px,#630 3px,#610 7px,#710 8px,#f10 9px,#f00 11px,#800 12px,#800 14px,#f00 15px,#e00 21px,#800 22px,#800 24px,#e00 25px,#e00 27px,#900 28px,#e00 29px,#d00 32px,#b00 34px,#900 36px,#a00 37px,#b00 38px,#e00 39px,#f40 40px,#d70 41px,#fb0 42px,#fc0 43px,#fb0 44px,#e90 45px,#f70 47px,#f50 49px,#f30 53px,#f10 54px,#d00 57px,#d00"></b><b style="--g:#510,#600 7px,#700 9px,#f00 10px,#e00 17px,#800 18px,#e00 19px,#e00 27px,#900 28px,#e00 29px,#e00 31px,#d00 32px,#900 33px,#b00 34px,#a00 36px,#a00 37px,#f00 39px,#f40 40px,#d70 41px,#fc0 42px,#fc0 43px,#fc0 44px,#e90 46px,#f60 49px,#f40 53px,#f00 55px,#d00"></b><b style="--g:#4fb,#6f9 2px,#ff0 6px,#f80 9px,#f50 11px,#f10 17px,#800 18px,#f00 19px,#e00 26px,#900 27px,#900 29px,#e00 30px,#e00 32px,#900 33px,#c00 34px,#c00 36px,#d00 37px,#f10 38px,#f50 39px,#c80 40px,#ff0 41px,#cf3 42px,#cf3 43px,#ff0 46px,#f70 53px,#f40 54px,#f10 56px,#f00 58px,#d00"></b><b style="--g:#110,#100 10px,#100 30px,#e00 31px,#a00 32px,#a00 33px,#900 34px,#d00 35px,#e00 36px,#f10 37px,#f40 38px,#ff0 40px,#af5 41px,#7f8 42px,#6f9 43px,#9f6 47px,#ef1 50px,#fe0 51px,#fd0 52px,#f60 55px,#f30 57px,#f00 59px,#e00"></b><b style="--g:#200,#400 2px,#d00 6px,#e00 7px,#700 8px,#e00 9px,#e00 12px,#700 13px,#e00 14px,#e00 17px,#600 18px,#400 19px,#400 20px,#200 21px,#100 22px,#100 24px,#300 25px,#400 26px,#600 27px,#e00 28px,#e00 31px,#d00 34px,#e00 36px,#f10 37px,#f50 38px,#fa0 39px,#ef1 40px,#9f6 41px,#5fa 42px,#4fb 43px,#4fb 44px,#4fb 46px,#6f9 48px,#ef1 52px,#fe0 53px,#f80 55px,#f40 57px,#f10 59px,#f00"></b><b style="--g:#310,#610 3px,#800 19px,#f00 20px,#f00 21px,#800 22px,#900 24px,#f00 25px,#e00 27px,#900 28px,#e00 29px,#d00 34px,#e00 36px,#f10 37px,#f50 38px,#c80 39px,#ef1 40px,#9f6 41px,#6f9 42px,#4fb 43px,#3fc 45px,#5fa 48px,#8f7 50px,#ff0 53px,#f90 55px,#f50 57px,#f10 59px,#f00"></b><b style="--g:#03f,#04f 5px,#06f 8px,#08f 10px,#0ef 13px,#1fe 14px,#4fb 15px,#df2 18px,#fd0 19px,#860 20px,#940 22px,#930 23px,#f40 24px,#f20 27px,#a10 28px,#f10 29px,#f10 32px,#b00 33px,#f00 34px,#f00 35px,#f10 36px,#f30 37px,#f70 38px,#fc0 39px,#df2 40px,#8f7 41px,#5f9 42px,#4fb 44px,#5fa 48px,#ef1 53px,#fa0 55px,#f50 57px,#f20 59px,#f00"></b><b style="--g:#015,#017 2px,#02e 6px,#03f 7px,#05f 13px,#09f 16px,#0ff 18px,#3fc 19px,#ff0 22px,#fa0 24px,#f70 26px,#f40 29px,#f30 32px,#b20 33px,#f20 34px,#f40 36px,#f60 37px,#fd0 39px,#cf3 40px,#9f6 41px,#6f9 42px,#6f9 43px,#7f7 48px,#ef1 53px,#fa0 55px,#f40 58px,#f10"></b><b style="--g:#012,#015 2px,#04e 6px,#04f 7px,#05f 9px,#09f 12px,#046 13px,#044 15px,#253 17px,#8f6 18px,#ff0 20px,#fc0 21px,#960 22px,#950 23px,#f70 24px,#f50 27px,#f30 31px,#a20 32px,#b20 34px,#f30 35px,#f60 37px,#ff0 40px,#df2 41px,#bf4 43px,#ff0 53px,#f50 59px,#f40"></b><b style="--g:#06a,#09d 4px,#0ff 7px,#5fa 10px,#ff0 14px,#fb0 16px,#850 17px,#930 21px,#f40 22px,#f30 29px,#f30 34px,#f50 36px,#f70 38px,#c70 39px,#c80 40px,#fb0 41px,#fc0 42px,#fb0 48px,#ff0 53px,#f70"></b><b style="--g:#530,#620 6px,#810 16px,#f20 17px,#f20 21px,#910 22px,#a30 31px,#d80 41px,#e80 46px,#f80 48px,#fa0 50px,#ff0 53px,#ff0 55px,#fa0"></b><b style="--g:#500,#700 2px,#600 3px,#710 11px,#960 22px,#960 23px,#fb0 24px,#ff0 28px,#cf3 32px,#bf4 35px,#df2 40px,#ff0 43px,#fb0 48px,#fc0 50px,#ff0 53px,#ff0 55px,#fb0"></b><b style="--g:#530,#640 2px,#c80 3px,#ed0 5px,#660 6px,#451 7px,#121 8px,#065 11px,#055 12px,#0df 13px,#0af 16px,#08f 19px,#05f 32px,#08f 36px,#0ff 41px,#1fe 42px,#bf4 47px,#df2 49px,#ef1 52px,#ef1 54px,#ff0 56px,#fc0"></b><b style="--g:#05f,#04f 4px,#013 5px,#001 6px,#001 10px,#014 12px,#02f 13px,#02f 31px,#00f 35px,#00f 38px,#01f 40px,#04f 42px,#08f 44px,#0ef 46px,#1fe 47px,#6f9 49px,#bf4 52px,#cf3 53px,#cf3 56px,#ff0"></b><b style="--g:#02f,#02f 2px,#015 3px,#002 4px,#001 5px,#001 10px,#014 11px,#02f 12px,#02f 31px,#00f 33px,#00c 36px,#00a 39px,#00c 42px,#00f 44px,#0ff 50px,#4fa 52px,#6f9 53px,#5fa 55px,#8f7"></b><b style="--g:#02f,#02f 31px,#00f 33px,#00a 37px,#008 41px,#00a 44px,#00e 46px,#01f 47px,#0cf 52px,#0df 53px,#0cf 56px,#0df"></b><b style="--g:#02e,#02f 7px,#03f 18px,#02f 31px,#01f 33px,#00f 34px,#00b 39px,#00a 42px,#00b 44px,#00f 47px,#07f 53px,#05f 56px,#06f"></b><b style="--g:#0df,#0af 5px,#08f 16px,#04f 26px,#03f 32px,#00f 37px,#00d 42px,#00e 45px,#04f 52px,#03f 56px,#03f"></b><b style="--g:#012,#037 3px,#07e 6px,#08f 7px,#0af 11px,#0af 15px,#05f 25px,#03f 32px,#00f 38px,#00e 41px,#00f 44px,#03f 48px,#04f 52px,#02f"></b><b style="--g:#221,#351 2px,#594 4px,#5e9 6px,#3fc 7px,#0ff 9px,#09f 13px,#05f 18px,#03f 23px,#02f 31px,#00f 34px,#00b 41px,#00c 44px,#00f 47px,#06f 53px,#03f"></b><b style="--g:#132,#055 2px,#078 3px,#08c 5px,#07e 6px,#07f 7px,#04f 10px,#03f 13px,#01f 32px,#00f 33px,#00a 36px,#007 39px,#007 45px,#00a 47px,#00e 49px,#02f 50px,#08f 52px,#0af 53px,#0af 55px,#05f"></b><b style="--g:#02f,#02f 31px,#01f 32px,#00e 33px,#008 36px,#007 37px,#008 48px,#00b 49px,#01f 50px,#0cf 52px,#1fe 53px,#2fd 54px,#0ff 56px,#0af 59px,#08f"></b><b style="--g:#001,#001 5px,#002 6px,#015 7px,#015 8px,#02f 9px,#02f 31px,#01f 32px,#00e 33px,#008 36px,#007 37px,#007 48px,#00a 49px,#01f 50px,#0ff 52px,#5fa 53px,#7f8 54px,#6f9 55px,#5fa 56px,#0ff 58px,#0cf 59px,#0af"></b><b style="--g:#027,#03f 7px,#02f 31px,#01f 32px,#00e 33px,#007 36px,#007 48px,#009 49px,#01f 50px,#1fe 52px,#7f8 53px,#8f7 54px,#8f7 55px,#7f8 56px,#1fe 58px,#0df 59px,#0bf"></b><b style="--g:#001,#001 8px,#016 10px,#016 11px,#015 12px,#016 13px,#016 16px,#02f 17px,#02f 31px,#01f 32px,#00d 33px,#008 35px,#007 48px,#00a 49px,#01f 50px,#08f 51px,#1fe 52px,#7f8 53px,#8f7 54px,#8f7 55px,#7f8 56px,#1fe 58px,#0df 59px,#0bf"></b><b style="--g:#02f,#02f 31px,#01f 32px,#009 34px,#007 35px,#007 48px,#00a 49px,#01f 50px,#0ff 52px,#5fa 53px,#7f8 54px,#6f9 55px,#5fa 56px,#0ff 58px,#0cf 59px,#0af"></b><b style="--g:#02f,#02f 31px,#01f 32px,#009 34px,#007 35px,#007 48px,#00b 49px,#01f 50px,#0cf 52px,#1fe 53px,#2fd 54px,#0ff 56px,#0af 59px,#08f"></b><b style="--g:#002,#015 2px,#02e 6px,#02f 7px,#02f 31px,#01f 32px,#00d 33px,#008 35px,#007 36px,#007 47px,#00c 49px,#01f 50px,#08f 52px,#0af 53px,#0af 55px,#05f"></b><b style="--g:#001,#001 12px,#015 13px,#02f 14px,#02f 31px,#01f 32px,#00e 33px,#008 37px,#007 38px,#008 46px,#00e 49px,#01f 50px,#05f 52px,#06f 53px,#03f"></b><b style="--g:#001,#001 27px,#015 28px,#02f 29px,#02f 31px,#00f 33px,#00a 38px,#007 41px,#008 44px,#00f 49px,#04f 53px,#03f 56px,#02f"></b><b style="--g:#02c,#02f 7px,#016 8px,#002 10px,#001 11px,#001 18px,#002 19px,#015 20px,#016 22px,#02f 23px,#02f 31px,#00f 35px,#00a 42px,#00b 44px,#00f 48px,#04f 53px,#02f 56px,#02f"></b><b style="--g:#ef1,#bf4 2px,#1fe 6px,#0ef 7px,#0bf 9px,#08f 11px,#06f 16px,#014 17px,#012 18px,#001 19px,#012 21px,#014 22px,#027 23px,#04f 24px,#03f 32px,#00f 39px,#00c 43px,#00f 47px,#03f 53px,#02f 56px,#02f"></b><b style="--g:#02f,#03f 5px,#06f 16px,#07f 20px,#06f 28px,#03f 35px,#00f 41px,#00f 46px,#03f 53px,#02f"></b><b style="--g:#1fe,#0ef 2px,#0bf 6px,#09f 9px,#08f 19px,#02f 37px,#01f 45px,#03f 53px,#02f"></b><b style="--g:#04f,#04f 17px,#03f 31px,#01f 37px,#03f 43px,#02f 48px,#02f"></b><b style="--g:#02b,#02f 7px,#02f 31px,#00f 34px,#00e 37px,#00f 39px,#03f 44px,#03f"></b><b style="--g:#001,#001 30px,#02f 31px,#00e 34px,#00d 37px,#00f 40px,#03f 43px,#04f 46px,#04f"></b><b style="--g:#02e,#02f 7px,#02f 31px,#00f 34px,#00f 38px,#05f 43px,#07f 46px,#08f 51px,#08f"></b><b style="--g:#cf3,#af5 6px,#0ff 17px,#07f 24px,#05f 28px,#04f 32px,#04f 35px,#05f 37px,#0cf 42px,#0ff 45px,#3fc 51px,#3fc"></b><b style="--g:#510,#720 9px,#840 16px,#850 18px,#fc0 19px,#fe0 20px,#ef1 21px,#2fd 27px,#0ff 28px,#0ef 29px,#0bf 32px,#0df 35px,#0ff 37px,#af5 44px,#ff0 49px,#fd0 52px,#fd0"></b><b style="--g:#035,#046 2px,#08e 6px,#08f 7px,#08f 11px,#0af 20px,#0af 31px,#0bf 32px,#0ef 34px,#ef1 42px,#fe0 43px,#e90 46px,#f30 52px,#f30"></b><b style="--g:#001,#001 13px,#015 14px,#02f 15px,#03f 23px,#06f 29px,#09f 32px,#0ff 34px,#9f6 37px,#df2 39px,#ff0 40px,#fb0 42px,#d80 43px,#e60 45px,#f50 46px,#f00 50px,#d00 53px,#d00"></b><b style="--g:#012,#015 2px,#03e 6px,#03f 7px,#03f 15px,#05f 20px,#09f 24px,#0ff 28px,#6f9 31px,#ef1 34px,#fc0 36px,#c80 37px,#d40 42px,#f40 43px,#f10 47px,#c00 52px,#c00"></b><b style="--g:#200,#610 3px,#a10 28px,#b00 36px,#f00 37px,#c00 52px,#c00"></b><b style="--g:#520,#600 6px,#700 11px,#e00 12px,#700 13px,#e00 14px,#e00 22px,#800 23px,#e00 24px,#e00 31px,#b00 38px,#d00 47px,#c00"></b><b style="--g:#05f,#06f 2px,#09f 4px,#0df 6px,#1fe 7px,#df2 10px,#fd0 11px,#750 12px,#720 14px,#810 16px,#f10 17px,#f00 21px,#800 22px,#900 24px,#e00 25px,#e00 27px,#900 28px,#e00 29px,#e00 32px,#b00 37px,#e00 46px,#e00 49px,#c00 53px,#c00"></b><b style="--g:#03f,#04f 5px,#05f 8px,#07f 10px,#0df 12px,#2fd 13px,#cf3 15px,#fd0 16px,#fa0 17px,#f50 19px,#f10 22px,#f10 24px,#f00 27px,#900 28px,#f00 29px,#e00 32px,#a00 33px,#d00 34px,#d00 37px,#f00 40px,#f20 43px,#f30 45px,#e00 51px,#c00 53px,#c00"></b><b style="--g:#02f,#04f 7px,#07f 9px,#0cf 11px,#1fe 12px,#cf3 14px,#fd0 15px,#850 16px,#f70 17px,#f30 19px,#f10 23px,#f00 26px,#900 27px,#a00 29px,#f00 30px,#f00 32px,#a00 33px,#e00 34px,#f00 37px,#f40 41px,#f60 44px,#f40 47px,#f00 51px,#d00 53px,#c00"></b><b style="--g:#05f,#07f 6px,#0af 8px,#0df 10px,#1fe 11px,#ef1 14px,#fd0 15px,#850 16px,#820 19px,#910 22px,#a00 27px,#f10 28px,#f10 31px,#a00 32px,#b10 34px,#f10 35px,#f30 37px,#c30 38px,#d70 42px,#e80 44px,#f80 45px,#f60 47px,#f10 51px,#e00 52px,#d00 53px,#c00"></b><b style="--g:#0ff,#09f 9px,#0af 12px,#0ef 15px,#1fe 16px,#ef1 23px,#fe0 24px,#fb0 27px,#a70 28px,#b60 35px,#c80 37px,#fb0 38px,#fc0 40px,#fd0 42px,#fb0 44px,#ea0 45px,#f60 48px,#f00 52px,#e00 53px,#d00"></b><b style="--g:#199,#011 3px,#001 11px,#011 28px,#047 29px,#0af 30px,#0cf 32px,#0ff 33px,#6f9 36px,#af5 41px,#ef1 44px,#fe0 45px,#f90 48px,#f40 52px,#f30 54px,#f30"></b><b style="--g:#012,#015 2px,#03e 6px,#03f 7px,#02f 19px,#03f 31px,#06f 34px,#0ff 39px,#cf3 46px,#ff0 49px,#fd0 52px,#fd0"></b><b style="--g:#200,#620 3px,#630 4px,#c90 5px,#ce2 6px,#7f8 7px,#1fe 8px,#0cf 9px,#09f 10px,#06f 11px,#04f 14px,#03f 19px,#03f 29px,#03f 32px,#05f 35px,#0ff 42px,#4fb 46px,#5fa 48px,#5fa 50px,#3fc 53px,#3fc"></b><b style="--g:#320,#540 2px,#970 4px,#ec0 6px,#fe0 7px,#ff0 8px,#df2 9px,#5fa 12px,#165 13px,#022 14px,#011 15px,#011 19px,#025 20px,#06f 21px,#05f 26px,#05f 32px,#0df 42px,#0ef 46px,#0df 49px,#07f 53px,#07f"></b><b style="--g:#220,#750 3px,#640 4px,#650 8px,#fb0 9px,#ff0 12px,#5fa 17px,#0ff 22px,#0af 27px,#08f 31px,#08f 35px,#0bf 45px,#09f 49px,#03f 53px,#03f"></b><b style="--g:#bd1,#ae3 3px,#7f8 7px,#0ff 12px,#0ef 13px,#09f 17px,#05f 29px,#03f 37px,#05f 47px,#04f 50px,#02f 53px,#02f"></b><b style="--g:#04f,#04f 6px,#03f 16px,#02f 31px,#00f 34px,#00c 38px,#00c 41px,#00f 49px,#02f 53px,#02f"></b><b style="--g:#0ef,#07f 7px,#04f 11px,#03f 14px,#02f 31px,#00f 33px,#00a 37px,#007 41px,#007 44px,#009 46px,#00f 51px,#01f 52px,#02f 53px,#02f"></b><b style="--g:#530,#630 4px,#640 7px,#fb0 8px,#fe0 9px,#df2 10px,#3fc 12px,#0df 13px,#09f 14px,#07f 15px,#04f 17px,#03f 19px,#02f 31px,#00f 33px,#00a 38px,#007 41px,#008 46px,#00b 49px,#00e 51px,#01f 52px,#02f 53px,#02f"></b><b style="--g:#500,#500 3px,#e00 4px,#e00 7px,#600 8px,#700 11px,#710 13px,#840 15px,#fd0 16px,#cf3 17px,#5fa 19px,#2fd 20px,#0ef 21px,#0af 23px,#05f 26px,#02f 32px,#00f 35px,#00b 40px,#009 44px,#00a 48px,#00e 51px,#01f 52px,#02f 53px,#02f"></b><b style="--g:#ff0,#fb0 3px,#640 4px,#620 8px,#720 10px,#740 12px,#fb0 13px,#fe0 14px,#5fa 17px,#1fe 20px,#0ef 21px,#08f 25px,#05f 28px,#00f 37px,#00c 42px,#00b 45px,#00c 48px,#00f 51px,#01f 52px,#02f 53px,#02f"></b><b style="--g:#02f,#03f 11px,#03f 25px,#02f 32px,#00f 36px,#00d 41px,#00c 45px,#00d 48px,#00f 51px,#02f 53px,#02f"></b><b style="--g:#03d,#04f 7px,#02f 15px,#02f 31px,#00f 35px,#00c 39px,#00c 43px,#00c 47px,#00f 51px,#03f 53px,#03f"></b><b style="--g:#200,#620 3px,#640 7px,#fc0 8px,#ff0 9px,#bf4 10px,#0ef 12px,#0af 13px,#06f 14px,#04f 16px,#03f 18px,#02f 31px,#00f 34px,#00c 39px,#00c 43px,#00c 47px,#00f 50px,#04f 53px,#05f"></b><b style="--g:#220,#572 3px,#7c4 5px,#8e6 6px,#7f8 7px,#3fc 9px,#1fe 10px,#07f 13px,#027 14px,#015 15px,#013 17px,#014 19px,#016 20px,#017 21px,#03f 22px,#02f 31px,#00f 36px,#00c 45px,#00d 47px,#00e 49px,#00f 50px,#05f 53px,#07f"></b><b style="--g:#014,#026 2px,#04e 6px,#04f 7px,#02f 16px,#03f 32px,#00f 40px,#00d 46px,#00f 49px,#07f 53px,#08f 55px,#08f"></b><b style="--g:#0df,#0df 3px,#09f 8px,#05f 12px,#03f 15px,#04f 35px,#00f 46px,#01f 49px,#07f 53px,#08f 54px,#09f"></b><b style="--g:#ef1,#ef1 4px,#bf4 8px,#8f7 10px,#1fe 12px,#0cf 13px,#08f 15px,#06f 17px,#07f 23px,#06f 31px,#06f 36px,#03f 47px,#05f 50px,#09f 54px,#0af"></b><b style="--g:#fc0,#fd0 4px,#ff0 9px,#bf4 11px,#1fe 14px,#0df 15px,#0bf 17px,#0bf 22px,#09f 30px,#08f 41px,#09f 48px,#0df 55px,#0df"></b><b style="--g:#3fc,#cf3 5px,#ff0 8px,#ff0 10px,#ef1 11px,#2fd 16px,#1fe 18px,#0ff 24px,#0cf 29px,#0cf 32px,#0df 40px,#0ef 43px,#4fb 48px,#6f9 55px,#5fa"></b><b style="--g:#af5,#ef1 4px,#ff0 6px,#ef1 9px,#af4 12px,#352 13px,#122 15px,#033 17px,#066 18px,#1fe 19px,#0df 30px,#0ff 36px,#2fd 41px,#6f9 43px,#ff0 47px,#fd0 49px,#fc0 50px,#fd0 53px,#fd0 55px,#ff0 59px,#ef1"></b><b style="--g:#fb0,#fc0 3px,#ff0 5px,#4fb 10px,#0ff 12px,#0ef 13px,#0af 16px,#0af 19px,#0bf 25px,#0ff 34px,#3fc 39px,#5fa 41px,#7f8 42px,#df2 44px,#fe0 45px,#f80 47px,#f40 49px,#f40 50px,#f40 55px,#f90"></b><b style="--g:#022,#011 2px,#011 18px,#0af 19px,#0bf 23px,#0ff 28px,#2fd 32px,#4fb 40px,#7f8 42px,#ef1 44px,#fd0 45px,#e90 46px,#f30 48px,#f20 49px,#f10 51px,#f10 56px,#f60"></b><b style="--g:#4fb,#6f9 4px,#0ff 11px,#0df 16px,#0ff 22px,#4fb 28px,#5fa 31px,#4fb 40px,#6f9 42px,#cf3 44px,#fe0 45px,#ea0 46px,#f50 48px,#f20 50px,#f10 52px,#f10 54px,#f20 56px,#f60"></b><b style="--g:#011,#011 5px,#022 6px,#0af 7px,#08f 11px,#07f 17px,#0af 22px,#0ff 28px,#2fd 32px,#2fd 39px,#2fd 41px,#6f9 43px,#df2 45px,#fe0 46px,#f90 48px,#f70 49px,#f50 51px,#f50 55px,#fa0"></b><b style="--g:#022,#035 2px,#059 4px,#05e 6px,#05f 7px,#03f 13px,#04f 22px,#0df 40px,#0ff 42px,#cf3 47px,#ff0 49px,#ff0 56px,#cf3"></b><b style="--g:#09f,#05f 5px,#03f 8px,#02f 13px,#03f 22px,#05f 32px,#0bf 41px,#1fe 45px,#3fc 47px,#4fb 49px,#2fd 53px,#2fd 57px,#0ff"></b><b style="--g:#001,#001 2px,#03f 3px,#02f 18px,#04f 30px,#05f 33px,#0cf 44px,#0df 47px,#0bf 50px,#07f 53px,#07f"></b><b style="--g:#530,#fb0 2px,#fd0 3px,#df2 4px,#0ff 7px,#09f 9px,#08f 10px,#05f 12px,#04f 16px,#04f 22px,#05f 32px,#0bf 42px,#0cf 45px,#0bf 47px,#0af 49px,#03f 53px,#03f"></b><b style="--g:#520,#630 4px,#fb0 5px,#fe0 6px,#cf3 7px,#1fe 10px,#0ef 11px,#08f 14px,#07f 16px,#05f 19px,#04f 25px,#05f 32px,#0bf 42px,#0cf 45px,#0bf 47px,#09f 49px,#02f 53px,#02f"></b><b style="--g:#07f,#03f 9px,#03f 30px,#04f 35px,#09f 43px,#0af 46px,#09f 49px,#02f 53px,#02f"></b><b style="--g:#002,#001 2px,#001 9px,#016 11px,#02f 12px,#02f 31px,#01f 36px,#01f 38px,#06f 45px,#07f 47px,#05f 50px,#02f 53px,#02f"></b><b style="--g:#02f,#02f 31px,#00f 33px,#00d 38px,#00d 40px,#00f 44px,#03f 49px,#02f"></b><b style="--g:#07f,#04f 5px,#02f 8px,#02f 31px,#00f 33px,#00a 37px,#009 41px,#00a 45px,#00f 50px,#02f 53px,#02f"></b><b style="--g:#02f,#02f 31px,#01f 32px,#00e 33px,#00b 35px,#007 38px,#007 46px,#009 48px,#00e 51px,#01f 52px,#02f 53px,#02f"></b><b style="--g:#016,#019 2px,#02f 7px,#02f 31px,#01f 32px,#00e 33px,#008 36px,#007 37px,#007 48px,#00e 51px,#01f 52px,#03f 53px,#03f"></b><b style="--g:#004,#016 2px,#02e 6px,#02f 7px,#02f 31px,#01f 32px,#00e 33px,#007 36px,#007 47px,#009 48px,#00e 50px,#01f 51px,#05f 52px,#07f 53px,#06f"></b><b style="--g:#001,#001 3px,#003 4px,#02f 5px,#02f 31px,#01f 32px,#00d 33px,#007 36px,#007 44px,#009 45px,#00d 47px,#01f 48px,#0ef 52px,#1fe 53px,#0df"></b><b style="--g:#002,#015 2px,#02e 6px,#02f 7px,#02f 31px,#01f 32px,#00e 33px,#00a 35px,#008 38px,#009 40px,#00e 43px,#01f 44px,#0df 48px,#1fd 49px,#bf4 52px,#df2 53px,#9f6"></b><b style="--g:#03d,#02f 7px,#02f 31px,#01f 32px,#00f 33px,#00d 36px,#00e 38px,#00f 39px,#05f 41px,#0df 44px,#1fe 45px,#af5 48px,#ff0 50px,#f90 52px,#f80 53px,#fe0"></b><b style="--g:#520,#640 4px,#fb0 5px,#fe0 6px,#df2 7px,#3fc 10px,#1fe 11px,#0ef 12px,#07f 18px,#05f 21px,#03f 29px,#03f 34px,#04f 36px,#08f 38px,#0ef 40px,#2fd 41px,#af5 44px,#fe0 47px,#f50 52px,#f40 53px,#fb0"></b><b style="--g:#540,#630 6px,#850 16px,#fb0 17px,#fe0 19px,#ef1 20px,#1fe 26px,#0ef 27px,#0bf 30px,#0af 32px,#0ff 36px,#df2 41px,#ef1 42px,#fe0 43px,#f40 52px,#f40 53px,#fa0"></b><b style="--g:#02f,#04f 11px,#05f 13px,#0bf 17px,#0df 20px,#0df 30px,#0ef 32px,#1fe 33px,#5fa 35px,#ef1 39px,#fe0 40px,#fb0 42px,#d90 43px,#f80 47px,#f40 52px,#f40 53px,#fa0"></b><b style="--g:#02f,#02f 12px,#03f 15px,#06f 20px,#0ff 30px,#3fc 32px,#ef1 37px,#fe0 38px,#fb0 40px,#d80 41px,#d80 42px,#f90 43px,#f90 44px,#e80 45px,#f90 48px,#f60 53px,#fa0"></b><b style="--g:#09f,#06f 7px,#06f 10px,#08f 12px,#0ef 14px,#2fd 15px,#5fa 16px,#9f6 18px,#cf3 20px,#ff0 24px,#fb0 33px,#b80 34px,#c60 40px,#f70 41px,#f80 43px,#e90 44px,#fb0 45px,#fd0 48px,#fc0 50px,#f90 53px,#fa0"></b><b style="--g:#0df,#0ff 2px,#4fb 4px,#8f7 8px,#af5 9px,#fe0 11px,#fb0 12px,#730 13px,#820 15px,#810 19px,#b20 33px,#f30 34px,#f50 40px,#f70 42px,#ff0 46px,#df2 48px,#ef1 50px,#fe0 51px,#fb0 53px,#fa0 54px,#fa0"></b><b style="--g:#0ff,#6f9 4px,#af5 8px,#cf3 9px,#ef1 10px,#fc0 11px,#740 12px,#f50 13px,#f20 15px,#f10 17px,#800 18px,#f00 19px,#f00 27px,#a00 28px,#f00 29px,#f10 32px,#b10 33px,#f10 34px,#f20 36px,#f60 41px,#d70 42px,#d90 43px,#fc0 44px,#ff0 45px,#bf4 47px,#af5 48px,#bf4 49px,#ef1 51px,#fd0 52px,#fc0 53px,#fb0 55px,#fa0"></b><b style="--g:#121,#252 2px,#ae4 6px,#bf4 7px,#bf4 9px,#fe0 11px,#f70 13px,#f50 14px,#f10 17px,#810 18px,#f10 19px,#f10 26px,#910 27px,#a10 29px,#f20 30px,#f20 32px,#b20 33px,#b30 36px,#d80 41px,#fb0 42px,#ff0 44px,#af5 46px,#9f6 48px,#9f6 49px,#df2 51px,#fe0 52px,#fb0 53px,#fa0 55px,#fa0"></b><b style="--g:#520,#620 5px,#740 10px,#820 16px,#930 22px,#b70 32px,#fb0 33px,#ff0 40px,#9f6 45px,#8f7 47px,#9f6 49px,#ef1 51px,#fd0 52px,#fa0 53px,#fa0 54px,#f90"></b><b style="--g:#100,#111 14px,#274 17px,#4fb 18px,#0ff 21px,#0ef 22px,#0bf 27px,#0af 31px,#0ff 36px,#2fd 41px,#6f9 46px,#9f6 48px,#ef1 50px,#fd0 51px,#fa0 52px,#f80 53px,#f60 56px,#f60"></b><b style="--g:#07f,#03f 10px,#03f 33px,#07f 41px,#08f 42px,#0df 44px,#2fd 45px,#cf3 48px,#ff0 49px,#f60 52px,#f40 53px,#f30 56px,#f30"></b><b style="--g:#03f,#02f 10px,#03f 40px,#05f 42px,#08f 43px,#0cf 44px,#2fd 45px,#cf3 47px,#fe0 48px,#f80 50px,#f10 53px,#f00 56px,#f00"></b><b style="--g:#05f,#03f 10px,#04f 17px,#04f 31px,#06f 36px,#06f 40px,#07f 41px,#09f 42px,#0cf 43px,#2fd 44px,#cf3 46px,#fd0 47px,#f60 49px,#f10 52px,#f00 54px,#e00"></b><b style="--g:#015,#016 3px,#04f 4px,#05f 10px,#0af 18px,#0af 29px,#0df 35px,#0cf 40px,#0df 41px,#0ff 42px,#3fc 43px,#cf3 45px,#fd0 46px,#f90 47px,#f60 48px,#f30 50px,#f00 54px,#f00"></b><b style="--g:#5fa,#0ff 9px,#1fe 11px,#6f9 15px,#8f7 18px,#6f9 28px,#7f7 32px,#8f7 34px,#7f8 36px,#4fb 40px,#4fb 41px,#5fa 42px,#8f7 43px,#ff0 45px,#f80 47px,#f50 49px,#f50 53px,#f40 56px,#f30"></b><b style="--g:#04f,#0af 8px,#0ef 11px,#1fe 12px,#9f5 16px,#cf3 18px,#df2 21px,#ef1 28px,#ff0 32px,#cf3 36px,#8f7 40px,#7f8 41px,#9f6 43px,#fe0 46px,#fc0 48px,#fb0 49px,#ff0 53px,#fc0"></b><b style="--g:#0af,#09f 4px,#09f 7px,#0bf 9px,#0ef 11px,#1fe 12px,#9f6 15px,#df2 17px,#fe0 19px,#fc0 23px,#fb0 30px,#a70 31px,#fb0 32px,#ef1 36px,#9f6 41px,#9f6 48px,#7f8 50px,#2fd 53px,#6f9"></b><b style="--g:#02f,#03f 4px,#05f 7px,#08f 9px,#0ef 11px,#2fd 12px,#9f6 14px,#ff0 16px,#fb0 18px,#860 19px,#950 22px,#a50 28px,#b70 32px,#fb0 33px,#fe0 35px,#8f7 41px,#4fb 46px,#0ff 49px,#07f 53px,#0df"></b><b style="--g:#0cf,#0ff 6px,#5fa 10px,#cf3 15px,#ef1 17px,#ff0 19px,#ff0 25px,#ef1 31px,#8f7 36px,#3fc 43px,#0ff 46px,#0ef 47px,#0bf 49px,#05f 52px,#03f 53px,#04f 55px,#09f"></b><b style="--g:#022,#045 2px,#08c 5px,#09e 6px,#09f 7px,#06f 13px,#07f 24px,#09f 30px,#0ef 38px,#0ff 41px,#0ff 44px,#0df 47px,#09f 50px,#04f 53px,#04f 55px,#09f"></b><b style="--g:#02f,#02f 19px,#04f 31px,#05f 34px,#0df 41px,#0ff 44px,#0ef 48px,#0cf 50px,#08f 53px,#08f 55px,#0df"></b><b style="--g:#001,#001 8px,#003 9px,#02f 10px,#03f 23px,#05f 29px,#07f 32px,#0ff 37px,#6f9 41px,#8f7 45px,#7f8 49px,#3fc 53px,#7f8"></b><b style="--g:#011,#011 10px,#055 11px,#066 12px,#0ff 13px,#1fe 16px,#4fb 21px,#ff0 30px,#fb0 34px,#b80 35px,#c70 37px,#d70 42px,#e80 46px,#fa0 50px,#fd0 53px,#fb0"></b><b style="--g:#330,#770 3px,#c80 5px,#640 6px,#710 12px,#a00 31px,#a00 34px,#d00 35px,#d00 42px,#f00 49px,#f30 53px,#f20"></b><b style="--g:#200,#600 3px,#600 5px,#d00 6px,#e00 7px,#700 8px,#e00 9px,#e00 12px,#700 13px,#e00 14px,#e00 22px,#800 23px,#e00 24px,#e00 31px,#a00 37px,#900 41px,#900 45px,#d00 53px,#d00"></b><b style="--g:#200,#600 3px,#700 15px,#e00 16px,#e00 21px,#800 22px,#900 24px,#e00 25px,#e00 27px,#900 28px,#e00 29px,#e00 32px,#b00 36px,#a00 40px,#c00 50px,#c00"></b><b style="--g:#05c,#06c 2px,#08e 4px,#0df 6px,#2fd 7px,#bf4 10px,#ff0 12px,#fb0 15px,#850 16px,#920 23px,#920 24px,#f20 25px,#f10 27px,#a10 28px,#f10 29px,#f00 32px,#b00 33px,#f00 34px,#e00 38px,#f00 47px,#c00 53px,#c00"></b><b style="--g:#027,#04b 4px,#07f 7px,#0ef 13px,#0ff 14px,#2fd 15px,#df2 21px,#ff0 22px,#f70 27px,#f50 29px,#f30 32px,#b20 33px,#f30 34px,#f40 44px,#f30 47px,#e00 51px,#c00 53px,#c00"></b><b style="--g:#012,#025 2px,#039 4px,#07e 6px,#09f 7px,#0ff 10px,#ef1 16px,#fe0 17px,#fb0 19px,#850 20px,#940 24px,#f50 25px,#f30 31px,#a20 32px,#b20 34px,#f30 35px,#f40 44px,#f30 47px,#e00 51px,#c00 53px,#c00"></b><b style="--g:#001,#012 2px,#039 3px,#04b 4px,#07c 5px,#0be 6px,#1fe 7px,#cf3 9px,#fd0 10px,#740 11px,#720 13px,#810 16px,#800 19px,#f00 20px,#f00 22px,#900 23px,#f00 24px,#e00 35px,#f10 44px,#f00 48px,#c00 53px,#c00"></b><b style="--g:#510,#600 10px,#e00 11px,#700 12px,#700 14px,#e00 15px,#e00 21px,#800 22px,#800 24px,#e00 25px,#e00 27px,#900 28px,#e00 29px,#e00 32px,#c00 38px,#c00"></b><b style="--g:#a00,#e00 6px,#700 7px,#700 9px,#e00 10px,#e00 17px,#800 18px,#e00 19px,#f00 27px,#900 28px,#f00 29px,#e00 32px,#a00 33px,#e00 34px,#a00 47px,#a00 50px,#c00 53px,#c00"></b><b style="--g:#410,#620 2px,#950 22px,#c20 38px,#f10 39px,#f00 41px,#b00 48px,#b00 50px,#d00 53px,#d00"></b><b style="--g:#015,#027 2px,#04e 6px,#04f 7px,#05f 14px,#08f 22px,#0af 25px,#0ff 29px,#4fa 32px,#af5 34px,#ff0 36px,#fc0 38px,#c80 39px,#f10 47px,#f00 50px,#f30 53px,#f30"></b><b style="--g:#069,#04f 7px,#03f 13px,#04f 23px,#07f 31px,#09f 32px,#0df 34px,#1fe 35px,#af5 39px,#ef1 41px,#fe0 42px,#fc0 45px,#fa0 49px,#fb0 51px,#fd0 53px,#fd0"></b><b style="--g:#09d,#06f 6px,#04f 9px,#04f 22px,#05f 25px,#08f 31px,#09f 32px,#0ff 35px,#6f8 39px,#af5 43px,#9f6 45px,#7f8 50px,#3fc 53px,#3fc"></b><b style="--g:#03f,#03f 2px,#014 3px,#002 4px,#001 5px,#001 6px,#014 7px,#04f 8px,#08f 23px,#0af 25px,#0ff 28px,#4fb 32px,#8f7 35px,#af5 39px,#af5 41px,#8f7 43px,#1fe 48px,#0ef 49px,#07f 53px,#07f"></b><b style="--g:#06f,#0bf 8px,#0ef 11px,#1fe 12px,#6f9 16px,#7f8 18px,#8f7 22px,#9f6 23px,#ff0 26px,#fb0 28px,#a60 29px,#a60 31px,#b60 34px,#c80 37px,#fb0 38px,#fe0 41px,#cf3 43px,#2fd 47px,#0ef 48px,#03f 53px,#03f"></b><b style="--g:#200,#500 3px,#800 16px,#920 23px,#a10 28px,#f10 29px,#f10 31px,#a10 32px,#b10 34px,#f20 35px,#f30 37px,#c30 38px,#c60 40px,#d80 41px,#fb0 42px,#fe0 43px,#df2 44px,#0ff 48px,#02f 53px,#02f"></b><b style="--g:#100,#100 3px,#600 5px,#800 17px,#910 25px,#f10 26px,#f10 35px,#f20 37px,#f60 40px,#d60 41px,#d90 42px,#fd0 43px,#ef1 44px,#1fe 48px,#02f 53px,#02f"></b><b style="--g:#1fe,#3fc 4px,#1fe 9px,#1fe 11px,#af5 21px,#ff0 24px,#fc0 25px,#960 26px,#a30 29px,#b20 32px,#b30 35px,#c50 38px,#c80 40px,#fb0 41px,#fd0 42px,#ef1 43px,#0ff 48px,#04f 52px,#02f 53px,#02f"></b><b style="--g:#07f,#04f 7px,#03f 10px,#04f 14px,#08f 20px,#0bf 22px,#0ff 24px,#af5 27px,#ff0 29px,#fd0 30px,#fb0 32px,#fb0 33px,#fc0 36px,#ff0 39px,#9f6 43px,#1fe 47px,#0bf 49px,#02f 53px,#02f"></b><b style="--g:#0ac,#0be 4px,#07f 9px,#07f 12px,#0af 20px,#0ef 25px,#0ff 26px,#7f8 31px,#7f8 33px,#6f9 39px,#4fb 42px,#1fe 45px,#0ff 46px,#0cf 48px,#02f 53px,#02f"></b><b style="--g:#0ae,#05f 10px,#05f 20px,#06f 28px,#0bf 38px,#0cf 43px,#09f 48px,#02f 53px,#03f"></b><b style="--g:#03d,#02f 8px,#016 9px,#02f 10px,#02f 35px,#06f 46px,#06f 49px,#03f 53px,#04f"></b><b style="--g:#05f,#02f 8px,#02f 31px,#00f 35px,#00f 40px,#05f 50px,#08f"></b><b style="--g:#02f,#03f 19px,#02f 31px,#00f 34px,#00e 39px,#00f 43px,#05f 48px,#0ef 54px,#3fc"></b><b style="--g:#02b,#02f 7px,#03f 12px,#05f 20px,#02f 32px,#00f 36px,#00e 40px,#00f 43px,#02f 45px,#04f 47px,#07f 48px,#0df 50px,#1fe 51px,#8f7 53px,#cf3 55px,#ff0 58px,#fe0"></b><b style="--g:#02e,#02f 13px,#04f 22px,#02f 32px,#00f 36px,#00e 40px,#00f 42px,#01f 44px,#04f 46px,#08f 48px,#0cf 49px,#1fe 50px,#ff0 53px,#fc0 54px,#f80 56px,#f40"></b><b style="--g:#002,#015 2px,#02e 6px,#02f 7px,#02f 14px,#04f 22px,#02f 32px,#00f 36px,#00f 42px,#01f 44px,#04f 46px,#09f 48px,#0df 49px,#2fd 50px,#df2 52px,#fc0 53px,#f80 54px,#f60 55px,#f30 57px,#f00"></b><b style="--g:#039,#04f 7px,#03f 11px,#06f 17px,#07f 20px,#06f 22px,#03f 27px,#02f 32px,#00f 35px,#00d 40px,#00d 42px,#00e 44px,#00f 45px,#04f 47px,#07f 48px,#0bf 49px,#1fe 50px,#df2 52px,#fb0 53px,#f80 54px,#f50 55px,#f10 58px,#e00"></b><b style="--g:#022,#011 3px,#047 5px,#09e 6px,#08f 7px,#06f 10px,#08f 16px,#07f 18px,#03f 26px,#02f 32px,#00f 34px,#00b 39px,#009 42px,#00b 44px,#00d 46px,#01f 47px,#04f 48px,#09f 49px,#0ef 50px,#df2 52px,#fc0 53px,#f80 54px,#f50 55px,#f00 59px,#e00"></b><b style="--g:#001,#001 6px,#003 7px,#02f 8px,#02f 20px,#016 21px,#001 23px,#001 29px,#02f 30px,#00e 34px,#007 40px,#008 45px,#00c 47px,#01f 48px,#06f 49px,#0cf 50px,#4fb 51px,#bf4 52px,#fd0 53px,#f90 54px,#f40 56px,#f10 59px,#f00"></b><b style="--g:#002,#015 2px,#02e 6px,#02f 7px,#02f 31px,#01f 33px,#00d 36px,#008 40px,#007 41px,#007 45px,#009 46px,#00b 47px,#00f 48px,#05f 49px,#0bf 50px,#3fc 51px,#af5 52px,#fe0 53px,#fb0 54px,#f60 56px,#f10 59px,#f00"></b><b style="--g:#015,#017 2px,#02e 6px,#02f 7px,#02f 16px,#017 17px,#02f 18px,#03f 34px,#01f 37px,#00e 38px,#009 41px,#008 43px,#009 45px,#00d 47px,#01f 48px,#0bf 50px,#3fc 51px,#9f6 52px,#ff0 53px,#f70 56px,#f10 59px,#f00"></b><b style="--g:#0aa,#06f 7px,#04f 11px,#04f 18px,#05f 23px,#0af 29px,#0cf 34px,#0af 36px,#01f 40px,#00e 41px,#00d 43px,#00e 45px,#00f 46px,#05f 48px,#0df 50px,#4fb 51px,#ef1 53px,#f90 55px,#f50 57px,#f20 59px,#f00"></b><b style="--g:#03f,#04f 10px,#05f 15px,#09f 22px,#0bf 23px,#0ff 25px,#8f7 28px,#9f6 29px,#af5 31px,#af5 34px,#8f7 35px,#2fd 37px,#0df 38px,#07f 40px,#05f 41px,#03f 43px,#05f 46px,#08f 48px,#0cf 49px,#0ff 50px,#ef1 53px,#fd0 54px,#f80 56px,#f40 58px,#f00"></b><b style="--g:#02f,#03f 10px,#05f 14px,#0af 20px,#0ff 23px,#2fd 24px,#bf4 27px,#ef1 28px,#fe0 29px,#fd0 32px,#ef1 35px,#cf3 36px,#1fe 39px,#0af 41px,#08f 43px,#09f 46px,#0bf 48px,#0df 49px,#1fe 50px,#ef1 54px,#f40 59px,#f20"></b><b style="--g:#028,#06f 7px,#037 8px,#07f 9px,#08f 10px,#035 11px,#023 12px,#034 14px,#044 15px,#176 16px,#3fc 17px,#ef1 24px,#fe0 25px,#fb0 27px,#a60 28px,#a60 30px,#b70 33px,#fb0 34px,#ff0 36px,#5fa 39px,#0ff 41px,#0df 43px,#0cf 46px,#0cf 48px,#0ff 50px,#5fa 53px,#ef1 56px,#fd0 57px,#f70 59px,#f50"></b><b style="--g:#011,#110 9px,#550 10px,#fd0 11px,#fa0 13px,#750 14px,#830 19px,#a30 27px,#f50 28px,#f60 31px,#f80 33px,#b80 34px,#fc0 35px,#ff0 36px,#5fa 41px,#0ff 44px,#0cf 48px,#0bf 50px,#0bf 52px,#0cf 53px,#0ef 54px,#2fd 55px,#ef1 58px,#fd0 59px,#fa0"></b><b style="--g:#111,#110 8px,#fc0 9px,#fb0 10px,#740 11px,#820 18px,#f40 19px,#f50 28px,#a30 29px,#a40 31px,#b70 33px,#fc0 34px,#fe0 35px,#ef1 36px,#0ff 45px,#0af 48px,#06f 52px,#06f 53px,#08f 54px,#0ff 56px,#df2 59px,#fd0"></b><b style="--g:#03f,#04f 4px,#06f 6px,#0af 8px,#0ff 10px,#cf3 14px,#ff0 15px,#fd0 16px,#fb0 18px,#860 19px,#950 22px,#a70 28px,#fb0 29px,#fd0 32px,#ef1 33px,#9f6 36px,#5f9 41px,#1fe 44px,#0ef 45px,#08f 49px,#04f 52px,#04f 53px,#05f 54px,#08f 55px,#0df 56px,#2fd 57px,#cf3 59px,#fe0"></b><b style="--g:#3c9,#af5 7px,#df2 12px,#ef1 16px,#cf3 21px,#5fa 31px,#1fd 35px,#2fd 41px,#0ff 43px,#08f 48px,#03f 52px,#03f 53px,#05f 54px,#0cf 56px,#2fd 57px,#bf4 59px,#ff0"></b><b style="--g:#200,#600 3px,#600 7px,#730 11px,#740 12px,#fb0 13px,#fe0 14px,#df2 15px,#3fc 19px,#1fe 20px,#0ef 21px,#09f 25px,#07f 31px,#07f 35px,#0bf 42px,#03f 52px,#04f 53px,#05f 54px,#0cf 56px,#2fd 57px,#bf4 59px,#ef1"></b><b style="--g:#530,#630 2px,#b80 3px,#cb0 4px,#cd1 5px,#7f8 7px,#0ff 9px,#08f 12px,#05f 16px,#03f 21px,#02f 35px,#02f 37px,#04f 43px,#04f 48px,#04f 52px,#06f 54px,#0cf 56px,#1fe 57px,#9f6 59px,#cf3"></b><b style="--g:#02f,#02f 31px,#00f 34px,#00d 38px,#00f 44px,#02f 48px,#06f 53px,#0af 55px,#1fe 57px,#7f8 59px,#9f6"></b><b style="--g:#01a,#02f 7px,#02f 31px,#00f 33px,#00d 36px,#00c 39px,#00c 42px,#00f 47px,#09f 54px,#0ff 57px,#5fa 59px,#7f8"></b><b style="--g:#012,#015 2px,#03e 6px,#03f 7px,#02f 31px,#01f 33px,#00f 34px,#00c 39px,#00d 43px,#00f 46px,#03f 49px,#08f 53px,#0ff 57px,#4fb 59px,#6f9"></b><b style="--g:#004,#016 2px,#02e 6px,#02f 7px,#02f 31px,#00f 35px,#00e 39px,#00f 43px,#03f 48px,#08f 53px,#0ff 57px,#4fb 59px,#6f9"></b><b style="--g:#02f,#02f 31px,#01f 35px,#01f 39px,#04f 47px,#07f 52px,#09f 54px,#0ff 57px,#4fb 59px,#6f9"></b><b style="--g:#02f,#02f 38px,#05f 48px,#07f 52px,#09f 54px,#0ff 57px,#4fb 59px,#6f9"></b></div>
<div class="rw" style="top:60.1px">
<i style="--g:#0051ff 1.0px,#003cff 9.0px,#004aff,#006eff,#007bff,#0073ff,#005bff,#005bff,#23d2dc,#ff8e00,#f30000 26.9px,#da0000 30.9px,#de0000,#ff6a00,#44fbbb,#00b3ff,#00a1ff 40.9px,#002eff 44.9px,#0028ff 46.9px,#004eff 50.9px,#004eff 52.9px,#0034ff 56.9px,#0025ff 62.8px,#0025ff 68.8px,#004cff,#4cf4b3,#ffca00,#ff9400,#ff3a00,#e00000,#d40000 82.8px,#f50200 88.8px,#ff9500 92.8px,#ffca00,#4cf4b3,#004cff,#002cff 100.8px,#0083ff 104.7px,#0083ff 106.7px,#002bff 110.7px,#0026ff 112.7px,#003aff 116.7px,#0070ff,#a0eb5f,#ff2b00,#db0000,#d10000 126.7px,#d20000 130.7px,#f11700,#98ee67,#005aff,#0025ff 138.7px,#002dff 144.6px,#00a2ff 148.6px,#00c9ff,#85ff7a,#ffbf00,#ffc800,#4cf4b2,#004cff,#0025ff,#0024ff,#0025ff,#004aff,#40eebe,#fce602,#ffc200 174.6px,#ffa500 180.6px,#fe0a00 184.5px,#ff2600,#bce643,#00d2ff,#00d5ff,#c2d83c,#f00f00,#d20000 198.5px,#d10000 202.5px,#db0000,#ff8600,#18bfe6,#002fff,#002aff 212.5px,#0044ff 216.5px,#1cc8e2,#ff9000,#f00000,#e60000 224.4px,#ec0000 228.4px,#fe1a00,#ff8500 232.4px,#fede02 236.4px,#b7ff48,#8dff72,#8bff74 242.4px"></i>
<i style="--g:#0090ff 1.0px,#0083ff 5.0px,#0066ff,#005aff,#005aff 11.0px,#006aff 17.0px,#0097ff 20.9px,#38eec6,#ff7e00,#ef0000 26.9px,#de0000 30.9px,#e40000,#ff6800,#55ffaa,#00d2ff,#00bdff 40.9px,#0030ff 44.9px,#002cff 46.9px,#0087ff 50.9px,#0087ff 52.9px,#002cff 56.9px,#0025ff 58.9px,#0026ff 68.8px,#004fff,#56faa8,#ffac00,#ff7600,#ff2a00,#de0000,#d20000 82.8px,#e80000 88.8px,#ff2f00,#ff7700,#ffac00,#56f9a8,#004eff,#0029ff 100.8px,#005aff 104.7px,#005aff 106.7px,#0028ff 110.7px,#0028ff 112.7px,#0058ff 116.7px,#008eff,#aae654,#ff2800,#da0000,#d10000 126.7px,#d20000 130.7px,#f11700,#98ee67,#005aff,#0025ff 138.7px,#0024ff 142.6px,#0030ff 144.6px,#00beff 148.6px,#00ddff,#57ffa8,#ceff30,#c3ff3c,#24dedb,#0043ff,#0024ff 162.6px,#0024ff 166.6px,#0047ff,#36e8c8,#eff710,#ffe100 174.6px,#ffa800 180.6px,#ff2400 184.5px,#ff3e00,#c2e93c,#05ecfa,#09ecf6,#ced230,#ef0d00,#d20000 198.5px,#d10000 202.5px,#db0000,#ff8600,#18bfe6,#002fff,#0030ff 212.5px,#0063ff 216.5px,#28d6d6,#ff8200,#e60000 222.5px,#de0000 228.4px,#f80b00,#ff5c00 232.4px,#ffb200 236.4px,#dfff20,#b2ff4c,#b0ff4e 242.4px"></i>
<i style="--g:#00d0ff 1.0px,#00cfff,#00bcff,#0090ff 7.0px,#0070ff 11.0px,#0051ff,#0047ff,#0064ff,#00b0ff,#00d6ff,#56ffa9,#ff7500,#f60000 26.9px,#f60200 32.9px,#ff7200,#64ff9a,#00eaff,#00d6ff 40.9px,#0032ff 44.9px,#0030ff 46.9px,#00bdff 50.9px,#00bdff 52.9px,#0030ff 56.9px,#0024ff 58.9px,#0025ff 64.8px,#0031ff 68.8px,#005cff,#64ff9b,#ff9200 74.8px,#ff1d00 78.8px,#dc0000,#d20000 82.8px,#e00000 88.8px,#ff1f00 90.8px,#ff9300 94.8px,#5ffea0,#0050ff,#0027ff 100.8px,#003fff 104.7px,#003fff 106.7px,#0026ff 110.7px,#002bff 112.7px,#00baff 118.7px,#badd45,#ff2200,#da0000,#d10000 126.7px,#d20000 130.7px,#f11700,#98ef68,#0059ff,#0023ff 138.7px,#0022ff 142.6px,#002fff 144.6px,#00d4ff 148.6px,#00eaff,#24ffdb,#5cffa3,#4effb0,#02c0fd,#0038ff,#0022ff 162.6px,#0022ff 166.6px,#0043ff,#2be2d4,#d9ff26,#fbfc04 174.6px,#ffc100 178.6px,#ffb300 180.6px,#ff4b00 184.5px,#ff6200,#c5f139,#11fbee,#18fce7,#d9cd26,#ef0b00,#d20000 198.5px,#d10000 202.5px,#db0000,#ff8600,#18bfe6,#0030ff,#0038ff,#0066ff,#0082ff,#34e5cb,#ff7600,#df0000 222.5px,#d80000 228.4px,#f20400,#ff4300 232.4px,#ff9300 236.4px,#f2f40c,#d0ff2e,#ceff32 242.4px"></i>
<i style="--g:#00f8ff 1.0px,#00f7ff,#00e4ff,#00b5ff 7.0px,#008dff 11.0px,#0062ff,#0052ff,#0076ff,#00d1ff,#02fafc,#6bff94,#ff8c00,#ff2100,#ff2200 28.9px,#ff4400 32.9px,#ffae00,#4affb4,#00deff,#00cbff 40.9px,#0031ff 44.9px,#0031ff 46.9px,#00c6ff 50.9px,#00c6ff 52.9px,#0030ff 56.9px,#0024ff 58.9px,#0029ff 64.8px,#006aff 68.8px,#0096ff,#86ff79,#ff8a00 74.8px,#ff1c00 78.8px,#de0000 80.8px,#d20000 86.8px,#dc0000,#ff1b00 90.8px,#ff9000 94.8px,#60fe9e,#0050ff,#0026ff 100.8px,#003bff 104.7px,#0026ff 110.7px,#0032ff 112.7px,#01dafe 116.7px,#1cf5e3,#d8cc26,#ff1600,#d90000,#d10000 126.7px,#d20000 130.7px,#f21800,#94f16b,#0050ff,#0018ff 138.7px,#0018ff 142.6px,#0025ff 144.6px,#00c0ff 148.6px,#0af9f4 154.6px,#05f2fa 156.6px,#0029ff 160.6px,#0018ff 162.6px,#0018ff 166.6px,#0038ff,#1fd9e0,#baff45,#ddff22 174.6px,#ffed00 178.6px,#ffe300 180.6px,#ff9500 184.5px,#ffa800,#b7ff48,#1affe5,#27ffd8,#dfca20,#f00b00,#d50000 198.5px,#d10000 202.5px,#db0000,#ff8600,#18bfe6,#0030ff,#003cff,#0075ff,#0095ff,#3beec4,#ff6e00,#db0000 222.5px,#d40000 228.4px,#f00000,#ff3400,#ff5200,#ff8100,#fceb03,#e2ff1c,#e0ff1f 242.4px"></i>
<i style="--g:#04fffb 1.0px,#00f4ff 5.0px,#00d3ff 7.0px,#00b5ff 11.0px,#0094ff,#0088ff,#00a2ff,#00e6ff,#08fff8,#60ff9e,#fec601,#ff7200,#ff8200,#ffb600,#ffd100,#caf534,#16e8e8,#00a7ff,#0099ff 40.9px,#002dff 44.9px,#002dff 46.9px,#0098ff 50.9px,#0098ff 52.9px,#002dff 56.9px,#0024ff 58.9px,#0024ff 62.8px,#0032ff 64.8px,#01d8fe 68.8px,#12f2ee,#b6ff49,#ff9600,#ff6e00,#ff2a00,#e60000 80.8px,#d20000 86.8px,#dd0000,#ff2600,#ff6e00,#ffa400,#59fba6,#004fff,#0028ff 100.8px,#0050ff 104.7px,#0050ff 106.7px,#0028ff 110.7px,#003cff,#08c8f6,#67ff98,#9dff62,#fea702,#ff0400,#d60000,#d10000 126.7px,#d20000 130.7px,#f21900,#8ef471,#003eff,#0006ff 138.7px,#000eff 144.6px,#007aff 148.6px,#0089ff 150.6px,#00cfff 154.6px,#00c6ff 156.6px,#0014ff 160.6px,#0005ff 162.6px,#0006ff 166.6px,#0024ff,#11cdee,#9aff64,#b9ff46 174.6px,#c2ff3d 180.6px,#e9f516 184.5px,#e2fa1d 186.5px,#16ffe8 190.5px,#2bffd4,#e0cb1f,#f30d00,#da0000 198.5px,#d20000 202.5px,#dc0000,#ff8600,#18bfe6,#0030ff,#003eff,#0079ff,#009aff,#3df0c2,#ff6c00,#da0000 222.5px,#d30000 228.4px,#ee0000,#ff3100,#ff4e00,#ff7c00,#fee801,#e8ff17,#e4ff1a 242.4px"></i>
<i style="--g:#0afff6 1.0px,#02fdfc 5.0px,#00c4ff 15.0px,#00d2ff,#00f3ff,#06fff9,#4affb4,#e5f51a,#ffcd00,#f8e606,#bbff44,#93ff6b,#4dffb1,#00a7ff,#0063ff,#005aff 40.9px,#0027ff 44.9px,#0027ff 46.9px,#005aff 50.9px,#005aff 52.9px,#0027ff 56.9px,#0023ff 58.9px,#0024ff 62.8px,#003bff,#04c3fc,#54ffaa,#7cff82,#e0f71e,#ffaa00,#ff8c00 76.8px,#f20000 80.8px,#e50000 82.8px,#d70000 86.8px,#e40000,#ff3a00,#ff9000,#ffc600,#4df4b2,#004dff,#002aff 100.8px,#006dff 104.7px,#006dff 106.7px,#002aff 110.7px,#0048ff,#38e9c6,#ecee12,#ffcb00,#ff5800,#f10000,#d40000 124.7px,#d10000 128.7px,#d20000,#f21a00,#87f878,#002aff,#0000f0 138.7px,#0000f4 144.6px,#002aff 148.6px,#0037ff 150.6px,#00aaff 154.6px,#00a6ff 156.6px,#0005fb 160.6px,#0000f0 166.6px,#0010fc,#03befc,#76ff88,#8fff6f 174.6px,#5dffa1 178.6px,#5bffa3 180.6px,#72ff8c 184.5px,#6cff92 186.5px,#09fff6 190.5px,#26ffd9,#dcd023,#fa1400,#e80000 198.5px,#d80000 202.5px,#e20000,#ff8b00,#18bfe8,#0030ff,#003eff,#007aff,#009aff,#3df0c2,#ff6e00,#dc0000 222.5px,#d50000 228.4px,#f00000,#ff3400,#ff5100,#ff7f00,#fdea02,#e6ff18,#e3ff1b 242.4px"></i>
<i style="--g:#23ffdc 1.0px,#22ffdc 3.0px,#01f9fe 7.0px,#00d7ff 15.0px,#00f8fe 20.9px,#2fffcf,#b4ff4b,#e7ff18,#bfff3f,#57ffa7,#29ffd6,#07e7f8,#0064ff,#002dff 38.9px,#001bff 44.9px,#0028ff 52.9px,#001aff 58.9px,#0024ff 62.8px,#0041ff,#1bdae4,#a8ff56,#ceff30,#f9f206,#ffc200,#ffad00 76.8px,#ff1a00 80.8px,#f20000 86.8px,#fa0600 88.8px,#ffc800 92.8px,#f4f10a,#3aeac4,#0048ff,#002bff 100.8px,#0076ff 104.7px,#0076ff 106.7px,#002bff 110.7px,#0050ff,#61fd9e,#ff9100 116.7px,#fe1c00 120.7px,#e20000,#d30000 124.7px,#d50000 130.7px,#f41c00,#82fb7d,#0022fa,#0000e1 138.7px,#0000e2 144.6px,#0008fd 150.6px,#0052ff,#009eff,#009eff 156.6px,#0008fd 160.6px,#0000e2 166.6px,#0006f4,#009cff,#3dffc2,#51ffae 174.6px,#0cf6f2 178.6px,#0cf4f2 186.5px,#00e0ff 190.5px,#0df4f2,#c8e737,#ff4000,#ff1a00 198.5px,#f70800 202.5px,#fb0b00,#fea602,#11bcee,#002fff,#003eff,#007aff,#009aff,#3af0c4,#ff7900,#ea0000 222.5px,#e30000 228.4px,#f80800,#ff4900 232.4px,#ff9400 236.4px,#f6f208,#daff25,#d8ff28 242.4px"></i>
<i style="--g:#5cffa2 1.0px,#5affa4,#3effc1,#03f3fc,#00d9ff 9.0px,#00acff 15.0px,#00dbff 20.9px,#15faea,#8aff74,#baff44,#95ff69,#33ffcc,#07fff8,#00ccff,#0044ff,#000cff,#0009ff 40.9px,#000aff 58.9px,#0022ff 62.8px,#0043ff,#24dedb,#c3ff3c,#e6ff18,#fcf803 72.8px,#ffd000 76.8px,#ff6500 80.8px,#ff2d00 86.8px,#ff3b00,#ffac00,#defe20,#b0ff4f,#1ddbe2,#0042ff,#0029ff 100.8px,#0062ff 104.7px,#0062ff 106.7px,#002aff 110.7px,#0055ff,#7dff82,#ff5900,#ff2300,#f70500,#db0000 122.7px,#d20000 126.7px,#d90000 130.7px,#f61e00,#80fe7f,#0020f8,#0000dd 138.7px,#0000dc 142.6px,#0009fe 150.6px,#00b2ff 154.6px,#00b4ff 156.6px,#002fff 160.6px,#0006fa 164.6px,#0000e1,#0000f0,#006aff,#03e2fc,#07ecf8 174.6px,#00b5ff 178.6px,#00aeff 186.5px,#0094ff 190.5px,#00b4ff,#86ff78,#ffa700,#ff8200 198.5px,#ff5400 202.5px,#ff5900,#e6ce19,#04b7fc,#002eff,#003eff,#007aff,#009aff,#35eeca,#ff9000,#fe0b00 222.5px,#fc0600 228.4px,#ff2500,#ff7700 232.4px,#ffc100 236.4px,#e4fe1b,#c0ff3f,#beff40 242.4px"></i>
<i style="--g:#9eff60 1.0px,#9bff63,#69ff95,#04eafa,#00baff,#00a6ff,#007cff,#006cff,#007cff,#00a5ff,#00b9ff,#04e9fb,#68ff96,#98ff66,#79ff85,#26ffd9,#02fdfc,#00c2ff,#0031ff,#0000f5 38.9px,#0000f5 58.9px,#0021ff 62.8px,#0044ff,#25deda,#c5ff3a,#e7ff17 70.8px,#fff800 74.8px,#fff100 76.8px,#ffb900 80.8px,#ffb000 82.8px,#ff7200 86.8px,#ff8200,#e8e916,#80ff7e,#55ffaa,#02c4fd,#003aff,#0026ff 100.8px,#0043ff 104.7px,#0043ff 106.7px,#0028ff 110.7px,#0057ff,#8dfe72,#ff3a00,#fe0600 118.7px,#d80000 122.7px,#d20000 124.7px,#e00000 130.7px,#fa2200,#7efe81,#001ff8,#0000dc 138.7px,#0000de 144.6px,#0000f4 146.6px,#001bff 150.6px,#00d1ff 154.6px,#00d6ff 156.6px,#0062ff 160.6px,#004fff,#001aff,#0000e4,#0000e8,#0036ff,#0083ff,#008dff 174.6px,#006eff 178.6px,#0067ff 186.5px,#003eff 190.5px,#0059ff,#30eace,#d7fb28 196.5px,#fed901 200.5px,#ffb800,#ffba00,#c3f73c,#00a4ff,#002dff,#003eff,#007bff,#009cff,#2fecd0,#ffac00,#ff2e00 222.5px,#ff2700 228.4px,#ff4e00,#ffad00,#ffd600,#faf204,#beff41,#a0ff5f,#9eff60 242.4px"></i>
<i style="--g:#d0ff2f 1.0px,#ccff33,#8cff72,#08e6f6,#00adff,#0090ff,#0053ff,#003cff,#0050ff,#0086ff,#00a0ff,#00d1ff,#48ffb6,#76ff88,#5affa4,#11fcee,#00eaff,#00acff,#001efd,#0000df 38.9px,#0000e6 58.9px,#0006fc 60.8px,#0043ff 64.8px,#25deda,#c5ff3a,#e6ff18 70.8px,#fffa00 74.8px,#ffe100 82.8px,#ffad00 86.8px,#ffbe00,#bcff42,#39ffc6,#13feec,#009fff,#002fff,#001cff 100.8px,#0025ff 110.7px,#0059ff,#93f96c,#fe2600,#ee0000 118.7px,#d40000 124.7px,#d50000 126.7px,#ee0000 130.7px,#ff2a00,#7afb85,#001ef7,#0000dc,#0000db 140.7px,#0000df 144.6px,#0001f7 146.6px,#0025ff 150.6px,#00e9ff 154.6px,#00f0ff 156.6px,#007fff 160.6px,#006cff,#0029ff,#0000e6,#0000e2,#000efd,#0036ff 172.6px,#0044ff 178.6px,#0034ff 186.5px,#0004f8 190.5px,#0016fc,#04b7fb,#64ff9a,#88ff76 198.5px,#eefd10 202.5px,#f0fd0f,#8cff72,#0090ff,#002cff,#0040ff,#0083ff,#00a6ff,#2eefd1,#ffbe00,#ff4800 222.5px,#ff3800 228.4px,#ff6300,#ffcc00,#fff900,#e4ff1b,#9bff63,#7dff81,#7cff82 242.4px"></i>
<i style="--g:#e2ff1c 1.0px,#deff20,#9eff60,#11efee,#00beff,#0099ff,#0049ff,#002aff,#0040ff,#007bff,#0096ff,#00c2ff,#2affd5,#51ffad,#32ffcd,#00dcff,#00b6ff,#007fff,#000ef1,#0000ca 38.9px,#0000c8 46.9px,#0000da 50.9px,#0000e1 58.9px,#0006fa 60.8px,#0043ff 64.8px,#25deda,#c5ff3a,#eaff14,#fef402,#ffd600 74.8px,#ffd300 86.8px,#ffe700,#9aff65,#1dffe2,#02f4fd 94.8px,#001dff 98.8px,#000cff 100.8px,#000eff 106.7px,#0024ff 110.7px,#0059ff,#94f66a,#fc2000,#e60000 118.7px,#da0000 122.7px,#db0000 126.7px,#fe0800 130.7px,#ff4200,#71f78e,#001df7,#0000dc 138.7px,#0000db 142.6px,#0000de,#0000f2 146.6px,#001cff 150.6px,#00f1ff 154.6px,#00f8ff 156.6px,#0076ff 160.6px,#0062ff,#0024ff,#0000e6,#0000df,#0000f4 170.6px,#0013ff 174.6px,#0048ff 178.6px,#0049ff 180.6px,#0022ff 186.5px,#0007fb,#0000e4,#0002f2,#0075ff,#09eef6,#1cfce2 198.5px,#b9ff46 202.5px,#c0ff3e,#65ff9a,#0084ff,#002cff,#0046ff,#0097ff,#00bfff,#35faca,#ffc000,#ff5100 222.5px,#ff3000 226.4px,#ff2c00,#ff5700,#ffc400,#fff300,#e1ff1e,#80ff7e,#59ffa6,#56ffa8 242.4px"></i>
<i style="--g:#e7ff17 1.0px,#e3ff1b,#aaff54,#20fcdf,#00e0ff,#00b6ff,#0054ff,#002eff,#0043ff,#007eff 19.0px,#00baff 22.9px,#10fdef,#2dffd2,#0ef7f2,#00a0ff 30.9px,#0048ff 34.9px,#0000e1,#0000b7 38.9px,#0000b4 44.9px,#0000b6 46.9px,#0000d8 50.9px,#0000e0 58.9px,#0006fa 60.8px,#0043ff 64.8px,#24deda,#c4ff3a,#edff12,#ffd800,#ff9f00 74.8px,#ff9600 80.8px,#ff9c00 82.8px,#ffee00 86.8px,#f4fc0a 88.8px,#17ffe8 92.8px,#00f0ff 94.8px,#000bfd 98.8px,#0000f6 100.8px,#0000f8 106.7px,#0021ff 110.7px,#0059ff,#94f76b,#fd2100,#e90000 118.7px,#e40000 126.7px,#fc0800,#ff2600,#ff6000,#66f198,#001bf6,#0000dc 138.7px,#0000db 142.6px,#0000f4 148.6px,#000bfd 150.6px,#00f0ff 154.6px,#00f6ff 156.6px,#0058ff 160.6px,#0044ff,#0014ff,#0000e3,#0000dd 168.6px,#0002fc 174.6px,#0064ff 178.6px,#0067ff 180.6px,#002bff 184.5px,#0021ff,#0006fa,#0000e2,#0000eb,#0040ff,#0095ff,#00b5ff,#29fad6,#92ff6c,#9eff60,#4bffb3,#007cff,#002cff,#004fff,#00b3ff,#00e2ff,#4cffb2,#ffb800,#ff5000 222.5px,#ff1a00 226.4px,#ff0e00,#ff3a00,#ffa800,#ffd800,#e8fa17,#6aff94,#35ffca,#32ffce 242.4px"></i>
<i style="--g:#f7ff08 1.0px,#f4ff0b,#c4ff3b,#4effb0,#1cffe3,#06e8f8,#0087ff,#005eff,#006eff,#009cff 19.0px,#00c7ff 22.9px,#04f8fb,#0ffff0,#00e1ff,#0070ff,#003fff,#001cff,#0000cc,#0000ac 38.9px,#0000a9 46.9px,#0000d7 50.9px,#0000e0 58.9px,#0006fa 60.8px,#0042ff 64.8px,#22dddc,#beff41,#eaff15,#ffc200,#ff7200,#ff6500 76.8px,#ff6400 80.8px,#ff7000 82.8px,#fafc05 86.8px,#e0ff1e 88.8px,#0dfef2 92.8px,#00e7ff 94.8px,#0003f5 98.8px,#0000e4 100.8px,#0000e3 104.7px,#0000e8,#0007fc,#0020ff,#0057ff,#8ffd70,#ff3400,#fa0500 118.7px,#ee0000 122.7px,#f30000 126.7px,#ff2300 128.7px,#ff8c00 132.7px,#56e9a8,#0018f6,#0000dc,#0000db 140.7px,#0000e3 148.6px,#0003f5 150.6px,#00e6ff 154.6px,#00ebff 156.6px,#003aff 160.6px,#0008fb 164.6px,#0000e0,#0000dc 168.6px,#0000f0 174.6px,#003aff,#0083ff,#0089ff 180.6px,#003dff 184.5px,#0031ff,#0011ff,#0000f0,#0000f3 192.5px,#0058ff 196.5px,#0075ff,#12e3ed,#76ff88,#86ff78,#38ffc7,#0076ff,#002cff,#005bff,#01d9fe,#16ffe9,#75ff8a,#ffa600,#ff4800,#ff3100,#fd0800,#f60000,#ff2200,#ff8f00,#ffc000,#ebf014,#59ffa6,#17ffe7,#14ffeb 242.4px"></i>
<i style="--g:#ffdb00 1.0px,#ffde00,#f5f70a,#a8ff56 7.0px,#5fffa0 11.0px,#1bf0e4,#0bddf3 15.0px,#04fffb 26.9px,#00d2ff,#005aff,#0029ff,#000dfe,#0000cc,#0000b2 38.9px,#0000a3 46.9px,#0000d7 50.9px,#0000e0 58.9px,#0006fa 60.8px,#0041ff 64.8px,#1bdae4,#aaff55,#d7ff28,#ffc300,#ff6000,#ff5000 76.8px,#ff5000 80.8px,#ff5e00 82.8px,#f5ff0a 86.8px,#d5ff2a 88.8px,#02f2fd 92.8px,#00d0ff,#0060ff,#0000ef,#0000dd 100.8px,#0000dc 104.7px,#0000e1,#0006fa,#0020ff,#0052ff,#70ff8e,#ff7100,#ff3e00 118.7px,#ff0c00 122.7px,#fe0600,#ff1000 126.7px,#ff9b00 130.7px,#fed202,#3edcc1,#0014f5,#0000dc,#0000db 140.7px,#0000dc 148.6px,#0000ef,#0060ff,#00d0ff,#00d3ff 156.6px,#001fff 160.6px,#0000f5 164.6px,#0000de,#0000db 168.6px,#0000dc 172.6px,#0000ec,#0048ff,#00a4ff,#00aeff 180.6px,#006cff 184.5px,#0060ff 186.5px,#0019ff 190.5px,#001aff 192.5px,#0066ff 196.5px,#0080ff,#10e6ee,#6dff91,#7cff82,#30ffcf,#0074ff,#002dff,#006eff,#20f8de,#65ff99,#b9ff46,#ff8200,#ff3200 222.5px,#f60100 226.4px,#eb0000,#ff1800,#ff8400,#ffb600,#ecec13,#52ffad,#0cfff4,#07fff8 242.4px"></i>
<i style="--g:#ff9e00 1.0px,#ff9f00,#ffb400,#fce104,#f1ec0e,#e4f51a,#beff41 13.0px,#97ff68 17.0px,#6eff90 19.0px,#49ffb6 22.9px,#1affe5,#04fffb,#00d0ff,#0058ff,#0026ff,#000eff,#0000d9,#0000c4,#0000c0 40.9px,#0000a1 44.9px,#0000a2 46.9px,#0000d7 50.9px,#0000e0 58.9px,#0006fa 60.8px,#003fff 64.8px,#10d4ee,#8cff72,#b9ff45,#fed200,#ff6100,#ff4f00 76.8px,#ff4e00 80.8px,#ff5c00 82.8px,#f2ff0c 86.8px,#d0ff2e,#53ffab,#00d5ff,#00b1ff,#004fff,#0000ec,#0000dc 100.8px,#0000e0 106.7px,#0005fa,#001fff,#004cff,#4df4b2,#ffc600 116.7px,#ff3300 122.7px,#ff2600,#ff3400 126.7px,#f9ee06 130.7px,#d2fe2c,#1fcbe0,#000ef3,#0000dc 138.7px,#0000dc 148.6px,#0000ec,#004eff,#00b0ff,#00b2ff 156.6px,#0009fd 160.6px,#0000dd 166.6px,#0000dc 172.6px,#0000ed,#0059ff,#00c5ff,#00d3ff 180.6px,#00a3ff 186.5px,#0052ff 190.5px,#0052ff 192.5px,#00a4ff 196.5px,#00baff,#1bf9e4,#70ff8f,#7aff84,#2effd0,#0074ff,#002eff,#0085ff,#66ff98,#c6ff38,#f4e70b,#ff5400,#ff1300 222.5px,#ea0000 228.4px,#ff1700,#ff8400,#ffb600,#ecec13,#51ffae,#0afff6,#05fffa 242.4px"></i>
<i style="--g:#ff6400 1.0px,#ff6c00 5.0px,#ff8100 7.0px,#ffac00 15.0px,#ffce00,#dcfd23,#baff44,#92ff6c,#35ffc9,#0cfff3,#00d8ff,#005eff,#002cff,#0016ff,#0000e6,#0000d3,#0000cf 40.9px,#0000a2 44.9px,#0000a2 46.9px,#0000d7 50.9px,#0000e0 58.9px,#0006fa 60.8px,#003cff 64.8px,#04cefb,#68ff97,#93ff6b,#f0e30f,#ff7a00,#ff6600 76.8px,#ff6000 80.8px,#ff6d00,#ffc200,#e5ff19,#c2ff3d,#3bffc4,#00b3ff,#0090ff,#003dff,#0000e9,#0000dc 100.8px,#0000db 104.7px,#0000e0,#0004f9,#001bff,#0042ff,#2ee3d0,#defb21,#fcea03,#ffa200,#ff5e00,#ff4c00,#ff5d00,#fad005,#b0ff4e,#7eff80,#04b8fb,#0008f2,#0000dc 138.7px,#0000dc 148.6px,#0000e9,#003aff,#008bff,#008cff 156.6px,#0000f2 160.6px,#0000e5 162.6px,#0000db 168.6px,#0000dc 172.6px,#0000f0,#006cff,#00e7ff,#02f8fd 180.6px,#00eafe 186.5px,#0094ff 190.5px,#0094ff 192.5px,#00eafe 196.5px,#06f4f9 198.5px,#6eff90 202.5px,#73ff8b,#29ffd6,#0072ff,#0030ff,#009aff,#acff53,#ffe000,#ffa700,#ff2f00,#fc0100 222.5px,#f50000 228.4px,#ff2400,#ff9500,#ffc700,#e6f519,#4cffb2,#09fff6,#05fffa 242.4px"></i>
<i style="--g:#ff3700 1.0px,#ff3e00 5.0px,#ff5500 9.0px,#ff5d00 15.0px,#ff8200,#ffde00,#f6fd09,#c6ff38,#56ffa9,#24ffda,#04eafa,#0075ff,#0042ff,#0029ff,#0000f1,#0000db,#0000d6 40.9px,#0000a2 44.9px,#0000a2 46.9px,#0000d7 50.9px,#0000e0 58.9px,#0006fa 60.8px,#0038ff 64.8px,#00b4ff,#32ffcd,#57ffa7,#c4fe3b,#ffcc00 74.8px,#ff9c00 80.8px,#ffa700,#f6ed0a,#b8ff46,#97ff68,#21f1de,#008eff,#006fff,#002bff,#0000e6,#0000db 100.8px,#0000db 104.7px,#0000df,#0000f6,#000eff,#002fff,#11d0ee,#95ff69,#c1ff3e,#f9df06,#ff9600,#ff8100,#ff9400,#daf424,#5fff9f,#31ffce,#0092ff,#0004f1,#0000dc 138.7px,#0000db 148.6px,#0000e6,#0022ff,#005dff,#005dff,#0023ff,#0000e7,#0000dd 162.6px,#0000dc 172.6px,#0002f1,#007eff,#0efcf1 178.6px,#38ffc7 184.5px,#33ffcb 186.5px,#02e9fd 190.5px,#02e9fd 192.5px,#33ffcb 196.5px,#5dffa1 202.5px,#5cffa3,#1ef8e1,#006cff,#0030ff,#00a8ff,#ccf133,#ffa500,#ff7b00,#ff2700,#fe0600,#ff0800 224.4px,#ff1d00 228.4px,#ff5100,#ffcf00,#f1f80e,#c0ff3f,#3effc1,#08fff7,#05fffa 242.4px"></i>
<i style="--g:#ff1600 1.0px,#ff2400 5.0px,#ff4100,#ff4d00 9.0px,#ff4f00 15.0px,#ff6f00,#ffbe00,#ffe100,#e8fc16,#7aff84 24.9px,#17fbe8 28.9px,#0096ff,#0062ff,#0042ff,#0005f5,#0000dd,#0000d7 40.9px,#0000a2 44.9px,#0000a2 46.9px,#0000d7 50.9px,#0000e0 58.9px,#0006fa 60.8px,#0033ff 64.8px,#03ecfc 68.8px,#11fcee 70.8px,#b9ff45 74.8px,#f6f009 80.8px,#f3f40c 82.8px,#74ff8a 86.8px,#56ffa8,#06d9f8,#006aff,#004eff,#001aff,#0000e4,#0000dc 100.8px,#0000de 106.7px,#0001fb 110.7px,#0019ff,#00b5ff,#52ffac,#7bff84,#d5fd2a,#ffd600,#ffc000,#ffd300,#a0ff5e,#18fce6,#03e7fc,#006dff,#0000ef,#0000dc 138.7px,#0000e1 150.6px,#0009fc,#0029ff,#0029ff,#0009fc,#0000e1,#0000db 162.6px,#0000dc 172.6px,#0004f1,#0091ff,#2effd1 178.6px,#7cff83 184.5px,#7cff82 186.5px,#51ffae 190.5px,#51ffae 192.5px,#7cff83 196.5px,#7aff84 198.5px,#41ffbe 202.5px,#38ffc6,#0eecf2,#0064ff,#0030ff,#00b0ff,#d7e127,#ff8300,#ff6600,#ff3500,#ff2100,#ff2c00 224.4px,#ff5a00 228.4px,#ff9600,#d4fc2a,#9aff64,#76ff88,#27ffd8,#06fff8,#04fffa 242.4px"></i>
<i style="--g:#ff1200 1.0px,#ff1300,#ff2400,#ff4e00,#ff6000 9.0px,#ff4e00 15.0px,#ff6700,#ffa500 19.0px,#fbeb04 22.9px,#a2ff5c 24.9px,#3cffc3 28.9px,#00bcff,#0085ff,#005eff,#000cf9,#0000e0,#0000da 40.9px,#0000a5 44.9px,#0000a5 46.9px,#0000d7 50.9px,#0000e0 58.9px,#0006fa 60.8px,#002fff 64.8px,#00b8ff 68.8px,#00ceff,#14f9eb,#4effb1,#5effa0 76.8px,#aaff54 80.8px,#a6ff58 82.8px,#2affd5 86.8px,#13fcec,#00a9ff,#0045ff 92.8px,#000bfe 96.8px,#0000e4,#0000df 100.8px,#0000e6 106.7px,#0001f4,#0008fd,#001dff,#00a2ff,#28ffd7,#4bffb4 118.7px,#eeff10 122.7px,#faf605,#ebfc14,#60ff9f,#00d0ff,#00aaff,#004bff,#0000eb,#0000dc 138.7px,#0000db 148.6px,#0000de 150.6px,#0002f8 154.6px,#0002f8 156.6px,#0000de 160.6px,#0000db 168.6px,#0000df 172.6px,#0006f3,#00a1ff,#48ffb7 178.6px,#bbff44 184.5px,#c0ff3f 186.5px,#afff50 190.5px,#bcff43 196.5px,#b0ff4e 198.5px,#22ffdd 202.5px,#12ffec,#00dcfe,#005cff,#002fff,#00b2ff,#dade24,#ff7b00 216.5px,#ff4e00 220.5px,#ff4500,#ff5700,#ff8400,#ff9a00,#fbd804,#84ff7a,#43ffbb,#32ffcd,#0ffff0 238.4px,#01fefe 242.4px"></i>
<i style="--g:#ff5e00 1.0px,#ff5e00,#ff6f00,#ff9800,#ffa700,#ff9400,#ff6200,#ff4e00,#ff6000,#ff8c00,#ffa100,#ffca00,#d2ff2d,#a6ff58,#6cff92,#03e0fc,#00a9ff,#007cff,#0018fe,#0000ed,#0000e6 40.9px,#0000b0 44.9px,#0000ae 46.9px,#0000d8 50.9px,#0000e0 58.9px,#0006fa 60.8px,#002eff 64.8px,#00aaff 68.8px,#00bdff,#02effd,#26ffd8,#34ffcc 76.8px,#6aff94 80.8px,#63ff9b,#21fcdd,#00d6ff,#00bfff 88.8px,#0024ff 92.8px,#0004fd 96.8px,#0000ee 98.8px,#0001f6 102.7px,#000cfe 106.7px,#005fff 110.7px,#0077ff,#06d6f8,#43ffbc,#5dffa2 118.7px,#c7ff38 122.7px,#d4ff2b,#beff40,#32fbcd,#009bff,#0078ff,#0030ff,#0000e7,#0000db 138.7px,#0000db 166.6px,#0000ea 172.6px,#000cfa,#00a6ff,#46ffb9,#6aff94 180.6px,#e9ff16 184.5px,#f3ff0b 186.5px,#eeff10 192.5px,#ccff32 198.5px,#06faf9 202.5px,#00edff,#00c0ff,#0053ff,#002eff,#00a5ff,#c6f639,#ffb400 216.5px,#ff8200 220.5px,#ff7700,#ff8c00,#ffc100,#ffda00,#e0fa1e,#51ffae,#14ffeb 234.4px,#00f4ff 238.4px,#00ecff 242.4px"></i>
<i style="--g:#f3e40c 1.0px,#e0fe1f 9.0px,#f6e70a,#ff7e00,#ff4f00,#ff5800,#ff7300,#ff8000,#ffa300,#f9f006,#e4ff1c,#a4ff5b,#17f6e8,#00ccff,#009cff,#002fff,#0004fe,#0001fa,#0000de,#0000c1,#0000bf 46.9px,#0000d9 50.9px,#0000e0 58.9px,#0006fa 60.8px,#0030ff 64.8px,#00c1ff 68.8px,#00d4ff,#0dfaf2,#3affc4 74.8px,#42ffbc 80.8px,#34ffcb,#02d7fd,#007fff,#0068ff 88.8px,#0009fe 92.8px,#0002fd 94.8px,#0005fe 100.8px,#0048ff 106.7px,#00a6ff,#18ebe7,#25f8d9,#5effa1,#9dff61 116.7px,#b1ff4d 124.7px,#9aff64,#1ee9e1,#0074ff,#0053ff,#001cff,#0000e4,#0000db 138.7px,#0000db 166.6px,#0000de 168.6px,#0001fc 172.6px,#0017ff,#00a0ff,#2bffd4,#50ffae 180.6px,#fef402 184.5px,#ffe700 186.5px,#ffea00 192.5px,#fafc04 194.5px,#d1ff2e 198.5px,#59ffa6,#00e0ff,#00caff,#00a5ff,#004aff,#002cff,#0089ff,#75ff8a,#d6ff28,#ecf613,#ffcd00,#ffb600,#ffca00,#f6f809,#e4ff1b,#b1ff4d,#3affc5,#08fff7,#00f8ff,#00d9ff 238.4px,#00ccff 242.4px"></i>
<i style="--g:#84ff7a 1.0px,#76ff89 9.0px,#bcff42,#ff9400,#ff4d00 15.0px,#ff6000 20.9px,#ff7d00,#ffc100,#ffe100,#d6fd29,#34ffcb,#00edff,#00baff,#0046ff,#0016ff,#000fff,#0000f0,#0000d3,#0000cf 46.9px,#0000e2 58.9px,#0006fa 60.8px,#0032ff 64.8px,#00deff 68.8px,#00f4ff,#26ffd8,#58ffa6,#5bffa4 76.8px,#0dfcf2 82.8px,#002fff 86.8px,#0008fc 90.8px,#0000ee,#0000ee,#0003fc 96.8px,#001aff 100.8px,#0087ff 106.7px,#24f0dc,#a0ff5e 110.7px,#f0ff0e 116.7px,#edff11 118.7px,#96ff68 122.7px,#71ff8d 126.7px,#0bd6f4,#0051ff 130.7px,#000cfe 134.7px,#0000e2 136.7px,#0000db 166.6px,#0000df,#0000f6 170.6px,#0024ff 174.6px,#0094ff,#0afbf5,#2bffd4,#a1ff5e,#ffe800,#ffd400 186.5px,#ffd400 190.5px,#ffda00,#fcf703 194.5px,#c8ff37 198.5px,#45ffb9,#00c2ff 202.5px,#008cff 206.5px,#0042ff,#0028ff,#006aff,#1ef6e1,#5cffa2,#86ff78,#e0fd1f,#faf304,#effb10,#beff40 226.4px,#82ff7c 230.4px,#2affd4,#06fff9,#00eeff,#00beff,#00aaff,#00a8ff 242.4px"></i>
<i style="--g:#5affa5 1.0px,#6cff92 9.0px,#b8ff46,#ff8b00,#ff3e00 15.0px,#ff4000 20.9px,#ff5c00,#ff9f00,#ffbe00,#e8f016,#4affb4,#03fdfc,#00caff,#0054ff,#0023ff,#001bff,#0004f8,#0000dd 44.9px,#0000dc 52.9px,#0000ec 58.9px,#0008fe 60.8px,#0033ff 64.8px,#00efff 68.8px,#06fff8 70.8px,#5cffa2 74.8px,#5bffa3 76.8px,#03fafc 80.8px,#00e3ff 82.8px,#0005f7 86.8px,#0000e9 88.8px,#0000e3 94.8px,#0005fa 96.8px,#002aff 100.8px,#0096ff 104.7px,#00b7ff,#49ffb5,#daff24,#f2ff0d 112.7px,#e0ff1f 118.7px,#59ffa5 122.7px,#30ffcf 126.7px,#00b0ff,#0031ff 130.7px,#0003f8 134.7px,#0000e0 136.7px,#0000db 166.6px,#0000df,#0000f6 170.6px,#0022ff 174.6px,#00d3ff 178.6px,#05f1fa,#76ff88,#f1fa0e,#fdf102 186.5px,#fdf102 190.5px,#fbf404,#e4ff1b 194.5px,#a8ff56 198.5px,#2dfdd2,#00aeff 202.5px,#007aff 206.5px,#0035ff,#001cff,#004eff,#00cdff,#0af9f4,#32ffcd,#9aff65,#c2ff3c,#b3ff4c,#86ff78 226.4px,#59ffa5 230.4px,#1effe1,#05fffa,#00e6ff,#00a2ff,#0086ff,#0084ff 242.4px"></i>
<i style="--g:#9aff64 1.0px,#a5ff59 5.0px,#ccff32 9.0px,#f2e80c,#ff5f00,#ff2200 15.0px,#ff2000 20.9px,#ff4100,#ff9000,#ffb600,#ecec13,#50ffae,#06fff9,#00cfff,#0058ff,#0026ff,#001eff,#0005fa,#0000e0 44.9px,#0000dd 52.9px,#0000f9 56.9px,#0002fc 58.9px,#0034ff 64.8px,#00f3ff 68.8px,#08fff6 70.8px,#42ffbc 74.8px,#3effc0,#10fcee,#00d9ff,#00c0ff,#0057ff,#0000ee,#0000dc 88.8px,#0000dc 92.8px,#0000e0,#0006fa 96.8px,#002fff 100.8px,#00baff 104.7px,#00d6ff,#3effc0,#a4ff5a,#b2ff4e 112.7px,#78ff86 118.7px,#34fecc,#08ecf6 122.7px,#00d2ff 126.7px,#0013ff 130.7px,#0000ef 134.7px,#0000de,#0000db 138.7px,#0000db 166.6px,#0000de 168.6px,#0003fd 172.6px,#000eff 174.6px,#0094ff 178.6px,#00b2ff,#30face,#a3ff5c,#b6ff48 186.5px,#b3ff4c 192.5px,#6eff90 198.5px,#18f2e8,#00a5ff 202.5px,#0072ff 206.5px,#0025ff,#0008ff,#0033ff,#00a2ff,#00d2ff,#08f3f7,#58ffa7,#7dff82,#73ff8b,#55ffa9 226.4px,#39ffc6 230.4px,#14ffea,#04fffb,#00deff,#0087ff,#0063ff,#0061ff 242.4px"></i>
<i style="--g:#f2f40d 1.0px,#faea05 5.0px,#ffc800,#ffb500,#ff8c00,#ff2a00,#fd0500,#fc0400 17.0px,#fd0500 20.9px,#ff2a00,#ff8a00,#ffb600,#ebed14,#4effb0,#05fefa,#00ceff,#0057ff,#0026ff,#001eff,#0006fa,#0000e0 44.9px,#0000e0 52.9px,#0001f6,#000eff 56.9px,#0021ff 62.8px,#0032ff 64.8px,#00eeff 68.8px,#0efff1 72.8px,#1cffe4,#16ffe9,#00e4fe,#00b4ff,#009dff,#0044ff,#0000ea,#0000dc 88.8px,#0000db 92.8px,#0000e0,#0006fa 96.8px,#0032ff 100.8px,#00d7ff 104.7px,#00edff,#1fffe0,#50ffaf,#52ffac 112.7px,#14f6ec 116.7px,#0ceef3 118.7px,#008aff 122.7px,#0070ff 126.7px,#0002f6 130.7px,#0000db 138.7px,#0000db 166.6px,#0000f5 174.6px,#0054ff 178.6px,#006cff,#04d1fa,#40ffbe,#51ffae 186.5px,#52ffad 192.5px,#30ffce 198.5px,#03e6fc,#00a2ff,#0094ff,#006eff,#0016fe,#0000f1,#001afe,#007fff 214.5px,#00cbff 218.5px,#19fde5,#36ffc9,#32ffcc 224.4px,#01fefe 234.4px,#00d4ff,#006cff,#0042ff,#0040ff 242.4px"></i>
<i style="--g:#ffa500 1.0px,#ffa400,#ff9300,#ff6700 7.0px,#ff3c00 11.0px,#fa0700,#ea0000 15.0px,#ee0000 20.9px,#ff1e00,#ff9000,#ffc300,#e5f41a,#41ffbd,#00f5fe,#00c3ff,#0054ff,#0026ff,#001eff,#0006fa,#0000e0 44.9px,#0000ea 52.9px,#0006fc,#001aff 56.9px,#001aff 62.8px,#0027ff 64.8px,#00cbff 68.8px,#00d9ff 70.8px,#00e0ff 74.8px,#00daff 76.8px,#0086ff 80.8px,#0074ff,#002eff,#0000e7,#0000db 88.8px,#0000db 92.8px,#0000e0,#0006fa 96.8px,#0032ff 100.8px,#00deff 104.7px,#06fdfa 108.7px,#16ffe9,#11ffed,#00e3ff,#00b6ff,#00a5ff 118.7px,#003eff 122.7px,#0029ff 126.7px,#000afc,#0000e5 130.7px,#0000db 136.7px,#0000db 168.6px,#0000e4 174.6px,#0007fc 176.6px,#0035ff 180.6px,#00deff 184.5px,#07faf8 196.5px,#03f8fc 198.5px,#00aaff 202.5px,#00a1ff,#0074ff,#000ff7,#0000dc,#0007f4,#0052ff 214.5px,#0091ff 218.5px,#00cdff,#00e6ff 222.5px,#02f8fc 228.4px,#00f1ff 234.4px,#00c4ff,#0059ff,#002dff,#002bff 242.4px"></i>
<i style="--g:#ff5900 1.0px,#ff4b00 5.0px,#ff2b00 7.0px,#ff0e00 11.0px,#ec0000,#de0000 15.0px,#e90000 20.9px,#ff2000,#ffa300,#ffdd00,#d4fe2a,#27fdd8,#00d8ff,#00acff,#004dff,#0026ff,#001eff,#0006fa,#0000e0,#0000dd 46.9px,#0001fa 52.9px,#0020ff 56.9px,#0022ff 58.9px,#0009ff 62.8px,#0010ff 64.8px,#0082ff 68.8px,#008cff 72.8px,#0088ff 76.8px,#004eff 80.8px,#0042ff,#0014fe,#0000e2 86.8px,#0000db 92.8px,#0000e0,#0006fa 96.8px,#0030ff 100.8px,#00c9ff 104.7px,#03fffc 110.7px,#02fcfd 112.7px,#009eff 116.7px,#008cff 118.7px,#0019ff 122.7px,#0006fe 126.7px,#0000f2,#0000de,#0000dc 132.7px,#0000db 170.6px,#0000de 174.6px,#0006fe 178.6px,#0011ff 180.6px,#0084ff 184.5px,#00aeff 192.5px,#00d4ff 196.5px,#00d6ff 198.5px,#00beff 204.5px,#0086ff,#000ef0,#0000c8,#0000dc,#0018fe 214.5px,#0046ff 218.5px,#0078ff 220.5px,#009eff 224.4px,#00c6ff,#00d6ff 228.4px,#00d4ff 234.4px,#00adff,#004eff,#0027ff,#0024ff 242.4px"></i>
<i style="--g:#ff1500 1.0px,#f60000 9.0px,#d80000 15.0px,#ea0000 20.9px,#ff2800,#ffba00,#fdf802,#b6ff48,#15eeea,#00b8ff,#0093ff,#0044ff,#0024ff,#001eff,#0005fa,#0000e0,#0000de 46.9px,#000aff 50.9px,#0021ff 56.9px,#001fff 58.9px,#0000f4 62.8px,#0000f6 64.8px,#002fff 68.8px,#0034ff 72.8px,#0032ff 76.8px,#000fff 82.8px,#0000df 86.8px,#0000db 88.8px,#0000e0 94.8px,#0005fa 96.8px,#002dff 100.8px,#00abff 104.7px,#00baff 106.7px,#00fcfe 110.7px,#00faff 112.7px,#009aff 116.7px,#0086ff 118.7px,#0004ff 122.7px,#0000f3 124.7px,#0000db 132.7px,#0000db 172.6px,#0000f6 180.6px,#0030ff 184.5px,#006bff 192.5px,#00afff 196.5px,#00b8ff 198.5px,#00dfff 202.5px,#00deff,#009dff,#0010ec,#0000ba,#0000c2,#0000e0 214.5px,#0007f7 218.5px,#0055ff 224.4px,#009aff,#00b5ff 228.4px,#00b5ff 234.4px,#0095ff,#0047ff,#0028ff,#0026ff 242.4px"></i>
<i style="--g:#e40000 1.0px,#d30000 15.0px,#f50000 20.9px,#ff3400,#ffce00,#eeff11,#a0ff5e,#09e2f6,#00a0ff,#007eff,#003aff,#001dff 38.9px,#0002f8 42.9px,#0000e0,#0000e0,#0001f7,#0011ff 50.9px,#0016ff 58.9px,#0004fa,#0000e5,#0000e2 64.8px,#0000f3 68.8px,#0000f4 74.8px,#0000db 88.8px,#0000e0 94.8px,#0002f8 96.8px,#0024ff 100.8px,#0094ff 104.7px,#00a4ff 106.7px,#00f0ff 110.7px,#00efff 112.7px,#008eff 116.7px,#007aff,#0034ff,#0000f5,#0000e3 124.7px,#0000db 130.7px,#0000db 172.6px,#0000e2 180.6px,#0002f7 186.5px,#0036ff 192.5px,#0096ff 196.5px,#00a4ff 198.5px,#00f4ff 202.5px,#00f6ff,#00b5ff,#001cf8,#0000d2 210.5px,#0000dd 216.5px,#0003fd 220.5px,#000cff,#0030ff,#0086ff,#00a8ff 228.4px,#00a9ff 234.4px,#008eff,#004dff,#0033ff,#0031ff 242.4px"></i>
<i style="--g:#d30000 1.0px,#d20000 15.0px,#de0000,#fa0300,#ff0e00,#ff4a00,#ffd900,#e6ff19,#98ff66,#05defa,#0097ff,#0074ff,#002aff,#000cff 38.9px,#0000f2 42.9px,#0000de,#0000de 46.9px,#0006ff 50.9px,#0007ff 58.9px,#0000df 62.8px,#0000dc 64.8px,#0000db 86.8px,#0000de 94.8px,#0000f2 96.8px,#0013ff 100.8px,#008aff 104.7px,#009aff 106.7px,#00d6ff 110.7px,#00d3ff 112.7px,#0073ff 116.7px,#0061ff,#0024ff,#0000ee 122.7px,#0000dc 126.7px,#0000dc 180.6px,#0000e1 186.5px,#0000f4 188.5px,#0016ff 192.5px,#008bff 196.5px,#009cff 198.5px,#01fafe 202.5px,#02fefe,#00ceff,#0054ff,#0023ff 210.5px,#0023ff 222.5px,#0046ff,#0098ff,#00bbff 228.4px,#00bcff 234.4px,#00a3ff,#0066ff,#004dff,#004cff 242.4px"></i>
<i style="--g:#d10000 1.0px,#d20000 15.0px,#e60000,#ff1600,#ff2d00,#ff6200,#ffe200,#e3ff1c,#96ff68,#04ddfa,#0096ff,#006eff,#001aff,#0000f6 38.9px,#0000dc 44.9px,#0000dc 46.9px,#0000f2 50.9px,#0000f4 56.9px,#0000db 64.8px,#0000db 92.8px,#0004fc 100.8px,#0086ff 104.7px,#00b5ff 110.7px,#00b0ff 112.7px,#0050ff 116.7px,#0042ff,#0013ff,#0000e8 122.7px,#0000db 126.7px,#0000db 182.5px,#0000de 186.5px,#0000f3 190.5px,#0004fc 192.5px,#0086ff 196.5px,#0099ff 198.5px,#00f9ff 202.5px,#01fefe,#00e4ff,#00a3ff,#0088ff 210.5px,#0088ff 216.5px,#0058ff 222.5px,#0075ff,#00beff,#00dcff 228.4px,#00dcff 234.4px,#00c4ff,#0088ff,#0070ff,#006eff 242.4px"></i>
<i style="--g:#d10000 1.0px,#d40000 15.0px,#ee0000,#ff3000,#ff4c00,#ff7c00,#faeb05,#daff24,#90ff6f,#03dcfc,#0096ff,#006aff,#0010fc,#0000e5 38.9px,#0000d6 44.9px,#0000db 92.8px,#0000e2 98.8px,#0000ee,#0033ff,#0077ff 104.7px,#008eff 110.7px,#0087ff 112.7px,#0030ff 116.7px,#0024ff,#0007fb,#0000e4 122.7px,#0000db 126.7px,#0000db 180.6px,#0000e3 190.5px,#0000ee,#0033ff,#0077ff,#0089ff 198.5px,#00e0ff 202.5px,#00e7ff 204.5px,#00c9ff 210.5px,#00d1ff 216.5px,#00c2ff,#009bff,#008cff,#00a4ff,#00deff,#00f6ff 228.4px,#00f6ff 234.4px,#00e0ff,#00aaff,#0093ff,#0092ff 242.4px"></i>
<i style="--g:#d10000 1.0px,#d90000 15.0px,#f40600,#ff4900 19.0px,#ff9a00 22.9px,#eef811,#c4ff3b,#7eff80,#00daff,#0095ff,#0069ff,#000ef9,#0000de 38.9px,#0000ca 44.9px,#0000c9 56.9px,#0000db 64.8px,#0000dc 98.8px,#0000e5,#001cff,#0050ff 104.7px,#005bff 110.7px,#0055ff 112.7px,#0014ff 116.7px,#0000f4 120.7px,#0000e1 122.7px,#0000db 126.7px,#0000db 178.6px,#0000f0 184.5px,#0000de 190.5px,#0000e5,#001cff,#0051ff,#005fff 198.5px,#00a0ff 202.5px,#00c0ff 212.5px,#00d3ff,#00daff 216.5px,#00b6ff 222.5px,#00c7ff,#00f0ff,#02fffd 228.4px,#02fffd 234.4px,#00f1ff,#00c7ff,#00b7ff,#00b6ff 242.4px"></i>
<i style="--g:#d40000 1.0px,#d60000 11.0px,#e20000 15.0px,#fa0e00,#ff6500 19.0px,#ffbc00 22.9px,#d5ff2a,#a5ff59,#66ff98,#00d4ff,#0094ff,#0069ff,#000ef8,#0000dd,#0000d8 40.9px,#0000b8 44.9px,#0000b6 56.9px,#0000da 64.8px,#0000e0 100.8px,#0005fa,#001eff 104.7px,#0020ff 112.7px,#000efe,#0001f9 116.7px,#0000db 124.7px,#0000da 178.6px,#0000de 180.6px,#0004fe 184.5px,#0004fe 186.5px,#0000de 190.5px,#0000e0,#0005fa,#001eff,#0026ff 198.5px,#004cff 202.5px,#0058ff 206.5px,#008aff 212.5px,#00afff 214.5px,#00e2ff 224.4px,#00faff 226.4px,#04fffa 234.4px,#00faff 236.4px,#00d9ff 240.4px,#00d8ff 242.4px"></i>
<i style="--g:#e80000 1.0px,#e80000 9.0px,#fa0800 15.0px,#ff2c00,#ff9000 19.0px,#fce503 22.9px,#b0ff4e 24.9px,#4dffb2 28.9px,#00cbff 30.9px,#0069ff 34.9px,#000ef8,#0000dd,#0000d8 40.9px,#0000aa 44.9px,#0000a6 56.9px,#0000a9 58.9px,#0000d4 62.8px,#0000d7 64.8px,#0000d7 98.8px,#0000ee 104.7px,#0000ee 112.7px,#0000d7 124.7px,#0000d7 178.6px,#0000db 180.6px,#000cff 184.5px,#0000f4 188.5px,#0000db,#0000d9 192.5px,#0000f1 198.5px,#0013fe 206.5px,#0033ff 208.5px,#0058ff 212.5px,#008cff 214.5px,#00b6ff 218.5px,#00e2ff,#00f4ff 222.5px,#05fffa 228.4px,#00f6ff 242.4px"></i>
<i style="--g:#ff2a00 1.0px,#ff2b00 9.0px,#ff5700 15.0px,#ff7e00,#fcdc03,#eef810,#d2ff2c,#82ff7c 24.9px,#30ffce 28.9px,#00c3ff 30.9px,#0069ff 34.9px,#000ef8,#0000dd,#0000d7 40.9px,#0000a4 44.9px,#00009f 54.9px,#0000a2 58.9px,#0000c8 62.8px,#0000cb 64.8px,#0000cb 178.6px,#0000ce 180.6px,#0001f8 184.5px,#0001f8 186.5px,#0000ce 190.5px,#0000cb 192.5px,#0000d0 198.5px,#0000e2 204.5px,#0000f1,#0018ff 208.5px,#0042ff 212.5px,#007cff 214.5px,#00afff 218.5px,#00e9ff,#02fffd 222.5px,#03fffc 242.4px"></i>
<i style="--g:#ff8c00 1.0px,#ff8d00 9.0px,#ff9b00,#ffbf00 13.0px,#f6ea09 17.0px,#b6ff48,#93ff6b,#7eff81,#4effb0,#39ffc6,#15feea,#00baff 30.9px,#0069ff 34.9px,#000ef8,#0000de,#0000d7 40.9px,#0000a2 44.9px,#00009e 56.9px,#0000b8 64.8px,#0000b9 178.6px,#0000bc 180.6px,#0000d6 184.5px,#0000d6 186.5px,#0000bc 190.5px,#0000ba 196.5px,#0000bc 198.5px,#0000ee 206.5px,#0014ff 208.5px,#003fff 212.5px,#007aff 214.5px,#00aeff 218.5px,#00eaff,#04fffb 222.5px,#06fff9 242.4px"></i>
<i style="--g:#f8ec08 1.0px,#f7ed08 9.0px,#eef611 11.0px,#98ff67 17.0px,#4fffb0,#31ffcd 20.9px,#12ffed 26.9px,#03f3fc,#00b6ff 30.9px,#006eff 34.9px,#0010fa,#0000e1,#0000da 40.9px,#0000a3 44.9px,#00009e 56.9px,#0000ab 64.8px,#0000ac 156.6px,#0000b6 180.6px,#0000c6 186.5px,#0000bb 196.5px,#0000bf 198.5px,#0000ee 202.5px,#0000f2,#0006fb,#0026ff 208.5px,#004eff 212.5px,#0087ff 214.5px,#00b9ff 218.5px,#00f1fe,#0afff5 222.5px,#10ffee 242.4px"></i>
<i style="--g:#a0ff5e 1.0px,#9fff5f 9.0px,#8fff6f,#66ff98 13.0px,#38ffc6 17.0px,#06f0f8,#00dcff 20.9px,#00ecff 26.9px,#00dfff,#00bdff,#00acff,#0081ff,#001aff,#0000ee,#0000e6 40.9px,#0000a4 44.9px,#00009e 46.9px,#00009f 58.9px,#0000ae 64.8px,#0000af 156.6px,#0000d7 166.6px,#0000db 180.6px,#0004ef 184.5px,#0005ee 196.5px,#0008f0 198.5px,#0038ff 202.5px,#004aff 206.5px,#0067ff 208.5px,#0088ff 212.5px,#00b6ff 214.5px,#00deff 218.5px,#0ffef0,#20ffde 222.5px,#22ffdd 228.4px,#39ffc6 234.4px,#39ffc6 242.4px"></i>
<i style="--g:#37ffc7 1.0px,#36ffc8 9.0px,#0cf9f3 15.0px,#03e8fc,#00acff,#0093ff,#009eff,#00bcff,#00c9ff 26.9px,#00cbff 32.9px,#009eff,#0031ff,#0005fe,#0001f8,#0000d0,#0000a5 44.9px,#00009e 56.9px,#0000be 64.8px,#0000be 154.6px,#0000c0 156.6px,#0000e7 162.6px,#001aff 166.6px,#0022ff 180.6px,#0054ff 184.5px,#005eff 198.5px,#00aeff 202.5px,#00e4fe 212.5px,#10feee 216.5px,#44ffba 222.5px,#45ffba 228.4px,#78ff86 234.4px,#7aff85 242.4px"></i>
<i style="--g:#00d9ff 1.0px,#00ddff 9.0px,#00c6ff 15.0px,#00aeff,#0073ff,#005cff,#006dff,#0098ff 24.9px,#00baff 28.9px,#00deff,#00eaff,#00bcff,#004aff,#001cff,#0011ff,#0000dd,#0000a9 44.9px,#00009e 56.9px,#0000a1 58.9px,#0000c9 62.8px,#0000cc 64.8px,#0000ce 154.6px,#0000d2,#0000ea,#0004fd,#000cff 162.6px,#0057ff 166.6px,#0068ff 180.6px,#00b5ff 184.5px,#00beff 198.5px,#05e8fa,#1effe2 202.5px,#3bffc3 212.5px,#65ff99 220.5px,#6cff93 228.4px,#7dff81,#a9ff55,#baff44 234.4px,#bcff43 242.4px"></i>
<i style="--g:#00a2ff 1.0px,#00b7ff 9.0px,#00b2ff 15.0px,#009eff,#006eff,#005bff,#0068ff,#0089ff 24.9px,#00b0ff 28.9px,#00e8ff,#00fcff,#00d0ff,#0065ff,#0039ff,#002dff,#0003ec,#0000b4 44.9px,#00009f 50.9px,#00009e 56.9px,#0000a1 58.9px,#0000c9 62.8px,#0000cc 64.8px,#0000d8 154.6px,#0000dc,#0000f4 158.6px,#0017ff 162.6px,#006cff 166.6px,#0087ff 172.6px,#0090ff 180.6px,#00edff 184.5px,#00f5ff 186.5px,#00f4ff 192.5px,#00e0ff 196.5px,#00e7ff,#1affe4,#4dffb1 202.5px,#59ffa5 210.5px,#88ff76 216.5px,#8fff70 228.4px,#a4ff5a,#d9ff26,#eeff10 234.4px,#f0ff0e 242.4px"></i>
<i style="--g:#0096ff 1.0px,#0096ff,#00a1ff,#00bdff 7.0px,#00caff 11.0px,#00c9ff 15.0px,#008fff 20.9px,#0096ff 26.9px,#00aeff,#00eaff,#01fffe,#00dcff,#0080ff,#005aff,#004dff,#0011f8,#0000c6 44.9px,#0000a0 50.9px,#00009e 56.9px,#0000be 64.8px,#0000be 116.7px,#0000da 124.7px,#0000db 154.6px,#0000ee 158.6px,#0008fe 162.6px,#0057ff 166.6px,#0061ff 168.6px,#008eff 172.6px,#009bff 180.6px,#00faff 184.5px,#01fefe 192.5px,#00d2ff 196.5px,#00d6ff,#0efbf1,#3bffc4 202.5px,#46ffb9 210.5px,#5dffa2,#95ff69,#acff52 216.5px,#b0ff4e 228.4px,#c6ff39,#f8fa07,#ffeb00 234.4px,#ffea00 242.4px"></i>
<i style="--g:#0097ff 1.0px,#0098ff,#00aaff,#00d8ff,#00ebff,#00ecff 11.0px,#00e6ff 17.0px,#00c4ff 22.9px,#00a7ff,#009cff,#00b3ff,#00ebff,#02fffd,#00e4ff,#009bff,#007dff,#006fff,#0027ff,#0000de 44.9px,#0000a5 50.9px,#0000a0 56.9px,#0000ae 64.8px,#0000ae 116.7px,#0000b1 118.7px,#0000d4 122.7px,#0000d8 124.7px,#0000d9 154.6px,#0000f0 162.6px,#0013ff,#0035ff,#0040ff 168.6px,#0087ff 172.6px,#0094ff 180.6px,#00f3ff 184.5px,#00f6ff 192.5px,#00afff 196.5px,#00b2ff,#00e2ff,#12ffec 202.5px,#1effe0 210.5px,#42ffbc,#9aff64,#beff40 216.5px,#c2ff3d 228.4px,#d8ff26,#ffef00,#ffd800 234.4px,#ffd700 242.4px"></i>
<i style="--g:#00a6ff 1.0px,#00a7ff,#00beff,#04f5fc,#10ffee 9.0px,#0cfef3 20.9px,#04f4fb,#00ccff,#00bcff,#00caff,#00f3ff,#03fffc,#00ecff,#00b6ff 36.9px,#0093ff 40.9px,#0006fa 44.9px,#0000f0 46.9px,#0000b8 50.9px,#0000a8 58.9px,#0000ab 116.7px,#0000ad 118.7px,#0000cd 122.7px,#0000d1 124.7px,#0000da 162.6px,#0002f3 164.6px,#001bff 168.6px,#0066ff 172.6px,#0073ff 180.6px,#00c4ff 184.5px,#00d4ff 190.5px,#00ceff 192.5px,#0082ff 196.5px,#0083ff 198.5px,#00d5ff 202.5px,#00eaff 210.5px,#16faea,#6fff8f,#95ff69 216.5px,#99ff65 228.4px,#b0ff4e,#e6fd19,#f4f50a 234.4px,#f6f40a 242.4px"></i>
<i style="--g:#00c3ff 1.0px,#00c5ff,#00deff,#1effe1,#37ffc8,#38ffc6 11.0px,#38ffc7 20.9px,#29ffd6,#0cfbf3,#05f3fa 26.9px,#04fffb 32.9px,#00f5ff,#00d2ff 36.9px,#00b8ff 40.9px,#0035ff 44.9px,#0007f9 48.9px,#0000dc 50.9px,#0000b8 58.9px,#0000b8 116.7px,#0000c1 124.7px,#0000c2 160.6px,#0000c5 162.6px,#0000f0 168.6px,#0028ff 172.6px,#0031ff 180.6px,#0068ff 184.5px,#0084ff 190.5px,#0082ff 192.5px,#004bff 196.5px,#004bff 198.5px,#0082ff 202.5px,#00a6ff 210.5px,#00c3ff,#13f4ec,#24ffda 216.5px,#28ffd7 228.4px,#3fffc0,#78ff87,#8fff6f 234.4px,#90ff6e 242.4px"></i>
<i style="--g:#00e5ff 1.0px,#00e6ff,#08f9f7,#42ffbc,#5dffa1,#5effa0 11.0px,#58ffa7 22.9px,#33ffcc 28.9px,#16ffea 30.9px,#04fdfc 34.9px,#00dfff 40.9px,#006eff 44.9px,#005eff 46.9px,#000bfd 50.9px,#0000ea 54.9px,#0000d5,#0000d2 58.9px,#0000d0 116.7px,#0000b6 122.7px,#0000b4 126.7px,#0000b5 162.6px,#0000ca 168.6px,#0000e5 172.6px,#0000e9 180.6px,#000ff7 186.5px,#002dff 190.5px,#002eff 192.5px,#0013ff 196.5px,#0013ff 198.5px,#003cff 206.5px,#0056ff 208.5px,#0071ff 212.5px,#0092ff,#00a0ff 216.5px,#00a3ff 228.4px,#00baff,#0aeaf5,#16f6e9 234.4px,#16f6e8 242.4px"></i>
<i style="--g:#00fcff 1.0px,#01fcfe,#1cffe3,#64ff9a,#81ff7d,#83ff7b 11.0px,#7aff84 26.9px,#66ff98,#37ffc8,#23ffdc 32.9px,#12feed 40.9px,#00deff,#00acff,#009cff 46.9px,#003eff 50.9px,#0013fd 56.9px,#0007f6 64.8px,#0006f6 116.7px,#0004f4 118.7px,#0000c8 122.7px,#0000c2 124.7px,#0000c2 162.6px,#0000d0 178.6px,#0000c2 184.5px,#0000c4 186.5px,#0000f6 190.5px,#0001fa 204.5px,#000afe,#0027ff 208.5px,#0041ff 214.5px,#0046ff 228.4px,#005cff,#008fff,#00a4ff 234.4px,#00a6ff 242.4px"></i>
<i style="--g:#04fffa 1.0px,#06fff9,#29ffd5,#80ff7f,#a3ff5c 9.0px,#a5ff5a 20.9px,#a3ff5c 26.9px,#93ff6c,#6bff93,#5bffa3 32.9px,#51ffad 40.9px,#23ffdc,#03f0fc,#00e3ff 46.9px,#0080ff 50.9px,#0076ff 58.9px,#004fff 62.8px,#004cff 116.7px,#0046ff 118.7px,#000cf9 122.7px,#0008f5 124.7px,#0007f6 178.6px,#0004f4 180.6px,#0000bc 184.5px,#0000bc 186.5px,#0000f4 190.5px,#0000fa 204.5px,#0005fe 206.5px,#0026ff 210.5px,#0028ff 228.4px,#0038ff,#005cff,#006cff 234.4px,#006dff 242.4px"></i>
<i style="--g:#05fffa 1.0px,#08fff8,#31ffcd,#96ff68,#c0ff3e 9.0px,#c4ff3a 24.9px,#bbff44 28.9px,#9cff62 32.9px,#95ff69 40.9px,#3cffc2 44.9px,#2cffd2,#07f2f8,#00c6ff,#00c2ff 52.9px,#09eaf6 56.9px,#08eaf6 58.9px,#00acff 62.8px,#00a6ff 64.8px,#00a6ff 116.7px,#00a0ff 118.7px,#0054ff 122.7px,#004aff 124.7px,#0045ff 178.6px,#003dff,#000efa,#0000d4,#0000d0 186.5px,#000aff 190.5px,#0011ff 204.5px,#0028ff 210.5px,#0029ff 228.4px,#004cff 234.4px,#004cff 242.4px"></i>
<i style="--g:#05fffa 1.0px,#08fff7,#34ffca,#a1ff5d,#ceff31 9.0px,#dbff24 15.0px,#dbff24 26.9px,#c8ff36 40.9px,#79ff85 44.9px,#6bff93 46.9px,#10fdee 50.9px,#0ffcf0 52.9px,#5affa4 56.9px,#59ffa5 58.9px,#0df8f1 62.8px,#0af4f5 64.8px,#0af4f6 116.7px,#06f1f8 118.7px,#00aaff 122.7px,#009fff 124.7px,#009dff 150.6px,#0088ff 166.6px,#0087ff 178.6px,#007cff 180.6px,#0007f8 184.5px,#0004f5 186.5px,#0030ff 190.5px,#0034ff 192.5px,#0048ff 210.5px,#0052ff 242.4px"></i>
<i style="--g:#05fffa 1.0px,#08fff7,#30ffce,#96ff68,#c0ff3f 9.0px,#e3ff1b 15.0px,#e4ff1a 26.9px,#deff21 40.9px,#a3ff5c 44.9px,#98ff66 46.9px,#53ffac 50.9px,#53ffac 52.9px,#96ff68 56.9px,#96ff68 58.9px,#52ffad 62.8px,#4cffb2 64.8px,#4cffb2 116.7px,#46ffb8 118.7px,#12f8ed 122.7px,#0cf2f2 150.6px,#00e2ff 154.6px,#00dcff 162.6px,#00b9ff 166.6px,#00aeff 180.6px,#0047ff 184.5px,#0042ff 186.5px,#006aff 190.5px,#0070ff 198.5px,#0093ff 202.5px,#0098ff 242.4px"></i>
<i style="--g:#05fffa 1.0px,#07fff8,#2affd5,#7fff80,#a3ff5c,#b2ff4c,#d5ff2a,#e2ff1c 15.0px,#e4ff1a 34.9px,#e1ff1d 40.9px,#c1ff3e 44.9px,#bcff43 46.9px,#94ff6a 50.9px,#94ff6a 52.9px,#bcff43 56.9px,#bcff43 58.9px,#94ff6a 62.8px,#91ff6d 64.8px,#91ff6d 116.7px,#8eff70 118.7px,#6cff92 122.7px,#67ff97 124.7px,#62ff9c 150.6px,#2cffd2 154.6px,#22ffdd 162.6px,#07faf8,#00e0ff 166.6px,#00d6ff 180.6px,#009bff 184.5px,#0098ff 186.5px,#00afff 190.5px,#00b8ff 198.5px,#0af0f5 202.5px,#0ef2f1 242.4px"></i>
<i style="--g:#05fffa 1.0px,#06fff8,#22ffdc,#65ff99 7.0px,#95ff69 11.0px,#c1ff3e,#d2ff2c 15.0px,#ddff22 32.9px,#dcff23 40.9px,#c3ff3c 50.9px,#d0ff2f 58.9px,#c1ff3e 64.8px,#c1ff3e 116.7px,#aaff54 124.7px,#aaff54 148.6px,#a4ff5a 150.6px,#5effa0 154.6px,#51ffad 162.6px,#02fbfd 166.6px,#00f6ff 168.6px,#00f5ff 180.6px,#00e0ff 186.5px,#04f5fa 198.5px,#55ffaa 202.5px,#5cffa2 204.5px,#64ff9a 242.4px"></i>
<i style="--g:#05fffa 1.0px,#06fff9,#1affe6,#49ffb6 7.0px,#6eff90 11.0px,#94ff6a,#a3ff5b 15.0px,#a5ff5a 26.9px,#c8ff38 32.9px,#c4ff3b 116.7px,#9eff60 124.7px,#9eff60 148.6px,#99ff65 150.6px,#5dffa2 154.6px,#51ffad 162.6px,#09fff6 166.6px,#02fefe 184.5px,#04fffc 192.5px,#2dffd2 198.5px,#8eff70 202.5px,#96ff68 204.5px,#97ff67 228.4px,#b4ff4a 234.4px,#b4ff4a 242.4px"></i>
<i style="--g:#04fffb 1.0px,#10ffef 5.0px,#2bffd4 7.0px,#60ff9e 15.0px,#62ff9c 26.9px,#71ff8d,#97ff67,#a7ff58 32.9px,#a9ff55 114.7px,#a4ff5b 118.7px,#68ff96 122.7px,#61ff9d 124.7px,#5dffa1 150.6px,#39ffc6 154.6px,#33ffcc 162.6px,#07fff8 166.6px,#04fffb 190.5px,#09fff6 192.5px,#46ffb9 196.5px,#52ffac 198.5px,#b0ff4e 202.5px,#baff45 228.4px,#f2fe0c 234.4px,#f2fe0c 242.4px"></i>
<i style="--g:#00f7ff 1.0px,#1affe5 15.0px,#1cffe4 26.9px,#30ffce,#64ff9a,#7aff85 32.9px,#7bff83 58.9px,#88ff76 64.8px,#87ff77 116.7px,#7fff7f 118.7px,#24ffdc 122.7px,#18ffe8 124.7px,#15ffea 150.6px,#00f4ff 166.6px,#00f7ff 190.5px,#02fcfd 192.5px,#51ffad 196.5px,#5fff9f 198.5px,#b4ff4a 202.5px,#bcff42 228.4px,#ceff30,#f8fd08,#fff300 234.4px,#fff200 242.4px"></i>
<i style="--g:#00ccff 1.0px,#00d4ff 26.9px,#02e5fe,#1afde5,#2bffd4 32.9px,#2cffd2 56.9px,#30ffce 58.9px,#5fff9f 62.8px,#64ff9a 66.8px,#63ff9b 116.7px,#58ffa7,#18f9e6,#00d3ff,#00c2ff,#00c0ff 126.7px,#00baff 168.6px,#00bcff 180.6px,#00cbff 184.5px,#00d3ff 192.5px,#06f2f8,#20ffdf,#2cffd3 198.5px,#6eff90 202.5px,#74ff8a 228.4px,#85ff7a,#adff52,#bdff42 234.4px,#beff40 242.4px"></i>
<i style="--g:#008bff 1.0px,#008cff 26.9px,#00c3ff 32.9px,#00c4ff 56.9px,#00ccff,#0af5f5,#34ffca 62.8px,#3dffc2 66.8px,#3dffc2 114.7px,#3cffc2,#2dffd1,#00d0ff,#007eff,#0068ff 124.7px,#0064ff 178.6px,#0067ff 180.6px,#0089ff 184.5px,#008fff 192.5px,#00c0ff 196.5px,#09e6f6 202.5px,#0be8f3 228.4px,#26fbd9 234.4px,#26fcd8 242.4px"></i>
<i style="--g:#004eff 1.0px,#004aff 24.9px,#0061ff 32.9px,#0062ff 56.9px,#006eff 58.9px,#08f9f6 62.8px,#0efff0 64.8px,#0efff0 116.7px,#06f6f9 118.7px,#0032ff 122.7px,#0018ff,#0014ff 126.7px,#0014ff 178.6px,#0018ff 180.6px,#0046ff 184.5px,#004cff 192.5px,#0073ff 202.5px,#0075ff 228.4px,#0088ff 234.4px,#0088ff 242.4px"></i>
<i style="--g:#002cff 1.0px,#001dff 9.0px,#0022ff 56.9px,#002eff 58.9px,#00beff 62.8px,#00caff 64.8px,#00caff 114.7px,#00caff,#00baff 118.7px,#0004fc 122.7px,#0000e9 124.7px,#0000ea 180.6px,#0006fc,#0019ff,#001dff 186.5px,#0029ff 242.4px"></i>
<i style="--g:#0025ff 1.0px,#001cff 5.0px,#0004fe 9.0px,#0004fe 56.9px,#000aff 58.9px,#006bff 62.8px,#0073ff 64.8px,#0073ff 116.7px,#0068ff,#0028ff,#0000ee 122.7px,#0000dc 126.7px,#0000dc 176.6px,#0000df 180.6px,#0002fc 184.5px,#0004fe 242.4px"></i>
<i style="--g:#002bff 1.0px,#002aff,#001fff,#0004fd,#0000f6 9.0px,#0000f9 58.9px,#0024ff 62.8px,#0028ff 64.8px,#0028ff 116.7px,#0024ff,#0008fe,#0000ec 122.7px,#0000e4 126.7px,#0000e4 178.6px,#0000f6 186.5px,#0000f6 242.4px"></i>
<i style="--g:#004aff 1.0px,#004aff,#003eff,#0020ff 7.0px,#0014ff 11.0px,#0014ff 56.9px,#001eff 64.8px,#001eff 116.7px,#0010ff 126.7px,#0014ff 242.4px"></i>
<i style="--g:#0087ff 1.0px,#0087ff 3.0px,#0068ff 7.0px,#0060ff 11.0px,#0060ff 242.4px"></i>
<i style="--g:#00cbff 1.0px,#00b8ff 11.0px,#00baff 242.4px"></i>
<i style="--g:#0afcf5 1.0px,#12feec 242.4px"></i>
<i style="--g:#34ffcb 1.0px,#34ffcb 116.7px,#5cffa2 124.7px,#5cffa2 242.4px"></i>
<i style="--g:#5affa5 1.0px,#5affa4 116.7px,#5effa0 118.7px,#98ff66 122.7px,#a0ff5e 126.7px,#a0ff5e 242.4px"></i>
<i style="--g:#74ff8a 1.0px,#74ff8a 116.7px,#7bff83 118.7px,#c6ff38 122.7px,#d0ff2f 124.7px,#d1ff2e 242.4px"></i>
<i style="--g:#7eff80 1.0px,#7eff80 116.7px,#85ff79 118.7px,#d7ff28 122.7px,#e2ff1c 126.7px,#e2ff1c 242.4px"></i>
</div></div>
<svg width="685" height="590" viewBox="0 0 685 590"><defs><clipPath id="cpC"><rect x="389.4" y="343.6" width="243.39999999999998" height="202.29999999999995"/></clipPath></defs><g clip-path="url(#cpC)"><path d="M389.4,545.9 L389.4,343.6 L390.6,345.5 L391.8,364.9 L393.1,391.4 L394.3,416.7 L395.5,421.6 L396.7,426.4 L398.0,431.2 L399.2,435.3 L400.4,439.4 L401.6,443.4 L402.9,447.5 L404.1,452.4 L405.3,457.3 L406.5,462.3 L407.7,466.7 L409.0,470.5 L410.2,474.3 L411.4,478.0 L412.6,480.0 L413.9,482.0 L415.1,483.9 L416.3,485.4 L417.5,486.7 L418.8,488.1 L420.0,489.5 L421.2,490.9 L422.4,492.3 L423.6,493.6 L424.9,495.0 L426.1,496.4 L427.3,497.8 L428.5,499.2 L429.8,500.4 L431.0,501.5 L432.2,502.6 L433.4,503.7 L434.7,504.8 L435.9,505.9 L437.1,507.0 L438.3,508.1 L439.5,509.2 L440.8,510.3 L442.0,511.4 L443.2,512.5 L444.4,513.7 L445.7,514.8 L446.9,515.8 L448.1,516.6 L449.3,517.4 L450.6,518.2 L451.8,519.0 L453.0,519.8 L454.2,520.5 L455.4,521.3 L456.7,522.1 L457.9,522.9 L459.1,523.7 L460.3,524.5 L461.6,525.3 L462.8,526.1 L464.0,526.9 L465.2,527.7 L466.5,528.5 L467.7,529.3 L468.9,530.1 L470.1,530.9 L471.3,531.7 L472.6,532.4 L473.8,533.2 L475.0,534.0 L476.2,534.8 L477.5,535.5 L478.7,536.3 L479.9,537.0 L481.1,537.7 L482.4,538.4 L483.6,539.1 L484.8,539.8 L486.0,540.5 L487.2,541.2 L488.5,542.0 L489.7,542.7 L490.9,543.4 L492.1,544.1 L493.4,544.8 L494.6,545.5 L495.8,545.9 L497.0,545.9 L498.3,545.9 L499.5,545.9 L500.7,545.9 L501.9,545.9 L503.1,545.9 L504.4,545.9 L505.6,545.9 L506.8,545.9 L508.0,545.9 L509.3,545.9 L510.5,545.9 L511.7,545.9 L512.9,545.9 L514.2,545.9 L515.4,545.9 L516.6,545.9 L517.8,545.9 L519.1,545.9 L520.3,545.9 L521.5,545.9 L522.7,545.9 L523.9,545.9 L525.2,545.9 L526.4,545.9 L527.6,545.9 L528.8,545.9 L530.1,545.7 L531.3,544.9 L532.5,544.1 L533.7,543.4 L535.0,542.6 L536.2,541.8 L537.4,541.0 L538.6,540.2 L539.8,539.4 L541.1,538.7 L542.3,537.9 L543.5,537.1 L544.7,536.3 L546.0,535.5 L547.2,534.8 L548.4,534.1 L549.6,533.4 L550.9,532.8 L552.1,532.1 L553.3,531.4 L554.5,530.7 L555.7,530.0 L557.0,529.3 L558.2,528.6 L559.4,527.9 L560.6,527.2 L561.9,526.5 L563.1,525.8 L564.3,525.2 L565.5,524.5 L566.8,523.8 L568.0,523.1 L569.2,522.4 L570.4,521.7 L571.6,521.0 L572.9,520.1 L574.1,519.0 L575.3,517.9 L576.5,516.9 L577.8,515.8 L579.0,514.8 L580.2,513.7 L581.4,512.7 L582.7,511.6 L583.9,510.6 L585.1,509.3 L586.3,507.9 L587.5,506.5 L588.8,505.2 L590.0,503.8 L591.2,502.4 L592.4,501.1 L593.7,499.7 L594.9,498.3 L596.1,496.9 L597.3,495.6 L598.6,494.1 L599.8,492.4 L601.0,490.7 L602.2,489.0 L603.4,487.2 L604.7,485.5 L605.9,483.8 L607.1,482.0 L608.3,479.9 L609.6,477.7 L610.8,475.6 L612.0,473.4 L613.2,471.3 L614.5,469.1 L615.7,466.5 L616.9,463.7 L618.1,460.9 L619.3,458.1 L620.6,455.3 L621.8,452.5 L623.0,449.7 L624.2,446.9 L625.5,444.1 L626.7,433.9 L627.9,423.5 L629.1,413.1 L630.4,402.7 L631.6,384.5 L632.8,360.0 L632.8,545.9Z" fill="#fff" fill-opacity="0.46"/><path d="M389.4,343.6 L390.6,345.5 L391.8,364.9 L393.1,391.4 L394.3,416.7 L395.5,421.6 L396.7,426.4 L398.0,431.2 L399.2,435.3 L400.4,439.4 L401.6,443.4 L402.9,447.5 L404.1,452.4 L405.3,457.3 L406.5,462.3 L407.7,466.7 L409.0,470.5 L410.2,474.3 L411.4,478.0 L412.6,480.0 L413.9,482.0 L415.1,483.9 L416.3,485.4 L417.5,486.7 L418.8,488.1 L420.0,489.5 L421.2,490.9 L422.4,492.3 L423.6,493.6 L424.9,495.0 L426.1,496.4 L427.3,497.8 L428.5,499.2 L429.8,500.4 L431.0,501.5 L432.2,502.6 L433.4,503.7 L434.7,504.8 L435.9,505.9 L437.1,507.0 L438.3,508.1 L439.5,509.2 L440.8,510.3 L442.0,511.4 L443.2,512.5 L444.4,513.7 L445.7,514.8 L446.9,515.8 L448.1,516.6 L449.3,517.4 L450.6,518.2 L451.8,519.0 L453.0,519.8 L454.2,520.5 L455.4,521.3 L456.7,522.1 L457.9,522.9 L459.1,523.7 L460.3,524.5 L461.6,525.3 L462.8,526.1 L464.0,526.9 L465.2,527.7 L466.5,528.5 L467.7,529.3 L468.9,530.1 L470.1,530.9 L471.3,531.7 L472.6,532.4 L473.8,533.2 L475.0,534.0 L476.2,534.8 L477.5,535.5 L478.7,536.3 L479.9,537.0 L481.1,537.7 L482.4,538.4 L483.6,539.1 L484.8,539.8 L486.0,540.5 L487.2,541.2 L488.5,542.0 L489.7,542.7 L490.9,543.4 L492.1,544.1 L493.4,544.8 L494.6,545.5 L495.8,545.9 L497.0,545.9 L498.3,545.9 L499.5,545.9 L500.7,545.9 L501.9,545.9 L503.1,545.9 L504.4,545.9 L505.6,545.9 L506.8,545.9 L508.0,545.9 L509.3,545.9 L510.5,545.9 L511.7,545.9 L512.9,545.9 L514.2,545.9 L515.4,545.9 L516.6,545.9 L517.8,545.9 L519.1,545.9 L520.3,545.9 L521.5,545.9 L522.7,545.9 L523.9,545.9 L525.2,545.9 L526.4,545.9 L527.6,545.9 L528.8,545.9 L530.1,545.7 L531.3,544.9 L532.5,544.1 L533.7,543.4 L535.0,542.6 L536.2,541.8 L537.4,541.0 L538.6,540.2 L539.8,539.4 L541.1,538.7 L542.3,537.9 L543.5,537.1 L544.7,536.3 L546.0,535.5 L547.2,534.8 L548.4,534.1 L549.6,533.4 L550.9,532.8 L552.1,532.1 L553.3,531.4 L554.5,530.7 L555.7,530.0 L557.0,529.3 L558.2,528.6 L559.4,527.9 L560.6,527.2 L561.9,526.5 L563.1,525.8 L564.3,525.2 L565.5,524.5 L566.8,523.8 L568.0,523.1 L569.2,522.4 L570.4,521.7 L571.6,521.0 L572.9,520.1 L574.1,519.0 L575.3,517.9 L576.5,516.9 L577.8,515.8 L579.0,514.8 L580.2,513.7 L581.4,512.7 L582.7,511.6 L583.9,510.6 L585.1,509.3 L586.3,507.9 L587.5,506.5 L588.8,505.2 L590.0,503.8 L591.2,502.4 L592.4,501.1 L593.7,499.7 L594.9,498.3 L596.1,496.9 L597.3,495.6 L598.6,494.1 L599.8,492.4 L601.0,490.7 L602.2,489.0 L603.4,487.2 L604.7,485.5 L605.9,483.8 L607.1,482.0 L608.3,479.9 L609.6,477.7 L610.8,475.6 L612.0,473.4 L613.2,471.3 L614.5,469.1 L615.7,466.5 L616.9,463.7 L618.1,460.9 L619.3,458.1 L620.6,455.3 L621.8,452.5 L623.0,449.7 L624.2,446.9 L625.5,444.1 L626.7,433.9 L627.9,423.5 L629.1,413.1 L630.4,402.7 L631.6,384.5 L632.8,360.0" fill="none" stroke="#fff" stroke-opacity="0.55" stroke-width="0.7"/><use href="#ar1" x="404.6" y="353.1"/><use href="#ar1" x="404.6" y="359.4"/><use href="#ar1" x="514.1" y="359.4"/><use href="#ar2" x="587.2" y="359.4"/><use href="#ar2" x="404.6" y="365.7"/><use href="#ar1" x="514.1" y="365.7"/><use href="#ar0" x="587.2" y="365.7"/><use href="#ar3" x="593.2" y="365.7"/><use href="#ar1" x="404.6" y="372.0"/><use href="#ar1" x="514.1" y="372.0"/><use href="#ar3" x="587.2" y="372.0"/><use href="#ar2" x="593.2" y="372.0"/><use href="#ar0" x="404.6" y="378.4"/><use href="#ar1" x="514.1" y="378.4"/><use href="#ar3" x="587.2" y="378.4"/><use href="#ar3" x="593.2" y="378.4"/><use href="#ar0" x="422.9" y="384.7"/><use href="#ar3" x="587.2" y="384.7"/><use href="#ar1" x="593.2" y="384.7"/><use href="#ar0" x="422.9" y="391.0"/><use href="#ar2" x="514.1" y="391.0"/><use href="#ar2" x="587.2" y="391.0"/><use href="#ar3" x="593.2" y="391.0"/><use href="#ar2" x="422.9" y="397.3"/><use href="#ar1" x="514.1" y="397.3"/><use href="#ar2" x="520.2" y="397.3"/><use href="#ar1" x="587.2" y="397.3"/><use href="#ar2" x="593.2" y="397.3"/><use href="#ar3" x="422.9" y="403.7"/><use href="#ar3" x="471.5" y="403.7"/><use href="#ar3" x="514.1" y="403.7"/><use href="#ar3" x="520.2" y="403.7"/><use href="#ar1" x="587.2" y="403.7"/><use href="#ar2" x="593.2" y="403.7"/><use href="#ar3" x="471.5" y="410.0"/><use href="#ar3" x="477.6" y="410.0"/><use href="#ar3" x="514.1" y="410.0"/><use href="#ar1" x="520.2" y="410.0"/><use href="#ar0" x="587.2" y="410.0"/><use href="#ar3" x="593.2" y="410.0"/><use href="#ar3" x="611.5" y="410.0"/><use href="#ar3" x="617.6" y="410.0"/><use href="#ar0" x="477.6" y="416.3"/><use href="#ar2" x="514.1" y="416.3"/><use href="#ar2" x="520.2" y="416.3"/><use href="#ar3" x="593.2" y="416.3"/><use href="#ar3" x="611.5" y="416.3"/><use href="#ar0" x="617.6" y="416.3"/><use href="#ar1" x="514.1" y="422.6"/><use href="#ar0" x="392.4" y="460.6"/><use href="#ar1" x="398.5" y="460.6"/><use href="#ar0" x="404.6" y="460.6"/><use href="#ar1" x="392.4" y="466.9"/><use href="#ar0" x="398.5" y="466.9"/><use href="#ar0" x="404.6" y="466.9"/><use href="#ar0" x="392.4" y="473.2"/><use href="#ar2" x="398.5" y="473.2"/><path d="M473.0,382.5l-1,-0.3 -1,-1.4 -0.7,-3.7 0.5,-11 1.5,-12 0.7,-3.4 1,-0.8 1,0.2 0.3,1 2.2,13 2.9,5 0.4,5 -0.8,5.1 -7,3.3M593.2,418.4l-3,0.1 -3.6,-1.3 -1.1,-2 -0.4,-4 0.4,-14 -0.6,-13 1.3,-19.9 1,-3.2 2,4.9 1,-0.9 2,-6.6 1.2,16.6 2,15.1 -0.6,24 -0.6,3 -1,1.2M515.1,434.3l-2,0.4 -5,-3.8 -1,-1.7 -0.5,-5 0.6,-5 3.6,-5 1,-3 0.8,-17 3.1,-19.1 0.7,-12 0.7,-2.9 1,0.9 1,3 0.9,14.1 -0.8,9 2.5,9 -0.1,22 -0.3,6 -0.8,3 -5.4,7.1M420.0,411.4l-2.1,0.4 -1.8,-0.6 -0.9,-4 0.9,-7 3.2,-4 1.1,-3 0,-5 -1.6,-11.1 2.2,-14.4 0.7,4.4 2.1,29.1 0.1,10 -0.9,3.8 -3,1.4M457.0,383.2l-1,0 -0.6,-1 -0.7,-5.1 1.3,-12.8 1,-0.3 1.8,11.1 -0.6,5.1 -1.2,3M433.0,372.5l-0.1,-4.4 1.1,-2.2 0.2,4.2 -1.2,2.4M601.2,376.8l0,-1.7 0,1.7M544.2,398.7l0,-4.8 1,2.3 0,1 -1,1.5M574.2,408.4l-1,-0.1 -1,-1.1 -1,-6 0.5,-4 2.5,-3.3 1,0.5 0.6,7.8 -0.6,5 -1,1.2M478.0,419.5l-2,0.4 -6,-1.9 -1.6,-1.8 -1.7,-4 -0.2,-3 2.5,-10.8 1,-2.3 2,-1.6 3,3.7 5,4 2.4,6 0.2,2 -0.6,3 -2,4 -2,2.3M612.3,441.4l-3,-0.6 -1,-1.3 -0.1,-1.3 3.6,-11 0.1,-4 -1.4,-7 -0.1,-7 0.9,-8.3 1,-1.8 1,-0.3 4,1.5 2,1.9 4.2,7 0.8,4 -0.4,2 -2.9,4 -1.4,3 1.5,8 -0.6,5 -2.2,3 -6,3.2M471.0,433.5l-2,0.4 -2.7,-0.7 -0.6,-1 0.3,-2 2,-0.7 3,0.6 0.6,2.1 -0.6,1.3M389.9,435.0l13,2.3 1.8,0.9 1.9,6 1.3,1.5 3,1.7 1.5,1.9 1.2,5 -1.7,10.6 -5.1,8.4 -1.9,1.2 -5,1.1 -10,0.2M389.9,456.6l4,-0.4 6,-2.2 2.6,-2.7 1.8,-5 -0.7,-3.1 -0.8,-1 -2.9,-1.8 -2,0.1 -4.6,1.7 -3.4,0.3" fill="none" stroke="#000" stroke-width="0.8" stroke-opacity="0.85"/></g></svg>
<div class="cb" style="left:636.6px;top:353.2px;width:7.3px;height:182.3px;background:linear-gradient(180deg,#7f0000,#990000,#b20000,#cc0000,#e50000,#ff0000,#ff1900,#ff3300,#ff4c00,#ff6600,#ff7f00,#ff9900,#ffb200,#ffcc00,#ffe500,#ffff00,#e5ff19,#ccff33,#b2ff4c,#99ff66,#7fff7f,#66ff99,#4cffb2,#33ffcc,#19ffe5,#00ffff,#00e5ff,#00ccff,#00b2ff,#0099ff,#007fff,#0066ff,#004cff,#0033ff,#0019ff,#0000ff,#0000e5,#0000cc,#0000b2,#000099,#00007f)"></div>
<div class="tk" style="left:644.7px;top:387.9px;width:2.5px;height:1px"></div>
<div class="cbl" style="left:651.9px;top:383.8px">0.8</div>
<div class="tk" style="left:644.7px;top:424.4px;width:2.5px;height:1px"></div>
<div class="cbl" style="left:651.9px;top:420.3px">0.6</div>
<div class="tk" style="left:644.7px;top:460.9px;width:2.5px;height:1px"></div>
<div class="cbl" style="left:651.9px;top:456.8px">0.4</div>
<div class="tk" style="left:644.7px;top:497.4px;width:2.5px;height:1px"></div>
<div class="cbl" style="left:651.9px;top:493.3px">0.2</div>
<div class="tk" style="left:644.7px;top:533.9px;width:2.5px;height:1px"></div>
<div class="cbl" style="left:651.9px;top:529.8px">0.0</div>
<div class="tk" style="left:386.4px;top:370.0px;width:3px;height:1px"></div>
<div class="yl" style="left:367.9px;top:365.5px">4</div>
<div class="tk" style="left:386.4px;top:398.1px;width:3px;height:1px"></div>
<div class="yl" style="left:367.9px;top:393.6px">8</div>
<div class="tk" style="left:386.4px;top:426.9px;width:3px;height:1px"></div>
<div class="yl" style="left:367.9px;top:422.4px">16</div>
<div class="tk" style="left:386.4px;top:455.9px;width:3px;height:1px"></div>
<div class="yl" style="left:367.9px;top:451.4px">32</div>
<div class="tk" style="left:386.4px;top:484.3px;width:3px;height:1px"></div>
<div class="yl" style="left:367.9px;top:479.8px">64</div>
<div class="tk" style="left:386.4px;top:512.8px;width:3px;height:1px"></div>
<div class="yl" style="left:367.9px;top:508.3px">128</div>
<div class="tk" style="left:386.4px;top:541.7px;width:3px;height:1px"></div>
<div class="yl" style="left:367.9px;top:537.2px">256</div>
<div class="tk" style="left:388.9px;top:545.9px;width:1px;height:3.5px"></div>
<div class="xl" style="left:374.4px;top:553.4px">2002</div>
<div class="tk" style="left:400.5px;top:545.9px;width:1px;height:3.5px"></div>
<div class="tk" style="left:412.1px;top:545.9px;width:1px;height:3.5px"></div>
<div class="xl" style="left:397.6px;top:553.4px">2004</div>
<div class="tk" style="left:423.7px;top:545.9px;width:1px;height:3.5px"></div>
<div class="tk" style="left:435.3px;top:545.9px;width:1px;height:3.5px"></div>
<div class="xl" style="left:420.8px;top:553.4px">2006</div>
<div class="tk" style="left:446.9px;top:545.9px;width:1px;height:3.5px"></div>
<div class="tk" style="left:458.5px;top:545.9px;width:1px;height:3.5px"></div>
<div class="xl" style="left:444.0px;top:553.4px">2008</div>
<div class="tk" style="left:470.1px;top:545.9px;width:1px;height:3.5px"></div>
<div class="tk" style="left:481.7px;top:545.9px;width:1px;height:3.5px"></div>
<div class="xl" style="left:467.2px;top:553.4px">2010</div>
<div class="tk" style="left:493.3px;top:545.9px;width:1px;height:3.5px"></div>
<div class="tk" style="left:504.9px;top:545.9px;width:1px;height:3.5px"></div>
<div class="xl" style="left:490.4px;top:553.4px">2012</div>
<div class="tk" style="left:516.5px;top:545.9px;width:1px;height:3.5px"></div>
<div class="tk" style="left:528.1px;top:545.9px;width:1px;height:3.5px"></div>
<div class="xl" style="left:513.6px;top:553.4px">2014</div>
<div class="tk" style="left:539.7px;top:545.9px;width:1px;height:3.5px"></div>
<div class="tk" style="left:551.3px;top:545.9px;width:1px;height:3.5px"></div>
<div class="xl" style="left:536.8px;top:553.4px">2016</div>
<div class="tk" style="left:562.9px;top:545.9px;width:1px;height:3.5px"></div>
<div class="tk" style="left:574.5px;top:545.9px;width:1px;height:3.5px"></div>
<div class="xl" style="left:560.0px;top:553.4px">2018</div>
<div class="tk" style="left:586.1px;top:545.9px;width:1px;height:3.5px"></div>
<div class="tk" style="left:597.7px;top:545.9px;width:1px;height:3.5px"></div>
<div class="xl" style="left:583.2px;top:553.4px">2020</div>
<div class="tk" style="left:609.3px;top:545.9px;width:1px;height:3.5px"></div>
<div class="tk" style="left:620.9px;top:545.9px;width:1px;height:3.5px"></div>
<div class="xl" style="left:606.4px;top:553.4px">2022</div>
<div class="axl" style="left:491.1px;top:570.4px">Period</div>
<div class="yax" style="left:341.8px;top:439.8px">Scale</div>
</body></html>
